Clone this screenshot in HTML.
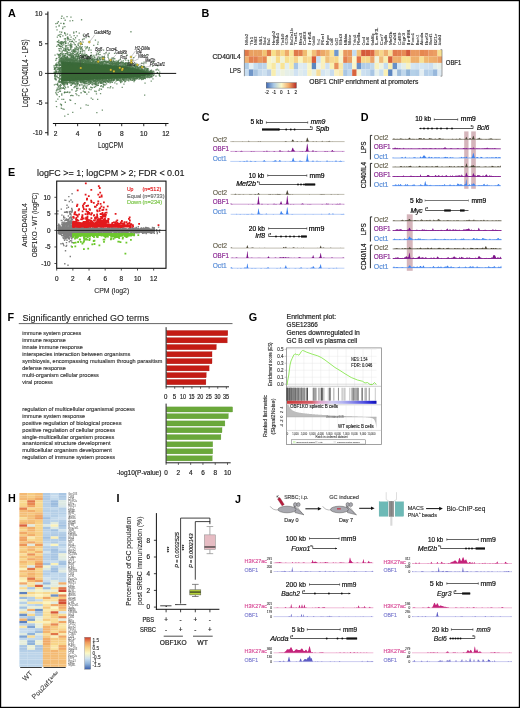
<!DOCTYPE html>
<html><head><meta charset="utf-8"><style>
html,body{margin:0;padding:0;background:#fff;}
body{width:520px;height:708px;overflow:hidden;}
svg{display:block;font-family:"Liberation Sans", sans-serif;will-change:transform;}
</style></head><body>
<svg width="520" height="708" viewBox="0 0 520 708">
<rect x="0" y="0" width="520" height="708" fill="#fff"/>
<text x="7.9" y="17.4" font-size="10.8" font-weight="bold">A</text><text x="201.5" y="17.2" font-size="10.8" font-weight="bold">B</text><text x="201.7" y="121" font-size="10.8" font-weight="bold">C</text><text x="360.8" y="121.1" font-size="10.8" font-weight="bold">D</text><text x="8.1" y="175.8" font-size="10.8" font-weight="bold">E</text><text x="7.5" y="321.3" font-size="10.8" font-weight="bold">F</text><text x="248.8" y="320.8" font-size="10.8" font-weight="bold">G</text><text x="8" y="502.2" font-size="10.8" font-weight="bold">H</text><text x="116.6" y="502.2" font-size="10.8" font-weight="bold">I</text><text x="235" y="502.7" font-size="10.8" font-weight="bold">J</text><path d="M61.1 61.4L62.4 61.5L63.7 61.6L65.0 61.7L66.3 61.8L67.7 61.9L69.0 62.0L70.3 62.1L71.6 62.2L72.9 62.3L74.2 62.4L75.5 62.5L76.8 62.6L78.1 62.7L79.4 62.8L80.8 62.9L82.1 63.0L83.4 63.1L84.7 63.2L86.0 63.3L87.3 63.4L88.6 63.5L89.9 63.6L91.2 63.7L92.5 63.8L93.9 63.9L95.2 64.0L96.5 64.1L97.8 64.2L99.1 64.3L100.4 64.4L101.7 64.5L103.0 64.6L104.3 64.7L105.6 64.8L106.9 64.9L108.3 65.0L109.6 65.1L110.9 65.2L112.2 65.3L113.5 65.4L114.8 65.5L116.1 65.6L117.4 65.7L118.7 65.8L120.0 65.9L121.4 66.0L122.7 66.1L124.0 66.2L125.3 66.3L126.6 66.6L127.9 66.9L129.2 67.2L130.5 67.4L131.8 67.7L133.1 68.0L134.4 68.3L135.8 68.6L137.1 68.9L138.4 69.2L139.7 69.7L141.0 70.1L142.3 70.6L143.6 71.0L144.9 71.4L146.2 71.8L147.5 72.2L148.9 72.5L150.2 72.9L151.5 73.4L151.5 73.4L150.2 74.5L148.9 74.9L147.5 75.3L146.2 75.6L144.9 76.0L143.6 76.2L142.3 76.5L141.0 76.8L139.7 77.1L138.4 77.3L137.1 77.4L135.8 77.5L134.4 77.5L133.1 77.6L131.8 77.7L130.5 77.7L129.2 77.8L127.9 77.9L126.6 77.9L125.3 78.0L124.0 78.0L122.7 78.1L121.4 78.2L120.0 78.2L118.7 78.3L117.4 78.4L116.1 78.4L114.8 78.5L113.5 78.6L112.2 78.7L110.9 78.7L109.6 78.8L108.3 78.9L106.9 78.9L105.6 79.0L104.3 79.1L103.0 79.1L101.7 79.2L100.4 79.3L99.1 79.4L97.8 79.4L96.5 79.5L95.2 79.6L93.9 79.6L92.5 79.7L91.2 79.8L89.9 79.8L88.6 79.9L87.3 80.0L86.0 80.1L84.7 80.1L83.4 80.2L82.1 80.3L80.8 80.3L79.4 80.4L78.1 80.5L76.8 80.5L75.5 80.6L74.2 80.7L72.9 80.7L71.6 80.8L70.3 80.9L69.0 81.0L67.7 81.0L66.3 81.1L65.0 81.2L63.7 81.2L62.4 81.3L61.1 81.4Z" fill="#3a6937"/><path d="M1458 757h13v13h-13zM1177 643h13v13h-13zM1094 822h13v13h-13zM887 838h13v13h-13zM582 538h13v13h-13zM641 550h13v13h-13zM732 591h13v13h-13zM768 632h13v13h-13zM1076 614h13v13h-13zM803 595h13v13h-13zM963 785h13v13h-13zM1329 687h13v13h-13zM1134 651h13v13h-13zM589 600h13v13h-13zM1349 778h13v13h-13zM646 812h13v13h-13zM765 838h13v13h-13zM1077 789h13v13h-13zM1259 622h13v13h-13zM893 586h13v13h-13zM723 591h13v13h-13zM837 821h13v13h-13zM798 549h13v13h-13zM606 412h13v13h-13zM953 610h13v13h-13zM948 802h13v13h-13zM1263 769h13v13h-13zM619 578h13v13h-13zM1079 796h13v13h-13zM659 593h13v13h-13zM978 647h13v13h-13zM1136 657h13v13h-13zM712 588h13v13h-13zM848 595h13v13h-13zM649 634h13v13h-13zM899 824h13v13h-13zM668 593h13v13h-13zM1097 777h13v13h-13zM992 795h13v13h-13zM1157 641h13v13h-13zM646 791h13v13h-13zM924 625h13v13h-13zM1100 860h13v13h-13zM1159 626h13v13h-13zM876 576h13v13h-13zM703 603h13v13h-13zM1048 610h13v13h-13zM797 799h13v13h-13zM618 560h13v13h-13zM608 581h13v13h-13zM599 645h13v13h-13zM1026 608h13v13h-13zM997 634h13v13h-13zM946 799h13v13h-13zM745 496h13v13h-13zM1408 651h13v13h-13zM1351 758h13v13h-13zM1337 796h13v13h-13zM999 929h13v13h-13zM1001 856h13v13h-13zM587 650h13v13h-13zM611 945h13v13h-13zM1232 657h13v13h-13zM1354 734h13v13h-13zM650 621h13v13h-13zM814 591h13v13h-13zM1064 795h13v13h-13zM963 587h13v13h-13zM1196 658h13v13h-13zM1166 631h13v13h-13zM1343 787h13v13h-13zM810 626h13v13h-13zM831 770h13v13h-13zM1332 669h13v13h-13zM626 601h13v13h-13zM691 791h13v13h-13zM1441 698h13v13h-13zM1024 603h13v13h-13zM1285 775h13v13h-13zM1017 628h13v13h-13zM1222 759h13v13h-13zM1203 670h13v13h-13zM1008 851h13v13h-13zM1260 667h13v13h-13zM1091 623h13v13h-13zM1244 642h13v13h-13zM1396 772h13v13h-13zM1147 627h13v13h-13zM584 699h13v13h-13zM585 669h13v13h-13zM1448 780h13v13h-13zM729 491h13v13h-13zM685 543h13v13h-13zM1323 595h13v13h-13zM640 572h13v13h-13zM894 647h13v13h-13zM631 606h13v13h-13zM597 422h13v13h-13zM1137 772h13v13h-13zM1091 617h13v13h-13zM614 821h13v13h-13zM808 576h13v13h-13zM1442 706h13v13h-13zM1277 660h13v13h-13zM1085 629h13v13h-13zM792 595h13v13h-13zM577 687h13v13h-13zM763 587h13v13h-13zM1062 807h13v13h-13zM768 827h13v13h-13zM1417 739h13v13h-13zM1442 714h13v13h-13zM1381 694h13v13h-13zM941 569h13v13h-13zM1006 768h13v13h-13zM991 790h13v13h-13zM795 473h13v13h-13zM1050 797h13v13h-13zM1204 647h13v13h-13zM1296 779h13v13h-13zM1553 755h13v13h-13zM1144 624h13v13h-13zM1130 575h13v13h-13zM1340 683h13v13h-13zM666 608h13v13h-13zM715 495h13v13h-13zM1070 771h13v13h-13zM973 801h13v13h-13zM972 601h13v13h-13zM1484 743h13v13h-13zM913 838h13v13h-13zM821 559h13v13h-13zM905 642h13v13h-13zM944 611h13v13h-13zM801 803h13v13h-13zM641 914h13v13h-13zM693 598h13v13h-13zM1091 800h13v13h-13zM782 950h13v13h-13zM1169 783h13v13h-13zM1115 625h13v13h-13zM678 595h13v13h-13zM775 805h13v13h-13zM607 1076h13v13h-13zM1384 684h13v13h-13zM738 626h13v13h-13zM667 593h13v13h-13zM995 539h13v13h-13zM1435 726h13v13h-13zM649 423h13v13h-13zM1435 706h13v13h-13zM650 379h13v13h-13zM594 722h13v13h-13zM552 921h13v13h-13zM635 499h13v13h-13zM716 832h13v13h-13zM1019 571h13v13h-13zM1470 769h13v13h-13zM566 763h13v13h-13zM822 625h13v13h-13zM962 638h13v13h-13zM1501 701h13v13h-13zM765 565h13v13h-13zM1369 768h13v13h-13zM824 811h13v13h-13zM1515 759h13v13h-13zM796 525h13v13h-13zM665 507h13v13h-13zM1202 640h13v13h-13zM1048 796h13v13h-13zM1382 673h13v13h-13zM739 797h13v13h-13zM1110 790h13v13h-13zM725 822h13v13h-13zM1132 782h13v13h-13zM766 576h13v13h-13zM787 786h13v13h-13zM585 592h13v13h-13zM614 616h13v13h-13zM707 815h13v13h-13zM1435 659h13v13h-13zM624 265h13v13h-13zM598 363h13v13h-13zM1587 748h13v13h-13zM1332 682h13v13h-13zM950 625h13v13h-13zM621 620h13v13h-13zM588 421h13v13h-13zM1357 685h13v13h-13zM1057 771h13v13h-13zM1332 672h13v13h-13zM909 818h13v13h-13zM937 803h13v13h-13zM1455 709h13v13h-13zM689 614h13v13h-13zM560 625h13v13h-13zM1501 715h13v13h-13zM610 590h13v13h-13zM609 792h13v13h-13zM1402 696h13v13h-13zM1260 645h13v13h-13zM1492 718h13v13h-13zM1318 636h13v13h-13zM1012 827h13v13h-13zM853 865h13v13h-13zM594 701h13v13h-13zM813 798h13v13h-13zM721 822h13v13h-13zM1004 769h13v13h-13zM1304 660h13v13h-13zM581 397h13v13h-13zM1282 667h13v13h-13zM1154 780h13v13h-13zM870 557h13v13h-13zM618 613h13v13h-13zM1180 798h13v13h-13zM1338 752h13v13h-13zM647 429h13v13h-13zM869 783h13v13h-13zM981 795h13v13h-13zM645 589h13v13h-13zM958 618h13v13h-13zM933 625h13v13h-13zM660 774h13v13h-13zM710 597h13v13h-13zM1164 635h13v13h-13zM777 539h13v13h-13zM747 439h13v13h-13zM856 619h13v13h-13zM616 538h13v13h-13zM730 507h13v13h-13zM1308 676h13v13h-13zM587 728h13v13h-13zM1103 643h13v13h-13zM1358 772h13v13h-13zM1166 668h13v13h-13zM1204 811h13v13h-13zM715 601h13v13h-13zM1234 771h13v13h-13zM666 918h13v13h-13zM745 599h13v13h-13zM1278 646h13v13h-13zM698 525h13v13h-13zM712 465h13v13h-13zM1094 600h13v13h-13zM1019 584h13v13h-13zM925 808h13v13h-13zM1022 778h13v13h-13zM719 632h13v13h-13zM1416 699h13v13h-13zM726 794h13v13h-13zM1423 759h13v13h-13zM818 486h13v13h-13zM1499 740h13v13h-13zM665 483h13v13h-13zM896 599h13v13h-13zM1305 630h13v13h-13zM631 493h13v13h-13zM1316 684h13v13h-13zM972 583h13v13h-13zM685 586h13v13h-13zM613 988h13v13h-13zM946 611h13v13h-13zM1090 625h13v13h-13zM1107 781h13v13h-13zM1279 604h13v13h-13zM1377 676h13v13h-13zM655 602h13v13h-13zM1369 680h13v13h-13zM1434 614h13v13h-13zM693 802h13v13h-13zM855 619h13v13h-13zM700 778h13v13h-13zM772 829h13v13h-13zM1108 609h13v13h-13zM1313 634h13v13h-13zM1508 765h13v13h-13zM588 590h13v13h-13zM564 691h13v13h-13zM1279 668h13v13h-13zM1193 622h13v13h-13zM1431 633h13v13h-13zM1009 765h13v13h-13zM873 572h13v13h-13zM1177 637h13v13h-13zM1466 755h13v13h-13zM1298 656h13v13h-13zM607 575h13v13h-13zM1327 753h13v13h-13zM1021 646h13v13h-13zM1007 773h13v13h-13zM1072 810h13v13h-13zM1298 773h13v13h-13zM671 490h13v13h-13zM1390 675h13v13h-13zM887 564h13v13h-13zM817 797h13v13h-13zM653 578h13v13h-13zM1103 797h13v13h-13zM709 551h13v13h-13zM1460 701h13v13h-13zM857 811h13v13h-13zM1249 652h13v13h-13zM547 786h13v13h-13zM1317 665h13v13h-13zM913 631h13v13h-13zM824 803h13v13h-13zM727 630h13v13h-13zM1251 664h13v13h-13zM733 602h13v13h-13zM611 793h13v13h-13zM821 551h13v13h-13zM771 579h13v13h-13zM998 783h13v13h-13zM1160 795h13v13h-13zM633 840h13v13h-13zM655 577h13v13h-13zM1165 642h13v13h-13zM1234 761h13v13h-13zM814 844h13v13h-13zM754 597h13v13h-13zM1504 732h13v13h-13zM541 672h13v13h-13zM639 411h13v13h-13zM746 801h13v13h-13zM1035 611h13v13h-13zM1460 543h13v13h-13zM544 724h13v13h-13zM584 803h13v13h-13zM918 596h13v13h-13zM922 791h13v13h-13zM1294 652h13v13h-13zM933 606h13v13h-13zM1028 800h13v13h-13zM693 611h13v13h-13zM669 600h13v13h-13zM1088 598h13v13h-13zM728 604h13v13h-13zM798 600h13v13h-13zM797 592h13v13h-13zM1017 1095h13v13h-13zM1509 755h13v13h-13zM812 601h13v13h-13zM872 768h13v13h-13zM1433 709h13v13h-13zM847 813h13v13h-13zM753 788h13v13h-13zM884 791h13v13h-13zM617 570h13v13h-13zM699 544h13v13h-13zM1328 673h13v13h-13zM715 410h13v13h-13zM1287 678h13v13h-13zM673 608h13v13h-13zM1410 769h13v13h-13zM664 605h13v13h-13zM598 840h13v13h-13zM606 613h13v13h-13zM1199 659h13v13h-13zM647 504h13v13h-13zM767 520h13v13h-13zM952 613h13v13h-13zM702 450h13v13h-13zM1410 685h13v13h-13zM755 620h13v13h-13zM885 802h13v13h-13zM605 621h13v13h-13zM761 821h13v13h-13zM732 825h13v13h-13zM1453 730h13v13h-13zM891 808h13v13h-13zM1063 616h13v13h-13zM1001 823h13v13h-13zM648 611h13v13h-13zM1225 760h13v13h-13zM1177 645h13v13h-13zM1207 659h13v13h-13zM974 635h13v13h-13zM553 783h13v13h-13zM790 602h13v13h-13zM899 555h13v13h-13zM1458 728h13v13h-13zM1510 717h13v13h-13zM630 227h13v13h-13zM561 662h13v13h-13zM1123 663h13v13h-13zM835 598h13v13h-13zM867 580h13v13h-13zM673 863h13v13h-13zM1239 660h13v13h-13zM1490 769h13v13h-13zM772 579h13v13h-13zM1062 604h13v13h-13zM1074 610h13v13h-13zM669 832h13v13h-13zM1125 639h13v13h-13zM1519 723h13v13h-13zM1380 767h13v13h-13zM719 576h13v13h-13zM788 532h13v13h-13zM878 623h13v13h-13zM1019 605h13v13h-13zM1252 669h13v13h-13zM1033 845h13v13h-13zM832 610h13v13h-13zM1136 795h13v13h-13zM1101 656h13v13h-13zM1528 750h13v13h-13zM1303 661h13v13h-13zM797 604h13v13h-13zM590 694h13v13h-13zM915 635h13v13h-13zM658 619h13v13h-13zM1136 644h13v13h-13zM774 777h13v13h-13zM593 613h13v13h-13zM875 627h13v13h-13zM894 827h13v13h-13zM736 831h13v13h-13zM1415 701h13v13h-13zM710 592h13v13h-13zM836 881h13v13h-13zM1087 777h13v13h-13zM1202 671h13v13h-13zM1003 622h13v13h-13zM939 629h13v13h-13zM1190 627h13v13h-13zM591 598h13v13h-13zM1510 741h13v13h-13zM1258 661h13v13h-13zM617 581h13v13h-13zM657 502h13v13h-13zM1138 774h13v13h-13zM1074 802h13v13h-13zM1142 639h13v13h-13zM848 917h13v13h-13zM1000 632h13v13h-13zM1383 696h13v13h-13zM1339 640h13v13h-13zM1223 644h13v13h-13zM1240 762h13v13h-13zM1062 637h13v13h-13zM1282 664h13v13h-13zM1090 810h13v13h-13zM1058 605h13v13h-13zM953 630h13v13h-13zM1057 781h13v13h-13zM1470 683h13v13h-13zM1455 713h13v13h-13zM634 1088h13v13h-13zM614 595h13v13h-13zM630 822h13v13h-13zM825 626h13v13h-13zM723 529h13v13h-13zM1280 678h13v13h-13zM1003 624h13v13h-13zM911 617h13v13h-13zM723 830h13v13h-13zM1014 557h13v13h-13zM1330 689h13v13h-13zM579 420h13v13h-13zM763 879h13v13h-13zM1175 663h13v13h-13zM813 809h13v13h-13zM1126 640h13v13h-13zM783 594h13v13h-13zM1452 745h13v13h-13zM1197 652h13v13h-13zM1226 630h13v13h-13zM623 589h13v13h-13zM733 506h13v13h-13zM691 596h13v13h-13zM1353 754h13v13h-13zM719 585h13v13h-13zM1255 662h13v13h-13zM1110 629h13v13h-13zM1319 761h13v13h-13zM1299 787h13v13h-13zM586 778h13v13h-13zM978 801h13v13h-13zM1074 657h13v13h-13zM1284 663h13v13h-13zM861 632h13v13h-13zM1218 779h13v13h-13zM1336 655h13v13h-13zM1160 781h13v13h-13zM848 787h13v13h-13zM1331 746h13v13h-13zM1041 781h13v13h-13zM608 605h13v13h-13zM594 878h13v13h-13zM805 621h13v13h-13zM672 795h13v13h-13zM1463 738h13v13h-13zM1127 631h13v13h-13zM797 605h13v13h-13zM852 618h13v13h-13zM1002 633h13v13h-13zM1189 666h13v13h-13zM893 818h13v13h-13zM757 311h13v13h-13zM1348 754h13v13h-13zM1315 666h13v13h-13zM864 564h13v13h-13zM1490 770h13v13h-13zM1462 686h13v13h-13zM804 921h13v13h-13zM1109 585h13v13h-13zM1436 766h13v13h-13zM1282 651h13v13h-13zM698 797h13v13h-13zM691 605h13v13h-13zM603 670h13v13h-13zM1405 774h13v13h-13zM828 600h13v13h-13zM1019 645h13v13h-13zM1295 665h13v13h-13zM638 793h13v13h-13zM1128 655h13v13h-13zM1427 657h13v13h-13zM1279 680h13v13h-13zM1037 636h13v13h-13zM700 949h13v13h-13zM790 616h13v13h-13zM738 793h13v13h-13zM854 608h13v13h-13zM616 588h13v13h-13zM1204 620h13v13h-13zM616 607h13v13h-13zM851 824h13v13h-13zM815 545h13v13h-13zM615 614h13v13h-13zM831 783h13v13h-13zM925 781h13v13h-13zM1313 658h13v13h-13zM902 788h13v13h-13zM899 632h13v13h-13zM1469 719h13v13h-13zM1518 739h13v13h-13zM634 821h13v13h-13zM627 562h13v13h-13zM607 433h13v13h-13zM693 517h13v13h-13zM671 537h13v13h-13zM771 616h13v13h-13zM632 415h13v13h-13zM1003 609h13v13h-13zM1028 776h13v13h-13zM565 664h13v13h-13zM824 415h13v13h-13zM1499 726h13v13h-13zM1094 652h13v13h-13zM945 636h13v13h-13zM607 582h13v13h-13zM1384 788h13v13h-13zM808 475h13v13h-13zM1042 637h13v13h-13zM786 607h13v13h-13zM1080 583h13v13h-13zM568 731h13v13h-13zM617 584h13v13h-13zM572 648h13v13h-13zM626 595h13v13h-13zM1092 609h13v13h-13zM642 260h13v13h-13zM1379 683h13v13h-13zM847 633h13v13h-13zM1004 812h13v13h-13zM1230 625h13v13h-13zM634 877h13v13h-13zM639 599h13v13h-13zM1218 533h13v13h-13zM819 532h13v13h-13zM642 562h13v13h-13zM609 593h13v13h-13zM728 573h13v13h-13zM743 615h13v13h-13zM1300 777h13v13h-13zM954 845h13v13h-13zM710 948h13v13h-13zM703 586h13v13h-13zM731 315h13v13h-13zM577 211h13v13h-13zM909 805h13v13h-13zM905 815h13v13h-13zM1155 770h13v13h-13zM906 552h13v13h-13zM1323 683h13v13h-13zM923 818h13v13h-13zM614 600h13v13h-13zM943 606h13v13h-13zM1425 784h13v13h-13zM589 816h13v13h-13zM610 578h13v13h-13zM594 504h13v13h-13zM686 597h13v13h-13zM788 791h13v13h-13zM1263 636h13v13h-13zM1169 636h13v13h-13zM1219 664h13v13h-13zM862 608h13v13h-13zM747 596h13v13h-13zM1471 728h13v13h-13zM611 597h13v13h-13zM1479 768h13v13h-13zM1020 638h13v13h-13zM582 668h13v13h-13zM1372 687h13v13h-13zM1353 682h13v13h-13zM1014 646h13v13h-13zM745 443h13v13h-13zM1031 759h13v13h-13zM622 825h13v13h-13zM942 620h13v13h-13zM915 635h13v13h-13zM1329 685h13v13h-13zM844 631h13v13h-13zM741 543h13v13h-13zM840 502h13v13h-13zM1198 619h13v13h-13zM986 573h13v13h-13zM637 575h13v13h-13zM766 809h13v13h-13zM1208 647h13v13h-13zM584 770h13v13h-13zM585 886h13v13h-13zM1113 796h13v13h-13zM1464 698h13v13h-13zM808 619h13v13h-13zM1001 627h13v13h-13zM587 743h13v13h-13zM1451 720h13v13h-13zM1084 659h13v13h-13zM708 586h13v13h-13zM610 816h13v13h-13zM892 798h13v13h-13zM1294 675h13v13h-13zM700 811h13v13h-13zM1185 595h13v13h-13zM703 583h13v13h-13zM1122 625h13v13h-13zM1264 675h13v13h-13zM1074 566h13v13h-13zM973 848h13v13h-13zM1319 673h13v13h-13zM1426 693h13v13h-13zM1385 771h13v13h-13zM827 794h13v13h-13zM775 783h13v13h-13zM657 596h13v13h-13zM1411 718h13v13h-13zM1100 652h13v13h-13zM1475 710h13v13h-13zM701 818h13v13h-13zM1423 687h13v13h-13zM589 683h13v13h-13zM984 605h13v13h-13zM670 606h13v13h-13zM1431 767h13v13h-13zM1271 772h13v13h-13zM718 570h13v13h-13zM1089 776h13v13h-13zM1359 676h13v13h-13zM543 731h13v13h-13zM1235 764h13v13h-13zM679 586h13v13h-13zM793 618h13v13h-13zM785 596h13v13h-13zM1403 773h13v13h-13zM825 596h13v13h-13zM692 993h13v13h-13zM792 589h13v13h-13zM865 470h13v13h-13zM1027 632h13v13h-13zM879 586h13v13h-13zM788 610h13v13h-13zM1446 763h13v13h-13zM1226 657h13v13h-13zM1078 804h13v13h-13zM1022 862h13v13h-13zM1501 708h13v13h-13zM894 789h13v13h-13zM1003 775h13v13h-13zM1413 690h13v13h-13zM812 616h13v13h-13zM1369 669h13v13h-13zM714 796h13v13h-13zM549 675h13v13h-13zM880 790h13v13h-13zM1220 784h13v13h-13zM969 616h13v13h-13zM934 795h13v13h-13zM1404 769h13v13h-13zM1164 653h13v13h-13zM1194 779h13v13h-13zM680 592h13v13h-13zM832 847h13v13h-13zM1018 773h13v13h-13zM807 630h13v13h-13zM849 808h13v13h-13zM1258 770h13v13h-13zM654 573h13v13h-13zM1443 692h13v13h-13zM770 628h13v13h-13zM1028 632h13v13h-13zM611 932h13v13h-13zM1033 839h13v13h-13zM964 761h13v13h-13zM1502 716h13v13h-13zM941 636h13v13h-13zM603 871h13v13h-13zM697 785h13v13h-13zM847 633h13v13h-13zM1516 714h13v13h-13zM744 583h13v13h-13zM1254 630h13v13h-13zM1362 762h13v13h-13zM691 585h13v13h-13zM1307 635h13v13h-13zM1432 716h13v13h-13zM1197 587h13v13h-13zM821 804h13v13h-13zM712 825h13v13h-13zM616 533h13v13h-13zM1421 767h13v13h-13zM1196 764h13v13h-13zM904 890h13v13h-13zM679 378h13v13h-13zM1411 740h13v13h-13zM955 778h13v13h-13zM1023 781h13v13h-13zM1465 694h13v13h-13zM571 672h13v13h-13zM1295 636h13v13h-13zM995 617h13v13h-13zM907 786h13v13h-13zM858 539h13v13h-13zM729 559h13v13h-13zM605 574h13v13h-13zM1045 641h13v13h-13zM1101 801h13v13h-13zM763 614h13v13h-13zM964 835h13v13h-13zM964 804h13v13h-13zM617 876h13v13h-13zM878 800h13v13h-13zM878 823h13v13h-13zM875 605h13v13h-13zM1167 636h13v13h-13zM926 617h13v13h-13zM970 658h13v13h-13zM818 554h13v13h-13zM569 835h13v13h-13zM945 591h13v13h-13zM907 768h13v13h-13zM649 870h13v13h-13zM715 616h13v13h-13zM559 1059h13v13h-13zM591 780h13v13h-13zM545 743h13v13h-13zM861 628h13v13h-13zM1179 760h13v13h-13zM1460 754h13v13h-13zM611 804h13v13h-13zM608 598h13v13h-13zM1349 672h13v13h-13zM973 634h13v13h-13zM1130 647h13v13h-13zM797 483h13v13h-13zM669 513h13v13h-13zM1177 792h13v13h-13zM825 813h13v13h-13zM1334 759h13v13h-13zM624 603h13v13h-13zM1074 794h13v13h-13zM806 615h13v13h-13zM566 646h13v13h-13zM770 558h13v13h-13zM814 503h13v13h-13zM1053 640h13v13h-13zM698 815h13v13h-13zM1240 783h13v13h-13zM651 487h13v13h-13zM789 462h13v13h-13zM774 519h13v13h-13zM713 891h13v13h-13zM598 750h13v13h-13zM1209 632h13v13h-13zM859 828h13v13h-13zM812 607h13v13h-13zM1477 745h13v13h-13zM1394 763h13v13h-13zM962 1120h13v13h-13zM1293 776h13v13h-13zM600 714h13v13h-13zM651 819h13v13h-13zM938 629h13v13h-13zM647 1016h13v13h-13zM1394 696h13v13h-13zM608 625h13v13h-13zM971 823h13v13h-13zM1018 631h13v13h-13zM702 481h13v13h-13zM624 592h13v13h-13zM1019 665h13v13h-13zM1218 651h13v13h-13zM1214 684h13v13h-13zM1463 715h13v13h-13zM600 716h13v13h-13zM654 918h13v13h-13zM727 551h13v13h-13zM1332 668h13v13h-13zM684 630h13v13h-13zM606 782h13v13h-13zM648 530h13v13h-13zM614 585h13v13h-13zM1131 606h13v13h-13zM711 508h13v13h-13zM1074 550h13v13h-13zM1163 777h13v13h-13zM1228 788h13v13h-13zM665 554h13v13h-13zM841 623h13v13h-13zM686 765h13v13h-13zM989 641h13v13h-13zM802 487h13v13h-13zM1022 644h13v13h-13zM557 639h13v13h-13zM884 635h13v13h-13zM704 788h13v13h-13zM1264 669h13v13h-13zM1191 772h13v13h-13zM1167 655h13v13h-13zM554 706h13v13h-13zM1051 610h13v13h-13zM1185 656h13v13h-13zM619 827h13v13h-13zM1147 766h13v13h-13zM1342 655h13v13h-13zM1447 686h13v13h-13zM795 611h13v13h-13zM1410 703h13v13h-13zM812 543h13v13h-13zM916 871h13v13h-13zM1033 588h13v13h-13zM616 447h13v13h-13zM920 635h13v13h-13zM587 959h13v13h-13zM887 647h13v13h-13zM920 586h13v13h-13zM799 510h13v13h-13zM1451 703h13v13h-13zM881 914h13v13h-13zM1041 812h13v13h-13zM776 547h13v13h-13zM857 872h13v13h-13zM788 609h13v13h-13zM1203 777h13v13h-13zM770 828h13v13h-13zM1373 715h13v13h-13zM1440 747h13v13h-13zM647 491h13v13h-13zM991 803h13v13h-13zM922 607h13v13h-13zM1452 740h13v13h-13zM612 794h13v13h-13zM1032 806h13v13h-13zM555 1007h13v13h-13zM1383 772h13v13h-13zM1436 760h13v13h-13zM1414 695h13v13h-13zM603 616h13v13h-13zM1153 805h13v13h-13zM1501 704h13v13h-13zM909 591h13v13h-13zM1518 742h13v13h-13zM1187 633h13v13h-13zM884 580h13v13h-13zM1011 611h13v13h-13zM887 645h13v13h-13zM707 559h13v13h-13zM1040 787h13v13h-13zM686 621h13v13h-13zM1241 629h13v13h-13zM1369 662h13v13h-13zM879 796h13v13h-13zM1364 781h13v13h-13zM1305 696h13v13h-13zM950 778h13v13h-13zM642 500h13v13h-13zM954 820h13v13h-13zM1274 624h13v13h-13zM567 226h13v13h-13zM1103 640h13v13h-13zM815 609h13v13h-13zM895 619h13v13h-13zM804 795h13v13h-13zM1428 731h13v13h-13zM729 617h13v13h-13zM1515 745h13v13h-13zM866 461h13v13h-13zM599 1035h13v13h-13zM1333 700h13v13h-13zM857 576h13v13h-13zM839 592h13v13h-13zM1521 733h13v13h-13zM747 512h13v13h-13zM660 529h13v13h-13zM1336 683h13v13h-13zM1408 781h13v13h-13zM1005 770h13v13h-13zM654 602h13v13h-13zM625 597h13v13h-13zM1175 785h13v13h-13zM775 787h13v13h-13zM1377 772h13v13h-13zM710 781h13v13h-13zM1335 761h13v13h-13zM1149 663h13v13h-13zM547 702h13v13h-13zM1335 781h13v13h-13zM626 876h13v13h-13zM874 554h13v13h-13zM703 844h13v13h-13zM1303 311h13v13h-13zM933 639h13v13h-13zM658 816h13v13h-13zM605 805h13v13h-13zM1034 665h13v13h-13zM985 635h13v13h-13zM814 565h13v13h-13zM1326 699h13v13h-13zM1063 619h13v13h-13zM641 591h13v13h-13zM1321 797h13v13h-13zM551 720h13v13h-13zM1423 703h13v13h-13zM1401 780h13v13h-13zM787 588h13v13h-13zM1065 812h13v13h-13zM824 818h13v13h-13zM1298 657h13v13h-13zM1338 796h13v13h-13zM1046 649h13v13h-13zM1024 795h13v13h-13zM832 781h13v13h-13zM952 789h13v13h-13zM720 601h13v13h-13zM847 811h13v13h-13zM1395 667h13v13h-13zM1178 677h13v13h-13zM1285 766h13v13h-13zM829 816h13v13h-13zM817 602h13v13h-13zM626 571h13v13h-13zM1289 688h13v13h-13zM610 808h13v13h-13zM567 840h13v13h-13zM1008 612h13v13h-13zM1427 767h13v13h-13zM1168 796h13v13h-13zM744 625h13v13h-13zM764 602h13v13h-13zM1273 655h13v13h-13zM1077 794h13v13h-13zM571 891h13v13h-13zM1030 780h13v13h-13zM903 784h13v13h-13zM1489 724h13v13h-13zM837 590h13v13h-13zM1300 784h13v13h-13zM666 830h13v13h-13zM602 776h13v13h-13zM604 615h13v13h-13zM864 613h13v13h-13zM1285 620h13v13h-13zM881 498h13v13h-13zM853 617h13v13h-13zM567 411h13v13h-13zM988 664h13v13h-13zM659 529h13v13h-13zM699 595h13v13h-13zM1225 773h13v13h-13zM1363 751h13v13h-13zM1498 746h13v13h-13zM670 376h13v13h-13zM822 568h13v13h-13zM1403 740h13v13h-13zM1176 626h13v13h-13zM593 637h13v13h-13zM597 672h13v13h-13zM850 641h13v13h-13zM627 614h13v13h-13zM943 815h13v13h-13zM1139 786h13v13h-13zM685 818h13v13h-13zM1181 619h13v13h-13zM1445 695h13v13h-13zM966 642h13v13h-13zM1523 704h13v13h-13zM1486 751h13v13h-13zM694 827h13v13h-13zM1162 832h13v13h-13zM573 770h13v13h-13zM1031 762h13v13h-13zM720 621h13v13h-13zM1141 630h13v13h-13zM577 617h13v13h-13zM881 594h13v13h-13zM734 573h13v13h-13zM656 824h13v13h-13zM657 502h13v13h-13zM771 825h13v13h-13zM1033 634h13v13h-13zM1313 677h13v13h-13zM1180 633h13v13h-13zM1394 697h13v13h-13zM1353 661h13v13h-13zM657 574h13v13h-13zM814 558h13v13h-13zM1109 629h13v13h-13zM923 591h13v13h-13zM962 850h13v13h-13zM567 535h13v13h-13zM1395 778h13v13h-13zM663 582h13v13h-13zM1076 779h13v13h-13zM602 527h13v13h-13zM1254 655h13v13h-13zM738 610h13v13h-13zM1478 723h13v13h-13zM952 646h13v13h-13zM1338 781h13v13h-13zM1016 797h13v13h-13zM559 934h13v13h-13zM992 565h13v13h-13zM1161 617h13v13h-13zM889 631h13v13h-13zM916 632h13v13h-13zM1331 569h13v13h-13zM829 822h13v13h-13zM681 655h13v13h-13zM576 541h13v13h-13zM1329 773h13v13h-13zM943 603h13v13h-13zM1330 772h13v13h-13zM642 856h13v13h-13zM1468 752h13v13h-13zM997 789h13v13h-13zM1008 886h13v13h-13zM590 453h13v13h-13zM702 587h13v13h-13zM648 395h13v13h-13zM1214 633h13v13h-13zM1420 701h13v13h-13zM625 875h13v13h-13zM1211 623h13v13h-13zM1168 634h13v13h-13zM1320 777h13v13h-13zM1069 812h13v13h-13zM703 600h13v13h-13zM799 633h13v13h-13zM784 618h13v13h-13zM1364 770h13v13h-13zM952 610h13v13h-13zM732 593h13v13h-13zM638 607h13v13h-13zM862 935h13v13h-13zM1337 715h13v13h-13zM1022 561h13v13h-13zM744 603h13v13h-13zM820 609h13v13h-13zM839 599h13v13h-13zM605 597h13v13h-13zM1235 625h13v13h-13zM1030 787h13v13h-13zM652 579h13v13h-13zM948 395h13v13h-13zM833 795h13v13h-13zM1260 762h13v13h-13zM863 618h13v13h-13zM607 618h13v13h-13zM553 668h13v13h-13zM669 567h13v13h-13zM722 804h13v13h-13zM1355 668h13v13h-13zM723 950h13v13h-13zM1112 777h13v13h-13zM641 325h13v13h-13zM1059 799h13v13h-13zM788 790h13v13h-13zM1375 694h13v13h-13zM826 499h13v13h-13zM1038 761h13v13h-13zM837 600h13v13h-13zM844 609h13v13h-13zM1434 749h13v13h-13zM800 803h13v13h-13zM773 798h13v13h-13zM626 605h13v13h-13zM970 791h13v13h-13zM824 603h13v13h-13zM718 554h13v13h-13zM1240 812h13v13h-13zM853 789h13v13h-13zM715 579h13v13h-13zM593 582h13v13h-13zM859 615h13v13h-13zM1059 622h13v13h-13zM978 630h13v13h-13zM793 615h13v13h-13zM765 352h13v13h-13zM549 646h13v13h-13zM1304 673h13v13h-13zM709 537h13v13h-13zM1465 705h13v13h-13zM670 599h13v13h-13zM652 411h13v13h-13zM986 807h13v13h-13zM1460 683h13v13h-13zM576 814h13v13h-13zM1129 788h13v13h-13zM1428 713h13v13h-13zM1500 753h13v13h-13zM675 865h13v13h-13zM859 609h13v13h-13zM708 568h13v13h-13zM1141 782h13v13h-13zM631 417h13v13h-13zM864 852h13v13h-13zM800 820h13v13h-13zM753 906h13v13h-13zM724 589h13v13h-13zM1245 639h13v13h-13zM1229 751h13v13h-13zM641 567h13v13h-13zM673 469h13v13h-13zM852 599h13v13h-13zM1227 789h13v13h-13zM729 805h13v13h-13zM773 520h13v13h-13zM976 609h13v13h-13zM1320 771h13v13h-13zM853 615h13v13h-13zM1399 761h13v13h-13zM851 594h13v13h-13zM614 517h13v13h-13zM974 659h13v13h-13zM1103 775h13v13h-13zM1005 617h13v13h-13zM1490 719h13v13h-13zM760 485h13v13h-13zM643 795h13v13h-13zM1291 774h13v13h-13zM734 512h13v13h-13zM1413 711h13v13h-13zM1453 757h13v13h-13zM587 811h13v13h-13zM817 613h13v13h-13zM1006 660h13v13h-13zM1259 664h13v13h-13zM708 797h13v13h-13zM556 581h13v13h-13zM832 550h13v13h-13zM1020 571h13v13h-13zM676 445h13v13h-13zM1021 614h13v13h-13zM1315 769h13v13h-13zM564 292h13v13h-13zM556 262h13v13h-13zM794 550h13v13h-13zM851 596h13v13h-13zM941 590h13v13h-13zM850 553h13v13h-13zM800 480h13v13h-13zM954 817h13v13h-13zM584 617h13v13h-13zM705 365h13v13h-13zM906 975h13v13h-13zM1087 624h13v13h-13zM1510 764h13v13h-13zM636 577h13v13h-13zM573 724h13v13h-13zM1168 648h13v13h-13zM1129 796h13v13h-13zM1102 639h13v13h-13zM640 320h13v13h-13zM1097 776h13v13h-13zM686 620h13v13h-13zM572 670h13v13h-13zM1151 653h13v13h-13zM696 489h13v13h-13zM1174 663h13v13h-13zM1024 784h13v13h-13zM683 813h13v13h-13zM831 537h13v13h-13zM1320 785h13v13h-13zM1333 791h13v13h-13zM949 859h13v13h-13zM587 792h13v13h-13zM672 473h13v13h-13zM1442 691h13v13h-13zM1020 787h13v13h-13zM1301 667h13v13h-13zM643 503h13v13h-13zM756 848h13v13h-13zM1109 789h13v13h-13zM597 859h13v13h-13zM1434 705h13v13h-13zM598 675h13v13h-13zM821 628h13v13h-13zM979 828h13v13h-13zM1130 639h13v13h-13zM1003 795h13v13h-13zM1336 645h13v13h-13zM1516 735h13v13h-13zM944 804h13v13h-13zM1437 765h13v13h-13zM872 597h13v13h-13zM924 613h13v13h-13zM957 762h13v13h-13zM1580 694h13v13h-13zM650 345h13v13h-13zM1439 690h13v13h-13zM953 782h13v13h-13zM1033 660h13v13h-13zM698 607h13v13h-13zM872 615h13v13h-13zM751 555h13v13h-13zM1332 692h13v13h-13zM905 573h13v13h-13zM638 587h13v13h-13zM1307 632h13v13h-13zM786 325h13v13h-13zM1436 686h13v13h-13zM754 802h13v13h-13zM1075 775h13v13h-13zM1265 648h13v13h-13zM614 598h13v13h-13zM1340 641h13v13h-13zM1422 686h13v13h-13zM1113 611h13v13h-13zM943 830h13v13h-13zM945 839h13v13h-13zM974 628h13v13h-13zM669 517h13v13h-13zM662 514h13v13h-13zM825 794h13v13h-13zM819 387h13v13h-13zM1073 869h13v13h-13zM1426 692h13v13h-13zM1442 776h13v13h-13zM992 640h13v13h-13zM1045 794h13v13h-13zM958 933h13v13h-13zM891 617h13v13h-13zM614 596h13v13h-13zM1133 633h13v13h-13zM1411 707h13v13h-13zM598 906h13v13h-13zM1272 652h13v13h-13zM1062 621h13v13h-13zM697 810h13v13h-13zM819 803h13v13h-13zM944 586h13v13h-13zM796 480h13v13h-13zM1046 807h13v13h-13zM792 841h13v13h-13zM869 617h13v13h-13zM861 589h13v13h-13zM1304 642h13v13h-13zM1147 667h13v13h-13zM1324 666h13v13h-13zM1118 637h13v13h-13zM1113 756h13v13h-13zM690 409h13v13h-13zM783 779h13v13h-13zM972 661h13v13h-13zM1382 700h13v13h-13zM1123 644h13v13h-13zM865 615h13v13h-13zM1341 786h13v13h-13zM922 605h13v13h-13zM808 805h13v13h-13zM1283 642h13v13h-13zM691 799h13v13h-13zM1142 823h13v13h-13zM692 791h13v13h-13zM622 429h13v13h-13zM887 471h13v13h-13zM929 609h13v13h-13zM1566 684h13v13h-13zM1375 750h13v13h-13zM1004 570h13v13h-13zM879 632h13v13h-13zM681 794h13v13h-13zM932 617h13v13h-13zM551 789h13v13h-13zM931 447h13v13h-13zM1428 775h13v13h-13zM599 649h13v13h-13zM1391 662h13v13h-13zM765 800h13v13h-13zM1354 672h13v13h-13zM1213 655h13v13h-13zM1111 774h13v13h-13zM600 463h13v13h-13zM1074 810h13v13h-13zM1203 794h13v13h-13zM707 628h13v13h-13zM1567 721h13v13h-13zM1388 776h13v13h-13zM1439 688h13v13h-13zM1304 643h13v13h-13zM1046 819h13v13h-13zM895 613h13v13h-13zM805 923h13v13h-13zM652 834h13v13h-13zM854 627h13v13h-13zM828 565h13v13h-13zM1141 656h13v13h-13zM1352 628h13v13h-13zM889 622h13v13h-13zM873 607h13v13h-13zM905 620h13v13h-13zM638 836h13v13h-13zM1492 726h13v13h-13zM1148 781h13v13h-13zM1088 794h13v13h-13zM695 442h13v13h-13zM851 814h13v13h-13zM1516 729h13v13h-13zM1163 635h13v13h-13zM611 795h13v13h-13zM638 923h13v13h-13zM1460 753h13v13h-13zM1241 780h13v13h-13zM758 458h13v13h-13zM1305 710h13v13h-13zM843 808h13v13h-13zM600 783h13v13h-13zM810 535h13v13h-13zM1228 797h13v13h-13zM1046 843h13v13h-13zM1365 663h13v13h-13zM986 666h13v13h-13zM670 583h13v13h-13zM971 436h13v13h-13zM1029 808h13v13h-13zM619 826h13v13h-13zM1215 620h13v13h-13zM1094 872h13v13h-13zM1414 664h13v13h-13zM671 815h13v13h-13zM790 638h13v13h-13zM968 574h13v13h-13zM669 537h13v13h-13zM963 801h13v13h-13zM862 544h13v13h-13zM610 811h13v13h-13zM633 831h13v13h-13zM797 630h13v13h-13zM768 487h13v13h-13zM543 753h13v13h-13zM1494 726h13v13h-13zM802 811h13v13h-13zM1140 661h13v13h-13zM1004 622h13v13h-13zM720 199h13v13h-13zM1103 780h13v13h-13zM1035 765h13v13h-13zM1495 722h13v13h-13zM1499 713h13v13h-13zM823 808h13v13h-13zM1115 616h13v13h-13zM782 561h13v13h-13zM1374 744h13v13h-13zM732 824h13v13h-13zM1441 677h13v13h-13zM924 787h13v13h-13zM696 610h13v13h-13zM1063 608h13v13h-13zM553 838h13v13h-13zM977 528h13v13h-13zM698 619h13v13h-13zM1381 705h13v13h-13zM822 622h13v13h-13zM774 808h13v13h-13zM683 624h13v13h-13zM1016 583h13v13h-13zM1083 790h13v13h-13zM658 482h13v13h-13zM906 870h13v13h-13zM1493 708h13v13h-13zM871 801h13v13h-13zM830 799h13v13h-13zM1032 769h13v13h-13zM789 621h13v13h-13zM1067 774h13v13h-13zM752 790h13v13h-13zM991 882h13v13h-13zM619 568h13v13h-13zM1097 624h13v13h-13zM844 545h13v13h-13zM902 809h13v13h-13zM1142 622h13v13h-13zM777 788h13v13h-13zM624 421h13v13h-13zM1094 652h13v13h-13zM651 577h13v13h-13zM659 590h13v13h-13zM1379 688h13v13h-13zM684 495h13v13h-13zM1364 715h13v13h-13zM1334 810h13v13h-13zM795 638h13v13h-13zM1188 777h13v13h-13zM1174 611h13v13h-13zM986 619h13v13h-13zM1381 687h13v13h-13zM1591 715h13v13h-13zM1459 766h13v13h-13zM587 809h13v13h-13zM569 641h13v13h-13zM1258 794h13v13h-13zM598 588h13v13h-13zM579 442h13v13h-13zM1134 664h13v13h-13zM885 838h13v13h-13zM1412 626h13v13h-13zM729 585h13v13h-13zM1361 711h13v13h-13zM561 644h13v13h-13zM835 775h13v13h-13zM743 575h13v13h-13zM1299 772h13v13h-13zM595 696h13v13h-13zM971 654h13v13h-13zM709 557h13v13h-13zM593 602h13v13h-13zM877 605h13v13h-13zM1154 638h13v13h-13zM699 817h13v13h-13zM1215 763h13v13h-13zM1132 782h13v13h-13zM595 455h13v13h-13zM1438 686h13v13h-13zM777 504h13v13h-13zM972 611h13v13h-13zM886 652h13v13h-13zM1422 769h13v13h-13zM693 344h13v13h-13zM596 550h13v13h-13zM810 631h13v13h-13zM1255 783h13v13h-13zM991 640h13v13h-13zM829 590h13v13h-13zM858 792h13v13h-13zM622 822h13v13h-13zM1176 773h13v13h-13zM639 826h13v13h-13zM1247 639h13v13h-13zM741 537h13v13h-13zM1164 658h13v13h-13zM750 830h13v13h-13zM652 503h13v13h-13zM992 587h13v13h-13zM1078 646h13v13h-13zM624 809h13v13h-13zM1230 767h13v13h-13zM1027 790h13v13h-13zM767 535h13v13h-13zM1283 668h13v13h-13zM941 629h13v13h-13zM537 686h13v13h-13zM693 643h13v13h-13zM1209 643h13v13h-13zM728 588h13v13h-13zM704 814h13v13h-13zM595 412h13v13h-13zM1265 546h13v13h-13zM905 804h13v13h-13zM613 575h13v13h-13zM1040 570h13v13h-13zM1354 691h13v13h-13zM839 915h13v13h-13zM1032 577h13v13h-13zM1117 816h13v13h-13zM764 827h13v13h-13zM905 813h13v13h-13zM904 495h13v13h-13zM1508 724h13v13h-13zM592 313h13v13h-13zM1335 665h13v13h-13zM664 593h13v13h-13zM887 822h13v13h-13zM883 614h13v13h-13zM716 508h13v13h-13zM1337 697h13v13h-13zM761 598h13v13h-13zM909 568h13v13h-13zM709 657h13v13h-13zM646 580h13v13h-13zM558 713h13v13h-13zM608 177h13v13h-13z" fill="#3a6a3a" fill-opacity="0.72" transform="scale(0.1)"/><path d="M921 797h13v13h-13zM1088 774h13v13h-13zM587 729h13v13h-13zM757 605h13v13h-13zM1399 657h13v13h-13zM932 547h13v13h-13zM768 618h13v13h-13zM670 375h13v13h-13zM1015 783h13v13h-13zM739 862h13v13h-13zM998 670h13v13h-13zM1227 620h13v13h-13zM1154 754h13v13h-13zM1025 612h13v13h-13zM1352 690h13v13h-13zM1104 665h13v13h-13zM1276 647h13v13h-13zM775 432h13v13h-13zM597 678h13v13h-13zM1469 697h13v13h-13zM674 1137h13v13h-13zM1435 752h13v13h-13zM1480 696h13v13h-13zM883 593h13v13h-13zM842 852h13v13h-13zM853 646h13v13h-13zM603 740h13v13h-13zM609 597h13v13h-13zM1164 793h13v13h-13zM567 875h13v13h-13zM913 636h13v13h-13zM1153 647h13v13h-13zM1503 707h13v13h-13zM1293 782h13v13h-13zM1076 616h13v13h-13zM1041 640h13v13h-13zM651 569h13v13h-13zM1028 821h13v13h-13zM668 829h13v13h-13zM940 905h13v13h-13zM671 362h13v13h-13zM736 803h13v13h-13zM684 391h13v13h-13zM1083 644h13v13h-13zM1135 792h13v13h-13zM913 628h13v13h-13zM1215 809h13v13h-13zM1246 760h13v13h-13zM920 824h13v13h-13zM1184 758h13v13h-13zM1109 813h13v13h-13zM1404 677h13v13h-13zM1143 609h13v13h-13zM956 838h13v13h-13zM1163 778h13v13h-13zM575 918h13v13h-13zM667 839h13v13h-13zM1499 732h13v13h-13zM1158 646h13v13h-13zM1368 677h13v13h-13zM1459 721h13v13h-13zM714 564h13v13h-13zM746 812h13v13h-13zM1369 677h13v13h-13zM872 782h13v13h-13zM558 715h13v13h-13zM982 539h13v13h-13zM1236 799h13v13h-13zM1034 783h13v13h-13zM857 622h13v13h-13zM1190 646h13v13h-13zM1332 764h13v13h-13zM914 636h13v13h-13zM596 677h13v13h-13zM1211 607h13v13h-13zM608 1050h13v13h-13zM1112 617h13v13h-13zM774 835h13v13h-13zM778 617h13v13h-13zM697 790h13v13h-13zM975 631h13v13h-13zM915 622h13v13h-13zM1398 667h13v13h-13zM1045 786h13v13h-13zM894 616h13v13h-13zM657 585h13v13h-13zM916 794h13v13h-13zM1278 744h13v13h-13zM1344 651h13v13h-13zM1013 809h13v13h-13zM642 610h13v13h-13zM991 802h13v13h-13zM643 330h13v13h-13zM1464 692h13v13h-13zM1282 779h13v13h-13zM1189 659h13v13h-13zM846 599h13v13h-13zM1428 754h13v13h-13zM720 782h13v13h-13zM980 781h13v13h-13zM1094 799h13v13h-13zM885 363h13v13h-13zM1402 722h13v13h-13zM615 506h13v13h-13zM763 897h13v13h-13zM1247 770h13v13h-13zM1486 754h13v13h-13zM819 512h13v13h-13zM864 606h13v13h-13zM899 614h13v13h-13zM692 916h13v13h-13zM610 610h13v13h-13zM583 566h13v13h-13zM846 634h13v13h-13zM1172 779h13v13h-13zM1428 782h13v13h-13zM632 598h13v13h-13zM741 475h13v13h-13zM1292 776h13v13h-13zM1041 809h13v13h-13zM878 811h13v13h-13zM816 604h13v13h-13zM1115 661h13v13h-13zM1532 717h13v13h-13zM712 441h13v13h-13zM1173 766h13v13h-13zM812 590h13v13h-13zM760 605h13v13h-13zM984 778h13v13h-13zM1400 680h13v13h-13zM1357 781h13v13h-13zM567 364h13v13h-13zM727 609h13v13h-13zM1097 652h13v13h-13zM1323 670h13v13h-13zM661 619h13v13h-13zM819 781h13v13h-13zM1255 781h13v13h-13zM882 637h13v13h-13zM674 818h13v13h-13zM855 646h13v13h-13zM1269 645h13v13h-13zM944 796h13v13h-13zM926 582h13v13h-13zM723 594h13v13h-13zM622 353h13v13h-13zM626 530h13v13h-13zM691 553h13v13h-13zM970 627h13v13h-13zM1396 657h13v13h-13zM1252 781h13v13h-13zM718 592h13v13h-13zM705 819h13v13h-13zM1311 777h13v13h-13zM625 811h13v13h-13zM845 596h13v13h-13zM1331 688h13v13h-13zM1052 615h13v13h-13zM1170 763h13v13h-13zM1480 696h13v13h-13zM998 620h13v13h-13zM763 879h13v13h-13zM619 834h13v13h-13zM734 870h13v13h-13zM668 335h13v13h-13zM931 808h13v13h-13zM950 765h13v13h-13zM1278 766h13v13h-13zM785 559h13v13h-13zM600 673h13v13h-13zM1196 617h13v13h-13zM876 621h13v13h-13zM1002 593h13v13h-13zM1190 652h13v13h-13zM1266 666h13v13h-13zM1267 659h13v13h-13zM822 589h13v13h-13zM576 347h13v13h-13zM1122 625h13v13h-13zM1140 768h13v13h-13zM744 486h13v13h-13zM657 608h13v13h-13zM984 785h13v13h-13zM627 583h13v13h-13zM1373 692h13v13h-13zM595 536h13v13h-13zM1147 649h13v13h-13zM594 747h13v13h-13zM975 666h13v13h-13zM797 882h13v13h-13zM1086 634h13v13h-13zM1015 790h13v13h-13zM1310 698h13v13h-13zM1502 733h13v13h-13zM1248 675h13v13h-13zM678 575h13v13h-13zM839 548h13v13h-13zM863 624h13v13h-13zM1036 561h13v13h-13zM1265 754h13v13h-13zM696 608h13v13h-13zM1161 618h13v13h-13zM919 843h13v13h-13zM829 814h13v13h-13zM1489 714h13v13h-13zM1243 649h13v13h-13zM559 640h13v13h-13zM701 449h13v13h-13zM1053 788h13v13h-13zM642 617h13v13h-13zM1494 722h13v13h-13zM854 622h13v13h-13zM1235 785h13v13h-13zM910 639h13v13h-13zM1039 593h13v13h-13zM1408 683h13v13h-13zM626 498h13v13h-13zM908 592h13v13h-13zM538 842h13v13h-13zM1296 794h13v13h-13zM1187 627h13v13h-13zM746 1029h13v13h-13zM816 565h13v13h-13zM1189 800h13v13h-13zM1153 633h13v13h-13zM1445 732h13v13h-13zM693 604h13v13h-13zM952 804h13v13h-13zM668 584h13v13h-13zM1156 780h13v13h-13zM975 613h13v13h-13zM1176 599h13v13h-13zM1122 620h13v13h-13zM1273 700h13v13h-13zM587 568h13v13h-13zM703 576h13v13h-13zM737 804h13v13h-13zM752 482h13v13h-13zM587 454h13v13h-13zM1028 843h13v13h-13zM809 191h13v13h-13zM824 625h13v13h-13zM1303 791h13v13h-13zM1437 769h13v13h-13zM1006 649h13v13h-13zM904 628h13v13h-13zM845 600h13v13h-13zM637 565h13v13h-13zM771 611h13v13h-13zM830 797h13v13h-13zM1360 773h13v13h-13zM935 591h13v13h-13zM739 392h13v13h-13zM961 629h13v13h-13zM1061 635h13v13h-13zM666 800h13v13h-13zM821 622h13v13h-13zM738 616h13v13h-13zM631 598h13v13h-13zM1036 779h13v13h-13zM1120 772h13v13h-13zM1192 777h13v13h-13zM876 643h13v13h-13zM1222 656h13v13h-13zM1356 750h13v13h-13zM575 682h13v13h-13zM548 739h13v13h-13zM887 785h13v13h-13zM620 611h13v13h-13zM948 613h13v13h-13zM805 795h13v13h-13zM728 629h13v13h-13zM613 830h13v13h-13zM562 577h13v13h-13zM965 645h13v13h-13zM1281 637h13v13h-13zM1289 785h13v13h-13zM1027 809h13v13h-13zM779 622h13v13h-13zM762 556h13v13h-13zM1128 629h13v13h-13zM599 671h13v13h-13zM581 548h13v13h-13zM629 597h13v13h-13zM1285 656h13v13h-13zM1071 772h13v13h-13zM787 795h13v13h-13zM620 467h13v13h-13zM1068 779h13v13h-13zM557 902h13v13h-13zM873 789h13v13h-13zM721 519h13v13h-13zM1258 757h13v13h-13zM752 609h13v13h-13zM686 629h13v13h-13zM786 621h13v13h-13zM954 640h13v13h-13zM861 589h13v13h-13zM933 584h13v13h-13zM600 648h13v13h-13zM948 626h13v13h-13zM1122 671h13v13h-13zM1029 494h13v13h-13zM1531 708h13v13h-13zM681 523h13v13h-13zM1235 658h13v13h-13zM999 584h13v13h-13zM1428 707h13v13h-13zM953 811h13v13h-13zM682 497h13v13h-13zM697 613h13v13h-13zM1171 770h13v13h-13zM727 628h13v13h-13zM1167 792h13v13h-13zM1302 684h13v13h-13zM651 449h13v13h-13zM912 628h13v13h-13zM908 635h13v13h-13zM1394 725h13v13h-13zM731 418h13v13h-13zM742 512h13v13h-13zM1232 659h13v13h-13zM839 793h13v13h-13zM1040 595h13v13h-13zM1212 665h13v13h-13zM1227 773h13v13h-13zM987 616h13v13h-13zM589 704h13v13h-13zM705 589h13v13h-13zM947 621h13v13h-13zM926 633h13v13h-13zM984 896h13v13h-13zM594 724h13v13h-13zM641 605h13v13h-13zM965 655h13v13h-13zM887 604h13v13h-13zM1006 625h13v13h-13zM1049 631h13v13h-13zM1025 772h13v13h-13zM797 454h13v13h-13zM712 617h13v13h-13zM930 626h13v13h-13zM802 607h13v13h-13zM1204 756h13v13h-13zM776 781h13v13h-13zM1350 639h13v13h-13zM777 493h13v13h-13zM716 603h13v13h-13zM751 804h13v13h-13zM706 846h13v13h-13zM1417 690h13v13h-13zM634 832h13v13h-13zM561 458h13v13h-13zM1395 684h13v13h-13zM901 865h13v13h-13zM1404 690h13v13h-13zM827 344h13v13h-13zM828 822h13v13h-13zM763 601h13v13h-13zM1227 655h13v13h-13zM665 815h13v13h-13zM872 595h13v13h-13zM1038 647h13v13h-13zM1233 835h13v13h-13zM1427 660h13v13h-13zM1273 624h13v13h-13zM963 640h13v13h-13zM1065 614h13v13h-13zM1571 653h13v13h-13zM678 487h13v13h-13zM1121 771h13v13h-13zM1381 768h13v13h-13zM648 477h13v13h-13zM1098 637h13v13h-13zM994 630h13v13h-13zM624 420h13v13h-13zM787 812h13v13h-13zM1229 663h13v13h-13zM1487 709h13v13h-13zM718 618h13v13h-13zM852 808h13v13h-13zM1200 820h13v13h-13zM1331 651h13v13h-13zM1101 660h13v13h-13zM701 795h13v13h-13zM780 544h13v13h-13zM1419 784h13v13h-13zM722 820h13v13h-13zM1087 786h13v13h-13zM1009 638h13v13h-13zM1433 732h13v13h-13zM933 775h13v13h-13zM1442 770h13v13h-13zM845 582h13v13h-13zM959 604h13v13h-13zM813 602h13v13h-13zM837 810h13v13h-13zM1022 804h13v13h-13zM959 809h13v13h-13zM777 561h13v13h-13zM1013 634h13v13h-13zM659 599h13v13h-13zM726 560h13v13h-13zM1226 640h13v13h-13zM622 1083h13v13h-13zM611 788h13v13h-13zM854 833h13v13h-13zM1264 647h13v13h-13zM1473 700h13v13h-13zM819 609h13v13h-13zM880 608h13v13h-13zM694 202h13v13h-13zM1347 728h13v13h-13zM851 482h13v13h-13zM703 604h13v13h-13zM967 789h13v13h-13zM595 358h13v13h-13zM754 410h13v13h-13zM1027 863h13v13h-13zM1123 634h13v13h-13zM1465 705h13v13h-13zM1396 688h13v13h-13zM906 519h13v13h-13zM962 641h13v13h-13zM683 549h13v13h-13zM745 787h13v13h-13zM1088 628h13v13h-13zM1152 649h13v13h-13zM635 559h13v13h-13zM638 621h13v13h-13zM1115 790h13v13h-13zM857 637h13v13h-13zM1159 655h13v13h-13zM707 790h13v13h-13zM1292 768h13v13h-13zM1074 537h13v13h-13zM1039 598h13v13h-13zM566 943h13v13h-13zM665 601h13v13h-13zM741 580h13v13h-13zM884 625h13v13h-13zM889 638h13v13h-13zM741 773h13v13h-13zM716 806h13v13h-13zM1128 603h13v13h-13zM1363 770h13v13h-13zM766 807h13v13h-13zM1150 624h13v13h-13zM1497 760h13v13h-13zM769 853h13v13h-13zM590 758h13v13h-13zM607 483h13v13h-13zM621 805h13v13h-13zM712 630h13v13h-13zM957 788h13v13h-13zM1491 712h13v13h-13zM613 803h13v13h-13zM598 637h13v13h-13zM726 598h13v13h-13zM1049 772h13v13h-13zM1244 770h13v13h-13zM845 793h13v13h-13zM971 789h13v13h-13zM962 536h13v13h-13zM932 766h13v13h-13zM975 602h13v13h-13zM601 690h13v13h-13zM800 1074h13v13h-13zM936 810h13v13h-13zM948 838h13v13h-13zM1211 767h13v13h-13zM1288 691h13v13h-13zM1099 815h13v13h-13zM881 621h13v13h-13zM1243 583h13v13h-13zM591 630h13v13h-13zM1139 527h13v13h-13zM593 758h13v13h-13zM796 505h13v13h-13zM830 559h13v13h-13zM903 827h13v13h-13zM1269 764h13v13h-13zM1444 708h13v13h-13zM1056 636h13v13h-13zM1003 787h13v13h-13zM698 536h13v13h-13zM598 820h13v13h-13zM865 805h13v13h-13zM1381 688h13v13h-13zM1366 661h13v13h-13zM609 574h13v13h-13zM622 607h13v13h-13zM956 828h13v13h-13zM1290 656h13v13h-13zM1003 647h13v13h-13zM757 546h13v13h-13zM1215 770h13v13h-13zM1437 696h13v13h-13zM614 544h13v13h-13zM553 705h13v13h-13zM1091 649h13v13h-13zM1220 664h13v13h-13zM1059 793h13v13h-13zM1512 708h13v13h-13zM706 556h13v13h-13zM1284 641h13v13h-13zM1146 645h13v13h-13zM662 602h13v13h-13zM699 546h13v13h-13zM815 596h13v13h-13zM586 498h13v13h-13zM1293 662h13v13h-13zM877 796h13v13h-13zM1251 595h13v13h-13zM1231 791h13v13h-13zM1020 805h13v13h-13zM935 798h13v13h-13zM762 812h13v13h-13zM842 525h13v13h-13zM996 819h13v13h-13zM1465 700h13v13h-13zM1085 747h13v13h-13zM594 610h13v13h-13zM1101 621h13v13h-13zM635 810h13v13h-13zM975 591h13v13h-13zM735 562h13v13h-13zM638 383h13v13h-13zM720 562h13v13h-13zM812 835h13v13h-13zM1125 585h13v13h-13zM902 611h13v13h-13zM589 905h13v13h-13zM809 602h13v13h-13zM1178 635h13v13h-13zM785 392h13v13h-13zM1025 617h13v13h-13zM692 542h13v13h-13zM1496 765h13v13h-13zM1166 795h13v13h-13zM1446 763h13v13h-13zM1230 770h13v13h-13zM1115 637h13v13h-13zM826 587h13v13h-13zM608 568h13v13h-13zM1117 639h13v13h-13zM1465 759h13v13h-13zM734 612h13v13h-13zM610 316h13v13h-13zM819 604h13v13h-13zM1177 615h13v13h-13zM677 622h13v13h-13zM1047 779h13v13h-13zM922 576h13v13h-13zM739 802h13v13h-13zM815 460h13v13h-13zM729 819h13v13h-13zM1110 598h13v13h-13zM828 905h13v13h-13zM976 794h13v13h-13zM1071 618h13v13h-13zM541 760h13v13h-13zM665 615h13v13h-13zM854 369h13v13h-13zM669 597h13v13h-13zM910 546h13v13h-13zM620 829h13v13h-13zM732 503h13v13h-13zM1034 808h13v13h-13zM1367 776h13v13h-13zM844 855h13v13h-13zM1502 715h13v13h-13zM1244 792h13v13h-13zM785 637h13v13h-13zM609 433h13v13h-13zM759 586h13v13h-13zM859 596h13v13h-13zM1020 587h13v13h-13zM780 477h13v13h-13zM1520 655h13v13h-13zM739 861h13v13h-13zM1011 634h13v13h-13zM630 987h13v13h-13zM1440 945h13v13h-13zM1172 643h13v13h-13zM598 811h13v13h-13zM1439 669h13v13h-13zM880 617h13v13h-13zM592 696h13v13h-13zM774 570h13v13h-13zM806 575h13v13h-13zM735 349h13v13h-13zM712 589h13v13h-13zM705 590h13v13h-13zM931 784h13v13h-13zM1219 781h13v13h-13zM1182 692h13v13h-13zM1467 727h13v13h-13zM1150 651h13v13h-13zM704 409h13v13h-13zM1041 644h13v13h-13zM929 606h13v13h-13zM657 628h13v13h-13zM1409 790h13v13h-13zM603 337h13v13h-13zM1059 833h13v13h-13zM741 816h13v13h-13zM1085 626h13v13h-13zM631 629h13v13h-13zM657 597h13v13h-13zM661 640h13v13h-13zM834 811h13v13h-13zM1084 640h13v13h-13zM1225 789h13v13h-13zM624 613h13v13h-13zM1304 763h13v13h-13zM961 628h13v13h-13zM797 804h13v13h-13zM783 607h13v13h-13zM867 802h13v13h-13zM829 810h13v13h-13zM832 787h13v13h-13zM772 601h13v13h-13zM588 607h13v13h-13zM1009 644h13v13h-13zM1161 621h13v13h-13zM1230 766h13v13h-13zM1167 785h13v13h-13zM736 433h13v13h-13zM1226 657h13v13h-13zM1415 769h13v13h-13zM583 805h13v13h-13zM736 606h13v13h-13zM535 728h13v13h-13zM743 785h13v13h-13zM1441 765h13v13h-13zM1232 686h13v13h-13zM1165 785h13v13h-13zM982 645h13v13h-13zM592 556h13v13h-13zM1442 778h13v13h-13zM554 672h13v13h-13zM725 597h13v13h-13zM1141 581h13v13h-13zM831 604h13v13h-13zM1132 682h13v13h-13zM740 599h13v13h-13zM608 1040h13v13h-13zM860 875h13v13h-13zM753 477h13v13h-13zM1301 784h13v13h-13zM620 280h13v13h-13zM1389 688h13v13h-13zM1194 681h13v13h-13zM1002 591h13v13h-13zM1490 742h13v13h-13zM576 711h13v13h-13zM610 795h13v13h-13zM762 943h13v13h-13zM570 833h13v13h-13zM946 657h13v13h-13zM638 548h13v13h-13zM962 596h13v13h-13zM750 589h13v13h-13zM802 433h13v13h-13zM1496 721h13v13h-13zM594 849h13v13h-13zM884 485h13v13h-13zM1175 606h13v13h-13zM792 599h13v13h-13zM594 553h13v13h-13zM937 864h13v13h-13zM1414 707h13v13h-13zM572 442h13v13h-13zM795 808h13v13h-13zM850 612h13v13h-13zM753 930h13v13h-13zM881 612h13v13h-13zM698 469h13v13h-13zM1060 790h13v13h-13zM1375 653h13v13h-13zM585 248h13v13h-13zM1443 725h13v13h-13zM835 645h13v13h-13zM1569 722h13v13h-13zM1036 610h13v13h-13zM1489 734h13v13h-13zM902 584h13v13h-13zM1102 783h13v13h-13zM1067 617h13v13h-13zM881 566h13v13h-13zM1138 765h13v13h-13zM1230 645h13v13h-13zM1083 602h13v13h-13zM904 624h13v13h-13zM979 820h13v13h-13zM769 589h13v13h-13zM1007 793h13v13h-13zM702 798h13v13h-13zM750 602h13v13h-13zM580 441h13v13h-13zM1159 780h13v13h-13zM691 574h13v13h-13zM606 438h13v13h-13zM748 567h13v13h-13zM916 619h13v13h-13zM593 480h13v13h-13zM1474 680h13v13h-13zM1392 703h13v13h-13zM1277 789h13v13h-13zM697 458h13v13h-13zM1276 598h13v13h-13zM1016 822h13v13h-13zM662 622h13v13h-13zM647 618h13v13h-13zM578 858h13v13h-13zM1014 620h13v13h-13zM653 467h13v13h-13zM584 254h13v13h-13zM1239 660h13v13h-13zM1128 616h13v13h-13zM791 571h13v13h-13zM733 794h13v13h-13zM992 763h13v13h-13zM1236 653h13v13h-13zM810 614h13v13h-13zM884 593h13v13h-13zM725 573h13v13h-13zM626 796h13v13h-13zM1267 768h13v13h-13zM671 912h13v13h-13zM1039 633h13v13h-13zM733 798h13v13h-13zM631 579h13v13h-13zM997 828h13v13h-13zM735 496h13v13h-13zM971 616h13v13h-13zM860 793h13v13h-13zM1146 615h13v13h-13zM1097 774h13v13h-13zM645 584h13v13h-13zM583 607h13v13h-13zM672 597h13v13h-13zM1506 804h13v13h-13zM1249 635h13v13h-13zM984 650h13v13h-13zM1186 670h13v13h-13zM1333 712h13v13h-13zM626 590h13v13h-13zM1354 777h13v13h-13zM1468 707h13v13h-13zM895 795h13v13h-13zM1245 662h13v13h-13zM632 231h13v13h-13zM994 512h13v13h-13zM992 803h13v13h-13zM535 665h13v13h-13zM1407 689h13v13h-13zM1117 793h13v13h-13zM910 626h13v13h-13zM1327 776h13v13h-13zM553 719h13v13h-13zM810 563h13v13h-13zM692 808h13v13h-13zM771 807h13v13h-13zM645 196h13v13h-13zM683 542h13v13h-13zM1212 674h13v13h-13zM1085 774h13v13h-13zM709 592h13v13h-13zM969 608h13v13h-13zM1072 809h13v13h-13zM1469 685h13v13h-13zM998 784h13v13h-13zM1428 699h13v13h-13zM646 592h13v13h-13zM1196 808h13v13h-13zM1131 624h13v13h-13zM855 543h13v13h-13zM843 621h13v13h-13zM1398 701h13v13h-13zM874 1048h13v13h-13zM572 984h13v13h-13zM904 622h13v13h-13zM731 508h13v13h-13zM1072 613h13v13h-13zM731 324h13v13h-13zM745 540h13v13h-13zM706 464h13v13h-13zM664 160h13v13h-13zM817 438h13v13h-13zM535 650h13v13h-13zM914 625h13v13h-13zM803 793h13v13h-13zM853 796h13v13h-13zM727 530h13v13h-13zM676 425h13v13h-13zM670 571h13v13h-13zM1355 645h13v13h-13zM962 645h13v13h-13zM563 752h13v13h-13zM1454 623h13v13h-13zM1221 757h13v13h-13zM1423 702h13v13h-13zM1227 603h13v13h-13zM669 393h13v13h-13zM632 636h13v13h-13zM916 641h13v13h-13zM1122 873h13v13h-13zM808 622h13v13h-13zM586 500h13v13h-13zM658 795h13v13h-13zM1166 641h13v13h-13zM615 820h13v13h-13zM596 428h13v13h-13zM1093 602h13v13h-13zM1255 662h13v13h-13zM747 616h13v13h-13zM627 607h13v13h-13zM915 782h13v13h-13zM1345 764h13v13h-13zM544 544h13v13h-13zM1407 771h13v13h-13zM1434 705h13v13h-13zM1507 757h13v13h-13zM1095 663h13v13h-13zM790 797h13v13h-13zM1528 616h13v13h-13zM962 587h13v13h-13zM586 853h13v13h-13zM1172 783h13v13h-13zM621 823h13v13h-13zM1143 762h13v13h-13zM1004 618h13v13h-13zM923 559h13v13h-13zM800 796h13v13h-13zM799 614h13v13h-13zM850 616h13v13h-13zM1564 647h13v13h-13zM1067 776h13v13h-13zM883 814h13v13h-13zM1274 798h13v13h-13zM899 812h13v13h-13zM758 863h13v13h-13zM761 604h13v13h-13zM1250 627h13v13h-13zM607 580h13v13h-13zM591 646h13v13h-13zM666 557h13v13h-13zM918 622h13v13h-13zM742 631h13v13h-13zM789 849h13v13h-13zM552 597h13v13h-13zM702 587h13v13h-13zM1058 662h13v13h-13zM1279 636h13v13h-13zM1055 774h13v13h-13zM714 596h13v13h-13zM1220 760h13v13h-13zM854 602h13v13h-13zM657 570h13v13h-13zM805 816h13v13h-13zM1036 608h13v13h-13zM1476 712h13v13h-13zM1359 733h13v13h-13zM1516 729h13v13h-13zM1113 624h13v13h-13zM843 596h13v13h-13zM701 389h13v13h-13zM1033 613h13v13h-13zM591 727h13v13h-13zM944 630h13v13h-13zM887 580h13v13h-13zM1414 757h13v13h-13zM1309 766h13v13h-13zM773 875h13v13h-13zM622 608h13v13h-13zM612 577h13v13h-13zM786 602h13v13h-13zM1271 791h13v13h-13zM1196 656h13v13h-13zM965 586h13v13h-13zM639 918h13v13h-13zM931 800h13v13h-13zM840 642h13v13h-13zM661 636h13v13h-13zM1281 802h13v13h-13zM577 624h13v13h-13zM1023 786h13v13h-13zM814 798h13v13h-13zM1212 655h13v13h-13zM1141 780h13v13h-13zM1469 750h13v13h-13zM726 576h13v13h-13zM818 874h13v13h-13zM790 847h13v13h-13zM1379 681h13v13h-13zM812 789h13v13h-13zM947 835h13v13h-13zM1101 788h13v13h-13zM887 601h13v13h-13zM975 415h13v13h-13zM702 606h13v13h-13zM721 1118h13v13h-13zM702 431h13v13h-13zM746 840h13v13h-13zM1020 652h13v13h-13zM808 635h13v13h-13zM773 647h13v13h-13zM1247 636h13v13h-13zM632 851h13v13h-13zM661 451h13v13h-13zM656 617h13v13h-13zM921 988h13v13h-13zM1246 650h13v13h-13zM870 602h13v13h-13zM805 787h13v13h-13zM964 651h13v13h-13zM1337 753h13v13h-13zM917 583h13v13h-13zM696 587h13v13h-13zM1139 627h13v13h-13zM842 822h13v13h-13zM556 759h13v13h-13zM1174 661h13v13h-13zM1203 762h13v13h-13zM1438 701h13v13h-13zM1182 787h13v13h-13zM1354 643h13v13h-13zM607 419h13v13h-13zM904 801h13v13h-13zM856 619h13v13h-13zM881 789h13v13h-13zM652 640h13v13h-13zM1067 636h13v13h-13zM970 987h13v13h-13zM773 612h13v13h-13zM603 227h13v13h-13zM1081 773h13v13h-13zM878 802h13v13h-13zM1122 663h13v13h-13zM1295 674h13v13h-13zM713 621h13v13h-13zM1341 659h13v13h-13zM727 579h13v13h-13zM1155 602h13v13h-13zM645 792h13v13h-13zM722 546h13v13h-13zM552 230h13v13h-13zM886 885h13v13h-13zM1219 766h13v13h-13zM717 596h13v13h-13zM801 603h13v13h-13zM1431 722h13v13h-13zM936 811h13v13h-13zM784 422h13v13h-13zM987 514h13v13h-13zM1051 789h13v13h-13zM641 1155h13v13h-13zM845 462h13v13h-13zM710 457h13v13h-13zM828 802h13v13h-13zM641 817h13v13h-13zM1260 773h13v13h-13zM1152 630h13v13h-13zM828 870h13v13h-13zM1053 645h13v13h-13zM1277 786h13v13h-13zM1480 748h13v13h-13zM774 822h13v13h-13zM1377 749h13v13h-13zM604 571h13v13h-13zM958 674h13v13h-13zM1276 672h13v13h-13zM763 783h13v13h-13zM855 776h13v13h-13zM1129 772h13v13h-13zM787 608h13v13h-13zM1462 726h13v13h-13zM777 483h13v13h-13zM1301 741h13v13h-13zM860 588h13v13h-13zM1055 637h13v13h-13zM680 602h13v13h-13zM576 716h13v13h-13zM732 632h13v13h-13zM1179 784h13v13h-13zM913 669h13v13h-13zM550 757h13v13h-13zM865 779h13v13h-13zM720 542h13v13h-13zM1342 796h13v13h-13zM650 775h13v13h-13zM1123 655h13v13h-13zM669 615h13v13h-13zM921 617h13v13h-13zM588 556h13v13h-13zM1197 659h13v13h-13zM1264 655h13v13h-13zM1144 625h13v13h-13zM1270 775h13v13h-13zM1512 721h13v13h-13zM940 562h13v13h-13zM1144 651h13v13h-13zM690 603h13v13h-13zM1299 646h13v13h-13zM736 824h13v13h-13zM693 444h13v13h-13zM900 547h13v13h-13zM1533 741h13v13h-13zM774 442h13v13h-13zM712 619h13v13h-13zM996 620h13v13h-13zM977 846h13v13h-13zM1294 756h13v13h-13zM1251 619h13v13h-13zM887 587h13v13h-13zM697 602h13v13h-13zM610 817h13v13h-13zM607 812h13v13h-13zM1422 743h13v13h-13zM980 771h13v13h-13zM1321 689h13v13h-13zM542 780h13v13h-13zM1334 787h13v13h-13zM818 800h13v13h-13zM1026 621h13v13h-13zM918 591h13v13h-13zM806 595h13v13h-13zM973 805h13v13h-13zM1561 692h13v13h-13zM1064 801h13v13h-13zM949 824h13v13h-13zM1041 800h13v13h-13zM1128 788h13v13h-13zM652 803h13v13h-13zM955 909h13v13h-13zM1053 787h13v13h-13zM1523 783h13v13h-13zM1120 777h13v13h-13zM1045 606h13v13h-13zM1484 742h13v13h-13zM818 811h13v13h-13zM836 383h13v13h-13zM880 611h13v13h-13zM1338 679h13v13h-13zM646 548h13v13h-13zM551 634h13v13h-13zM832 783h13v13h-13zM1110 781h13v13h-13zM683 585h13v13h-13zM647 564h13v13h-13zM1277 754h13v13h-13zM1219 770h13v13h-13zM846 641h13v13h-13zM1153 754h13v13h-13zM1348 780h13v13h-13zM1008 647h13v13h-13zM760 535h13v13h-13zM1015 798h13v13h-13zM621 605h13v13h-13zM942 637h13v13h-13zM645 533h13v13h-13zM657 809h13v13h-13zM856 626h13v13h-13zM662 628h13v13h-13zM627 615h13v13h-13zM756 527h13v13h-13zM1067 671h13v13h-13zM622 837h13v13h-13zM1223 668h13v13h-13zM1141 643h13v13h-13zM583 480h13v13h-13zM591 688h13v13h-13zM801 796h13v13h-13zM616 809h13v13h-13zM831 589h13v13h-13zM1032 757h13v13h-13zM661 593h13v13h-13zM1249 770h13v13h-13zM910 622h13v13h-13zM1080 793h13v13h-13zM960 808h13v13h-13zM649 491h13v13h-13zM919 788h13v13h-13zM614 592h13v13h-13zM1295 660h13v13h-13zM545 773h13v13h-13zM653 634h13v13h-13zM1376 689h13v13h-13zM600 531h13v13h-13zM1443 718h13v13h-13zM751 610h13v13h-13zM666 529h13v13h-13zM1364 732h13v13h-13zM560 893h13v13h-13zM607 578h13v13h-13zM597 708h13v13h-13zM737 515h13v13h-13zM1276 787h13v13h-13zM1275 623h13v13h-13zM641 565h13v13h-13zM949 792h13v13h-13zM804 599h13v13h-13zM835 792h13v13h-13zM1085 526h13v13h-13zM613 156h13v13h-13zM996 631h13v13h-13zM800 622h13v13h-13zM1471 722h13v13h-13zM870 824h13v13h-13zM590 647h13v13h-13zM690 594h13v13h-13zM992 649h13v13h-13zM733 812h13v13h-13zM887 791h13v13h-13zM664 818h13v13h-13zM1425 713h13v13h-13zM985 639h13v13h-13zM1040 652h13v13h-13zM954 545h13v13h-13zM1099 604h13v13h-13zM886 615h13v13h-13zM1175 633h13v13h-13zM1194 792h13v13h-13zM1017 632h13v13h-13zM1282 649h13v13h-13zM675 595h13v13h-13zM1490 742h13v13h-13zM1005 612h13v13h-13zM1362 751h13v13h-13zM976 606h13v13h-13zM1323 699h13v13h-13zM1452 676h13v13h-13zM649 615h13v13h-13zM580 681h13v13h-13zM653 427h13v13h-13zM802 593h13v13h-13zM1128 801h13v13h-13zM749 598h13v13h-13zM1424 773h13v13h-13zM1394 776h13v13h-13zM729 616h13v13h-13zM1217 622h13v13h-13zM584 539h13v13h-13zM1508 696h13v13h-13zM944 628h13v13h-13zM1000 783h13v13h-13zM1222 685h13v13h-13zM1133 609h13v13h-13zM885 589h13v13h-13zM1373 682h13v13h-13zM718 832h13v13h-13zM1226 793h13v13h-13zM1377 671h13v13h-13zM1553 692h13v13h-13zM991 788h13v13h-13zM1398 749h13v13h-13zM1241 771h13v13h-13zM910 620h13v13h-13zM709 803h13v13h-13zM1313 798h13v13h-13zM597 602h13v13h-13zM629 813h13v13h-13zM627 827h13v13h-13zM934 829h13v13h-13zM1457 712h13v13h-13zM703 587h13v13h-13zM842 913h13v13h-13zM640 629h13v13h-13zM1283 666h13v13h-13zM870 635h13v13h-13zM628 871h13v13h-13zM1593 756h13v13h-13zM1114 638h13v13h-13zM659 567h13v13h-13zM1342 753h13v13h-13zM758 465h13v13h-13zM835 787h13v13h-13zM1048 620h13v13h-13zM866 581h13v13h-13zM1412 685h13v13h-13zM766 617h13v13h-13zM861 473h13v13h-13zM1346 670h13v13h-13zM1325 630h13v13h-13zM992 594h13v13h-13zM678 586h13v13h-13zM536 716h13v13h-13zM631 555h13v13h-13zM1195 621h13v13h-13zM1102 607h13v13h-13zM1516 727h13v13h-13zM768 577h13v13h-13zM1175 628h13v13h-13zM665 562h13v13h-13zM1350 674h13v13h-13zM735 808h13v13h-13zM1413 720h13v13h-13zM637 597h13v13h-13zM571 846h13v13h-13zM1480 727h13v13h-13zM1283 629h13v13h-13zM546 687h13v13h-13zM1078 816h13v13h-13zM1008 811h13v13h-13zM626 423h13v13h-13zM626 584h13v13h-13zM977 562h13v13h-13zM772 555h13v13h-13zM702 792h13v13h-13zM1484 743h13v13h-13zM920 842h13v13h-13zM991 629h13v13h-13zM998 655h13v13h-13zM691 812h13v13h-13zM1099 627h13v13h-13zM667 600h13v13h-13zM1121 659h13v13h-13zM1214 619h13v13h-13zM1027 805h13v13h-13zM1328 653h13v13h-13zM1179 654h13v13h-13zM622 803h13v13h-13zM761 505h13v13h-13zM1381 672h13v13h-13zM626 838h13v13h-13zM752 631h13v13h-13zM714 771h13v13h-13zM1108 650h13v13h-13zM1324 670h13v13h-13zM943 622h13v13h-13zM875 839h13v13h-13zM1007 825h13v13h-13zM700 997h13v13h-13zM1461 722h13v13h-13zM964 632h13v13h-13zM1086 628h13v13h-13zM921 611h13v13h-13zM670 823h13v13h-13zM673 586h13v13h-13zM689 576h13v13h-13zM647 801h13v13h-13zM611 460h13v13h-13zM711 528h13v13h-13zM1368 645h13v13h-13zM581 570h13v13h-13zM746 577h13v13h-13zM764 579h13v13h-13zM933 629h13v13h-13zM735 811h13v13h-13zM874 639h13v13h-13zM1003 622h13v13h-13zM703 566h13v13h-13zM1000 818h13v13h-13zM1123 790h13v13h-13zM1415 693h13v13h-13zM758 634h13v13h-13zM703 164h13v13h-13zM1296 645h13v13h-13zM1158 641h13v13h-13zM910 633h13v13h-13zM870 647h13v13h-13zM1433 750h13v13h-13zM1511 731h13v13h-13zM602 457h13v13h-13zM756 614h13v13h-13zM604 747h13v13h-13zM757 802h13v13h-13zM1109 631h13v13h-13zM1501 724h13v13h-13zM1256 647h13v13h-13zM925 606h13v13h-13zM1131 655h13v13h-13zM632 174h13v13h-13zM669 800h13v13h-13zM971 804h13v13h-13zM754 504h13v13h-13zM763 631h13v13h-13zM1054 521h13v13h-13zM1348 662h13v13h-13zM900 787h13v13h-13zM968 510h13v13h-13zM630 582h13v13h-13zM767 834h13v13h-13zM771 622h13v13h-13zM582 871h13v13h-13zM1115 573h13v13h-13zM955 588h13v13h-13zM625 607h13v13h-13zM1051 816h13v13h-13zM1142 616h13v13h-13zM1290 770h13v13h-13zM898 632h13v13h-13zM601 883h13v13h-13zM711 615h13v13h-13zM1269 629h13v13h-13zM705 582h13v13h-13zM1192 684h13v13h-13zM542 718h13v13h-13zM798 524h13v13h-13zM1069 658h13v13h-13zM682 606h13v13h-13zM1485 718h13v13h-13zM1267 665h13v13h-13zM1434 658h13v13h-13zM838 804h13v13h-13zM815 794h13v13h-13zM575 409h13v13h-13zM745 861h13v13h-13zM841 792h13v13h-13zM1051 793h13v13h-13zM1264 670h13v13h-13zM725 794h13v13h-13zM1345 679h13v13h-13zM1587 738h13v13h-13zM1315 666h13v13h-13zM1108 630h13v13h-13zM1178 639h13v13h-13zM753 604h13v13h-13zM1111 797h13v13h-13zM840 617h13v13h-13zM855 1042h13v13h-13zM1341 688h13v13h-13zM1127 655h13v13h-13zM992 668h13v13h-13zM1431 667h13v13h-13zM556 793h13v13h-13zM1501 732h13v13h-13zM915 626h13v13h-13zM877 610h13v13h-13zM1228 669h13v13h-13zM956 604h13v13h-13zM1225 641h13v13h-13zM904 604h13v13h-13zM596 581h13v13h-13zM596 785h13v13h-13zM1214 654h13v13h-13zM585 652h13v13h-13zM733 596h13v13h-13zM640 885h13v13h-13zM652 572h13v13h-13zM824 609h13v13h-13zM1505 699h13v13h-13zM981 631h13v13h-13zM827 859h13v13h-13zM918 631h13v13h-13zM628 544h13v13h-13zM857 619h13v13h-13zM1035 530h13v13h-13zM717 406h13v13h-13zM991 818h13v13h-13zM1193 627h13v13h-13zM1444 825h13v13h-13zM798 410h13v13h-13zM1202 800h13v13h-13zM605 812h13v13h-13zM966 776h13v13h-13zM1249 806h13v13h-13zM1349 706h13v13h-13zM987 641h13v13h-13zM1460 694h13v13h-13zM772 470h13v13h-13zM1155 675h13v13h-13zM867 554h13v13h-13zM1069 636h13v13h-13zM540 679h13v13h-13zM1166 614h13v13h-13zM615 621h13v13h-13zM1254 766h13v13h-13zM667 367h13v13h-13zM1238 630h13v13h-13zM921 634h13v13h-13zM869 612h13v13h-13zM1309 651h13v13h-13zM860 799h13v13h-13zM612 409h13v13h-13zM775 576h13v13h-13zM1295 652h13v13h-13zM1126 605h13v13h-13zM1331 745h13v13h-13zM1477 760h13v13h-13zM1195 680h13v13h-13zM748 618h13v13h-13zM601 785h13v13h-13zM982 635h13v13h-13zM854 620h13v13h-13zM954 907h13v13h-13zM609 604h13v13h-13zM1027 624h13v13h-13zM695 614h13v13h-13zM951 827h13v13h-13zM791 615h13v13h-13zM821 622h13v13h-13zM1062 773h13v13h-13zM761 880h13v13h-13zM1246 653h13v13h-13zM661 608h13v13h-13zM1027 837h13v13h-13zM1468 679h13v13h-13zM1249 622h13v13h-13zM754 619h13v13h-13zM1252 760h13v13h-13zM1392 687h13v13h-13zM789 603h13v13h-13zM588 343h13v13h-13zM535 722h13v13h-13zM984 639h13v13h-13zM649 821h13v13h-13zM749 371h13v13h-13zM600 748h13v13h-13zM1056 632h13v13h-13zM654 569h13v13h-13zM840 784h13v13h-13zM786 612h13v13h-13zM1082 780h13v13h-13zM624 551h13v13h-13zM778 620h13v13h-13zM590 678h13v13h-13zM633 478h13v13h-13zM957 653h13v13h-13zM835 632h13v13h-13zM1394 768h13v13h-13zM736 594h13v13h-13zM588 636h13v13h-13zM1214 618h13v13h-13zM733 806h13v13h-13zM892 803h13v13h-13zM771 528h13v13h-13zM1200 784h13v13h-13zM1000 772h13v13h-13zM1190 646h13v13h-13zM546 779h13v13h-13zM763 590h13v13h-13zM688 592h13v13h-13zM727 383h13v13h-13zM1288 644h13v13h-13zM853 802h13v13h-13zM540 747h13v13h-13zM1507 714h13v13h-13zM631 442h13v13h-13zM1001 808h13v13h-13zM1440 727h13v13h-13zM649 458h13v13h-13zM743 568h13v13h-13zM1355 654h13v13h-13zM675 523h13v13h-13zM1482 742h13v13h-13zM579 634h13v13h-13zM610 786h13v13h-13zM808 469h13v13h-13zM912 803h13v13h-13zM1211 794h13v13h-13zM1339 779h13v13h-13zM962 610h13v13h-13zM652 493h13v13h-13zM790 582h13v13h-13zM1021 644h13v13h-13zM605 848h13v13h-13zM952 796h13v13h-13zM1453 704h13v13h-13zM832 571h13v13h-13zM597 728h13v13h-13zM660 583h13v13h-13zM925 833h13v13h-13zM1216 868h13v13h-13zM585 712h13v13h-13zM625 615h13v13h-13zM1349 646h13v13h-13zM990 577h13v13h-13zM698 466h13v13h-13zM624 833h13v13h-13zM631 847h13v13h-13zM892 569h13v13h-13zM679 585h13v13h-13zM557 653h13v13h-13zM1346 768h13v13h-13zM583 562h13v13h-13zM618 412h13v13h-13zM687 920h13v13h-13zM930 600h13v13h-13zM629 816h13v13h-13zM946 767h13v13h-13zM1079 783h13v13h-13zM1191 628h13v13h-13zM777 449h13v13h-13zM836 786h13v13h-13zM729 611h13v13h-13zM1125 793h13v13h-13zM1061 640h13v13h-13zM646 602h13v13h-13zM1099 628h13v13h-13zM1271 792h13v13h-13zM1160 627h13v13h-13zM824 797h13v13h-13zM901 635h13v13h-13zM1217 788h13v13h-13zM1222 781h13v13h-13zM751 560h13v13h-13zM560 711h13v13h-13zM840 833h13v13h-13zM1426 705h13v13h-13zM1109 604h13v13h-13zM1236 642h13v13h-13zM936 868h13v13h-13z" fill="#3a6a3a" fill-opacity="0.72" transform="scale(0.1)"/><line x1="47.9" y1="73.4" x2="176.2" y2="73.4" stroke="#111" stroke-width="1"/><line x1="47.9" y1="11.6" x2="47.9" y2="135.6" stroke="#111" stroke-width="1.1"/><line x1="45" y1="14.1" x2="47.9" y2="14.1" stroke="#111" stroke-width="0.9"/><text x="42.4" y="16.45" font-size="6.6" text-anchor="end" fill="#222" stroke="#222" stroke-width="0.18">10</text><line x1="45" y1="43.75" x2="47.9" y2="43.75" stroke="#111" stroke-width="0.9"/><text x="42.4" y="46.1" font-size="6.6" text-anchor="end" fill="#222" stroke="#222" stroke-width="0.18">5</text><line x1="45" y1="73.4" x2="47.9" y2="73.4" stroke="#111" stroke-width="0.9"/><text x="42.4" y="75.75" font-size="6.6" text-anchor="end" fill="#222" stroke="#222" stroke-width="0.18">0</text><line x1="45" y1="103.05" x2="47.9" y2="103.05" stroke="#111" stroke-width="0.9"/><text x="42.4" y="105.4" font-size="6.6" text-anchor="end" fill="#222" stroke="#222" stroke-width="0.18">-5</text><line x1="45" y1="132.7" x2="47.9" y2="132.7" stroke="#111" stroke-width="0.9"/><text x="42.4" y="135.05" font-size="6.6" text-anchor="end" fill="#222" stroke="#222" stroke-width="0.18">-10</text><line x1="52.9" y1="123.5" x2="168.5" y2="123.5" stroke="#111" stroke-width="1.1"/><line x1="55.6" y1="123.5" x2="55.6" y2="126.2" stroke="#111" stroke-width="0.9"/><text x="55.6" y="136" font-size="6.6" text-anchor="middle" fill="#222" stroke="#222" stroke-width="0.18">2</text><line x1="77.64" y1="123.5" x2="77.64" y2="126.2" stroke="#111" stroke-width="0.9"/><text x="77.64" y="136" font-size="6.6" text-anchor="middle" fill="#222" stroke="#222" stroke-width="0.18">4</text><line x1="99.68" y1="123.5" x2="99.68" y2="126.2" stroke="#111" stroke-width="0.9"/><text x="99.68" y="136" font-size="6.6" text-anchor="middle" fill="#222" stroke="#222" stroke-width="0.18">6</text><line x1="121.72" y1="123.5" x2="121.72" y2="126.2" stroke="#111" stroke-width="0.9"/><text x="121.72" y="136" font-size="6.6" text-anchor="middle" fill="#222" stroke="#222" stroke-width="0.18">8</text><line x1="143.76" y1="123.5" x2="143.76" y2="126.2" stroke="#111" stroke-width="0.9"/><text x="143.76" y="136" font-size="6.6" text-anchor="middle" fill="#222" stroke="#222" stroke-width="0.18">10</text><line x1="165.8" y1="123.5" x2="165.8" y2="126.2" stroke="#111" stroke-width="0.9"/><text x="165.8" y="136" font-size="6.6" text-anchor="middle" fill="#222" stroke="#222" stroke-width="0.18">12</text><text x="97.9" y="147.9" font-size="8.5" fill="#222" stroke="#222" stroke-width="0.1" textLength="25.3" lengthAdjust="spacingAndGlyphs">LogCPM</text><text x="28.3" y="107.3" font-size="8.8" fill="#222" stroke="#222" stroke-width="0.11" textLength="68" lengthAdjust="spacingAndGlyphs" transform="rotate(-90 28.3 107.3)">LogFC (CD40IL4 - LPS)</text><line x1="80.8" y1="43.7" x2="84.3" y2="37.4" stroke="#444" stroke-width="0.3"/><line x1="89.3" y1="42.1" x2="94.8" y2="34.8" stroke="#444" stroke-width="0.3"/><line x1="98.2" y1="61.7" x2="96.1" y2="51.9" stroke="#444" stroke-width="0.3"/><line x1="103.2" y1="58.5" x2="106.8" y2="51.1" stroke="#444" stroke-width="0.3"/><line x1="110.6" y1="60.1" x2="116.3" y2="54.7" stroke="#444" stroke-width="0.3"/><line x1="80.8" y1="68" x2="80.2" y2="59.8" stroke="#444" stroke-width="0.3"/><line x1="131" y1="57" x2="135.6" y2="50.8" stroke="#444" stroke-width="0.3"/><line x1="131.3" y1="60.3" x2="136.9" y2="54.6" stroke="#444" stroke-width="0.3"/><line x1="131.3" y1="62.5" x2="138.9" y2="58.6" stroke="#444" stroke-width="0.3"/><line x1="137.4" y1="64.8" x2="146.1" y2="62.6" stroke="#444" stroke-width="0.3"/><line x1="142.2" y1="67.2" x2="150.6" y2="66.5" stroke="#444" stroke-width="0.3"/><line x1="119.8" y1="67.8" x2="121.1" y2="59.9" stroke="#444" stroke-width="0.3"/><line x1="122.1" y1="69.9" x2="128.4" y2="66.5" stroke="#444" stroke-width="0.3"/><circle cx="80.8" cy="43.7" r="1.1" fill="#e6cf35" stroke="#5e5418" stroke-width="0.3"/><text x="83.5" y="36.8" font-size="4.7" fill="#222" stroke="#222" stroke-width="0.13" textLength="5.8" lengthAdjust="spacingAndGlyphs" font-style="italic">Lef1</text><circle cx="89.3" cy="42.1" r="1.1" fill="#e6cf35" stroke="#5e5418" stroke-width="0.3"/><text x="94" y="34.2" font-size="4.7" fill="#222" stroke="#222" stroke-width="0.13" textLength="16.8" lengthAdjust="spacingAndGlyphs" font-style="italic">Gadd45g</text><circle cx="98.2" cy="61.7" r="1.1" fill="#e6cf35" stroke="#5e5418" stroke-width="0.3"/><text x="95.3" y="51.3" font-size="4.7" fill="#222" stroke="#222" stroke-width="0.13" textLength="7.1" lengthAdjust="spacingAndGlyphs" font-style="italic">Bcl6</text><circle cx="103.2" cy="58.5" r="1.1" fill="#e6cf35" stroke="#5e5418" stroke-width="0.3"/><text x="106" y="50.5" font-size="4.7" fill="#222" stroke="#222" stroke-width="0.13" textLength="10.6" lengthAdjust="spacingAndGlyphs" font-style="italic">Cxcr4</text><circle cx="110.6" cy="60.1" r="1.1" fill="#e6cf35" stroke="#5e5418" stroke-width="0.3"/><text x="115.5" y="54.1" font-size="4.7" fill="#222" stroke="#222" stroke-width="0.13" textLength="11.6" lengthAdjust="spacingAndGlyphs" font-style="italic">Gadd45b</text><circle cx="80.8" cy="68" r="1.1" fill="#e6cf35" stroke="#5e5418" stroke-width="0.3"/><text x="79.4" y="59.2" font-size="4.7" fill="#222" stroke="#222" stroke-width="0.13" textLength="12.2" lengthAdjust="spacingAndGlyphs" font-style="italic">Pik3ap1</text><circle cx="131" cy="57" r="1.1" fill="#e6cf35" stroke="#5e5418" stroke-width="0.3"/><text x="134.8" y="50.2" font-size="4.7" fill="#222" stroke="#222" stroke-width="0.13" textLength="15" lengthAdjust="spacingAndGlyphs" font-style="italic">H2-DMa</text><circle cx="131.3" cy="60.3" r="1.1" fill="#e6cf35" stroke="#5e5418" stroke-width="0.3"/><text x="136.1" y="54" font-size="4.7" fill="#222" stroke="#222" stroke-width="0.13" textLength="5.6" lengthAdjust="spacingAndGlyphs" font-style="italic">Irf4</text><circle cx="131.3" cy="62.5" r="1.1" fill="#e6cf35" stroke="#5e5418" stroke-width="0.3"/><text x="138.1" y="58" font-size="4.7" fill="#222" stroke="#222" stroke-width="0.13" textLength="10.4" lengthAdjust="spacingAndGlyphs" font-style="italic">Nfkb2</text><circle cx="137.4" cy="64.8" r="1.1" fill="#e6cf35" stroke="#5e5418" stroke-width="0.3"/><text x="145.3" y="62" font-size="4.7" fill="#222" stroke="#222" stroke-width="0.13" textLength="9.8" lengthAdjust="spacingAndGlyphs" font-style="italic">Mef2b</text><circle cx="142.2" cy="67.2" r="1.1" fill="#e6cf35" stroke="#5e5418" stroke-width="0.3"/><text x="149.8" y="65.9" font-size="4.7" fill="#222" stroke="#222" stroke-width="0.13" textLength="15.1" lengthAdjust="spacingAndGlyphs" font-style="italic">Pou2af1</text><circle cx="119.8" cy="67.8" r="1.1" fill="#e6cf35" stroke="#5e5418" stroke-width="0.3"/><text x="120.3" y="59.3" font-size="4.7" fill="#222" stroke="#222" stroke-width="0.13" textLength="6.8" lengthAdjust="spacingAndGlyphs" font-style="italic">Pim1</text><circle cx="122.1" cy="69.9" r="1.1" fill="#e6cf35" stroke="#5e5418" stroke-width="0.3"/><text x="127.6" y="65.9" font-size="4.7" fill="#222" stroke="#222" stroke-width="0.13" textLength="7.5" lengthAdjust="spacingAndGlyphs" font-style="italic">Nfkb1</text><circle cx="110.8" cy="69.9" r="1.1" fill="#e6cf35" stroke="#5e5418" stroke-width="0.3"/><circle cx="113.9" cy="71.3" r="1.1" fill="#e6cf35" stroke="#5e5418" stroke-width="0.3"/><circle cx="122.6" cy="68.8" r="1.1" fill="#e6cf35" stroke="#5e5418" stroke-width="0.3"/><circle cx="131.3" cy="62.5" r="1.1" fill="#e6cf35" stroke="#5e5418" stroke-width="0.3"/><rect x="244.4" y="49.9" width="4.54" height="6.45" fill="#e07a4a"/><rect x="248.89" y="49.9" width="4.54" height="6.45" fill="#e9a060"/><rect x="253.38" y="49.9" width="4.54" height="6.45" fill="#e9a060"/><rect x="257.87" y="49.9" width="4.54" height="6.45" fill="#e9a060"/><rect x="262.36" y="49.9" width="4.54" height="6.45" fill="#f2c472"/><rect x="266.85" y="49.9" width="4.54" height="6.45" fill="#e07a4a"/><rect x="271.35" y="49.9" width="4.54" height="6.45" fill="#f8e08a"/><rect x="275.84" y="49.9" width="4.54" height="6.45" fill="#efbe78"/><rect x="280.33" y="49.9" width="4.54" height="6.45" fill="#f6d888"/><rect x="284.82" y="49.9" width="4.54" height="6.45" fill="#eeaa6a"/><rect x="289.31" y="49.9" width="4.54" height="6.45" fill="#f8e89a"/><rect x="293.8" y="49.9" width="4.54" height="6.45" fill="#e07a4a"/><rect x="298.29" y="49.9" width="4.54" height="6.45" fill="#e2804e"/><rect x="302.78" y="49.9" width="4.54" height="6.45" fill="#f0bc70"/><rect x="307.27" y="49.9" width="4.54" height="6.45" fill="#faf2b8"/><rect x="311.76" y="49.9" width="4.54" height="6.45" fill="#f2c078"/><rect x="316.25" y="49.9" width="4.54" height="6.45" fill="#e8905a"/><rect x="320.75" y="49.9" width="4.54" height="6.45" fill="#eca868"/><rect x="325.24" y="49.9" width="4.54" height="6.45" fill="#f0b870"/><rect x="329.73" y="49.9" width="4.54" height="6.45" fill="#f8e494"/><rect x="334.22" y="49.9" width="4.54" height="6.45" fill="#6f98cc"/><rect x="338.71" y="49.9" width="4.54" height="6.45" fill="#f8f4c8"/><rect x="343.2" y="49.9" width="4.54" height="6.45" fill="#e9985e"/><rect x="347.69" y="49.9" width="4.54" height="6.45" fill="#e9985e"/><rect x="352.18" y="49.9" width="4.54" height="6.45" fill="#c4dcf0"/><rect x="356.67" y="49.9" width="4.54" height="6.45" fill="#f2c278"/><rect x="361.16" y="49.9" width="4.54" height="6.45" fill="#d45a3a"/><rect x="365.65" y="49.9" width="4.54" height="6.45" fill="#d65c3c"/><rect x="370.15" y="49.9" width="4.54" height="6.45" fill="#dc6a44"/><rect x="374.64" y="49.9" width="4.54" height="6.45" fill="#f0be78"/><rect x="379.13" y="49.9" width="4.54" height="6.45" fill="#f6d68a"/><rect x="383.62" y="49.9" width="4.54" height="6.45" fill="#eeb070"/><rect x="388.11" y="49.9" width="4.54" height="6.45" fill="#f8e09a"/><rect x="392.6" y="49.9" width="4.54" height="6.45" fill="#e27a4c"/><rect x="397.09" y="49.9" width="4.54" height="6.45" fill="#e4804f"/><rect x="401.58" y="49.9" width="4.54" height="6.45" fill="#e78a55"/><rect x="406.07" y="49.9" width="4.54" height="6.45" fill="#d45a3a"/><rect x="410.56" y="49.9" width="4.54" height="6.45" fill="#ea9a60"/><rect x="415.05" y="49.9" width="4.54" height="6.45" fill="#ea9a60"/><rect x="419.55" y="49.9" width="4.54" height="6.45" fill="#e6884f"/><rect x="424.04" y="49.9" width="4.54" height="6.45" fill="#e78a55"/><rect x="428.53" y="49.9" width="4.54" height="6.45" fill="#ea9860"/><rect x="433.02" y="49.9" width="4.54" height="6.45" fill="#ec9e62"/><rect x="437.51" y="49.9" width="4.54" height="6.45" fill="#f8e090"/><rect x="244.4" y="56.3" width="4.54" height="6.65" fill="#f0b070"/><rect x="248.89" y="56.3" width="4.54" height="6.65" fill="#e38050"/><rect x="253.38" y="56.3" width="4.54" height="6.65" fill="#e38050"/><rect x="257.87" y="56.3" width="4.54" height="6.65" fill="#e89a5e"/><rect x="262.36" y="56.3" width="4.54" height="6.65" fill="#e58550"/><rect x="266.85" y="56.3" width="4.54" height="6.65" fill="#fbf5c0"/><rect x="271.35" y="56.3" width="4.54" height="6.65" fill="#f3f3d5"/><rect x="275.84" y="56.3" width="4.54" height="6.65" fill="#f8dc88"/><rect x="280.33" y="56.3" width="4.54" height="6.65" fill="#f0f3d8"/><rect x="284.82" y="56.3" width="4.54" height="6.65" fill="#f8e090"/><rect x="289.31" y="56.3" width="4.54" height="6.65" fill="#f7eaa5"/><rect x="293.8" y="56.3" width="4.54" height="6.65" fill="#f6d48a"/><rect x="298.29" y="56.3" width="4.54" height="6.65" fill="#fbf5bc"/><rect x="302.78" y="56.3" width="4.54" height="6.65" fill="#f6d48a"/><rect x="307.27" y="56.3" width="4.54" height="6.65" fill="#f8dc92"/><rect x="311.76" y="56.3" width="4.54" height="6.65" fill="#d85a38"/><rect x="316.25" y="56.3" width="4.54" height="6.65" fill="#c8e0f2"/><rect x="320.75" y="56.3" width="4.54" height="6.65" fill="#faf2b8"/><rect x="325.24" y="56.3" width="4.54" height="6.65" fill="#f0c07a"/><rect x="329.73" y="56.3" width="4.54" height="6.65" fill="#f6d890"/><rect x="334.22" y="56.3" width="4.54" height="6.65" fill="#f6d888"/><rect x="338.71" y="56.3" width="4.54" height="6.65" fill="#f4f4d0"/><rect x="343.2" y="56.3" width="4.54" height="6.65" fill="#e5804f"/><rect x="347.69" y="56.3" width="4.54" height="6.65" fill="#eaa064"/><rect x="352.18" y="56.3" width="4.54" height="6.65" fill="#fbf8cc"/><rect x="356.67" y="56.3" width="4.54" height="6.65" fill="#e07048"/><rect x="361.16" y="56.3" width="4.54" height="6.65" fill="#f8d88a"/><rect x="365.65" y="56.3" width="4.54" height="6.65" fill="#f6d88a"/><rect x="370.15" y="56.3" width="4.54" height="6.65" fill="#eca468"/><rect x="374.64" y="56.3" width="4.54" height="6.65" fill="#f0f4dc"/><rect x="379.13" y="56.3" width="4.54" height="6.65" fill="#f0bc78"/><rect x="383.62" y="56.3" width="4.54" height="6.65" fill="#f8eeb0"/><rect x="388.11" y="56.3" width="4.54" height="6.65" fill="#d8603c"/><rect x="392.6" y="56.3" width="4.54" height="6.65" fill="#efb06c"/><rect x="397.09" y="56.3" width="4.54" height="6.65" fill="#eeac6a"/><rect x="401.58" y="56.3" width="4.54" height="6.65" fill="#f8e090"/><rect x="406.07" y="56.3" width="4.54" height="6.65" fill="#f8e090"/><rect x="410.56" y="56.3" width="4.54" height="6.65" fill="#efb06c"/><rect x="415.05" y="56.3" width="4.54" height="6.65" fill="#efb06c"/><rect x="419.55" y="56.3" width="4.54" height="6.65" fill="#f8e094"/><rect x="424.04" y="56.3" width="4.54" height="6.65" fill="#f0b870"/><rect x="428.53" y="56.3" width="4.54" height="6.65" fill="#efb06c"/><rect x="433.02" y="56.3" width="4.54" height="6.65" fill="#eeac6a"/><rect x="437.51" y="56.3" width="4.54" height="6.65" fill="#ea9c62"/><rect x="244.4" y="62.9" width="4.54" height="6.55" fill="#b0cce6"/><rect x="248.89" y="62.9" width="4.54" height="6.55" fill="#e4f0f4"/><rect x="253.38" y="62.9" width="4.54" height="6.55" fill="#c4dcef"/><rect x="257.87" y="62.9" width="4.54" height="6.55" fill="#b8d0e8"/><rect x="262.36" y="62.9" width="4.54" height="6.55" fill="#bcd4ea"/><rect x="266.85" y="62.9" width="4.54" height="6.55" fill="#f8f5c0"/><rect x="271.35" y="62.9" width="4.54" height="6.55" fill="#f8e8a0"/><rect x="275.84" y="62.9" width="4.54" height="6.55" fill="#e5eff0"/><rect x="280.33" y="62.9" width="4.54" height="6.55" fill="#f8e494"/><rect x="284.82" y="62.9" width="4.54" height="6.55" fill="#e3eef0"/><rect x="289.31" y="62.9" width="4.54" height="6.55" fill="#faeea8"/><rect x="293.8" y="62.9" width="4.54" height="6.55" fill="#a6c4e4"/><rect x="298.29" y="62.9" width="4.54" height="6.55" fill="#e0ecf0"/><rect x="302.78" y="62.9" width="4.54" height="6.55" fill="#dbe9f2"/><rect x="307.27" y="62.9" width="4.54" height="6.55" fill="#f8f5c8"/><rect x="311.76" y="62.9" width="4.54" height="6.55" fill="#5a86c0"/><rect x="316.25" y="62.9" width="4.54" height="6.55" fill="#e8f2f0"/><rect x="320.75" y="62.9" width="4.54" height="6.55" fill="#f8f0c0"/><rect x="325.24" y="62.9" width="4.54" height="6.55" fill="#d0e2f2"/><rect x="329.73" y="62.9" width="4.54" height="6.55" fill="#faf0b0"/><rect x="334.22" y="62.9" width="4.54" height="6.55" fill="#e8905a"/><rect x="338.71" y="62.9" width="4.54" height="6.55" fill="#faeaaa"/><rect x="343.2" y="62.9" width="4.54" height="6.55" fill="#b8d2ea"/><rect x="347.69" y="62.9" width="4.54" height="6.55" fill="#b4cee8"/><rect x="352.18" y="62.9" width="4.54" height="6.55" fill="#fbf6c8"/><rect x="356.67" y="62.9" width="4.54" height="6.55" fill="#6890c8"/><rect x="361.16" y="62.9" width="4.54" height="6.55" fill="#b0cce6"/><rect x="365.65" y="62.9" width="4.54" height="6.55" fill="#b4cee8"/><rect x="370.15" y="62.9" width="4.54" height="6.55" fill="#c0d8ec"/><rect x="374.64" y="62.9" width="4.54" height="6.55" fill="#f8f2c0"/><rect x="379.13" y="62.9" width="4.54" height="6.55" fill="#eef4e0"/><rect x="383.62" y="62.9" width="4.54" height="6.55" fill="#c4dcf0"/><rect x="388.11" y="62.9" width="4.54" height="6.55" fill="#faf0b4"/><rect x="392.6" y="62.9" width="4.54" height="6.55" fill="#6890c8"/><rect x="397.09" y="62.9" width="4.54" height="6.55" fill="#d4e6f2"/><rect x="401.58" y="62.9" width="4.54" height="6.55" fill="#e4eee8"/><rect x="406.07" y="62.9" width="4.54" height="6.55" fill="#f6f2c4"/><rect x="410.56" y="62.9" width="4.54" height="6.55" fill="#d4e6f2"/><rect x="415.05" y="62.9" width="4.54" height="6.55" fill="#d0e2f0"/><rect x="419.55" y="62.9" width="4.54" height="6.55" fill="#d4e6f2"/><rect x="424.04" y="62.9" width="4.54" height="6.55" fill="#d0e2f0"/><rect x="428.53" y="62.9" width="4.54" height="6.55" fill="#ccdff0"/><rect x="433.02" y="62.9" width="4.54" height="6.55" fill="#e2eeec"/><rect x="437.51" y="62.9" width="4.54" height="6.55" fill="#e8f0e6"/><rect x="244.4" y="69.4" width="4.54" height="6.55" fill="#c8ddf0"/><rect x="248.89" y="69.4" width="4.54" height="6.55" fill="#7096c8"/><rect x="253.38" y="69.4" width="4.54" height="6.55" fill="#a8c4e0"/><rect x="257.87" y="69.4" width="4.54" height="6.55" fill="#c4d9ec"/><rect x="262.36" y="69.4" width="4.54" height="6.55" fill="#cde0ef"/><rect x="266.85" y="69.4" width="4.54" height="6.55" fill="#b8cde6"/><rect x="271.35" y="69.4" width="4.54" height="6.55" fill="#f8eeb0"/><rect x="275.84" y="69.4" width="4.54" height="6.55" fill="#e4eff0"/><rect x="280.33" y="69.4" width="4.54" height="6.55" fill="#eef2dd"/><rect x="284.82" y="69.4" width="4.54" height="6.55" fill="#e6efe8"/><rect x="289.31" y="69.4" width="4.54" height="6.55" fill="#e4eee8"/><rect x="293.8" y="69.4" width="4.54" height="6.55" fill="#d0e2f2"/><rect x="298.29" y="69.4" width="4.54" height="6.55" fill="#e0eced"/><rect x="302.78" y="69.4" width="4.54" height="6.55" fill="#d8e8f2"/><rect x="307.27" y="69.4" width="4.54" height="6.55" fill="#faf2c0"/><rect x="311.76" y="69.4" width="4.54" height="6.55" fill="#e8f0e4"/><rect x="316.25" y="69.4" width="4.54" height="6.55" fill="#f6dc98"/><rect x="320.75" y="69.4" width="4.54" height="6.55" fill="#d4e5f2"/><rect x="325.24" y="69.4" width="4.54" height="6.55" fill="#e0ecf0"/><rect x="329.73" y="69.4" width="4.54" height="6.55" fill="#c8dcef"/><rect x="334.22" y="69.4" width="4.54" height="6.55" fill="#faf0c0"/><rect x="338.71" y="69.4" width="4.54" height="6.55" fill="#f8e8b0"/><rect x="343.2" y="69.4" width="4.54" height="6.55" fill="#a8c6e4"/><rect x="347.69" y="69.4" width="4.54" height="6.55" fill="#c0d8ee"/><rect x="352.18" y="69.4" width="4.54" height="6.55" fill="#d8643e"/><rect x="356.67" y="69.4" width="4.54" height="6.55" fill="#f4f6d8"/><rect x="361.16" y="69.4" width="4.54" height="6.55" fill="#cce0f0"/><rect x="365.65" y="69.4" width="4.54" height="6.55" fill="#c6dcee"/><rect x="370.15" y="69.4" width="4.54" height="6.55" fill="#a8c6e4"/><rect x="374.64" y="69.4" width="4.54" height="6.55" fill="#e6f0ec"/><rect x="379.13" y="69.4" width="4.54" height="6.55" fill="#c8dff0"/><rect x="383.62" y="69.4" width="4.54" height="6.55" fill="#faf0b4"/><rect x="388.11" y="69.4" width="4.54" height="6.55" fill="#5c86c0"/><rect x="392.6" y="69.4" width="4.54" height="6.55" fill="#e4eef0"/><rect x="397.09" y="69.4" width="4.54" height="6.55" fill="#9cbcdc"/><rect x="401.58" y="69.4" width="4.54" height="6.55" fill="#c0d8ec"/><rect x="406.07" y="69.4" width="4.54" height="6.55" fill="#90b4d8"/><rect x="410.56" y="69.4" width="4.54" height="6.55" fill="#b4d0e8"/><rect x="415.05" y="69.4" width="4.54" height="6.55" fill="#b0cce6"/><rect x="419.55" y="69.4" width="4.54" height="6.55" fill="#e4eef2"/><rect x="424.04" y="69.4" width="4.54" height="6.55" fill="#b4cee8"/><rect x="428.53" y="69.4" width="4.54" height="6.55" fill="#b8d2ea"/><rect x="433.02" y="69.4" width="4.54" height="6.55" fill="#98b8dc"/><rect x="437.51" y="69.4" width="4.54" height="6.55" fill="#dfeaf2"/><line x1="244.4" y1="49.6" x2="244.4" y2="76.2" stroke="#555" stroke-width="0.6"/><path d="M440.5 49.6H442V76.2H440.5" fill="none" stroke="#666" stroke-width="0.6"/><text x="212.5" y="58.6" font-size="6.7" fill="#222" stroke="#222" stroke-width="0.19" textLength="28.3" lengthAdjust="spacingAndGlyphs">CD40/IL4</text><text x="229.8" y="72.9" font-size="6.7" fill="#222" stroke="#222" stroke-width="0.19" textLength="11" lengthAdjust="spacingAndGlyphs">LPS</text><text x="445.8" y="64.6" font-size="6.7" fill="#222" stroke="#222" stroke-width="0.19" textLength="15.5" lengthAdjust="spacingAndGlyphs">OBF1</text><text x="248.05" y="45.2" font-size="4" fill="#3a3a3a" stroke="#3a3a3a" stroke-width="0.11" textLength="11.5" lengthAdjust="spacingAndGlyphs" transform="rotate(-90 248.05 45.2)">Nfkb2</text><text x="252.54" y="45.2" font-size="4" fill="#3a3a3a" stroke="#3a3a3a" stroke-width="0.11" textLength="8.3" lengthAdjust="spacingAndGlyphs" transform="rotate(-90 252.54 45.2)">Tlr1</text><text x="257.03" y="45.2" font-size="4" fill="#3a3a3a" stroke="#3a3a3a" stroke-width="0.11" textLength="8.7" lengthAdjust="spacingAndGlyphs" transform="rotate(-90 257.03 45.2)">Nfil3</text><text x="261.52" y="45.2" font-size="4" fill="#3a3a3a" stroke="#3a3a3a" stroke-width="0.11" textLength="9.3" lengthAdjust="spacingAndGlyphs" transform="rotate(-90 261.52 45.2)">Il4i1</text><text x="266.01" y="45.2" font-size="4" fill="#3a3a3a" stroke="#3a3a3a" stroke-width="0.11" textLength="8.3" lengthAdjust="spacingAndGlyphs" transform="rotate(-90 266.01 45.2)">Sdc4</text><text x="270.5" y="45.2" font-size="4" fill="#3a3a3a" stroke="#3a3a3a" stroke-width="0.11" textLength="7.2" lengthAdjust="spacingAndGlyphs" transform="rotate(-90 270.5 45.2)">Ets1</text><text x="274.99" y="45.2" font-size="4" fill="#3a3a3a" stroke="#3a3a3a" stroke-width="0.11" textLength="14.6" lengthAdjust="spacingAndGlyphs" transform="rotate(-90 274.99 45.2)">Hmgb2</text><text x="279.48" y="45.2" font-size="4" fill="#3a3a3a" stroke="#3a3a3a" stroke-width="0.11" textLength="12.5" lengthAdjust="spacingAndGlyphs" transform="rotate(-90 279.48 45.2)">Nfkb1</text><text x="283.97" y="45.2" font-size="4" fill="#3a3a3a" stroke="#3a3a3a" stroke-width="0.11" textLength="11.5" lengthAdjust="spacingAndGlyphs" transform="rotate(-90 283.97 45.2)">Tbc1d9</text><text x="288.46" y="45.2" font-size="4" fill="#3a3a3a" stroke="#3a3a3a" stroke-width="0.11" textLength="10.4" lengthAdjust="spacingAndGlyphs" transform="rotate(-90 288.46 45.2)">H2-DMa</text><text x="292.95" y="45.2" font-size="4" fill="#3a3a3a" stroke="#3a3a3a" stroke-width="0.11" textLength="16.7" lengthAdjust="spacingAndGlyphs" transform="rotate(-90 292.95 45.2)">Bcl2a1b</text><text x="297.45" y="45.2" font-size="4" fill="#3a3a3a" stroke="#3a3a3a" stroke-width="0.11" textLength="13.6" lengthAdjust="spacingAndGlyphs" transform="rotate(-90 297.45 45.2)">Traf1</text><text x="301.94" y="45.2" font-size="4" fill="#3a3a3a" stroke="#3a3a3a" stroke-width="0.11" textLength="12.5" lengthAdjust="spacingAndGlyphs" transform="rotate(-90 301.94 45.2)">Birc3</text><text x="306.43" y="45.2" font-size="4" fill="#3a3a3a" stroke="#3a3a3a" stroke-width="0.11" textLength="13.6" lengthAdjust="spacingAndGlyphs" transform="rotate(-90 306.43 45.2)">Cd83</text><text x="310.92" y="45.2" font-size="4" fill="#3a3a3a" stroke="#3a3a3a" stroke-width="0.11" textLength="13.6" lengthAdjust="spacingAndGlyphs" transform="rotate(-90 310.92 45.2)">Irf4</text><text x="315.41" y="45.2" font-size="4" fill="#3a3a3a" stroke="#3a3a3a" stroke-width="0.11" textLength="9.3" lengthAdjust="spacingAndGlyphs" transform="rotate(-90 315.41 45.2)">Gadd45b</text><text x="319.9" y="45.2" font-size="4" fill="#3a3a3a" stroke="#3a3a3a" stroke-width="0.11" textLength="6.2" lengthAdjust="spacingAndGlyphs" transform="rotate(-90 319.9 45.2)">Pim1</text><text x="324.39" y="45.2" font-size="4" fill="#3a3a3a" stroke="#3a3a3a" stroke-width="0.11" textLength="11.5" lengthAdjust="spacingAndGlyphs" transform="rotate(-90 324.39 45.2)">Rel</text><text x="328.88" y="45.2" font-size="4" fill="#3a3a3a" stroke="#3a3a3a" stroke-width="0.11" textLength="10.4" lengthAdjust="spacingAndGlyphs" transform="rotate(-90 328.88 45.2)">Myc</text><text x="333.37" y="45.2" font-size="4" fill="#3a3a3a" stroke="#3a3a3a" stroke-width="0.11" textLength="7.2" lengthAdjust="spacingAndGlyphs" transform="rotate(-90 333.37 45.2)">Cd40</text><text x="337.86" y="45.2" font-size="4" fill="#3a3a3a" stroke="#3a3a3a" stroke-width="0.11" textLength="7.2" lengthAdjust="spacingAndGlyphs" transform="rotate(-90 337.86 45.2)">Ccl22</text><text x="342.35" y="45.2" font-size="4" fill="#3a3a3a" stroke="#3a3a3a" stroke-width="0.11" textLength="11.5" lengthAdjust="spacingAndGlyphs" transform="rotate(-90 342.35 45.2)">Ebi3</text><text x="346.85" y="45.2" font-size="4" fill="#3a3a3a" stroke="#3a3a3a" stroke-width="0.11" textLength="11.5" lengthAdjust="spacingAndGlyphs" transform="rotate(-90 346.85 45.2)">Nfkbia</text><text x="351.34" y="45.2" font-size="4" fill="#3a3a3a" stroke="#3a3a3a" stroke-width="0.11" textLength="10.4" lengthAdjust="spacingAndGlyphs" transform="rotate(-90 351.34 45.2)">Nfkbie</text><text x="355.83" y="45.2" font-size="4" fill="#3a3a3a" stroke="#3a3a3a" stroke-width="0.11" textLength="10.4" lengthAdjust="spacingAndGlyphs" transform="rotate(-90 355.83 45.2)">Tnfaip3</text><text x="360.32" y="45.2" font-size="4" fill="#3a3a3a" stroke="#3a3a3a" stroke-width="0.11" textLength="12.5" lengthAdjust="spacingAndGlyphs" transform="rotate(-90 360.32 45.2)">Relb</text><text x="364.81" y="45.2" font-size="4" fill="#3a3a3a" stroke="#3a3a3a" stroke-width="0.11" textLength="8.3" lengthAdjust="spacingAndGlyphs" transform="rotate(-90 364.81 45.2)">Cxcr4</text><text x="369.3" y="45.2" font-size="4" fill="#3a3a3a" stroke="#3a3a3a" stroke-width="0.11" textLength="8.3" lengthAdjust="spacingAndGlyphs" transform="rotate(-90 369.3 45.2)">Bcl6</text><text x="373.79" y="45.2" font-size="4" fill="#3a3a3a" stroke="#3a3a3a" stroke-width="0.11" textLength="11.5" lengthAdjust="spacingAndGlyphs" transform="rotate(-90 373.79 45.2)">Gadd45g</text><text x="378.28" y="45.2" font-size="4" fill="#3a3a3a" stroke="#3a3a3a" stroke-width="0.11" textLength="17.8" lengthAdjust="spacingAndGlyphs" transform="rotate(-90 378.28 45.2)">Lef1</text><text x="382.77" y="45.2" font-size="4" fill="#3a3a3a" stroke="#3a3a3a" stroke-width="0.11" textLength="11.5" lengthAdjust="spacingAndGlyphs" transform="rotate(-90 382.77 45.2)">Ccr7</text><text x="387.26" y="45.2" font-size="4" fill="#3a3a3a" stroke="#3a3a3a" stroke-width="0.11" textLength="10.4" lengthAdjust="spacingAndGlyphs" transform="rotate(-90 387.26 45.2)">Spib</text><text x="391.75" y="45.2" font-size="4" fill="#3a3a3a" stroke="#3a3a3a" stroke-width="0.11" textLength="13.6" lengthAdjust="spacingAndGlyphs" transform="rotate(-90 391.75 45.2)">Mef2b</text><text x="396.25" y="45.2" font-size="4" fill="#3a3a3a" stroke="#3a3a3a" stroke-width="0.11" textLength="12.5" lengthAdjust="spacingAndGlyphs" transform="rotate(-90 396.25 45.2)">Pou2af1</text><text x="400.74" y="45.2" font-size="4" fill="#3a3a3a" stroke="#3a3a3a" stroke-width="0.11" textLength="12.5" lengthAdjust="spacingAndGlyphs" transform="rotate(-90 400.74 45.2)">Cd69</text><text x="405.23" y="45.2" font-size="4" fill="#3a3a3a" stroke="#3a3a3a" stroke-width="0.11" textLength="12.5" lengthAdjust="spacingAndGlyphs" transform="rotate(-90 405.23 45.2)">Egr3</text><text x="409.72" y="45.2" font-size="4" fill="#3a3a3a" stroke="#3a3a3a" stroke-width="0.11" textLength="15.7" lengthAdjust="spacingAndGlyphs" transform="rotate(-90 409.72 45.2)">Irf8</text><text x="414.21" y="45.2" font-size="4" fill="#3a3a3a" stroke="#3a3a3a" stroke-width="0.11" textLength="12.5" lengthAdjust="spacingAndGlyphs" transform="rotate(-90 414.21 45.2)">Foxo1</text><text x="418.7" y="45.2" font-size="4" fill="#3a3a3a" stroke="#3a3a3a" stroke-width="0.11" textLength="10.4" lengthAdjust="spacingAndGlyphs" transform="rotate(-90 418.7 45.2)">Bach2</text><text x="423.19" y="45.2" font-size="4" fill="#3a3a3a" stroke="#3a3a3a" stroke-width="0.11" textLength="12.5" lengthAdjust="spacingAndGlyphs" transform="rotate(-90 423.19 45.2)">Aicda</text><text x="427.68" y="45.2" font-size="4" fill="#3a3a3a" stroke="#3a3a3a" stroke-width="0.11" textLength="12.5" lengthAdjust="spacingAndGlyphs" transform="rotate(-90 427.68 45.2)">Ikzf3</text><text x="432.17" y="45.2" font-size="4" fill="#3a3a3a" stroke="#3a3a3a" stroke-width="0.11" textLength="11.5" lengthAdjust="spacingAndGlyphs" transform="rotate(-90 432.17 45.2)">Slamf1</text><text x="436.66" y="45.2" font-size="4" fill="#3a3a3a" stroke="#3a3a3a" stroke-width="0.11" textLength="11.5" lengthAdjust="spacingAndGlyphs" transform="rotate(-90 436.66 45.2)">Il21r</text><text x="441.15" y="45.2" font-size="4" fill="#3a3a3a" stroke="#3a3a3a" stroke-width="0.11" textLength="10.4" lengthAdjust="spacingAndGlyphs" transform="rotate(-90 441.15 45.2)">Aicda1</text><defs><linearGradient id="gB" x1="0" x2="1" y1="0" y2="0"><stop offset="0" stop-color="#3d68b4"/><stop offset="0.25" stop-color="#a9c8e4"/><stop offset="0.5" stop-color="#fbf9c8"/><stop offset="0.75" stop-color="#f2a866"/><stop offset="1" stop-color="#b82a26"/></linearGradient></defs><rect x="266.2" y="82.7" width="30.2" height="5.4" fill="url(#gB)" stroke="#555" stroke-width="0.4"/><text x="266.8" y="93.6" font-size="4.6" text-anchor="middle" fill="#222" stroke="#222" stroke-width="0.13">-2</text><text x="274.05" y="93.6" font-size="4.6" text-anchor="middle" fill="#222" stroke="#222" stroke-width="0.13">-1</text><text x="281.3" y="93.6" font-size="4.6" text-anchor="middle" fill="#222" stroke="#222" stroke-width="0.13">0</text><text x="288.55" y="93.6" font-size="4.6" text-anchor="middle" fill="#222" stroke="#222" stroke-width="0.13">1</text><text x="295.8" y="93.6" font-size="4.6" text-anchor="middle" fill="#222" stroke="#222" stroke-width="0.13">2</text><text x="309.2" y="84.3" font-size="6.6" fill="#222" stroke="#222" stroke-width="0.18" textLength="109.3" lengthAdjust="spacingAndGlyphs">OBF1 ChIP enrichment at promoters</text><text x="250.5" y="124" font-size="6.4" stroke="#000" stroke-width="0.18" textLength="12.7" lengthAdjust="spacingAndGlyphs">5 kb</text><line x1="266.4" y1="122.5" x2="307.7" y2="122.5" stroke="#222" stroke-width="0.7"/><line x1="266.4" y1="121.4" x2="266.4" y2="123.6" stroke="#222" stroke-width="0.6"/><line x1="307.7" y1="121.4" x2="307.7" y2="123.6" stroke="#222" stroke-width="0.6"/><text x="310.8" y="124" font-size="6.4" stroke="#000" stroke-width="0.18" textLength="14.6" lengthAdjust="spacingAndGlyphs" font-style="italic">mm9</text><line x1="262" y1="129.5" x2="312.3" y2="129.5" stroke="#111" stroke-width="0.7"/><rect x="262" y="128.4" width="17" height="2.2" fill="#111"/><circle cx="279.2" cy="129.5" r="0.95" fill="#111"/><circle cx="286.2" cy="129.5" r="0.95" fill="#111"/><circle cx="290.8" cy="129.5" r="0.95" fill="#111"/><circle cx="294.6" cy="129.5" r="0.95" fill="#111"/><path d="M312.3 129.5V126.9h-2.2" fill="none" stroke="#111" stroke-width="0.6"/><path d="M309.7 126.9l1.2 -0.9v1.8z" fill="#111"/><text x="315.8" y="131.3" font-size="6.4" stroke="#000" stroke-width="0.18" textLength="13.4" lengthAdjust="spacingAndGlyphs" font-style="italic">Spib</text><text x="212.7" y="141.5" font-size="6.7" fill="#6f6a58" stroke="#6f6a58" stroke-width="0.19" textLength="14.4" lengthAdjust="spacingAndGlyphs">Oct2</text><text x="212.7" y="151.1" font-size="6.7" fill="#8c2b95" stroke="#8c2b95" stroke-width="0.19" textLength="16.2" lengthAdjust="spacingAndGlyphs">OBF1</text><text x="212.7" y="161.1" font-size="6.7" fill="#5c8fd8" stroke="#5c8fd8" stroke-width="0.19" textLength="14" lengthAdjust="spacingAndGlyphs">Oct1</text><line x1="230.3" y1="141.6" x2="344.6" y2="141.6" stroke="#a6a290" stroke-width="0.7"/><path d="M230.3 141.6L230.3 141.6L230.7 141.6L231.0 141.5L231.3 141.6L231.7 141.6L232.0 141.5L232.4 141.4L232.7 141.3L233.1 141.3L233.4 141.3L233.8 141.4L234.1 141.5L234.5 141.6L237.6 141.6L238.0 141.5L238.3 141.4L238.7 141.4L239.0 141.4L239.4 141.5L239.7 141.6L241.5 141.6L241.8 141.4L242.2 141.2L242.5 141.2L242.9 141.4L243.2 141.6L245.0 141.6L245.3 141.4L245.7 141.4L246.0 141.5L246.4 141.6L247.8 141.6L248.1 141.4L248.5 140.8L248.8 140.7L249.2 141.1L249.5 141.4L249.9 141.6L257.6 141.6L257.9 141.3L258.3 141.0L258.6 141.2L259.0 141.5L259.3 141.6L259.7 141.4L260.0 141.1L260.4 141.0L260.7 141.3L261.1 141.5L261.4 141.6L261.8 141.5L262.1 141.4L262.5 141.4L262.8 141.4L263.2 141.5L263.5 141.6L268.8 141.6L269.1 141.4L269.5 141.4L269.8 141.5L270.2 141.6L276.5 141.6L276.8 141.5L277.2 141.5L277.5 141.6L283.8 141.6L284.2 141.5L284.5 141.4L284.9 141.3L285.2 141.1L285.6 140.9L285.9 140.9L286.3 141.1L286.6 141.3L287.0 141.5L287.3 141.6L288.0 141.6L288.4 141.5L288.7 141.5L289.1 141.5L289.4 141.6L290.8 141.6L291.2 141.4L291.5 141.2L291.9 140.6L292.2 140.0L292.6 139.5L292.9 139.4L293.3 139.9L293.6 140.5L294.0 141.1L294.3 141.4L294.7 141.6L295.7 141.6L296.1 141.5L296.4 141.4L296.8 141.1L297.1 140.9L297.5 140.9L297.8 141.1L298.2 141.4L298.5 141.5L298.9 141.6L300.3 141.6L300.6 141.5L301.0 141.3L301.3 141.2L301.7 141.1L302.0 141.3L302.4 141.5L302.7 141.6L303.1 141.6L303.4 141.5L303.8 141.5L304.1 141.5L304.5 141.5L304.8 141.5L305.2 141.6L305.5 141.5L305.9 141.3L306.2 140.7L306.6 139.5L306.9 138.1L307.3 137.4L307.6 138.0L308.0 139.2L308.3 140.1L308.7 140.9L309.0 141.3L309.4 141.4L309.7 141.4L310.1 141.5L310.4 141.5L310.8 141.6L312.2 141.6L312.5 141.4L312.9 141.1L313.2 141.0L313.6 141.2L313.9 141.5L314.3 141.6L315.0 141.6L315.3 141.5L315.7 141.4L316.0 141.2L316.4 141.1L316.7 141.2L317.1 141.4L317.4 141.5L317.8 141.6L320.9 141.6L321.3 141.5L321.6 141.3L322.0 140.9L322.3 140.8L322.7 141.0L323.0 141.4L323.4 141.5L323.7 141.6L324.1 141.5L324.4 141.5L324.8 141.4L325.1 141.4L325.5 141.4L325.8 141.4L326.2 141.3L326.5 141.3L326.9 141.4L327.2 141.4L327.6 141.2L327.9 141.2L328.3 141.2L328.6 141.1L329.0 140.9L329.3 140.8L329.7 140.9L330.0 141.1L330.4 141.4L330.7 141.5L331.1 141.6L331.4 141.6L331.8 141.5L332.1 141.4L332.5 141.3L332.8 141.4L333.2 141.5L333.5 141.6L343.7 141.6L344.0 141.5L344.4 141.6L344.6 141.6Z" fill="#4d4838"/><line x1="230.3" y1="151.4" x2="344.6" y2="151.4" stroke="#bd7cc4" stroke-width="0.7"/><path d="M230.3 151.4L230.3 151.4L231.3 151.4L231.7 151.3L232.0 151.4L234.8 151.4L235.2 151.3L235.5 151.1L235.9 151.0L236.2 151.0L236.6 151.1L236.9 151.3L237.3 151.4L239.7 151.4L240.1 151.3L240.4 151.2L240.8 151.0L241.1 150.9L241.5 150.7L241.8 150.8L242.2 151.1L242.5 151.3L242.9 151.4L250.2 151.4L250.6 151.3L250.9 151.2L251.3 151.1L251.6 151.1L252.0 151.2L252.3 151.3L252.7 151.4L253.0 151.3L253.4 151.3L253.7 151.3L254.1 151.2L254.4 151.2L254.8 151.3L255.1 151.4L262.8 151.4L263.2 151.3L263.5 151.2L263.9 151.1L264.2 151.1L264.6 151.2L264.9 151.3L265.3 151.4L265.6 151.4L266.0 151.3L266.3 151.1L266.7 150.7L267.0 150.6L267.4 151.0L267.7 151.3L268.1 151.4L268.4 151.4L268.8 151.2L269.1 151.2L269.5 151.3L269.8 151.4L273.0 151.4L273.3 151.3L273.7 151.2L274.0 151.1L274.4 151.0L274.7 151.1L275.1 151.3L275.4 151.4L278.6 151.4L278.9 151.2L279.3 150.9L279.6 150.3L280.0 150.1L280.3 150.3L280.7 150.8L281.0 151.2L281.4 151.3L281.7 151.3L282.1 151.2L282.4 151.2L282.8 151.2L283.1 151.3L283.5 151.4L287.3 151.4L287.7 151.1L288.0 150.7L288.4 150.6L288.7 150.8L289.1 150.9L289.4 151.0L289.8 151.2L290.1 151.3L290.5 151.3L290.8 151.3L291.2 151.0L291.5 150.5L291.9 149.6L292.2 148.5L292.6 147.7L292.9 147.7L293.3 148.4L293.6 149.4L294.0 150.3L294.3 150.6L294.7 150.6L295.0 151.1L295.4 151.4L299.2 151.4L299.6 151.3L299.9 151.3L300.3 151.2L300.6 151.2L301.0 151.2L301.3 151.2L301.7 151.2L302.0 151.2L302.4 151.1L302.7 151.1L303.1 151.2L303.4 151.3L303.8 151.4L304.5 151.4L304.8 151.3L305.2 151.1L305.5 150.9L305.9 150.8L306.2 149.7L306.6 147.5L306.9 144.8L307.3 143.6L307.6 144.8L308.0 147.5L308.3 149.7L308.7 150.9L309.0 151.3L309.4 151.3L309.7 151.3L310.1 151.4L311.5 151.4L311.8 151.3L312.2 151.1L312.5 150.6L312.9 150.2L313.2 150.3L313.6 150.8L313.9 151.2L314.3 151.4L314.6 151.4L315.0 151.3L315.3 151.2L315.7 151.0L316.0 150.9L316.4 151.0L316.7 151.2L317.1 151.3L317.4 151.4L323.7 151.4L324.1 151.3L324.4 151.2L324.8 151.0L325.1 151.0L325.5 151.1L325.8 151.2L326.2 151.3L326.5 151.3L326.9 151.2L327.2 151.0L327.6 151.1L327.9 151.2L328.3 151.4L330.7 151.4L331.1 151.3L331.4 151.0L331.8 150.5L332.1 149.9L332.5 150.0L332.8 150.4L333.2 150.9L333.5 151.1L333.9 151.2L334.2 151.3L334.6 151.3L334.9 151.4L341.9 151.4L342.3 151.3L342.6 151.3L343.0 151.3L343.3 151.4L344.4 151.4L344.6 151.4Z" fill="#7d1489"/><line x1="230.3" y1="161.4" x2="344.6" y2="161.4" stroke="#9cbcf4" stroke-width="0.7"/><path d="M230.3 161.4L230.3 161.4L239.0 161.4L239.4 161.3L239.7 161.3L240.1 161.3L240.4 161.3L240.8 161.3L241.1 161.4L242.5 161.4L242.9 161.3L243.2 161.2L243.6 161.2L243.9 161.1L244.3 161.0L244.6 160.9L245.0 161.0L245.3 161.2L245.7 161.4L246.0 161.4L246.4 161.1L246.7 160.6L247.1 160.3L247.4 160.8L247.8 161.3L248.1 161.4L249.5 161.4L249.9 161.3L250.2 161.1L250.6 160.8L250.9 160.8L251.3 160.9L251.6 161.1L252.0 161.3L252.3 161.4L254.1 161.4L254.4 161.2L254.8 161.0L255.1 160.9L255.5 161.0L255.8 161.1L256.2 161.3L256.5 161.4L262.5 161.4L262.8 161.3L263.2 161.1L263.5 160.8L263.9 160.3L264.2 160.1L264.6 160.3L264.9 160.7L265.3 161.1L265.6 161.3L266.0 161.4L272.3 161.4L272.6 161.3L273.0 161.3L273.3 161.3L273.7 161.1L274.0 160.9L274.4 160.6L274.7 160.5L275.1 160.5L275.4 160.5L275.8 160.1L276.1 160.3L276.5 161.0L276.8 161.4L278.2 161.4L278.6 161.2L278.9 161.0L279.3 160.5L279.6 160.0L280.0 159.9L280.3 160.3L280.7 160.9L281.0 161.3L281.4 161.4L284.5 161.4L284.9 161.3L285.2 161.3L285.6 161.3L285.9 161.4L289.4 161.4L289.8 161.3L290.1 161.2L290.5 161.2L290.8 161.2L291.2 161.3L291.5 161.3L291.9 161.0L292.2 160.2L292.6 158.9L292.9 157.9L293.3 157.8L293.6 158.6L294.0 159.9L294.3 160.8L294.7 161.0L295.0 161.0L295.4 161.1L295.7 161.3L296.1 161.4L296.4 161.3L296.8 161.3L297.1 161.3L297.5 161.4L298.5 161.4L298.9 161.3L299.2 161.0L299.6 160.8L299.9 160.6L300.3 160.6L300.6 160.8L301.0 160.9L301.3 160.9L301.7 160.9L302.0 161.0L302.4 161.2L302.7 161.3L303.1 161.4L305.5 161.4L305.9 161.2L306.2 160.5L306.6 158.4L306.9 155.3L307.3 153.6L307.6 155.2L308.0 158.0L308.3 159.9L308.7 160.8L309.0 161.2L309.4 161.4L311.5 161.4L311.8 161.3L312.2 161.1L312.5 160.7L312.9 160.4L313.2 160.5L313.6 160.9L313.9 161.2L314.3 161.4L316.0 161.4L316.4 161.3L316.7 160.7L317.1 160.3L317.4 161.0L317.8 161.4L318.1 161.4L318.5 161.2L318.8 161.0L319.2 161.3L319.5 161.4L319.9 161.3L320.2 161.1L320.6 161.3L320.9 161.4L325.8 161.4L326.2 161.2L326.5 160.8L326.9 160.5L327.2 160.4L327.6 160.7L327.9 161.1L328.3 161.3L328.6 161.4L329.0 161.4L329.3 161.3L329.7 161.2L330.0 161.2L330.4 161.3L330.7 161.4L331.4 161.4L331.8 161.3L332.1 161.2L332.5 161.2L332.8 161.3L333.2 161.4L334.6 161.4L334.9 161.3L335.3 161.0L335.6 160.6L336.0 160.4L336.3 160.6L336.7 161.0L337.0 161.2L337.4 161.4L338.4 161.4L338.8 161.3L339.1 161.2L339.5 161.1L339.8 161.1L340.2 160.9L340.5 160.6L340.9 160.8L341.2 161.0L341.6 161.1L341.9 161.2L342.3 161.4L344.4 161.4L344.6 161.4Z" fill="#3f82ee"/><text x="248.8" y="177.9" font-size="6.4" stroke="#000" stroke-width="0.18" textLength="15.6" lengthAdjust="spacingAndGlyphs">10 kb</text><line x1="267.7" y1="175.5" x2="306.8" y2="175.5" stroke="#222" stroke-width="0.7"/><line x1="267.7" y1="174.4" x2="267.7" y2="176.6" stroke="#222" stroke-width="0.6"/><line x1="306.8" y1="174.4" x2="306.8" y2="176.6" stroke="#222" stroke-width="0.6"/><text x="309.6" y="177.9" font-size="6.4" stroke="#000" stroke-width="0.18" textLength="15" lengthAdjust="spacingAndGlyphs">mm9</text><line x1="259.4" y1="184.5" x2="315.2" y2="184.5" stroke="#111" stroke-width="0.7"/><rect x="305" y="183.4" width="10.2" height="2.2" fill="#111"/><circle cx="298" cy="184.5" r="0.95" fill="#111"/><circle cx="301" cy="184.5" r="0.95" fill="#111"/><circle cx="304" cy="184.5" r="0.95" fill="#111"/><path d="M259.4 184.5V181.9h-2.2" fill="none" stroke="#111" stroke-width="0.6"/><path d="M256.8 181.9l1.2 -0.9v1.8z" fill="#111"/><text x="236.2" y="186.3" font-size="6.4" stroke="#000" stroke-width="0.18" textLength="19.8" lengthAdjust="spacingAndGlyphs" font-style="italic">Mef2b</text><text x="212.7" y="195.2" font-size="6.7" fill="#6f6a58" stroke="#6f6a58" stroke-width="0.19" textLength="14.4" lengthAdjust="spacingAndGlyphs">Oct2</text><text x="212.7" y="204.3" font-size="6.7" fill="#8c2b95" stroke="#8c2b95" stroke-width="0.19" textLength="16.2" lengthAdjust="spacingAndGlyphs">OBF1</text><text x="212.7" y="214.2" font-size="6.7" fill="#5c8fd8" stroke="#5c8fd8" stroke-width="0.19" textLength="14" lengthAdjust="spacingAndGlyphs">Oct1</text><line x1="230.7" y1="194.4" x2="344.4" y2="194.4" stroke="#a6a290" stroke-width="0.7"/><path d="M230.7 194.4L230.7 194.4L234.2 194.4L234.5 194.3L234.9 194.1L235.2 193.8L235.6 193.8L235.9 194.0L236.3 194.2L236.6 194.4L238.0 194.4L238.4 194.3L238.7 194.2L239.1 194.2L239.4 194.2L239.8 194.2L240.1 194.2L240.5 194.3L240.8 194.4L242.6 194.4L242.9 194.3L243.3 194.3L243.6 194.3L244.0 194.3L244.3 194.4L248.9 194.4L249.2 194.3L249.6 194.3L249.9 194.2L250.3 194.2L250.6 194.2L251.0 194.2L251.3 194.2L251.7 194.3L252.0 194.4L254.1 194.4L254.5 194.2L254.8 194.1L255.2 194.0L255.5 194.0L255.9 194.1L256.2 194.3L256.6 194.4L256.9 194.4L257.3 194.3L257.6 194.0L258.0 193.4L258.3 192.9L258.7 192.9L259.0 193.5L259.4 194.1L259.7 194.3L260.1 194.4L267.8 194.4L268.1 194.3L268.5 194.3L268.8 194.2L269.2 194.2L269.5 194.2L269.9 194.1L270.2 193.9L270.6 194.0L270.9 194.2L271.3 194.4L271.6 194.4L272.0 194.3L272.3 194.2L272.7 194.2L273.0 194.2L273.4 194.3L273.7 194.4L274.4 194.4L274.8 194.3L275.1 194.3L275.5 194.2L275.8 194.2L276.2 194.3L276.5 194.3L276.9 194.2L277.2 194.1L277.6 193.9L277.9 193.8L278.3 193.9L278.6 194.0L279.0 194.1L279.3 194.1L279.7 194.1L280.0 194.1L280.4 194.2L280.7 194.3L281.1 194.4L285.3 194.4L285.6 194.3L286.0 194.0L286.3 193.1L286.7 191.8L287.0 190.5L287.4 190.2L287.7 191.1L288.1 192.4L288.4 193.4L288.8 193.9L289.1 194.1L289.5 194.3L289.8 194.3L290.2 194.3L290.5 194.2L290.9 194.3L291.2 194.4L291.6 194.4L291.9 194.3L292.3 194.2L292.6 194.2L293.0 194.3L293.3 194.4L309.1 194.4L309.4 194.3L309.8 194.3L310.1 194.4L319.6 194.4L319.9 194.3L320.3 194.2L320.6 194.3L321.0 194.3L321.3 194.2L321.7 194.1L322.0 194.1L322.4 194.2L322.7 194.3L323.1 194.3L323.4 194.3L323.8 194.2L324.1 194.1L324.5 194.3L324.8 194.4L330.4 194.4L330.8 194.3L331.1 194.3L331.5 194.3L331.8 194.3L332.2 194.4L334.6 194.4L335.0 194.3L335.3 194.4L337.1 194.4L337.4 194.3L337.8 194.2L338.1 194.2L338.5 194.3L338.8 194.4L344.1 194.4L344.4 194.4Z" fill="#4d4838"/><line x1="230.7" y1="204.2" x2="344.4" y2="204.2" stroke="#bd7cc4" stroke-width="0.7"/><path d="M230.7 204.2L230.7 203.2L231.0 203.3L231.4 203.8L231.7 204.1L232.1 204.1L232.4 204.1L232.8 204.2L248.2 204.2L248.5 204.1L248.9 204.1L249.2 204.2L251.7 204.2L252.0 204.1L252.4 204.1L252.7 204.0L253.1 204.0L253.4 204.1L253.8 204.2L256.6 204.2L256.9 204.1L257.3 203.7L257.6 202.4L258.0 199.3L258.3 196.2L258.7 196.7L259.0 200.3L259.4 203.1L259.7 204.0L260.1 204.2L260.8 204.2L261.1 204.1L261.5 203.8L261.8 203.9L262.2 203.8L262.5 203.9L262.9 204.1L263.2 204.2L266.7 204.2L267.1 204.1L267.4 204.1L267.8 204.0L268.1 204.0L268.5 204.1L268.8 204.2L272.7 204.2L273.0 204.1L273.4 203.9L273.7 203.7L274.1 203.6L274.4 203.8L274.8 204.0L275.1 204.1L275.5 204.1L275.8 204.0L276.2 203.9L276.5 204.0L276.9 204.1L277.2 204.2L279.0 204.2L279.3 204.1L279.7 203.9L280.0 203.6L280.4 202.8L280.7 201.7L281.1 201.1L281.4 201.8L281.8 203.1L282.1 203.9L282.5 204.2L284.2 204.2L284.6 204.1L284.9 203.9L285.3 203.9L285.6 204.0L286.0 203.8L286.3 202.7L286.7 199.8L287.0 196.3L287.4 195.4L287.7 198.1L288.1 201.5L288.4 203.3L288.8 204.0L289.1 204.2L289.8 204.2L290.2 204.1L290.5 204.0L290.9 204.1L291.2 204.1L291.6 204.2L292.6 204.2L293.0 204.1L293.3 204.1L293.7 204.1L294.0 204.1L294.4 204.2L300.7 204.2L301.0 204.1L301.4 204.0L301.7 203.8L302.1 203.6L302.4 203.4L302.8 203.4L303.1 203.6L303.5 203.9L303.8 204.0L304.2 204.2L307.0 204.2L307.3 204.1L307.7 204.0L308.0 204.0L308.4 204.1L308.7 204.2L309.1 204.1L309.4 204.0L309.8 203.9L310.1 203.9L310.5 204.0L310.8 204.1L311.2 204.1L311.5 204.2L321.3 204.2L321.7 204.1L322.0 204.0L322.4 203.9L322.7 204.0L323.1 204.2L325.5 204.2L325.9 204.0L326.2 203.8L326.6 203.6L326.9 203.6L327.3 203.8L327.6 203.9L328.0 203.7L328.3 203.6L328.7 204.0L329.0 204.2L331.8 204.2L332.2 204.1L332.5 204.0L332.9 204.1L333.2 204.2L335.3 204.2L335.7 204.0L336.0 203.9L336.4 203.9L336.7 203.9L337.1 203.9L337.4 203.8L337.8 203.8L338.1 203.9L338.5 204.0L338.8 204.1L339.2 204.1L339.5 203.8L339.9 203.4L340.2 203.5L340.6 203.9L340.9 204.2L343.4 204.2L343.7 204.1L344.1 203.9L344.4 204.2Z" fill="#7d1489"/><line x1="230.7" y1="214.3" x2="344.4" y2="214.3" stroke="#9cbcf4" stroke-width="0.7"/><path d="M230.7 214.3L230.7 214.3L235.9 214.3L236.3 214.0L236.6 213.8L237.0 214.1L237.3 214.2L237.7 214.2L238.0 214.2L238.4 214.3L239.1 214.3L239.4 214.2L239.8 214.1L240.1 214.1L240.5 214.1L240.8 214.1L241.2 214.2L241.5 214.3L243.3 214.3L243.6 214.2L244.0 214.1L244.3 214.1L244.7 214.3L245.7 214.3L246.1 214.2L246.4 214.1L246.8 214.1L247.1 214.1L247.5 214.1L247.8 214.0L248.2 214.0L248.5 214.0L248.9 214.1L249.2 214.2L249.6 214.3L250.3 214.3L250.6 214.2L251.0 214.1L251.3 213.9L251.7 213.6L252.0 213.6L252.4 213.9L252.7 214.0L253.1 213.9L253.4 213.9L253.8 214.0L254.1 214.2L254.5 214.3L256.9 214.3L257.3 214.1L257.6 213.3L258.0 211.1L258.3 208.6L258.7 208.8L259.0 210.9L259.4 212.5L259.7 213.8L260.1 214.1L260.4 213.8L260.8 213.9L261.1 214.1L261.5 214.0L261.8 213.9L262.2 213.9L262.5 214.1L262.9 214.3L265.0 214.3L265.3 214.2L265.7 213.9L266.0 213.4L266.4 213.4L266.7 213.8L267.1 214.0L267.4 214.2L267.8 214.2L268.1 214.2L268.5 214.3L272.3 214.3L272.7 214.2L273.0 214.1L273.4 214.1L273.7 214.1L274.1 214.2L274.4 214.3L279.3 214.3L279.7 214.1L280.0 213.8L280.4 213.1L280.7 211.8L281.1 210.9L281.4 211.2L281.8 212.0L282.1 212.8L282.5 213.3L282.8 213.5L283.2 213.8L283.5 214.0L283.9 214.2L284.2 214.3L285.3 214.3L285.6 214.2L286.0 213.8L286.3 212.6L286.7 210.3L287.0 207.7L287.4 207.3L287.7 209.6L288.1 212.3L288.4 213.8L288.8 214.2L289.1 214.3L290.9 214.3L291.2 214.2L291.6 214.1L291.9 214.0L292.3 213.9L292.6 214.0L293.0 214.1L293.3 214.2L293.7 214.3L304.2 214.3L304.5 214.2L304.9 214.0L305.2 214.0L305.6 214.2L305.9 214.3L311.9 214.3L312.2 214.2L312.6 214.2L312.9 214.1L313.3 214.1L313.6 214.2L314.0 214.2L314.3 214.3L317.5 214.3L317.8 214.2L318.2 214.2L318.5 214.2L318.9 214.2L319.2 214.3L320.6 214.3L321.0 214.2L321.3 213.9L321.7 213.8L322.0 214.1L322.4 214.3L327.6 214.3L328.0 214.2L328.3 214.1L328.7 213.8L329.0 213.5L329.4 213.4L329.7 213.6L330.1 213.9L330.4 214.2L330.8 214.3L331.8 214.3L332.2 214.2L332.5 213.8L332.9 213.3L333.2 213.5L333.6 214.0L333.9 214.3L339.5 214.3L339.9 214.2L340.2 214.2L340.6 214.2L340.9 214.1L341.3 214.0L341.6 213.9L342.0 213.9L342.3 214.0L342.7 214.1L343.0 214.1L343.4 213.9L343.7 213.7L344.1 214.0L344.4 214.3Z" fill="#3f82ee"/><text x="248.8" y="230.9" font-size="6.4" stroke="#000" stroke-width="0.18" textLength="16.2" lengthAdjust="spacingAndGlyphs">20 kb</text><line x1="268.6" y1="228.5" x2="306.8" y2="228.5" stroke="#222" stroke-width="0.7"/><line x1="268.6" y1="227.4" x2="268.6" y2="229.6" stroke="#222" stroke-width="0.6"/><line x1="306.8" y1="227.4" x2="306.8" y2="229.6" stroke="#222" stroke-width="0.6"/><text x="308.7" y="230.9" font-size="6.4" stroke="#000" stroke-width="0.18" textLength="15.7" lengthAdjust="spacingAndGlyphs">mm9</text><line x1="268.6" y1="236.5" x2="306.8" y2="236.5" stroke="#111" stroke-width="0.7"/><rect x="301" y="235.4" width="5.8" height="2.2" fill="#111"/><circle cx="276" cy="236.5" r="0.95" fill="#111"/><circle cx="281" cy="236.5" r="0.95" fill="#111"/><circle cx="286" cy="236.5" r="0.95" fill="#111"/><circle cx="290" cy="236.5" r="0.95" fill="#111"/><circle cx="294" cy="236.5" r="0.95" fill="#111"/><circle cx="299" cy="236.5" r="0.95" fill="#111"/><path d="M268.6 236.5V233.9h2.2" fill="none" stroke="#111" stroke-width="0.6"/><path d="M271.2 233.9l-1.2 -0.9v1.8z" fill="#111"/><text x="255.2" y="238.4" font-size="6.4" stroke="#000" stroke-width="0.18" textLength="9.8" lengthAdjust="spacingAndGlyphs" font-style="italic">Irf8</text><text x="212.7" y="248.3" font-size="6.7" fill="#6f6a58" stroke="#6f6a58" stroke-width="0.19" textLength="14.4" lengthAdjust="spacingAndGlyphs">Oct2</text><text x="212.7" y="257.6" font-size="6.7" fill="#8c2b95" stroke="#8c2b95" stroke-width="0.19" textLength="16.2" lengthAdjust="spacingAndGlyphs">OBF1</text><text x="212.7" y="268.3" font-size="6.7" fill="#5c8fd8" stroke="#5c8fd8" stroke-width="0.19" textLength="14" lengthAdjust="spacingAndGlyphs">Oct1</text><line x1="230.7" y1="248.1" x2="344.4" y2="248.1" stroke="#a6a290" stroke-width="0.7"/><path d="M230.7 248.1L230.7 247.7L231.0 247.4L231.4 247.4L231.7 247.5L232.1 247.7L232.4 247.9L232.8 248.0L233.1 248.1L245.0 248.1L245.4 248.0L245.7 248.0L246.1 248.0L246.4 247.7L246.8 246.8L247.1 245.5L247.5 245.2L247.8 246.3L248.2 247.5L248.5 248.0L248.9 248.1L249.9 248.1L250.3 248.0L250.6 247.9L251.0 247.8L251.3 247.8L251.7 247.8L252.0 247.7L252.4 247.6L252.7 247.6L253.1 247.7L253.4 247.6L253.8 247.9L254.1 248.1L254.5 248.1L254.8 248.0L255.2 248.0L255.5 248.0L255.9 248.0L256.2 248.0L256.6 248.1L257.3 248.1L257.6 248.0L258.0 247.9L258.3 248.0L258.7 248.1L259.0 248.0L259.4 247.9L259.7 247.8L260.1 247.9L260.4 248.0L260.8 248.1L263.6 248.1L263.9 248.0L264.3 247.9L264.6 247.8L265.0 247.8L265.3 247.9L265.7 248.0L266.0 248.1L282.5 248.1L282.8 247.9L283.2 247.6L283.5 247.1L283.9 246.9L284.2 247.3L284.6 247.8L284.9 248.0L285.3 247.6L285.6 246.9L286.0 246.6L286.3 247.3L286.7 247.9L287.0 248.1L288.4 248.1L288.8 247.9L289.1 247.8L289.5 247.9L289.8 248.1L291.6 248.1L291.9 248.0L292.3 247.9L292.6 247.8L293.0 247.6L293.3 247.4L293.7 247.3L294.0 247.4L294.4 247.7L294.7 247.8L295.1 247.9L295.4 247.9L295.8 247.9L296.1 248.0L296.5 248.1L296.8 248.0L297.2 247.9L297.5 247.8L297.9 247.8L298.2 247.9L298.6 248.0L298.9 248.1L300.7 248.1L301.0 248.0L301.4 247.9L301.7 247.8L302.1 247.9L302.4 248.0L302.8 248.0L303.1 247.7L303.5 247.5L303.8 247.9L304.2 248.1L304.5 248.1L304.9 248.0L305.2 247.9L305.6 247.9L305.9 248.0L306.3 248.1L307.3 248.1L307.7 248.0L308.0 248.0L308.4 248.0L308.7 248.0L309.1 248.1L316.8 248.1L317.1 248.0L317.5 247.9L317.8 247.8L318.2 248.0L318.5 248.1L319.2 248.1L319.6 248.0L319.9 247.5L320.3 246.4L320.6 245.6L321.0 246.1L321.3 247.2L321.7 247.9L322.0 248.0L322.4 247.9L322.7 247.8L323.1 247.6L323.4 247.6L323.8 247.7L324.1 247.8L324.5 247.9L324.8 248.0L325.2 248.0L325.5 248.1L329.0 248.1L329.4 248.0L329.7 247.9L330.1 247.8L330.4 247.7L330.8 247.7L331.1 247.8L331.5 247.9L331.8 248.0L332.2 248.1L332.9 248.1L333.2 248.0L333.6 247.9L333.9 248.0L334.3 248.1L339.5 248.1L339.9 248.0L340.2 247.9L340.6 247.8L340.9 247.9L341.3 247.9L341.6 248.0L342.0 248.1L344.1 248.1L344.4 248.1Z" fill="#4d4838"/><line x1="230.7" y1="257.9" x2="344.4" y2="257.9" stroke="#bd7cc4" stroke-width="0.7"/><path d="M230.7 257.9L230.7 257.9L231.4 257.9L231.7 257.8L232.1 257.7L232.4 257.7L232.8 257.7L233.1 257.8L233.5 257.9L235.2 257.9L235.6 257.8L235.9 257.7L236.3 257.6L236.6 257.5L237.0 257.6L237.3 257.7L237.7 257.9L246.1 257.9L246.4 257.5L246.8 255.6L247.1 252.1L247.5 251.0L247.8 254.1L248.2 256.9L248.5 257.8L248.9 257.9L250.6 257.9L251.0 257.8L251.3 257.7L251.7 257.7L252.0 257.7L252.4 257.8L252.7 257.9L257.6 257.9L258.0 257.8L258.3 257.8L258.7 257.9L259.4 257.9L259.7 257.8L260.1 257.8L260.4 257.9L267.1 257.9L267.4 257.7L267.8 257.4L268.1 256.8L268.5 256.3L268.8 256.6L269.2 257.4L269.5 257.8L269.9 257.9L274.4 257.9L274.8 257.8L275.1 257.6L275.5 257.6L275.8 257.7L276.2 257.8L276.5 257.9L279.0 257.9L279.3 257.8L279.7 257.4L280.0 257.1L280.4 257.2L280.7 257.4L281.1 257.4L281.4 257.5L281.8 257.6L282.1 257.6L282.5 257.4L282.8 257.3L283.2 257.2L283.5 257.0L283.9 257.1L284.2 257.6L284.6 257.8L284.9 257.8L285.3 257.5L285.6 257.1L286.0 256.9L286.3 257.4L286.7 257.8L287.0 257.9L287.4 257.7L287.7 257.6L288.1 257.5L288.4 257.6L288.8 257.6L289.1 257.7L289.5 257.8L289.8 257.9L290.5 257.9L290.9 257.8L291.2 257.8L291.6 257.9L293.7 257.9L294.0 257.8L294.4 257.8L294.7 257.9L297.9 257.9L298.2 257.8L298.6 257.6L298.9 257.4L299.3 257.3L299.6 257.2L300.0 257.3L300.3 257.5L300.7 257.7L301.0 257.9L311.2 257.9L311.5 257.8L311.9 257.7L312.2 257.5L312.6 256.8L312.9 255.4L313.3 255.0L313.6 256.3L314.0 257.5L314.3 257.9L318.5 257.9L318.9 257.7L319.2 257.6L319.6 257.2L319.9 256.2L320.3 254.2L320.6 252.7L321.0 253.8L321.3 256.1L321.7 257.5L322.0 257.9L322.7 257.9L323.1 257.8L323.4 257.8L323.8 257.8L324.1 257.8L324.5 257.8L324.8 257.9L330.8 257.9L331.1 257.8L331.5 257.7L331.8 257.5L332.2 257.5L332.5 257.7L332.9 257.8L333.2 257.9L342.3 257.9L342.7 257.8L343.0 257.5L343.4 257.5L343.7 257.8L344.1 257.9L344.4 257.9Z" fill="#7d1489"/><line x1="230.7" y1="268.2" x2="344.4" y2="268.2" stroke="#9cbcf4" stroke-width="0.7"/><path d="M230.7 268.2L230.7 267.6L231.0 267.3L231.4 267.2L231.7 267.4L232.1 267.7L232.4 267.9L232.8 268.1L233.1 268.2L237.0 268.2L237.3 268.1L237.7 268.1L238.0 268.1L238.4 268.2L239.8 268.2L240.1 268.1L240.5 268.0L240.8 267.9L241.2 267.9L241.5 268.1L241.9 268.2L243.6 268.2L244.0 268.1L244.3 267.8L244.7 267.4L245.0 267.2L245.4 267.4L245.7 267.7L246.1 267.9L246.4 267.8L246.8 266.6L247.1 264.1L247.5 263.4L247.8 265.5L248.2 267.5L248.5 268.1L248.9 268.2L250.6 268.2L251.0 268.1L251.3 268.1L251.7 268.0L252.0 267.9L252.4 267.9L252.7 268.0L253.1 268.1L253.4 268.2L254.1 268.2L254.5 268.1L254.8 268.0L255.2 267.9L255.5 267.9L255.9 268.0L256.2 268.1L256.6 268.2L260.1 268.2L260.4 268.1L260.8 268.1L261.1 268.0L261.5 268.1L261.8 268.1L262.2 268.2L264.3 268.2L264.6 268.1L265.0 268.1L265.3 268.2L265.7 268.1L266.0 268.1L266.4 268.1L266.7 268.1L267.1 267.8L267.4 267.3L267.8 267.8L268.1 267.7L268.5 267.2L268.8 267.4L269.2 267.9L269.5 268.2L276.2 268.2L276.5 268.1L276.9 268.0L277.2 268.1L277.6 268.1L277.9 268.2L279.7 268.2L280.0 267.8L280.4 267.3L280.7 267.8L281.1 268.2L284.2 268.2L284.6 267.9L284.9 267.3L285.3 266.6L285.6 265.5L286.0 265.3L286.3 266.4L286.7 267.5L287.0 268.0L287.4 268.0L287.7 268.0L288.1 268.1L288.4 268.2L288.8 268.2L289.1 268.1L289.5 268.1L289.8 268.2L294.4 268.2L294.7 268.1L295.1 268.0L295.4 268.0L295.8 268.0L296.1 268.1L296.5 268.2L298.6 268.2L298.9 268.1L299.3 268.0L299.6 268.0L300.0 267.9L300.3 267.7L300.7 267.5L301.0 267.4L301.4 267.4L301.7 267.6L302.1 268.0L302.4 268.2L306.3 268.2L306.6 268.1L307.0 267.9L307.3 267.9L307.7 268.1L308.0 268.2L309.8 268.2L310.1 268.1L310.5 267.9L310.8 267.8L311.2 267.6L311.5 267.6L311.9 267.7L312.2 267.7L312.6 267.3L312.9 266.3L313.3 266.0L313.6 266.6L314.0 267.2L314.3 267.6L314.7 267.9L315.0 268.1L315.4 268.2L315.7 268.1L316.1 268.1L316.4 268.2L317.8 268.2L318.2 268.1L318.5 268.0L318.9 267.7L319.2 267.4L319.6 267.0L319.9 266.4L320.3 265.1L320.6 264.1L321.0 265.0L321.3 266.8L321.7 267.9L322.0 268.2L328.0 268.2L328.3 268.0L328.7 268.0L329.0 268.1L329.4 268.1L329.7 268.1L330.1 268.1L330.4 268.2L332.5 268.2L332.9 268.1L333.2 268.1L333.6 268.0L333.9 268.1L334.3 268.1L334.6 268.2L335.7 268.2L336.0 268.0L336.4 267.7L336.7 267.7L337.1 268.0L337.4 268.2L344.1 268.2L344.4 268.2Z" fill="#3f82ee"/><rect x="464.2" y="131.4" width="4.3" height="57.4" fill="#b9848d" fill-opacity="0.6"/><rect x="471.2" y="131.4" width="4.6" height="57.4" fill="#b9848d" fill-opacity="0.6"/><text x="415.2" y="121.2" font-size="6.4" stroke="#000" stroke-width="0.18" textLength="16" lengthAdjust="spacingAndGlyphs">10 kb</text><line x1="434.3" y1="119.5" x2="457.7" y2="119.5" stroke="#222" stroke-width="0.7"/><line x1="434.3" y1="118.4" x2="434.3" y2="120.6" stroke="#222" stroke-width="0.6"/><line x1="457.7" y1="118.4" x2="457.7" y2="120.6" stroke="#222" stroke-width="0.6"/><text x="460.8" y="121.2" font-size="6.4" stroke="#000" stroke-width="0.18" textLength="15" lengthAdjust="spacingAndGlyphs">mm9</text><line x1="419.3" y1="128.5" x2="473.1" y2="128.5" stroke="#111" stroke-width="0.7"/><circle cx="424" cy="128.5" r="0.95" fill="#111"/><circle cx="428" cy="128.5" r="0.95" fill="#111"/><circle cx="432" cy="128.5" r="0.95" fill="#111"/><circle cx="437" cy="128.5" r="0.95" fill="#111"/><circle cx="441" cy="128.5" r="0.95" fill="#111"/><circle cx="447" cy="128.5" r="0.95" fill="#111"/><circle cx="452" cy="128.5" r="0.95" fill="#111"/><path d="M473.1 128.5V125.9h-2.2" fill="none" stroke="#111" stroke-width="0.6"/><path d="M470.5 125.9l1.2 -0.9v1.8z" fill="#111"/><path d="M419.3 128.5l1.8 -1.1v2.2z" fill="#111"/><text x="476.9" y="130.4" font-size="6.4" stroke="#000" stroke-width="0.18" textLength="12.3" lengthAdjust="spacingAndGlyphs" font-style="italic">Bcl6</text><path d="M372.2 135.4H370.4V159.5" fill="none" stroke="#111" stroke-width="0.9"/><text x="365.9" y="153.45" font-size="6.7" fill="#111" stroke="#111" stroke-width="0.19" textLength="12" lengthAdjust="spacingAndGlyphs" transform="rotate(-90 365.9 153.45)">LPS</text><path d="M372.2 163.4H370.4V186.8" fill="none" stroke="#111" stroke-width="0.9"/><text x="365.9" y="188.2" font-size="6.7" fill="#111" stroke="#111" stroke-width="0.19" textLength="26.2" lengthAdjust="spacingAndGlyphs" transform="rotate(-90 365.9 188.2)">CD40/IL4</text><text x="373.8" y="139.5" font-size="6.7" fill="#6f6a58" stroke="#6f6a58" stroke-width="0.19" textLength="14.7" lengthAdjust="spacingAndGlyphs">Oct2</text><text x="373.8" y="149.2" font-size="6.7" fill="#8c2b95" stroke="#8c2b95" stroke-width="0.19" textLength="16.9" lengthAdjust="spacingAndGlyphs">OBF1</text><text x="373.8" y="158.8" font-size="6.7" fill="#5c8fd8" stroke="#5c8fd8" stroke-width="0.19" textLength="14.7" lengthAdjust="spacingAndGlyphs">Oct1</text><text x="373.8" y="168" font-size="6.7" fill="#6f6a58" stroke="#6f6a58" stroke-width="0.19" textLength="14.7" lengthAdjust="spacingAndGlyphs">Oct2</text><text x="373.8" y="177.2" font-size="6.7" fill="#8c2b95" stroke="#8c2b95" stroke-width="0.19" textLength="16.9" lengthAdjust="spacingAndGlyphs">OBF1</text><text x="373.8" y="186.5" font-size="6.7" fill="#5c8fd8" stroke="#5c8fd8" stroke-width="0.19" textLength="14.7" lengthAdjust="spacingAndGlyphs">Oct1</text><line x1="392.4" y1="139.3" x2="500.8" y2="139.3" stroke="#858172" stroke-width="0.9"/><path d="M392.4 139.3L392.4 139.3L392.8 139.1L393.1 138.9L393.5 138.5L393.8 138.5L394.2 138.7L394.5 138.7L394.9 138.7L395.2 138.9L395.6 139.0L395.9 139.0L396.3 139.0L396.6 138.9L397.0 138.8L397.3 138.8L397.7 138.9L398.0 139.0L398.4 139.1L398.7 139.1L399.1 139.1L399.4 138.9L399.8 138.7L400.1 138.5L400.5 138.6L400.8 138.5L401.2 138.5L401.5 138.8L401.9 138.8L402.2 138.8L402.6 138.9L402.9 139.0L403.3 139.1L403.6 139.0L404.0 139.0L404.3 139.2L404.7 139.2L405.0 139.1L405.4 138.8L405.7 138.9L406.1 139.1L406.4 139.1L406.8 139.0L407.1 138.9L407.5 138.9L407.8 139.0L408.2 138.9L408.5 138.5L408.9 138.2L409.2 137.9L409.6 137.7L409.9 137.6L410.3 138.2L410.6 138.9L411.0 139.2L411.3 139.1L411.7 138.9L412.0 138.7L412.4 138.7L412.7 138.9L413.1 138.9L413.4 138.9L413.8 138.8L414.1 138.8L414.5 138.9L414.8 139.0L415.2 139.2L415.5 139.3L415.9 139.2L416.2 139.1L416.6 138.8L416.9 138.9L417.3 139.1L417.6 139.2L418.0 139.0L418.3 138.7L418.7 138.5L419.0 138.4L419.4 138.1L419.7 138.0L420.1 138.1L420.4 138.3L420.8 138.5L421.1 138.3L421.5 138.2L421.8 138.7L422.2 139.1L422.5 139.1L422.9 138.9L423.2 138.6L423.6 138.3L423.9 138.2L424.3 138.3L424.6 138.5L425.0 138.9L425.3 139.1L425.7 139.0L426.0 139.0L426.4 139.1L426.7 138.9L427.1 138.9L427.4 138.9L427.8 138.9L428.1 139.0L428.5 138.9L428.8 138.5L429.2 137.9L429.5 138.0L429.9 138.4L430.2 138.6L430.6 138.3L430.9 138.5L431.3 138.8L431.6 138.5L432.0 138.5L432.3 138.9L432.7 139.1L433.0 139.1L433.4 139.1L433.7 139.2L434.1 139.1L434.4 138.9L434.8 138.7L435.1 138.5L435.5 138.6L435.8 138.9L436.2 138.9L436.5 138.9L436.9 138.9L437.2 138.9L437.6 139.0L437.9 139.1L438.3 139.0L438.6 138.4L439.0 138.0L439.3 138.2L439.7 138.2L440.0 138.2L440.4 138.4L440.7 138.5L441.1 138.6L441.4 139.0L441.8 139.2L442.1 139.1L442.5 138.9L442.8 138.5L443.2 138.5L443.5 138.9L443.9 139.2L444.2 139.3L446.0 139.3L446.3 139.2L446.7 139.2L447.0 139.3L447.4 139.3L447.7 139.2L448.1 139.2L448.4 139.1L448.8 139.1L449.1 139.2L449.5 139.2L449.8 139.3L451.2 139.3L451.6 139.2L451.9 139.0L452.3 138.8L452.6 138.8L453.0 138.9L453.3 139.1L453.7 139.2L454.0 139.3L455.1 139.3L455.4 139.1L455.8 139.0L456.1 138.9L456.5 138.8L456.8 138.7L457.2 138.9L457.5 139.2L457.9 139.3L458.2 139.3L458.6 139.2L458.9 139.0L459.3 138.7L459.6 138.3L460.0 138.2L460.3 138.5L460.7 138.9L461.0 139.1L461.4 139.1L461.7 139.2L462.1 139.2L462.4 139.3L463.5 139.3L463.8 139.2L464.2 139.0L464.5 139.0L464.9 139.2L465.2 139.0L465.6 138.4L465.9 137.4L466.3 136.8L466.6 137.2L467.0 138.1L467.3 138.9L467.7 139.1L468.0 139.1L468.4 139.2L468.7 139.3L469.1 139.1L469.4 138.6L469.8 138.0L470.1 137.9L470.5 138.2L470.8 138.6L471.2 138.9L471.5 139.1L471.9 139.0L472.2 138.5L472.6 137.6L472.9 136.4L473.3 135.7L473.6 136.1L474.0 137.4L474.3 138.4L474.7 139.0L475.0 139.2L475.4 139.3L476.1 139.3L476.4 139.2L476.8 139.1L477.1 138.9L477.5 138.7L477.8 138.5L478.2 138.4L478.5 138.5L478.9 138.3L479.2 137.7L479.6 137.8L479.9 138.4L480.3 138.7L480.6 138.8L481.0 138.8L481.3 138.8L481.7 139.0L482.0 139.1L482.4 139.2L482.7 139.3L484.5 139.3L484.8 139.2L485.2 139.2L485.5 139.1L485.9 138.9L486.2 139.0L486.6 139.1L486.9 139.2L487.3 139.2L487.6 139.3L488.0 139.2L488.3 139.0L488.7 138.8L489.0 138.9L489.4 138.8L489.7 138.7L490.1 138.6L490.4 138.5L490.8 138.4L491.1 138.5L491.5 138.5L491.8 138.5L492.2 138.8L492.5 139.1L492.9 139.1L493.2 139.2L493.6 139.2L493.9 139.3L495.0 139.3L495.3 139.2L495.7 139.1L496.0 139.0L496.4 139.0L496.7 139.1L497.1 139.2L497.4 139.2L497.8 139.1L498.1 139.1L498.5 139.2L498.8 139.3L500.6 139.3L500.8 139.3Z" fill="#4d4838"/><line x1="392.4" y1="148.8" x2="500.8" y2="148.8" stroke="#8a2595" stroke-width="0.9"/><path d="M392.4 148.8L392.4 148.4L392.8 148.2L393.1 148.2L393.5 148.4L393.8 148.5L394.2 148.3L394.5 147.8L394.9 147.7L395.2 147.7L395.6 147.7L395.9 147.8L396.3 148.1L396.6 148.3L397.0 148.3L397.3 147.8L397.7 148.0L398.0 148.5L398.4 148.5L398.7 148.4L399.1 148.2L399.4 148.1L399.8 148.2L400.1 148.3L400.5 148.4L400.8 148.6L401.2 148.8L402.6 148.8L402.9 148.6L403.3 148.2L403.6 147.8L404.0 148.0L404.3 148.5L404.7 148.7L405.0 148.8L405.7 148.8L406.1 148.7L406.4 148.7L406.8 148.8L407.8 148.8L408.2 148.7L408.5 148.6L408.9 148.6L409.2 148.7L409.6 148.8L409.9 148.7L410.3 148.7L410.6 148.6L411.0 148.6L411.3 148.6L411.7 148.6L412.0 148.6L412.4 148.7L412.7 148.8L417.3 148.8L417.6 148.7L418.0 148.5L418.3 148.5L418.7 148.6L419.0 148.5L419.4 148.2L419.7 148.2L420.1 148.5L420.4 148.7L420.8 148.7L421.1 148.8L421.5 148.8L421.8 148.7L422.2 148.5L422.5 148.3L422.9 148.2L423.2 148.2L423.6 148.2L423.9 148.2L424.3 148.3L424.6 148.5L425.0 148.5L425.3 148.5L425.7 148.4L426.0 148.1L426.4 148.3L426.7 148.6L427.1 148.7L427.4 148.7L427.8 148.6L428.1 148.5L428.5 148.6L428.8 148.7L429.2 148.6L429.5 148.3L429.9 148.1L430.2 148.1L430.6 148.2L430.9 148.2L431.3 148.2L431.6 148.2L432.0 148.4L432.3 148.6L432.7 148.8L433.7 148.8L434.1 148.7L434.4 148.4L434.8 148.2L435.1 148.3L435.5 148.2L435.8 148.0L436.2 148.3L436.5 148.7L436.9 148.7L437.2 148.7L437.6 148.8L437.9 148.7L438.3 148.5L438.6 148.4L439.0 148.4L439.3 148.4L439.7 148.5L440.0 148.6L440.4 148.7L440.7 148.7L441.1 148.6L441.4 148.5L441.8 148.5L442.1 148.6L442.5 148.7L442.8 148.6L443.2 148.3L443.5 148.1L443.9 148.2L444.2 148.1L444.6 147.6L444.9 147.0L445.3 147.2L445.6 147.7L446.0 147.9L446.3 148.2L446.7 148.6L447.0 148.7L447.4 148.8L449.1 148.8L449.5 148.7L449.8 148.6L450.2 148.4L450.5 148.2L450.9 148.1L451.2 148.1L451.6 148.2L451.9 148.4L452.3 148.6L452.6 148.7L453.0 148.7L453.3 148.8L454.4 148.8L454.7 148.7L455.1 148.7L455.4 148.8L456.1 148.8L456.5 148.7L456.8 148.6L457.2 148.5L457.5 148.3L457.9 148.1L458.2 148.1L458.6 148.4L458.9 148.7L459.3 148.7L459.6 148.7L460.0 148.8L461.0 148.8L461.4 148.7L461.7 148.7L462.1 148.7L462.4 148.7L462.8 148.5L463.1 148.2L463.5 148.0L463.8 147.9L464.2 148.0L464.5 148.2L464.9 148.4L465.2 148.5L465.6 148.4L465.9 148.2L466.3 147.9L466.6 148.0L467.0 148.4L467.3 148.6L467.7 148.7L468.0 148.8L469.1 148.8L469.4 148.7L469.8 148.6L470.1 148.3L470.5 148.1L470.8 148.0L471.2 148.1L471.5 148.3L471.9 148.6L472.2 148.6L472.6 148.4L472.9 147.8L473.3 147.6L473.6 147.6L474.0 147.8L474.3 148.4L474.7 148.7L475.0 148.8L475.7 148.8L476.1 148.6L476.4 148.4L476.8 148.3L477.1 148.3L477.5 148.4L477.8 148.4L478.2 148.5L478.5 148.5L478.9 148.6L479.2 148.6L479.6 148.6L479.9 148.6L480.3 148.7L480.6 148.7L481.0 148.8L481.3 148.7L481.7 148.4L482.0 148.4L482.4 148.4L482.7 148.4L483.1 148.4L483.4 148.5L483.8 148.5L484.1 148.4L484.5 148.2L484.8 147.9L485.2 148.0L485.5 148.3L485.9 148.4L486.2 148.1L486.6 147.9L486.9 147.7L487.3 147.7L487.6 147.8L488.0 147.9L488.3 148.1L488.7 148.4L489.0 148.5L489.4 148.4L489.7 148.3L490.1 148.3L490.4 148.5L490.8 148.5L491.1 148.5L491.5 148.6L491.8 148.5L492.2 148.3L492.5 148.3L492.9 148.5L493.2 148.5L493.6 148.5L493.9 148.4L494.3 148.2L494.6 148.1L495.0 148.1L495.3 148.2L495.7 148.4L496.0 148.6L496.4 148.7L496.7 148.8L500.6 148.8L500.8 148.8Z" fill="#7d1489"/><line x1="392.4" y1="158" x2="500.8" y2="158" stroke="#80aaf0" stroke-width="0.9"/><path d="M392.4 158.0L392.4 157.8L392.8 157.7L393.1 157.7L393.5 157.8L393.8 157.9L394.2 157.9L394.5 158.0L400.1 158.0L400.5 157.9L400.8 157.8L401.2 157.7L401.5 157.4L401.9 157.1L402.2 156.9L402.6 157.3L402.9 157.8L403.3 158.0L403.6 158.0L404.0 157.9L404.3 157.9L404.7 157.7L405.0 157.1L405.4 156.6L405.7 157.3L406.1 157.8L406.4 158.0L408.9 158.0L409.2 157.8L409.6 157.7L409.9 157.9L410.3 158.0L411.3 158.0L411.7 157.9L412.0 157.9L412.4 157.9L412.7 157.9L413.1 157.7L413.4 157.5L413.8 157.4L414.1 157.2L414.5 157.2L414.8 157.4L415.2 157.6L415.5 157.6L415.9 157.7L416.2 157.9L416.6 158.0L417.3 158.0L417.6 157.8L418.0 157.8L418.3 158.0L419.0 158.0L419.4 157.9L419.7 157.7L420.1 156.9L420.4 156.2L420.8 156.7L421.1 157.3L421.5 157.7L421.8 157.8L422.2 157.5L422.5 156.9L422.9 156.5L423.2 156.1L423.6 155.4L423.9 155.3L424.3 155.6L424.6 155.7L425.0 155.8L425.3 156.4L425.7 157.0L426.0 157.4L426.4 157.7L426.7 157.9L427.1 157.9L427.4 157.9L427.8 157.9L428.1 157.7L428.5 157.3L428.8 156.8L429.2 156.6L429.5 157.1L429.9 157.6L430.2 157.8L430.6 157.7L430.9 157.4L431.3 157.1L431.6 157.0L432.0 157.2L432.3 157.5L432.7 157.7L433.0 157.9L433.4 157.9L433.7 157.9L434.1 157.7L434.4 157.4L434.8 157.3L435.1 157.3L435.5 157.4L435.8 157.5L436.2 157.6L436.5 157.4L436.9 157.5L437.2 157.8L437.6 157.8L437.9 157.3L438.3 157.4L438.6 157.4L439.0 157.2L439.3 157.3L439.7 157.6L440.0 157.9L440.4 158.0L440.7 158.0L441.1 157.9L441.4 157.8L441.8 157.8L442.1 157.8L442.5 157.8L442.8 157.9L443.2 157.8L443.5 157.7L443.9 157.5L444.2 157.4L444.6 157.2L444.9 156.9L445.3 156.8L445.6 156.9L446.0 157.1L446.3 157.3L446.7 157.4L447.0 157.2L447.4 156.9L447.7 157.2L448.1 157.7L448.4 157.9L448.8 158.0L449.1 158.0L449.5 157.8L449.8 157.4L450.2 157.1L450.5 157.2L450.9 157.6L451.2 157.8L451.6 157.8L451.9 157.5L452.3 157.4L452.6 157.5L453.0 157.6L453.3 157.6L453.7 157.9L454.0 158.0L454.7 158.0L455.1 157.9L455.4 157.9L455.8 157.9L456.1 157.9L456.5 158.0L458.2 158.0L458.6 157.9L458.9 157.8L459.3 157.8L459.6 157.7L460.0 157.8L460.3 157.8L460.7 157.7L461.0 157.5L461.4 157.1L461.7 156.8L462.1 157.2L462.4 157.8L462.8 157.8L463.1 157.7L463.5 157.4L463.8 157.2L464.2 157.2L464.5 157.3L464.9 157.5L465.2 157.7L465.6 157.5L465.9 156.9L466.3 156.5L466.6 156.7L467.0 157.3L467.3 157.8L467.7 157.9L468.0 158.0L468.4 158.0L468.7 157.9L469.1 157.8L469.4 157.8L469.8 157.9L470.1 158.0L470.8 158.0L471.2 157.9L471.5 157.6L471.9 157.2L472.2 156.6L472.6 155.6L472.9 154.1L473.3 153.0L473.6 153.3L474.0 154.7L474.3 156.3L474.7 157.3L475.0 157.8L475.4 158.0L475.7 157.9L476.1 157.8L476.4 157.5L476.8 157.1L477.1 156.9L477.5 156.9L477.8 157.2L478.2 157.5L478.5 157.8L478.9 157.9L479.2 158.0L479.6 158.0L479.9 157.9L480.3 157.7L480.6 157.1L481.0 156.8L481.3 157.0L481.7 157.0L482.0 156.9L482.4 157.5L482.7 158.0L484.8 158.0L485.2 157.9L485.5 157.7L485.9 157.6L486.2 157.5L486.6 157.6L486.9 157.7L487.3 157.5L487.6 157.2L488.0 157.4L488.3 157.8L488.7 157.9L489.0 157.6L489.4 157.4L489.7 157.7L490.1 157.7L490.4 157.7L490.8 157.7L491.1 157.8L491.5 157.6L491.8 157.1L492.2 157.5L492.5 157.6L492.9 157.5L493.2 157.4L493.6 157.5L493.9 157.7L494.3 157.8L494.6 157.8L495.0 157.7L495.3 157.3L495.7 156.9L496.0 156.9L496.4 157.1L496.7 157.3L497.1 157.6L497.4 157.8L497.8 157.9L498.1 157.7L498.5 157.2L498.8 156.9L499.2 156.9L499.5 157.3L499.9 157.5L500.2 157.5L500.6 157.3L500.8 158.0Z" fill="#3f82ee"/><line x1="392.4" y1="167" x2="500.8" y2="167" stroke="#858172" stroke-width="0.9"/><path d="M392.4 167.0L392.4 167.0L394.2 167.0L394.5 166.9L394.9 166.8L395.2 166.8L395.6 166.8L395.9 166.9L396.3 167.0L397.0 167.0L397.3 166.9L397.7 166.9L398.0 167.0L399.1 167.0L399.4 166.9L399.8 166.8L400.1 166.6L400.5 166.3L400.8 166.1L401.2 166.1L401.5 166.3L401.9 166.5L402.2 166.8L402.6 166.9L402.9 167.0L403.3 166.9L403.6 166.8L404.0 166.6L404.3 166.6L404.7 166.6L405.0 166.8L405.4 166.9L405.7 166.9L406.1 166.8L406.4 166.6L406.8 166.6L407.1 166.7L407.5 166.8L407.8 166.9L408.2 166.8L408.5 166.6L408.9 166.2L409.2 166.1L409.6 166.2L409.9 166.1L410.3 165.8L410.6 165.8L411.0 166.1L411.3 166.5L411.7 166.8L412.0 166.9L412.4 167.0L412.7 167.0L413.1 166.9L413.4 166.8L413.8 166.9L414.1 167.0L415.5 167.0L415.9 166.9L416.2 166.8L416.6 166.8L416.9 166.9L417.3 166.9L417.6 167.0L418.0 166.9L418.3 166.9L418.7 166.5L419.0 165.9L419.4 165.8L419.7 166.1L420.1 166.2L420.4 166.3L420.8 166.6L421.1 166.8L421.5 166.9L421.8 166.9L422.2 166.8L422.5 166.7L422.9 166.6L423.2 166.7L423.6 166.8L423.9 166.9L424.3 166.9L424.6 166.8L425.0 166.7L425.3 166.7L425.7 166.8L426.0 166.6L426.4 166.3L426.7 166.3L427.1 166.4L427.4 166.5L427.8 166.7L428.1 166.7L428.5 166.8L428.8 166.8L429.2 166.8L429.5 166.8L429.9 166.8L430.2 166.8L430.6 166.9L430.9 166.8L431.3 166.7L431.6 166.5L432.0 166.3L432.3 166.3L432.7 166.5L433.0 166.7L433.4 166.8L433.7 166.9L434.1 167.0L434.4 166.9L434.8 166.7L435.1 166.5L435.5 166.3L435.8 166.3L436.2 166.4L436.5 166.2L436.9 165.9L437.2 165.7L437.6 166.0L437.9 166.5L438.3 166.8L438.6 167.0L440.7 167.0L441.1 166.9L441.4 166.7L441.8 166.5L442.1 166.4L442.5 166.6L442.8 166.9L443.2 167.0L444.9 167.0L445.3 166.9L445.6 166.8L446.0 166.7L446.3 166.7L446.7 166.7L447.0 166.8L447.4 166.8L447.7 166.8L448.1 166.8L448.4 166.9L448.8 166.7L449.1 166.3L449.5 166.0L449.8 166.1L450.2 166.4L450.5 166.6L450.9 166.7L451.2 166.6L451.6 166.5L451.9 166.6L452.3 166.8L452.6 166.9L453.0 167.0L453.3 166.9L453.7 166.6L454.0 166.2L454.4 165.9L454.7 166.4L455.1 166.9L455.4 167.0L456.1 167.0L456.5 166.9L456.8 166.8L457.2 166.7L457.5 166.5L457.9 166.4L458.2 166.4L458.6 166.3L458.9 166.4L459.3 166.6L459.6 166.8L460.0 166.8L460.3 166.7L460.7 166.7L461.0 166.6L461.4 166.4L461.7 166.1L462.1 166.1L462.4 166.2L462.8 166.3L463.1 166.4L463.5 166.5L463.8 166.7L464.2 166.9L464.5 166.9L464.9 166.9L465.2 166.7L465.6 166.1L465.9 164.9L466.3 163.8L466.6 163.3L467.0 164.5L467.3 166.0L467.7 166.8L468.0 166.9L468.4 166.9L468.7 167.0L469.1 167.0L469.4 166.9L469.8 166.8L470.1 166.7L470.5 166.8L470.8 166.4L471.2 165.9L471.5 165.6L471.9 165.5L472.2 165.6L472.6 165.7L472.9 165.4L473.3 165.0L473.6 165.2L474.0 165.8L474.3 166.2L474.7 166.2L475.0 166.2L475.4 166.6L475.7 166.8L476.1 166.7L476.4 166.8L476.8 166.8L477.1 166.7L477.5 166.5L477.8 166.5L478.2 166.6L478.5 166.7L478.9 166.6L479.2 166.4L479.6 166.4L479.9 166.6L480.3 166.9L480.6 167.0L482.0 167.0L482.4 166.9L482.7 166.9L483.1 166.9L483.4 166.9L483.8 166.8L484.1 166.7L484.5 166.7L484.8 166.7L485.2 166.6L485.5 166.5L485.9 166.5L486.2 166.7L486.6 166.8L486.9 166.8L487.3 167.0L488.0 167.0L488.3 166.9L488.7 166.8L489.0 166.8L489.4 166.7L489.7 166.8L490.1 166.8L490.4 166.8L490.8 166.9L491.1 166.8L491.5 166.5L491.8 165.8L492.2 165.8L492.5 166.1L492.9 166.1L493.2 166.3L493.6 166.5L493.9 166.7L494.3 166.8L494.6 166.7L495.0 166.7L495.3 166.8L495.7 166.8L496.0 166.8L496.4 167.0L496.7 167.0L497.1 166.8L497.4 166.5L497.8 166.2L498.1 166.1L498.5 166.3L498.8 166.8L499.2 166.9L499.5 166.8L499.9 166.6L500.2 165.7L500.6 165.5L500.8 167.0Z" fill="#4d4838"/><line x1="392.4" y1="176.5" x2="500.8" y2="176.5" stroke="#8a2595" stroke-width="0.9"/><path d="M392.4 176.5L392.4 176.5L392.8 176.5L393.1 176.4L393.5 176.3L393.8 176.1L394.2 176.0L394.5 176.1L394.9 176.2L395.2 176.3L395.6 176.4L395.9 176.5L396.3 176.5L396.6 176.4L397.0 176.1L397.3 175.9L397.7 176.1L398.0 176.3L398.4 176.2L398.7 176.2L399.1 176.3L399.4 176.4L399.8 176.4L400.1 176.5L401.2 176.5L401.5 176.4L401.9 176.3L402.2 176.2L402.6 176.1L402.9 175.9L403.3 175.3L403.6 175.4L404.0 176.2L404.3 176.5L409.2 176.5L409.6 176.3L409.9 176.1L410.3 175.8L410.6 175.7L411.0 175.7L411.3 175.7L411.7 175.8L412.0 176.0L412.4 176.2L412.7 176.2L413.1 176.0L413.4 175.9L413.8 175.9L414.1 176.1L414.5 176.3L414.8 176.4L415.2 176.5L415.9 176.5L416.2 176.4L416.6 176.2L416.9 176.0L417.3 176.0L417.6 176.1L418.0 176.2L418.3 176.3L418.7 176.3L419.0 176.3L419.4 176.4L419.7 176.3L420.1 175.5L420.4 174.2L420.8 174.8L421.1 176.0L421.5 176.4L421.8 176.5L422.2 176.5L422.5 176.4L422.9 176.4L423.2 176.4L423.6 176.3L423.9 176.3L424.3 176.2L424.6 176.2L425.0 176.3L425.3 176.3L425.7 176.3L426.0 176.3L426.4 176.2L426.7 175.9L427.1 175.4L427.4 175.0L427.8 175.0L428.1 175.1L428.5 174.9L428.8 175.2L429.2 175.6L429.5 175.7L429.9 176.0L430.2 176.3L430.6 176.5L430.9 176.5L431.3 176.4L431.6 176.3L432.0 176.1L432.3 175.9L432.7 175.9L433.0 176.1L433.4 176.4L433.7 176.5L434.1 176.5L434.4 176.4L434.8 176.0L435.1 175.3L435.5 175.0L435.8 175.2L436.2 175.6L436.5 176.0L436.9 176.1L437.2 175.7L437.6 175.9L437.9 175.9L438.3 175.5L438.6 175.1L439.0 175.2L439.3 175.5L439.7 176.0L440.0 176.3L440.4 176.5L440.7 176.4L441.1 176.1L441.4 175.9L441.8 175.8L442.1 175.4L442.5 175.4L442.8 175.7L443.2 176.0L443.5 176.2L443.9 176.2L444.2 176.2L444.6 176.2L444.9 176.2L445.3 176.1L445.6 175.8L446.0 175.1L446.3 175.1L446.7 175.4L447.0 175.7L447.4 176.1L447.7 176.3L448.1 176.4L448.4 176.5L449.1 176.5L449.5 176.4L449.8 176.2L450.2 175.7L450.5 175.5L450.9 175.8L451.2 176.0L451.6 176.0L451.9 176.0L452.3 175.7L452.6 175.1L453.0 175.9L453.3 176.3L453.7 176.3L454.0 176.4L454.4 176.3L454.7 176.2L455.1 176.0L455.4 175.8L455.8 175.4L456.1 175.4L456.5 175.7L456.8 175.8L457.2 175.8L457.5 175.7L457.9 175.5L458.2 175.5L458.6 175.6L458.9 175.5L459.3 175.5L459.6 175.3L460.0 175.3L460.3 175.6L460.7 176.1L461.0 176.1L461.4 175.2L461.7 174.3L462.1 174.9L462.4 175.6L462.8 176.1L463.1 176.4L463.5 176.5L463.8 176.4L464.2 176.4L464.5 176.4L464.9 176.4L465.2 176.0L465.6 175.1L465.9 173.5L466.3 172.4L466.6 172.9L467.0 174.3L467.3 175.2L467.7 175.6L468.0 176.0L468.4 176.1L468.7 176.0L469.1 176.1L469.4 176.1L469.8 176.1L470.1 176.0L470.5 176.0L470.8 176.2L471.2 176.3L471.5 176.3L471.9 176.3L472.2 176.0L472.6 175.2L472.9 173.9L473.3 173.1L473.6 173.4L474.0 174.5L474.3 175.4L474.7 175.6L475.0 175.2L475.4 175.3L475.7 175.9L476.1 176.3L476.4 176.2L476.8 175.9L477.1 175.5L477.5 175.2L477.8 175.1L478.2 175.2L478.5 175.2L478.9 175.2L479.2 175.5L479.6 175.2L479.9 175.2L480.3 175.7L480.6 176.1L481.0 176.3L481.3 176.4L481.7 176.4L482.0 176.2L482.4 176.0L482.7 175.6L483.1 175.2L483.4 175.6L483.8 176.2L484.1 176.2L484.5 176.1L484.8 175.9L485.2 175.7L485.5 175.2L485.9 174.8L486.2 174.5L486.6 174.4L486.9 174.8L487.3 175.4L487.6 176.0L488.0 176.3L488.3 176.4L488.7 176.3L489.0 176.1L489.4 175.6L489.7 175.2L490.1 175.4L490.4 175.8L490.8 175.9L491.1 175.8L491.5 175.7L491.8 175.8L492.2 175.9L492.5 176.1L492.9 176.1L493.2 176.1L493.6 176.1L493.9 176.2L494.3 176.3L494.6 176.4L495.0 176.4L495.3 176.3L495.7 176.1L496.0 176.1L496.4 176.3L496.7 176.4L497.1 176.4L497.4 176.3L497.8 176.2L498.1 176.1L498.5 176.1L498.8 176.2L499.2 176.3L499.5 176.3L499.9 176.2L500.2 176.1L500.6 176.1L500.8 176.5Z" fill="#7d1489"/><line x1="392.4" y1="185.7" x2="500.8" y2="185.7" stroke="#80aaf0" stroke-width="0.9"/><path d="M392.4 185.7L392.4 185.5L392.8 185.2L393.1 185.0L393.5 185.2L393.8 185.5L394.2 185.6L394.5 185.2L394.9 184.7L395.2 184.6L395.6 184.6L395.9 184.4L396.3 184.6L396.6 185.1L397.0 185.5L397.3 185.4L397.7 185.0L398.0 184.8L398.4 184.3L398.7 184.3L399.1 184.7L399.4 185.0L399.8 184.9L400.1 184.4L400.5 184.0L400.8 184.1L401.2 184.7L401.5 185.2L401.9 185.5L402.2 185.6L402.6 185.7L403.6 185.7L404.0 185.6L404.3 185.4L404.7 185.2L405.0 184.9L405.4 184.5L405.7 183.7L406.1 184.3L406.4 185.2L406.8 185.2L407.1 184.5L407.5 183.9L407.8 184.3L408.2 185.0L408.5 185.4L408.9 185.5L409.2 185.4L409.6 185.4L409.9 185.4L410.3 185.4L410.6 185.4L411.0 185.4L411.3 185.4L411.7 185.5L412.0 185.3L412.4 185.0L412.7 184.8L413.1 184.8L413.4 184.8L413.8 184.5L414.1 184.3L414.5 184.5L414.8 185.0L415.2 185.4L415.5 185.6L415.9 185.7L417.6 185.7L418.0 185.5L418.3 185.4L418.7 185.5L419.0 185.5L419.4 185.5L419.7 185.3L420.1 185.0L420.4 184.4L420.8 184.1L421.1 184.4L421.5 184.9L421.8 185.1L422.2 185.1L422.5 185.2L422.9 185.4L423.2 185.6L423.6 185.6L423.9 185.5L424.3 184.9L424.6 183.4L425.0 181.4L425.3 181.1L425.7 182.4L426.0 183.9L426.4 184.7L426.7 184.7L427.1 184.6L427.4 184.8L427.8 185.2L428.1 185.4L428.5 185.4L428.8 185.3L429.2 185.2L429.5 185.1L429.9 184.9L430.2 184.8L430.6 185.0L430.9 185.2L431.3 185.3L431.6 185.3L432.0 185.4L432.3 185.5L432.7 185.6L433.0 185.6L433.4 185.6L433.7 185.6L434.1 185.5L434.4 185.4L434.8 185.4L435.1 185.3L435.5 185.3L435.8 185.3L436.2 185.3L436.5 185.3L436.9 185.2L437.2 185.1L437.6 185.2L437.9 185.4L438.3 185.4L438.6 185.2L439.0 185.1L439.3 185.1L439.7 185.2L440.0 185.3L440.4 185.2L440.7 185.2L441.1 185.2L441.4 185.2L441.8 185.2L442.1 185.1L442.5 184.9L442.8 184.9L443.2 185.2L443.5 185.3L443.9 185.0L444.2 184.4L444.6 184.1L444.9 184.4L445.3 185.1L445.6 185.5L446.0 185.5L446.3 185.4L446.7 185.3L447.0 185.2L447.4 185.3L447.7 185.4L448.1 185.5L448.4 185.4L448.8 185.3L449.1 184.9L449.5 184.5L449.8 184.8L450.2 184.9L450.5 184.5L450.9 184.6L451.2 185.1L451.6 185.4L451.9 185.3L452.3 185.2L452.6 185.3L453.0 185.4L453.3 185.3L453.7 184.8L454.0 184.7L454.4 185.0L454.7 185.3L455.1 185.5L455.4 185.6L455.8 185.6L456.1 185.5L456.5 185.2L456.8 184.9L457.2 184.3L457.5 183.6L457.9 183.5L458.2 183.8L458.6 184.1L458.9 184.3L459.3 184.5L459.6 184.7L460.0 184.6L460.3 184.2L460.7 184.2L461.0 184.5L461.4 184.4L461.7 184.2L462.1 184.5L462.4 184.9L462.8 185.3L463.1 185.5L463.5 185.5L463.8 185.3L464.2 185.0L464.5 184.4L464.9 184.1L465.2 184.2L465.6 184.0L465.9 181.6L466.3 178.8L466.6 180.9L467.0 184.4L467.3 185.4L467.7 185.3L468.0 185.2L468.4 185.1L468.7 185.1L469.1 185.0L469.4 184.2L469.8 184.1L470.1 184.9L470.5 185.2L470.8 185.4L471.2 185.4L471.5 184.4L471.9 183.3L472.2 184.0L472.6 184.7L472.9 184.3L473.3 183.6L473.6 183.3L474.0 183.5L474.3 183.9L474.7 184.2L475.0 184.7L475.4 185.2L475.7 185.5L476.1 185.7L477.5 185.7L477.8 185.6L478.2 185.4L478.5 185.2L478.9 185.0L479.2 185.1L479.6 185.2L479.9 185.4L480.3 185.5L480.6 185.3L481.0 185.1L481.3 185.0L481.7 185.3L482.0 185.5L482.4 185.5L482.7 185.1L483.1 184.8L483.4 184.6L483.8 184.1L484.1 183.8L484.5 184.1L484.8 184.8L485.2 185.2L485.5 185.3L485.9 185.3L486.2 185.2L486.6 185.1L486.9 184.6L487.3 184.1L487.6 185.0L488.0 185.4L488.3 185.4L488.7 185.3L489.0 185.2L489.4 185.3L489.7 185.5L490.1 185.6L490.4 185.7L491.1 185.7L491.5 185.6L491.8 185.6L492.2 185.7L494.3 185.7L494.6 185.6L495.0 185.6L495.3 185.5L495.7 185.3L496.0 185.4L496.4 185.6L496.7 185.6L497.1 185.3L497.4 185.0L497.8 184.5L498.1 184.0L498.5 183.9L498.8 184.2L499.2 184.5L499.5 185.0L499.9 185.4L500.2 185.5L500.6 185.5L500.8 185.7Z" fill="#3f82ee"/><rect x="406.8" y="214.3" width="5.9" height="56.5" fill="#b9848d" fill-opacity="0.6"/><text x="410.1" y="202.8" font-size="6.4" stroke="#000" stroke-width="0.18" textLength="12.6" lengthAdjust="spacingAndGlyphs">5 kb</text><line x1="425" y1="200.5" x2="468.5" y2="200.5" stroke="#777" stroke-width="1"/><line x1="425" y1="199.4" x2="425" y2="201.6" stroke="#777" stroke-width="0.6"/><line x1="468.5" y1="199.4" x2="468.5" y2="201.6" stroke="#777" stroke-width="0.6"/><text x="471.5" y="202.8" font-size="6.4" stroke="#000" stroke-width="0.18" textLength="14.7" lengthAdjust="spacingAndGlyphs">mm9</text><line x1="425.5" y1="210.5" x2="468.5" y2="210.5" stroke="#111" stroke-width="0.7"/><rect x="444.2" y="209.4" width="6.6" height="2.2" fill="#111"/><rect x="460" y="209.4" width="4.6" height="2.2" fill="#111"/><path d="M425.5 210.5V207.9h2.2" fill="none" stroke="#111" stroke-width="0.6"/><path d="M428.1 207.9l-1.2 -0.9v1.8z" fill="#111"/><text x="410.4" y="212.5" font-size="6.4" stroke="#000" stroke-width="0.18" textLength="12.3" lengthAdjust="spacingAndGlyphs" font-style="italic">Myc</text><path d="M372.2 216.9H370.4V241.5" fill="none" stroke="#111" stroke-width="0.9"/><text x="365.9" y="235.2" font-size="6.7" fill="#111" stroke="#111" stroke-width="0.19" textLength="12" lengthAdjust="spacingAndGlyphs" transform="rotate(-90 365.9 235.2)">LPS</text><path d="M372.2 245.1H370.4V268.2" fill="none" stroke="#111" stroke-width="0.9"/><text x="365.9" y="269.75" font-size="6.7" fill="#111" stroke="#111" stroke-width="0.19" textLength="26.2" lengthAdjust="spacingAndGlyphs" transform="rotate(-90 365.9 269.75)">CD40/IL4</text><text x="373.8" y="222" font-size="6.7" fill="#6f6a58" stroke="#6f6a58" stroke-width="0.19" textLength="14.7" lengthAdjust="spacingAndGlyphs">Oct2</text><text x="373.8" y="231.2" font-size="6.7" fill="#8c2b95" stroke="#8c2b95" stroke-width="0.19" textLength="16.9" lengthAdjust="spacingAndGlyphs">OBF1</text><text x="373.8" y="240.5" font-size="6.7" fill="#5c8fd8" stroke="#5c8fd8" stroke-width="0.19" textLength="14.7" lengthAdjust="spacingAndGlyphs">Oct1</text><text x="373.8" y="250" font-size="6.7" fill="#6f6a58" stroke="#6f6a58" stroke-width="0.19" textLength="14.7" lengthAdjust="spacingAndGlyphs">Oct2</text><text x="373.8" y="258.9" font-size="6.7" fill="#8c2b95" stroke="#8c2b95" stroke-width="0.19" textLength="16.9" lengthAdjust="spacingAndGlyphs">OBF1</text><text x="373.8" y="268.9" font-size="6.7" fill="#5c8fd8" stroke="#5c8fd8" stroke-width="0.19" textLength="14.7" lengthAdjust="spacingAndGlyphs">Oct1</text><line x1="392.7" y1="220.8" x2="501.5" y2="220.8" stroke="#858172" stroke-width="0.9"/><path d="M392.7 220.8L392.7 220.8L393.1 220.8L393.4 220.5L393.8 220.1L394.1 220.0L394.5 220.4L394.8 220.7L395.2 220.8L400.1 220.8L400.4 220.7L400.8 220.6L401.1 220.4L401.5 220.2L401.8 220.0L402.2 219.8L402.5 219.8L402.9 219.9L403.2 220.2L403.6 220.5L403.9 220.6L404.3 220.8L404.6 220.8L405.0 220.7L405.3 220.4L405.7 219.9L406.0 219.9L406.4 220.2L406.7 220.2L407.1 220.2L407.4 220.0L407.8 219.9L408.1 219.8L408.5 219.7L408.8 219.5L409.2 219.1L409.5 219.0L409.9 219.1L410.2 219.5L410.6 220.3L410.9 220.6L411.3 220.6L411.6 220.5L412.0 220.5L412.3 220.6L412.7 220.7L413.0 220.8L413.4 220.8L413.7 220.6L414.1 220.2L414.4 220.0L414.8 220.0L415.1 219.9L415.5 219.9L415.8 220.0L416.2 220.2L416.5 220.4L416.9 220.5L417.2 220.4L417.6 220.3L417.9 220.4L418.3 220.3L418.6 220.4L419.0 220.7L419.3 220.8L419.7 220.7L420.0 220.6L420.4 220.3L420.7 219.9L421.1 219.5L421.4 219.4L421.8 219.5L422.1 219.8L422.5 220.0L422.8 220.1L423.2 220.4L423.5 220.6L423.9 220.7L424.2 220.5L424.6 220.3L424.9 220.5L425.3 220.6L425.6 220.5L426.0 220.3L426.3 220.1L426.7 220.1L427.0 220.2L427.4 220.3L427.7 220.3L428.1 220.3L428.4 220.3L428.8 220.4L429.1 220.4L429.5 220.1L429.8 219.7L430.2 219.7L430.5 220.1L430.9 220.6L431.2 220.7L431.6 220.8L431.9 220.7L432.3 220.7L432.6 220.7L433.0 220.7L433.3 220.0L433.7 219.5L434.0 220.0L434.4 220.2L434.7 220.3L435.1 220.5L435.4 220.6L435.8 220.6L436.1 220.4L436.5 220.3L436.8 220.4L437.2 220.4L437.5 219.9L437.9 219.3L438.2 219.1L438.6 219.3L438.9 219.5L439.3 219.6L439.6 219.7L440.0 219.9L440.3 220.2L440.7 220.5L441.0 220.7L441.4 220.8L442.4 220.8L442.8 220.7L443.1 220.6L443.5 220.4L443.8 220.5L444.2 220.5L444.5 220.6L444.9 220.8L445.2 220.8L445.6 220.7L445.9 220.6L446.3 220.6L446.6 220.5L447.0 220.4L447.3 220.2L447.7 220.1L448.0 220.1L448.4 220.3L448.7 220.4L449.1 220.5L449.4 220.6L449.8 220.7L450.1 220.6L450.5 220.5L450.8 220.5L451.2 220.6L451.5 220.7L451.9 220.7L452.2 220.7L452.6 220.7L452.9 220.7L453.3 220.5L453.6 220.4L454.0 220.3L454.3 220.5L454.7 220.6L455.0 220.7L455.4 220.7L455.7 220.7L456.1 220.7L456.4 220.4L456.8 219.9L457.1 220.2L457.5 220.4L457.8 220.3L458.2 220.3L458.5 220.2L458.9 220.4L459.2 220.7L459.6 220.8L461.7 220.8L462.0 220.7L462.4 220.7L462.7 220.7L463.1 220.8L463.4 220.8L463.8 220.6L464.1 220.2L464.5 220.6L464.8 220.8L465.2 220.8L465.5 220.7L465.9 220.6L466.2 220.2L466.6 220.1L466.9 220.4L467.3 220.3L467.6 220.2L468.0 220.3L468.3 220.2L468.7 219.9L469.0 219.6L469.4 219.7L469.7 220.0L470.1 220.3L470.4 220.4L470.8 220.4L471.1 220.4L471.5 220.5L471.8 220.4L472.2 220.2L472.5 220.6L472.9 220.6L473.2 220.2L473.6 219.8L473.9 219.4L474.3 219.7L474.6 220.4L475.0 220.5L475.3 220.4L475.7 220.3L476.0 220.4L476.4 220.4L476.7 220.5L477.1 220.5L477.4 220.4L477.8 220.4L478.1 220.4L478.5 220.6L478.8 220.7L479.2 220.7L479.5 220.7L479.9 220.6L480.2 220.5L480.6 220.3L480.9 220.0L481.3 220.1L481.6 220.4L482.0 220.6L482.3 220.7L482.7 220.7L483.0 220.5L483.4 220.1L483.7 219.7L484.1 219.7L484.4 220.2L484.8 220.5L485.1 220.7L485.5 220.8L485.8 220.8L486.2 220.7L486.5 220.6L486.9 220.4L487.2 220.2L487.6 220.3L487.9 220.5L488.3 220.6L488.6 220.8L489.7 220.8L490.0 220.7L490.4 220.8L491.4 220.8L491.8 220.6L492.1 220.3L492.5 220.5L492.8 220.6L493.2 220.6L493.5 220.7L493.9 220.8L494.6 220.8L494.9 220.7L495.3 220.6L495.6 220.4L496.0 220.3L496.3 220.3L496.7 220.4L497.0 220.6L497.4 220.7L497.7 220.8L498.1 220.6L498.4 220.3L498.8 220.3L499.1 220.5L499.5 220.4L499.8 220.3L500.2 220.4L500.5 220.5L500.9 220.5L501.2 220.5L501.5 220.8Z" fill="#4d4838"/><line x1="392.7" y1="230.5" x2="501.5" y2="230.5" stroke="#8a2595" stroke-width="0.9"/><path d="M392.7 230.5L392.7 230.1L393.1 230.0L393.4 230.1L393.8 230.3L394.1 230.4L394.5 230.4L394.8 230.4L395.2 230.2L395.5 229.9L395.9 229.4L396.2 229.2L396.6 229.5L396.9 229.6L397.3 229.3L397.6 229.3L398.0 229.5L398.3 229.7L398.7 229.7L399.0 229.4L399.4 229.5L399.7 229.5L400.1 229.3L400.4 229.3L400.8 229.3L401.1 229.2L401.5 229.5L401.8 229.8L402.2 230.0L402.5 230.1L402.9 230.1L403.2 230.3L403.6 230.5L403.9 230.5L404.3 230.3L404.6 230.1L405.0 230.1L405.3 230.4L405.7 230.5L406.0 230.5L406.4 230.3L406.7 230.0L407.1 229.7L407.4 229.6L407.8 229.7L408.1 229.7L408.5 229.4L408.8 228.6L409.2 228.0L409.5 227.8L409.9 228.0L410.2 228.8L410.6 229.5L410.9 229.9L411.3 230.1L411.6 230.3L412.0 230.3L412.3 230.3L412.7 230.3L413.0 230.3L413.4 230.3L413.7 230.3L414.1 230.3L414.4 230.3L414.8 230.3L415.1 230.3L415.5 230.2L415.8 230.1L416.2 229.9L416.5 229.7L416.9 229.6L417.2 229.8L417.6 230.1L417.9 230.3L418.3 230.4L418.6 230.3L419.0 230.1L419.3 230.0L419.7 230.1L420.0 230.3L420.4 230.4L420.7 230.5L421.1 230.5L421.4 230.3L421.8 229.8L422.1 229.2L422.5 229.2L422.8 229.8L423.2 230.0L423.5 229.7L423.9 229.4L424.2 229.4L424.6 229.6L424.9 229.9L425.3 229.9L425.6 229.9L426.0 229.8L426.3 229.8L426.7 230.0L427.0 230.1L427.4 230.3L427.7 230.3L428.1 230.2L428.4 230.1L428.8 230.2L429.1 230.3L429.5 230.3L429.8 230.2L430.2 230.1L430.5 230.0L430.9 230.0L431.2 230.0L431.6 230.1L431.9 230.0L432.3 229.4L432.6 228.4L433.0 228.2L433.3 229.1L433.7 229.9L434.0 230.3L434.4 230.3L434.7 230.2L435.1 230.0L435.4 229.9L435.8 230.0L436.1 230.2L436.5 230.3L436.8 230.3L437.2 230.3L437.5 230.1L437.9 229.9L438.2 229.9L438.6 230.1L438.9 230.3L439.3 230.4L439.6 230.3L440.0 230.3L440.3 230.2L440.7 230.0L441.0 229.8L441.4 229.8L441.7 229.9L442.1 230.1L442.4 230.3L442.8 230.4L443.1 230.5L443.5 230.5L443.8 230.4L444.2 230.2L444.5 229.9L444.9 229.9L445.2 230.2L445.6 230.3L445.9 230.2L446.3 229.8L446.6 229.3L447.0 228.8L447.3 228.5L447.7 228.7L448.0 229.4L448.4 230.0L448.7 230.3L449.1 230.0L449.4 229.6L449.8 229.5L450.1 229.2L450.5 229.4L450.8 230.1L451.2 230.4L451.5 230.4L451.9 230.3L452.2 230.3L452.6 229.8L452.9 229.1L453.3 229.0L453.6 229.5L454.0 230.2L454.3 230.3L454.7 229.7L455.0 229.5L455.4 229.5L455.7 229.5L456.1 229.7L456.4 230.0L456.8 229.8L457.1 229.7L457.5 230.0L457.8 230.2L458.2 230.3L458.5 230.3L458.9 229.8L459.2 229.5L459.6 229.8L459.9 230.2L460.3 230.5L461.0 230.5L461.3 230.4L461.7 230.4L462.0 230.4L462.4 230.4L462.7 230.2L463.1 229.9L463.4 229.5L463.8 229.3L464.1 229.3L464.5 229.6L464.8 229.8L465.2 229.8L465.5 229.4L465.9 229.3L466.2 229.3L466.6 229.3L466.9 229.3L467.3 229.3L467.6 229.1L468.0 228.9L468.3 228.6L468.7 228.5L469.0 228.4L469.4 228.9L469.7 229.6L470.1 229.8L470.4 230.0L470.8 230.0L471.1 229.7L471.5 229.3L471.8 229.8L472.2 230.2L472.5 230.3L472.9 230.3L473.2 230.0L473.6 229.9L473.9 229.9L474.3 229.7L474.6 230.0L475.0 230.2L475.3 230.3L475.7 230.4L476.0 230.4L476.4 230.3L476.7 230.2L477.1 230.1L477.4 230.2L477.8 230.1L478.1 229.4L478.5 228.0L478.8 227.8L479.2 228.6L479.5 229.2L479.9 230.1L480.2 230.5L480.6 230.4L480.9 230.1L481.3 230.3L481.6 230.5L482.3 230.5L482.7 230.4L483.0 230.2L483.4 230.1L483.7 230.0L484.1 229.9L484.4 229.8L484.8 229.9L485.1 229.8L485.5 229.7L485.8 229.9L486.2 230.1L486.5 230.3L486.9 230.3L487.2 230.4L487.6 230.4L487.9 230.5L489.0 230.5L489.3 230.4L489.7 230.2L490.0 230.1L490.4 230.2L490.7 230.4L491.1 230.4L491.4 230.3L491.8 230.0L492.1 229.7L492.5 229.6L492.8 229.6L493.2 229.7L493.5 229.7L493.9 229.7L494.2 230.0L494.6 230.2L494.9 230.0L495.3 229.7L495.6 229.6L496.0 229.7L496.3 229.9L496.7 230.0L497.0 230.0L497.4 230.0L497.7 230.0L498.1 230.1L498.4 230.3L498.8 230.4L499.1 230.3L499.5 230.2L499.8 230.2L500.2 230.1L500.5 230.0L500.9 230.0L501.2 230.2L501.5 230.5Z" fill="#7d1489"/><line x1="392.7" y1="239.7" x2="501.5" y2="239.7" stroke="#80aaf0" stroke-width="0.9"/><path d="M392.7 239.7L392.7 239.7L393.1 239.6L393.4 239.5L393.8 239.2L394.1 238.8L394.5 238.6L394.8 238.7L395.2 239.0L395.5 239.3L395.9 239.5L396.2 239.4L396.6 239.3L396.9 239.2L397.3 239.2L397.6 239.4L398.0 239.5L398.3 239.5L398.7 239.4L399.0 239.2L399.4 239.1L399.7 239.1L400.1 239.1L400.4 239.2L400.8 239.3L401.1 239.5L401.5 239.6L401.8 239.7L402.5 239.7L402.9 239.6L403.2 239.4L403.6 239.2L403.9 239.0L404.3 238.6L404.6 238.4L405.0 238.6L405.3 238.9L405.7 239.2L406.0 239.3L406.4 238.9L406.7 238.9L407.1 239.0L407.4 239.0L407.8 238.9L408.1 238.6L408.5 238.0L408.8 237.4L409.2 236.8L409.5 236.6L409.9 236.7L410.2 237.2L410.6 237.9L410.9 238.3L411.3 238.2L411.6 238.2L412.0 238.4L412.3 238.7L412.7 239.2L413.0 239.5L413.4 239.6L413.7 239.7L414.1 239.6L414.4 239.6L414.8 239.4L415.1 238.9L415.5 238.7L415.8 238.9L416.2 239.2L416.5 239.2L416.9 239.3L417.2 239.3L417.6 239.0L417.9 238.6L418.3 238.2L418.6 238.5L419.0 239.0L419.3 238.9L419.7 238.6L420.0 238.2L420.4 238.4L420.7 239.0L421.1 239.3L421.4 239.5L421.8 239.5L422.1 239.3L422.5 239.2L422.8 239.2L423.2 239.2L423.5 239.2L423.9 239.2L424.2 239.2L424.6 239.3L424.9 239.4L425.3 239.5L425.6 239.5L426.0 239.5L426.3 239.5L426.7 239.4L427.0 239.5L427.4 239.7L429.8 239.7L430.2 239.6L430.5 239.6L430.9 239.6L431.2 239.6L431.6 239.6L431.9 239.6L432.3 239.5L432.6 239.2L433.0 239.3L433.3 239.3L433.7 239.2L434.0 239.1L434.4 238.9L434.7 238.7L435.1 238.7L435.4 238.8L435.8 238.9L436.1 239.0L436.5 239.3L436.8 239.5L437.2 239.4L437.5 239.2L437.9 239.2L438.2 239.3L438.6 239.4L438.9 239.6L439.3 239.6L439.6 239.7L440.0 239.6L440.3 239.4L440.7 239.3L441.0 239.4L441.4 239.4L441.7 239.3L442.1 239.6L442.4 239.7L442.8 239.6L443.1 239.5L443.5 239.2L443.8 238.9L444.2 238.7L444.5 238.7L444.9 238.9L445.2 238.9L445.6 238.9L445.9 239.3L446.3 239.6L446.6 239.6L447.0 239.6L447.3 239.4L447.7 239.2L448.0 239.1L448.4 239.2L448.7 239.4L449.1 239.6L449.4 239.7L449.8 239.7L450.1 239.6L450.5 239.5L450.8 239.2L451.2 238.9L451.5 239.0L451.9 239.2L452.2 239.5L452.6 239.5L452.9 239.5L453.3 239.3L453.6 239.2L454.0 239.2L454.3 239.3L454.7 239.2L455.0 239.0L455.4 238.6L455.7 238.7L456.1 239.1L456.4 239.5L456.8 239.7L457.5 239.7L457.8 239.6L458.2 239.6L458.5 239.7L459.2 239.7L459.6 239.6L459.9 239.6L460.3 239.4L460.6 239.1L461.0 238.9L461.3 238.8L461.7 238.7L462.0 238.8L462.4 238.9L462.7 238.9L463.1 238.6L463.4 238.4L463.8 238.5L464.1 238.8L464.5 239.1L464.8 239.4L465.2 239.5L465.5 239.5L465.9 239.5L466.2 239.5L466.6 239.4L466.9 239.4L467.3 239.5L467.6 239.6L468.0 239.6L468.3 239.4L468.7 239.2L469.0 239.3L469.4 239.6L469.7 239.7L471.5 239.7L471.8 239.5L472.2 239.4L472.5 239.1L472.9 238.7L473.2 238.2L473.6 237.9L473.9 237.9L474.3 238.2L474.6 238.6L475.0 239.0L475.3 239.2L475.7 239.1L476.0 238.9L476.4 238.6L476.7 238.4L477.1 238.5L477.4 238.7L477.8 238.9L478.1 239.0L478.5 239.0L478.8 238.9L479.2 238.9L479.5 239.1L479.9 239.3L480.2 239.5L480.6 239.6L480.9 239.6L481.3 239.5L481.6 239.3L482.0 238.8L482.3 238.3L482.7 238.0L483.0 238.1L483.4 238.3L483.7 238.6L484.1 238.8L484.4 238.7L484.8 238.7L485.1 238.8L485.5 239.1L485.8 239.1L486.2 239.1L486.5 239.3L486.9 239.6L487.2 239.7L488.6 239.7L489.0 239.5L489.3 239.2L489.7 238.8L490.0 238.7L490.4 239.0L490.7 239.4L491.1 239.6L491.4 239.7L492.1 239.7L492.5 239.5L492.8 239.2L493.2 239.3L493.5 239.5L493.9 239.4L494.2 239.2L494.6 239.2L494.9 239.4L495.3 239.6L495.6 239.6L496.0 239.1L496.3 238.9L496.7 239.2L497.0 239.0L497.4 238.5L497.7 238.2L498.1 238.0L498.4 238.1L498.8 238.4L499.1 238.7L499.5 238.9L499.8 239.2L500.2 239.3L500.5 239.1L500.9 238.8L501.2 238.9L501.5 239.7Z" fill="#3f82ee"/><line x1="392.7" y1="248.9" x2="501.5" y2="248.9" stroke="#858172" stroke-width="0.9"/><path d="M392.7 248.9L392.7 248.9L393.8 248.9L394.1 248.8L394.5 248.8L394.8 248.8L395.2 248.7L395.5 248.5L395.9 248.5L396.2 248.3L396.6 248.2L396.9 248.2L397.3 248.3L397.6 248.5L398.0 248.7L398.3 248.8L398.7 248.8L399.0 248.7L399.4 248.7L399.7 248.8L400.1 248.9L401.1 248.9L401.5 248.8L401.8 248.6L402.2 248.3L402.5 248.3L402.9 248.6L403.2 248.8L403.6 248.9L403.9 248.8L404.3 248.5L404.6 248.2L405.0 248.0L405.3 248.1L405.7 248.5L406.0 248.7L406.4 248.7L406.7 248.6L407.1 248.5L407.4 248.5L407.8 248.4L408.1 248.5L408.5 248.5L408.8 248.2L409.2 247.7L409.5 247.3L409.9 247.1L410.2 247.4L410.6 248.0L410.9 248.3L411.3 248.5L411.6 248.8L412.0 248.8L412.3 248.8L412.7 248.8L413.0 248.7L413.4 248.7L413.7 248.7L414.1 248.8L414.4 248.8L414.8 248.7L415.1 248.6L415.5 248.7L415.8 248.7L416.2 248.8L416.5 248.7L416.9 248.3L417.2 248.0L417.6 248.3L417.9 248.7L418.3 248.7L418.6 248.5L419.0 248.5L419.3 248.5L419.7 248.3L420.0 248.0L420.4 247.7L420.7 247.4L421.1 247.9L421.4 248.4L421.8 248.6L422.1 248.7L422.5 248.7L422.8 248.5L423.2 248.5L423.5 248.5L423.9 248.5L424.2 248.5L424.6 248.5L424.9 248.5L425.3 248.4L425.6 248.3L426.0 248.2L426.3 248.5L426.7 248.6L427.0 248.4L427.4 248.0L427.7 247.6L428.1 247.7L428.4 248.1L428.8 248.3L429.1 248.6L429.5 248.8L429.8 248.8L430.2 248.6L430.5 248.2L430.9 247.9L431.2 247.6L431.6 247.7L431.9 248.1L432.3 248.4L432.6 248.7L433.0 248.8L433.3 248.7L433.7 248.6L434.0 248.6L434.4 248.5L434.7 248.6L435.1 248.7L435.4 248.7L435.8 248.5L436.1 248.6L436.5 248.8L436.8 248.8L437.2 248.7L437.5 248.5L437.9 248.0L438.2 247.8L438.6 247.9L438.9 248.0L439.3 247.9L439.6 247.8L440.0 247.8L440.3 248.1L440.7 248.4L441.0 248.5L441.4 248.6L441.7 248.7L442.1 248.7L442.4 248.7L442.8 248.6L443.1 248.2L443.5 247.9L443.8 248.0L444.2 248.5L444.5 248.8L444.9 248.9L445.6 248.9L445.9 248.7L446.3 248.4L446.6 248.1L447.0 248.1L447.3 248.2L447.7 248.0L448.0 247.8L448.4 247.7L448.7 248.3L449.1 248.5L449.4 248.5L449.8 248.5L450.1 248.6L450.5 248.7L450.8 248.8L451.2 248.7L451.5 248.7L451.9 248.6L452.2 248.7L452.6 248.7L452.9 248.8L453.3 248.9L453.6 248.8L454.0 248.6L454.3 248.3L454.7 248.1L455.0 248.2L455.4 248.3L455.7 248.4L456.1 248.5L456.4 248.6L456.8 248.7L457.1 248.4L457.5 248.2L457.8 248.3L458.2 248.5L458.5 248.6L458.9 248.6L459.2 248.6L459.6 248.6L459.9 248.6L460.3 248.7L460.6 248.7L461.0 248.8L461.3 248.8L461.7 248.9L462.0 248.8L462.4 248.7L462.7 248.4L463.1 248.3L463.4 247.9L463.8 247.6L464.1 248.0L464.5 248.5L464.8 248.7L465.2 248.7L465.5 248.8L465.9 248.9L466.6 248.9L466.9 248.8L467.3 248.5L467.6 248.2L468.0 248.4L468.3 248.8L468.7 248.9L469.4 248.9L469.7 248.8L470.1 248.5L470.4 248.0L470.8 247.7L471.1 247.8L471.5 248.0L471.8 248.1L472.2 248.1L472.5 248.1L472.9 248.1L473.2 248.3L473.6 248.6L473.9 248.8L474.3 248.8L474.6 248.8L475.0 248.7L475.3 248.5L475.7 248.3L476.0 248.2L476.4 248.3L476.7 248.2L477.1 248.1L477.4 248.0L477.8 248.1L478.1 248.4L478.5 248.6L478.8 248.7L479.2 248.8L479.5 248.6L479.9 248.2L480.2 248.2L480.6 248.6L480.9 248.8L481.3 248.6L481.6 248.2L482.0 248.0L482.3 248.0L482.7 247.6L483.0 247.5L483.4 248.1L483.7 248.7L484.1 248.8L484.4 248.6L484.8 248.0L485.1 247.2L485.5 246.4L485.8 246.1L486.2 246.4L486.5 247.2L486.9 248.0L487.2 248.5L487.6 248.7L487.9 248.8L488.3 248.8L488.6 248.8L489.0 248.8L489.3 248.8L489.7 248.9L490.0 248.9L490.4 248.8L490.7 248.6L491.1 248.1L491.4 247.9L491.8 248.1L492.1 248.4L492.5 248.5L492.8 248.5L493.2 248.1L493.5 247.9L493.9 248.2L494.2 248.6L494.6 248.8L494.9 248.5L495.3 248.0L495.6 248.1L496.0 248.4L496.3 248.4L496.7 248.5L497.0 248.6L497.4 248.8L497.7 248.9L498.4 248.9L498.8 248.8L499.1 248.7L499.5 248.6L499.8 248.6L500.2 248.7L500.5 248.7L500.9 248.7L501.2 248.7L501.5 248.9Z" fill="#4d4838"/><line x1="392.7" y1="258.5" x2="501.5" y2="258.5" stroke="#8a2595" stroke-width="0.9"/><path d="M392.7 258.5L392.7 258.4L393.1 258.2L393.4 257.9L393.8 258.0L394.1 258.3L394.5 258.3L394.8 258.1L395.2 257.8L395.5 257.6L395.9 257.7L396.2 257.8L396.6 257.7L396.9 257.6L397.3 257.5L397.6 257.4L398.0 257.1L398.3 257.2L398.7 257.9L399.0 258.3L399.4 258.3L399.7 258.2L400.1 258.1L400.4 258.1L400.8 258.1L401.1 258.2L401.5 258.1L401.8 257.9L402.2 257.8L402.5 258.0L402.9 258.2L403.2 258.4L403.6 258.4L403.9 258.1L404.3 257.6L404.6 257.3L405.0 257.4L405.3 257.3L405.7 256.9L406.0 256.1L406.4 255.9L406.7 256.7L407.1 257.2L407.4 257.2L407.8 257.2L408.1 257.3L408.5 256.8L408.8 255.4L409.2 253.3L409.5 252.4L409.9 254.2L410.2 256.8L410.6 258.1L410.9 258.5L411.6 258.5L412.0 258.3L412.3 258.1L412.7 257.9L413.0 257.6L413.4 257.6L413.7 257.8L414.1 258.1L414.4 258.3L414.8 258.3L415.1 258.1L415.5 257.9L415.8 257.9L416.2 258.0L416.5 258.0L416.9 257.8L417.2 257.6L417.6 257.7L417.9 257.5L418.3 256.8L418.6 256.8L419.0 256.4L419.3 255.9L419.7 256.6L420.0 257.3L420.4 257.8L420.7 257.9L421.1 257.4L421.4 257.4L421.8 257.8L422.1 257.7L422.5 257.2L422.8 257.1L423.2 257.4L423.5 257.7L423.9 257.8L424.2 257.9L424.6 257.9L424.9 257.8L425.3 257.6L425.6 257.3L426.0 257.3L426.3 257.6L426.7 258.0L427.0 258.3L427.4 258.4L427.7 258.5L428.1 258.5L428.4 258.4L428.8 258.3L429.1 258.2L429.5 258.3L429.8 258.3L430.2 258.2L430.5 257.9L430.9 257.5L431.2 257.3L431.6 257.9L431.9 258.4L432.3 258.5L432.6 258.3L433.0 257.8L433.3 257.6L433.7 257.8L434.0 257.8L434.4 257.5L434.7 257.9L435.1 258.2L435.4 258.4L435.8 258.4L436.1 258.4L436.5 258.1L436.8 257.6L437.2 257.0L437.5 256.5L437.9 256.4L438.2 256.9L438.6 257.6L438.9 258.1L439.3 258.4L439.6 258.5L440.7 258.5L441.0 258.2L441.4 257.8L441.7 258.0L442.1 258.4L442.4 258.5L445.6 258.5L445.9 258.4L446.3 258.2L446.6 257.9L447.0 257.8L447.3 257.8L447.7 257.6L448.0 256.9L448.4 257.0L448.7 257.8L449.1 258.0L449.4 258.0L449.8 258.1L450.1 258.2L450.5 258.3L450.8 258.2L451.2 257.9L451.5 257.8L451.9 257.7L452.2 257.8L452.6 257.7L452.9 257.5L453.3 257.2L453.6 256.8L454.0 256.6L454.3 256.5L454.7 256.6L455.0 257.6L455.4 257.8L455.7 257.2L456.1 257.1L456.4 258.0L456.8 258.4L457.1 258.5L458.5 258.5L458.9 258.3L459.2 257.8L459.6 256.8L459.9 257.3L460.3 258.0L460.6 257.9L461.0 257.5L461.3 257.0L461.7 256.8L462.0 257.1L462.4 257.4L462.7 257.5L463.1 257.5L463.4 257.6L463.8 258.1L464.1 258.3L464.5 258.4L464.8 258.3L465.2 258.1L465.5 258.1L465.9 258.1L466.2 257.9L466.6 257.6L466.9 257.3L467.3 257.3L467.6 257.7L468.0 258.2L468.3 258.3L468.7 257.8L469.0 257.2L469.4 257.6L469.7 257.6L470.1 257.7L470.4 258.1L470.8 258.2L471.1 258.1L471.5 258.0L471.8 258.0L472.2 258.0L472.5 258.0L472.9 258.1L473.2 258.2L473.6 258.3L473.9 258.3L474.3 258.3L474.6 258.3L475.0 258.2L475.3 257.7L475.7 257.5L476.0 257.7L476.4 258.0L476.7 258.2L477.1 258.2L477.4 258.0L477.8 257.7L478.1 257.3L478.5 256.6L478.8 256.1L479.2 256.3L479.5 256.5L479.9 256.5L480.2 257.0L480.6 257.6L480.9 258.0L481.3 258.0L481.6 257.7L482.0 257.7L482.3 258.2L482.7 258.4L483.0 258.4L483.4 258.4L483.7 258.4L484.1 258.3L484.4 258.1L484.8 258.0L485.1 258.0L485.5 258.0L485.8 258.0L486.2 257.8L486.5 258.0L486.9 258.3L487.2 258.4L487.6 258.3L487.9 258.2L488.3 258.1L488.6 258.0L489.0 257.9L489.3 257.9L489.7 258.0L490.0 258.1L490.4 258.1L490.7 258.0L491.1 257.8L491.4 257.6L491.8 257.6L492.1 257.7L492.5 257.6L492.8 256.8L493.2 255.8L493.5 255.1L493.9 255.1L494.2 255.1L494.6 255.2L494.9 255.5L495.3 255.7L495.6 256.7L496.0 257.6L496.3 258.0L496.7 258.1L497.0 257.9L497.4 257.6L497.7 257.3L498.1 257.3L498.4 257.4L498.8 257.7L499.1 258.0L499.5 258.1L499.8 257.4L500.2 256.6L500.5 257.0L500.9 257.5L501.2 257.8L501.5 258.5Z" fill="#7d1489"/><line x1="392.7" y1="267.7" x2="501.5" y2="267.7" stroke="#80aaf0" stroke-width="0.9"/><path d="M392.7 267.7L392.7 267.7L393.1 267.6L393.4 267.2L393.8 266.6L394.1 266.4L394.5 266.9L394.8 267.4L395.2 267.5L395.5 267.4L395.9 267.2L396.2 267.1L396.6 267.1L396.9 267.0L397.3 267.0L397.6 267.1L398.0 267.3L398.3 267.5L398.7 267.6L399.0 267.5L399.4 267.5L399.7 267.5L400.1 267.6L400.4 267.6L400.8 267.5L401.1 267.4L401.5 267.3L401.8 267.2L402.2 266.9L402.5 267.0L402.9 267.4L403.2 267.5L403.6 267.5L403.9 267.6L404.3 267.6L404.6 267.7L405.3 267.7L405.7 267.6L406.0 267.5L406.4 267.6L406.7 267.7L407.1 267.7L407.4 267.6L407.8 267.5L408.1 267.2L408.5 266.7L408.8 266.1L409.2 265.7L409.5 265.4L409.9 265.3L410.2 265.6L410.6 266.3L410.9 267.0L411.3 267.2L411.6 267.0L412.0 266.8L412.3 266.9L412.7 267.2L413.0 267.1L413.4 266.7L413.7 266.5L414.1 266.5L414.4 266.7L414.8 267.0L415.1 267.0L415.5 267.1L415.8 267.2L416.2 267.0L416.5 266.7L416.9 266.7L417.2 266.6L417.6 266.6L417.9 266.8L418.3 267.1L418.6 267.3L419.0 267.3L419.3 267.0L419.7 266.5L420.0 266.0L420.4 265.9L420.7 265.9L421.1 266.2L421.4 266.7L421.8 267.1L422.1 267.2L422.5 266.9L422.8 266.2L423.2 265.7L423.5 265.5L423.9 266.0L424.2 266.8L424.6 267.4L424.9 267.6L425.3 267.6L425.6 267.5L426.0 267.5L426.3 267.6L426.7 267.6L427.0 267.6L427.4 267.6L427.7 267.6L428.1 267.6L428.4 267.6L428.8 267.6L429.1 267.6L429.5 267.5L429.8 267.3L430.2 267.1L430.5 267.2L430.9 267.5L431.2 267.6L431.6 267.7L431.9 267.6L432.3 267.4L432.6 266.9L433.0 266.4L433.3 266.0L433.7 266.1L434.0 266.7L434.4 267.1L434.7 267.2L435.1 267.3L435.4 267.4L435.8 267.5L436.1 267.6L436.5 267.4L436.8 267.1L437.2 267.0L437.5 266.9L437.9 266.7L438.2 266.6L438.6 266.6L438.9 266.8L439.3 267.0L439.6 267.1L440.0 267.2L440.3 267.0L440.7 266.6L441.0 266.4L441.4 266.7L441.7 267.1L442.1 267.4L442.4 267.5L442.8 267.6L443.1 267.6L443.5 267.5L443.8 267.2L444.2 266.7L444.5 266.7L444.9 266.9L445.2 266.8L445.6 266.6L445.9 266.5L446.3 266.5L446.6 266.7L447.0 266.3L447.3 265.7L447.7 265.5L448.0 265.9L448.4 266.6L448.7 267.1L449.1 267.3L449.4 267.3L449.8 267.2L450.1 267.0L450.5 266.8L450.8 266.6L451.2 266.3L451.5 266.6L451.9 267.2L452.2 267.3L452.6 267.3L452.9 267.2L453.3 267.1L453.6 267.1L454.0 267.2L454.3 267.4L454.7 267.6L455.0 267.7L457.1 267.7L457.5 267.5L457.8 267.3L458.2 267.0L458.5 266.9L458.9 266.9L459.2 266.8L459.6 266.6L459.9 266.8L460.3 267.4L460.6 267.7L461.0 267.7L461.3 267.6L461.7 267.4L462.0 267.4L462.4 267.5L462.7 267.4L463.1 267.3L463.4 267.4L463.8 267.5L464.1 267.6L464.5 267.4L464.8 267.1L465.2 266.8L465.5 266.6L465.9 266.8L466.2 267.0L466.6 267.3L466.9 267.6L467.3 267.7L467.6 267.6L468.0 267.5L468.3 267.4L468.7 267.3L469.0 267.2L469.4 267.0L469.7 266.6L470.1 266.3L470.4 266.3L470.8 266.6L471.1 266.8L471.5 266.9L471.8 266.8L472.2 266.7L472.5 266.5L472.9 266.2L473.2 266.2L473.6 266.7L473.9 267.3L474.3 267.6L474.6 267.6L475.0 267.6L475.3 267.5L475.7 267.5L476.0 267.5L476.4 267.2L476.7 266.6L477.1 266.4L477.4 266.5L477.8 266.7L478.1 267.0L478.5 267.3L478.8 267.4L479.2 267.4L479.5 267.2L479.9 267.1L480.2 267.4L480.6 267.6L480.9 267.5L481.3 267.5L481.6 267.5L482.0 267.5L482.3 267.5L482.7 267.5L483.0 267.6L483.4 267.7L484.1 267.7L484.4 267.6L484.8 267.5L485.1 267.4L485.5 267.2L485.8 267.1L486.2 267.2L486.5 267.4L486.9 267.6L487.2 267.6L487.6 267.4L487.9 267.0L488.3 266.5L488.6 266.3L489.0 266.5L489.3 266.8L489.7 267.0L490.0 267.1L490.4 267.1L490.7 267.3L491.1 267.4L491.4 267.3L491.8 267.2L492.1 267.1L492.5 267.1L492.8 267.0L493.2 266.9L493.5 266.7L493.9 266.4L494.2 266.3L494.6 266.3L494.9 266.4L495.3 266.9L495.6 267.4L496.0 267.6L496.3 267.7L496.7 267.6L497.0 267.6L497.4 267.5L497.7 267.4L498.1 267.2L498.4 266.8L498.8 266.6L499.1 266.7L499.5 267.1L499.8 267.3L500.2 267.3L500.5 266.8L500.9 265.9L501.2 265.7L501.5 267.7Z" fill="#3f82ee"/><path d="M58.3 226.4L60.2 226.5L62.1 226.7L64.1 226.8L66.0 226.9L67.9 227.0L69.8 227.1L71.7 227.2L73.6 227.3L75.5 227.4L77.4 227.5L79.4 227.5L81.3 227.6L83.2 227.7L85.1 227.8L87.0 227.8L88.9 227.9L90.8 228.0L92.7 228.0L94.7 228.1L96.6 228.1L98.5 228.2L100.4 228.3L102.3 228.3L104.2 228.4L106.1 228.4L108.0 228.4L110.0 228.5L111.9 228.5L113.8 228.6L115.7 228.6L117.6 228.6L119.5 228.7L121.4 228.7L123.4 228.8L125.3 228.8L127.2 228.8L129.1 228.8L131.0 228.9L132.9 228.9L134.8 228.9L136.7 228.9L138.7 229.0L140.6 229.0L142.5 229.1L144.4 229.2L146.3 229.4L148.2 229.5L150.1 229.7L152.0 229.9L152.0 230.9L150.1 231.1L148.2 231.3L146.3 231.5L144.4 231.6L142.5 231.8L140.6 231.9L138.7 231.9L136.7 231.9L134.8 232.0L132.9 232.0L131.0 232.0L129.1 232.0L127.2 232.1L125.3 232.1L123.4 232.1L121.4 232.2L119.5 232.2L117.6 232.2L115.7 232.3L113.8 232.3L111.9 232.4L110.0 232.4L108.0 232.5L106.1 232.5L104.2 232.5L102.3 232.6L100.4 232.7L98.5 232.7L96.6 232.8L94.7 232.8L92.7 232.9L90.8 233.0L88.9 233.0L87.0 233.1L85.1 233.2L83.2 233.2L81.3 233.3L79.4 233.4L77.4 233.5L75.5 233.6L73.6 233.7L71.7 233.8L69.8 233.9L67.9 234.0L66.0 234.1L64.1 234.2L62.1 234.3L60.2 234.4L58.3 234.6Z" fill="#7f7f7f"/><path d="M698 2324h14v14h-14zM624 2371h14v14h-14zM606 2198h14v14h-14zM613 2320h14v14h-14zM719 2268h14v14h-14zM670 2339h14v14h-14zM670 2190h14v14h-14zM652 2345h14v14h-14zM707 2266h14v14h-14zM668 2371h14v14h-14zM684 2296h14v14h-14zM680 2234h14v14h-14zM612 2312h14v14h-14zM620 2427h14v14h-14zM621 2254h14v14h-14zM659 2342h14v14h-14zM580 2310h14v14h-14zM643 2305h14v14h-14zM655 2340h14v14h-14zM639 2226h14v14h-14zM681 2335h14v14h-14zM708 2310h14v14h-14zM669 2298h14v14h-14zM721 2291h14v14h-14zM712 2268h14v14h-14zM664 2111h14v14h-14zM714 2355h14v14h-14zM619 2249h14v14h-14zM672 2357h14v14h-14zM691 2119h14v14h-14zM689 2277h14v14h-14zM666 2315h14v14h-14zM645 2300h14v14h-14zM656 2304h14v14h-14zM688 2327h14v14h-14zM711 2330h14v14h-14zM696 2253h14v14h-14zM678 2327h14v14h-14zM706 2169h14v14h-14zM709 2317h14v14h-14zM658 2257h14v14h-14zM700 2247h14v14h-14zM667 2366h14v14h-14zM655 2299h14v14h-14zM703 2363h14v14h-14zM633 2232h14v14h-14zM715 2320h14v14h-14zM717 2270h14v14h-14zM709 2301h14v14h-14zM704 2229h14v14h-14zM635 2351h14v14h-14zM630 2236h14v14h-14zM643 2221h14v14h-14zM646 2380h14v14h-14zM610 2318h14v14h-14zM674 2266h14v14h-14zM710 2258h14v14h-14zM714 1931h14v14h-14zM654 2284h14v14h-14zM675 2313h14v14h-14zM717 2331h14v14h-14zM677 2320h14v14h-14zM680 2307h14v14h-14zM679 2280h14v14h-14zM661 2282h14v14h-14zM718 2287h14v14h-14zM720 2331h14v14h-14zM720 2271h14v14h-14zM692 2300h14v14h-14zM689 2297h14v14h-14zM655 2306h14v14h-14zM680 2320h14v14h-14zM716 2327h14v14h-14zM713 2347h14v14h-14zM709 2317h14v14h-14zM687 2110h14v14h-14zM630 2165h14v14h-14zM704 2258h14v14h-14zM696 2301h14v14h-14zM709 2312h14v14h-14zM667 2309h14v14h-14zM639 2396h14v14h-14zM662 2314h14v14h-14zM677 2066h14v14h-14zM714 2331h14v14h-14zM674 2283h14v14h-14zM654 2271h14v14h-14zM689 2377h14v14h-14zM704 2144h14v14h-14zM613 2305h14v14h-14zM660 2253h14v14h-14zM699 2353h14v14h-14zM667 2119h14v14h-14zM664 2284h14v14h-14zM700 2314h14v14h-14zM630 2378h14v14h-14zM715 2226h14v14h-14zM704 2360h14v14h-14zM657 2190h14v14h-14zM599 2337h14v14h-14zM697 2317h14v14h-14zM713 2106h14v14h-14zM630 2154h14v14h-14zM652 2318h14v14h-14zM632 2358h14v14h-14zM705 2290h14v14h-14zM669 2304h14v14h-14zM610 2281h14v14h-14zM696 2304h14v14h-14zM670 2297h14v14h-14zM664 2302h14v14h-14zM721 2290h14v14h-14zM709 2254h14v14h-14zM720 2325h14v14h-14zM639 2115h14v14h-14zM663 2281h14v14h-14zM655 2274h14v14h-14zM717 2419h14v14h-14zM717 2269h14v14h-14zM669 2327h14v14h-14zM665 2255h14v14h-14zM697 2227h14v14h-14zM635 2292h14v14h-14zM676 2337h14v14h-14zM677 2223h14v14h-14zM641 2278h14v14h-14zM593 2290h14v14h-14zM624 2307h14v14h-14zM676 2235h14v14h-14zM644 2360h14v14h-14zM658 2353h14v14h-14zM717 2305h14v14h-14zM639 2304h14v14h-14zM693 2128h14v14h-14zM590 2247h14v14h-14zM659 2448h14v14h-14zM635 2287h14v14h-14zM687 2314h14v14h-14zM701 2307h14v14h-14zM676 2290h14v14h-14zM690 2274h14v14h-14zM684 2213h14v14h-14zM708 2302h14v14h-14zM677 2211h14v14h-14zM681 2196h14v14h-14zM629 2335h14v14h-14zM656 2243h14v14h-14zM686 2301h14v14h-14zM687 2208h14v14h-14zM708 2261h14v14h-14zM696 2558h14v14h-14zM710 2380h14v14h-14zM651 2345h14v14h-14zM684 2258h14v14h-14zM624 2268h14v14h-14zM642 2370h14v14h-14zM683 2250h14v14h-14zM666 2335h14v14h-14zM688 2243h14v14h-14zM666 2323h14v14h-14zM715 2363h14v14h-14zM676 2354h14v14h-14zM667 2242h14v14h-14zM687 2313h14v14h-14zM676 2287h14v14h-14zM696 2319h14v14h-14zM698 2107h14v14h-14zM717 2189h14v14h-14zM717 2365h14v14h-14zM685 2369h14v14h-14zM694 2276h14v14h-14zM692 2244h14v14h-14zM694 2136h14v14h-14zM650 2263h14v14h-14zM704 2298h14v14h-14zM626 2226h14v14h-14zM690 2265h14v14h-14zM709 2338h14v14h-14zM720 2300h14v14h-14zM684 2336h14v14h-14zM669 2362h14v14h-14zM714 2293h14v14h-14zM714 2285h14v14h-14zM658 2335h14v14h-14zM655 2337h14v14h-14zM705 2331h14v14h-14zM652 2362h14v14h-14zM650 2273h14v14h-14zM695 2326h14v14h-14zM621 2349h14v14h-14zM672 2368h14v14h-14zM612 2222h14v14h-14zM714 2304h14v14h-14zM705 2255h14v14h-14zM681 2208h14v14h-14zM699 2344h14v14h-14zM680 2364h14v14h-14zM695 2241h14v14h-14zM686 2334h14v14h-14zM577 2278h14v14h-14zM676 2345h14v14h-14zM677 2229h14v14h-14zM660 2074h14v14h-14zM653 2378h14v14h-14zM654 2310h14v14h-14zM710 2327h14v14h-14zM716 2347h14v14h-14zM629 2184h14v14h-14zM589 2260h14v14h-14zM716 2336h14v14h-14zM713 2419h14v14h-14zM683 2296h14v14h-14zM720 2305h14v14h-14zM684 2348h14v14h-14zM664 2230h14v14h-14zM701 2270h14v14h-14zM649 2233h14v14h-14zM685 2292h14v14h-14zM721 2326h14v14h-14zM685 2343h14v14h-14zM703 2160h14v14h-14zM720 2285h14v14h-14zM623 2216h14v14h-14zM712 2359h14v14h-14zM692 2326h14v14h-14zM609 2345h14v14h-14zM679 2280h14v14h-14zM694 2222h14v14h-14zM682 2306h14v14h-14zM631 2249h14v14h-14zM612 2144h14v14h-14zM702 2288h14v14h-14zM686 2384h14v14h-14zM593 2259h14v14h-14zM700 2350h14v14h-14zM663 2343h14v14h-14zM694 2285h14v14h-14zM633 2262h14v14h-14zM708 2279h14v14h-14zM695 2291h14v14h-14zM706 2454h14v14h-14zM690 2254h14v14h-14zM672 2317h14v14h-14zM709 2295h14v14h-14zM704 2327h14v14h-14zM678 2320h14v14h-14zM668 2343h14v14h-14zM701 2274h14v14h-14zM713 2331h14v14h-14zM700 2283h14v14h-14zM657 2277h14v14h-14zM656 2269h14v14h-14zM650 2316h14v14h-14zM666 2288h14v14h-14zM705 2337h14v14h-14zM714 2313h14v14h-14zM661 2304h14v14h-14zM659 2294h14v14h-14zM693 2284h14v14h-14zM706 2220h14v14h-14zM642 2257h14v14h-14zM632 2263h14v14h-14zM657 2265h14v14h-14zM708 2295h14v14h-14zM669 2369h14v14h-14zM667 2271h14v14h-14zM693 2316h14v14h-14zM698 2309h14v14h-14zM682 2211h14v14h-14zM703 2259h14v14h-14zM658 2419h14v14h-14zM672 2221h14v14h-14zM701 2292h14v14h-14zM714 2317h14v14h-14zM720 2251h14v14h-14zM700 2131h14v14h-14zM657 2242h14v14h-14zM683 2183h14v14h-14zM586 2277h14v14h-14zM718 2369h14v14h-14zM652 2356h14v14h-14zM589 2245h14v14h-14zM681 2282h14v14h-14zM664 2326h14v14h-14zM712 2316h14v14h-14zM599 2289h14v14h-14zM646 2269h14v14h-14zM629 2300h14v14h-14zM633 2339h14v14h-14zM684 2281h14v14h-14zM676 2355h14v14h-14zM720 2302h14v14h-14zM720 2307h14v14h-14zM683 2352h14v14h-14zM689 2272h14v14h-14zM712 2301h14v14h-14zM636 2261h14v14h-14zM675 2350h14v14h-14zM704 2299h14v14h-14zM713 2242h14v14h-14zM715 2274h14v14h-14zM717 2274h14v14h-14zM679 2288h14v14h-14zM691 2310h14v14h-14zM719 2344h14v14h-14zM656 2355h14v14h-14zM705 2265h14v14h-14zM693 2321h14v14h-14zM666 2349h14v14h-14zM649 2193h14v14h-14zM705 2183h14v14h-14zM614 2240h14v14h-14zM660 2221h14v14h-14zM647 2290h14v14h-14zM653 2281h14v14h-14zM695 2308h14v14h-14zM653 2116h14v14h-14zM682 2377h14v14h-14zM697 2294h14v14h-14zM686 2326h14v14h-14zM656 2272h14v14h-14zM668 2319h14v14h-14zM665 2199h14v14h-14zM709 2308h14v14h-14zM616 2351h14v14h-14zM655 2370h14v14h-14zM701 2226h14v14h-14zM654 2457h14v14h-14zM677 2302h14v14h-14zM679 2379h14v14h-14zM716 2320h14v14h-14zM676 2301h14v14h-14zM672 2270h14v14h-14zM702 2310h14v14h-14zM685 2257h14v14h-14zM699 2211h14v14h-14zM701 2315h14v14h-14zM700 2333h14v14h-14zM692 2333h14v14h-14zM714 2315h14v14h-14zM629 2223h14v14h-14zM571 2132h14v14h-14zM698 2258h14v14h-14zM653 2275h14v14h-14zM700 2308h14v14h-14zM668 2246h14v14h-14zM695 2297h14v14h-14zM696 2305h14v14h-14zM663 2395h14v14h-14zM682 2362h14v14h-14zM670 2310h14v14h-14zM624 2238h14v14h-14zM604 2291h14v14h-14zM657 2312h14v14h-14zM575 2272h14v14h-14zM689 2314h14v14h-14zM704 2223h14v14h-14zM710 2275h14v14h-14zM693 2281h14v14h-14zM655 2293h14v14h-14zM701 2288h14v14h-14zM611 2199h14v14h-14zM639 2235h14v14h-14zM699 2280h14v14h-14zM691 2324h14v14h-14zM659 2327h14v14h-14zM716 2100h14v14h-14zM701 2303h14v14h-14zM706 2348h14v14h-14zM651 2321h14v14h-14zM693 2278h14v14h-14zM608 2276h14v14h-14zM674 2350h14v14h-14zM681 1959h14v14h-14zM702 2335h14v14h-14zM673 2332h14v14h-14zM638 2250h14v14h-14zM672 2206h14v14h-14zM696 2252h14v14h-14zM703 2197h14v14h-14zM666 2336h14v14h-14zM703 2333h14v14h-14zM683 2239h14v14h-14zM688 2219h14v14h-14zM708 2339h14v14h-14zM629 2301h14v14h-14zM712 2338h14v14h-14zM671 2191h14v14h-14zM703 1993h14v14h-14zM649 2333h14v14h-14zM720 2303h14v14h-14zM699 2304h14v14h-14zM593 2252h14v14h-14zM645 2225h14v14h-14zM696 2324h14v14h-14zM626 2267h14v14h-14zM686 2411h14v14h-14zM720 2250h14v14h-14zM680 2222h14v14h-14zM702 2334h14v14h-14zM701 2295h14v14h-14zM612 2267h14v14h-14zM635 2356h14v14h-14zM659 2264h14v14h-14zM686 2274h14v14h-14zM658 2240h14v14h-14zM715 2241h14v14h-14zM668 2342h14v14h-14zM597 2311h14v14h-14zM611 2315h14v14h-14zM606 2084h14v14h-14zM653 2280h14v14h-14zM661 2195h14v14h-14zM660 2109h14v14h-14zM651 1997h14v14h-14zM575 2250h14v14h-14zM705 2322h14v14h-14zM700 2272h14v14h-14zM713 2310h14v14h-14zM690 2234h14v14h-14zM587 2302h14v14h-14zM706 2302h14v14h-14zM641 2172h14v14h-14zM659 2183h14v14h-14zM603 2324h14v14h-14zM612 2238h14v14h-14zM683 2209h14v14h-14zM691 2332h14v14h-14zM716 2306h14v14h-14zM711 2264h14v14h-14zM648 2195h14v14h-14zM677 2153h14v14h-14zM642 2369h14v14h-14zM702 2265h14v14h-14zM580 2235h14v14h-14zM697 2325h14v14h-14zM663 2367h14v14h-14zM644 2299h14v14h-14zM648 2501h14v14h-14zM689 2277h14v14h-14zM657 2112h14v14h-14zM663 2045h14v14h-14zM688 2206h14v14h-14zM704 2348h14v14h-14zM644 2317h14v14h-14zM696 2342h14v14h-14zM631 2448h14v14h-14zM674 2211h14v14h-14zM707 2313h14v14h-14zM686 2246h14v14h-14zM721 2259h14v14h-14zM710 2303h14v14h-14zM667 2289h14v14h-14zM699 2286h14v14h-14zM717 2304h14v14h-14zM697 2401h14v14h-14zM669 2340h14v14h-14zM658 2269h14v14h-14zM690 2275h14v14h-14zM684 2285h14v14h-14zM686 2008h14v14h-14zM603 2431h14v14h-14zM645 2315h14v14h-14zM715 2350h14v14h-14zM615 2324h14v14h-14zM614 2310h14v14h-14zM631 2239h14v14h-14zM711 2115h14v14h-14zM702 2293h14v14h-14zM713 2290h14v14h-14zM711 2342h14v14h-14zM687 2238h14v14h-14zM657 2227h14v14h-14zM711 2205h14v14h-14zM638 2341h14v14h-14zM710 2078h14v14h-14zM682 2258h14v14h-14zM715 2340h14v14h-14zM654 2313h14v14h-14zM709 2403h14v14h-14zM711 2328h14v14h-14zM690 2280h14v14h-14zM667 2309h14v14h-14zM626 2433h14v14h-14zM714 2087h14v14h-14zM699 2309h14v14h-14zM654 2284h14v14h-14zM600 2295h14v14h-14zM712 2180h14v14h-14zM691 2171h14v14h-14zM717 2366h14v14h-14zM668 2303h14v14h-14zM683 2284h14v14h-14zM641 2309h14v14h-14zM717 2013h14v14h-14zM692 2120h14v14h-14zM709 2178h14v14h-14zM620 2252h14v14h-14zM641 1994h14v14h-14zM718 2364h14v14h-14zM652 2348h14v14h-14zM642 2303h14v14h-14zM702 2200h14v14h-14zM703 2216h14v14h-14zM703 2352h14v14h-14zM650 2244h14v14h-14zM715 2297h14v14h-14zM686 2351h14v14h-14zM615 2314h14v14h-14zM572 2103h14v14h-14zM683 2325h14v14h-14zM686 2314h14v14h-14zM640 2202h14v14h-14zM1127 2297h14v14h-14zM1258 2316h14v14h-14zM932 2317h14v14h-14zM1207 2329h14v14h-14zM896 2271h14v14h-14zM1484 2278h14v14h-14zM1312 2296h14v14h-14zM708 2268h14v14h-14zM1287 2296h14v14h-14zM1046 2311h14v14h-14zM756 2301h14v14h-14zM861 2322h14v14h-14zM731 2297h14v14h-14zM1336 2291h14v14h-14zM1163 2293h14v14h-14zM1025 2313h14v14h-14zM986 2295h14v14h-14zM681 2323h14v14h-14zM966 2311h14v14h-14zM1494 2319h14v14h-14zM1452 2292h14v14h-14zM623 2296h14v14h-14zM628 2287h14v14h-14zM682 2265h14v14h-14zM1000 2273h14v14h-14zM1304 2301h14v14h-14zM659 2270h14v14h-14zM1294 2300h14v14h-14zM1232 2302h14v14h-14zM718 2292h14v14h-14zM1372 2296h14v14h-14zM1345 2296h14v14h-14zM1305 2300h14v14h-14zM999 2290h14v14h-14zM1217 2320h14v14h-14zM730 2277h14v14h-14zM1328 2304h14v14h-14zM1494 2302h14v14h-14zM635 2310h14v14h-14zM902 2315h14v14h-14zM1039 2285h14v14h-14zM1462 2304h14v14h-14zM649 2306h14v14h-14zM984 2287h14v14h-14zM1313 2285h14v14h-14zM1137 2300h14v14h-14zM636 2297h14v14h-14zM1253 2292h14v14h-14zM661 2293h14v14h-14zM660 2287h14v14h-14zM1408 2305h14v14h-14zM972 2297h14v14h-14zM864 2310h14v14h-14zM1156 2283h14v14h-14zM903 2287h14v14h-14zM1351 2291h14v14h-14zM1167 2294h14v14h-14zM1058 2304h14v14h-14zM1163 2314h14v14h-14zM718 2312h14v14h-14zM1438 2291h14v14h-14zM1393 2307h14v14h-14zM610 2264h14v14h-14zM632 2291h14v14h-14zM1125 2306h14v14h-14zM1373 2293h14v14h-14zM1011 2268h14v14h-14zM978 2293h14v14h-14zM691 2264h14v14h-14zM1408 2298h14v14h-14zM1096 2306h14v14h-14zM1500 2292h14v14h-14zM1509 2310h14v14h-14zM1066 2317h14v14h-14zM736 2330h14v14h-14zM817 2274h14v14h-14zM700 2300h14v14h-14zM1379 2321h14v14h-14zM1055 2284h14v14h-14zM1138 2315h14v14h-14zM818 2310h14v14h-14zM944 2278h14v14h-14zM1052 2309h14v14h-14zM1122 2283h14v14h-14zM1428 2304h14v14h-14zM752 2293h14v14h-14zM1033 2283h14v14h-14zM1277 2295h14v14h-14zM699 2295h14v14h-14zM1366 2293h14v14h-14zM1224 2313h14v14h-14zM948 2294h14v14h-14zM774 2295h14v14h-14zM890 2272h14v14h-14zM697 2302h14v14h-14zM1294 2286h14v14h-14zM768 2290h14v14h-14zM740 2326h14v14h-14zM869 2306h14v14h-14zM907 2296h14v14h-14zM828 2289h14v14h-14zM733 2308h14v14h-14zM1015 2303h14v14h-14zM1433 2290h14v14h-14zM1505 2290h14v14h-14zM1331 2302h14v14h-14zM594 2305h14v14h-14zM1030 2288h14v14h-14zM732 2311h14v14h-14zM945 2291h14v14h-14zM1384 2291h14v14h-14zM1497 2318h14v14h-14zM1342 2279h14v14h-14zM918 2276h14v14h-14zM933 2286h14v14h-14zM1011 2282h14v14h-14zM867 2296h14v14h-14zM1198 2285h14v14h-14zM1014 2307h14v14h-14zM1192 2314h14v14h-14zM1029 2296h14v14h-14zM689 2291h14v14h-14zM1404 2298h14v14h-14zM1173 2303h14v14h-14zM1103 2305h14v14h-14zM836 2307h14v14h-14zM850 2298h14v14h-14zM809 2325h14v14h-14zM1527 2297h14v14h-14zM773 2303h14v14h-14zM1056 2287h14v14h-14zM1029 2312h14v14h-14zM895 2297h14v14h-14zM741 2302h14v14h-14zM742 2304h14v14h-14zM1012 2292h14v14h-14zM1201 2292h14v14h-14zM690 2277h14v14h-14zM710 2265h14v14h-14zM634 2268h14v14h-14zM632 2318h14v14h-14zM1456 2328h14v14h-14zM1210 2302h14v14h-14zM1090 2298h14v14h-14zM1467 2288h14v14h-14zM996 2289h14v14h-14zM983 2288h14v14h-14zM1187 2305h14v14h-14zM865 2314h14v14h-14zM1096 2295h14v14h-14zM1429 2272h14v14h-14zM1524 2301h14v14h-14zM746 2322h14v14h-14zM1308 2290h14v14h-14zM698 2298h14v14h-14zM1497 2297h14v14h-14zM1506 2287h14v14h-14zM1407 2299h14v14h-14zM1353 2322h14v14h-14zM903 2310h14v14h-14zM1422 2299h14v14h-14zM798 2281h14v14h-14zM603 2310h14v14h-14zM1032 2290h14v14h-14zM593 2269h14v14h-14zM1254 2279h14v14h-14zM754 2310h14v14h-14zM851 2296h14v14h-14zM1458 2295h14v14h-14zM1215 2300h14v14h-14zM836 2271h14v14h-14zM1524 2301h14v14h-14zM593 2270h14v14h-14zM1090 2304h14v14h-14zM1498 2288h14v14h-14zM1070 2278h14v14h-14zM1009 2277h14v14h-14zM807 2302h14v14h-14zM1385 2300h14v14h-14zM814 2288h14v14h-14zM1506 2284h14v14h-14zM1191 2299h14v14h-14zM868 2282h14v14h-14zM1100 2316h14v14h-14zM1093 2292h14v14h-14zM803 2286h14v14h-14zM1280 2310h14v14h-14zM790 2298h14v14h-14zM1102 2284h14v14h-14zM1038 2317h14v14h-14zM660 2308h14v14h-14zM1405 2315h14v14h-14zM966 2268h14v14h-14zM718 2328h14v14h-14zM1352 2317h14v14h-14zM1032 2288h14v14h-14zM1483 2290h14v14h-14zM577 2325h14v14h-14zM1352 2288h14v14h-14zM1282 2283h14v14h-14zM1185 2305h14v14h-14zM935 2285h14v14h-14zM1448 2273h14v14h-14zM969 2300h14v14h-14zM699 2330h14v14h-14zM1256 2302h14v14h-14zM1084 2265h14v14h-14zM859 2330h14v14h-14zM1148 2293h14v14h-14zM1238 2305h14v14h-14zM676 2275h14v14h-14zM1329 2299h14v14h-14zM1061 2295h14v14h-14zM755 2309h14v14h-14zM1195 2303h14v14h-14zM1397 2285h14v14h-14zM1017 2274h14v14h-14zM1224 2282h14v14h-14zM829 2309h14v14h-14zM1033 2306h14v14h-14zM778 2299h14v14h-14zM1201 2295h14v14h-14zM1414 2311h14v14h-14zM722 2311h14v14h-14zM1314 2305h14v14h-14zM810 2309h14v14h-14zM650 2318h14v14h-14zM1053 2292h14v14h-14zM605 2329h14v14h-14zM1354 2312h14v14h-14zM1026 2284h14v14h-14zM1492 2303h14v14h-14zM1353 2307h14v14h-14zM589 2309h14v14h-14zM1090 2294h14v14h-14zM1457 2291h14v14h-14zM1067 2276h14v14h-14zM1275 2294h14v14h-14zM760 2330h14v14h-14zM814 2301h14v14h-14zM794 2325h14v14h-14zM795 2298h14v14h-14zM1027 2299h14v14h-14zM1042 2316h14v14h-14zM766 2273h14v14h-14zM1439 2291h14v14h-14zM898 2277h14v14h-14zM598 2329h14v14h-14zM1178 2284h14v14h-14zM613 2289h14v14h-14zM1235 2285h14v14h-14zM1506 2289h14v14h-14zM1090 2301h14v14h-14zM1467 2308h14v14h-14zM1125 2292h14v14h-14zM1069 2293h14v14h-14zM1488 2312h14v14h-14zM644 2330h14v14h-14zM1076 2264h14v14h-14zM1384 2302h14v14h-14zM1410 2314h14v14h-14zM766 2321h14v14h-14zM882 2312h14v14h-14zM1168 2295h14v14h-14zM1384 2310h14v14h-14zM715 2289h14v14h-14zM1120 2306h14v14h-14zM1466 2317h14v14h-14zM1038 2281h14v14h-14zM1096 2287h14v14h-14zM765 2293h14v14h-14zM1166 2283h14v14h-14zM1024 2302h14v14h-14zM1225 2293h14v14h-14zM1092 2318h14v14h-14zM1188 2318h14v14h-14zM1029 2286h14v14h-14zM600 2320h14v14h-14zM673 2290h14v14h-14zM1393 2285h14v14h-14zM748 2306h14v14h-14zM1040 2312h14v14h-14zM692 2303h14v14h-14zM1052 2291h14v14h-14zM929 2279h14v14h-14zM1219 2288h14v14h-14zM651 2324h14v14h-14zM1056 2281h14v14h-14zM1436 2313h14v14h-14zM1074 2302h14v14h-14zM633 2311h14v14h-14zM918 2312h14v14h-14zM945 2330h14v14h-14zM1106 2322h14v14h-14zM761 2300h14v14h-14zM1440 2305h14v14h-14zM946 2281h14v14h-14zM1297 2301h14v14h-14zM926 2308h14v14h-14zM670 2294h14v14h-14zM1152 2316h14v14h-14zM935 2282h14v14h-14zM1054 2296h14v14h-14zM1146 2275h14v14h-14zM1479 2312h14v14h-14zM846 2327h14v14h-14zM1474 2318h14v14h-14zM795 2288h14v14h-14zM960 2303h14v14h-14zM698 2284h14v14h-14zM1176 2311h14v14h-14zM1407 2314h14v14h-14zM1104 2308h14v14h-14zM580 2308h14v14h-14zM1220 2293h14v14h-14zM781 2264h14v14h-14zM1249 2287h14v14h-14zM1091 2281h14v14h-14zM1273 2304h14v14h-14zM1003 2311h14v14h-14zM1523 2312h14v14h-14zM797 2306h14v14h-14zM601 2326h14v14h-14zM650 2268h14v14h-14zM1448 2293h14v14h-14zM893 2324h14v14h-14zM1509 2306h14v14h-14zM665 2264h14v14h-14zM1350 2296h14v14h-14zM651 2280h14v14h-14zM735 2293h14v14h-14zM877 2302h14v14h-14zM975 2330h14v14h-14zM1280 2301h14v14h-14zM740 2330h14v14h-14zM1500 2290h14v14h-14zM1395 2296h14v14h-14zM675 2296h14v14h-14zM1424 2281h14v14h-14zM1123 2291h14v14h-14zM1171 2310h14v14h-14zM760 2285h14v14h-14zM1367 2302h14v14h-14zM820 2264h14v14h-14zM1343 2307h14v14h-14zM1252 2295h14v14h-14zM1225 2304h14v14h-14zM959 2299h14v14h-14zM1025 2293h14v14h-14zM964 2289h14v14h-14zM909 2318h14v14h-14zM1146 2306h14v14h-14zM1368 2290h14v14h-14zM626 2295h14v14h-14zM1170 2298h14v14h-14zM1404 2313h14v14h-14zM1220 2287h14v14h-14zM1207 2317h14v14h-14zM1529 2283h14v14h-14zM789 2328h14v14h-14zM842 2271h14v14h-14zM1358 2302h14v14h-14zM731 2313h14v14h-14zM1310 2285h14v14h-14zM1134 2307h14v14h-14zM898 2291h14v14h-14zM761 2293h14v14h-14zM783 2303h14v14h-14zM585 2317h14v14h-14zM1068 2299h14v14h-14zM1284 2312h14v14h-14zM848 2298h14v14h-14zM664 2279h14v14h-14zM1102 2308h14v14h-14zM994 2295h14v14h-14zM1510 2298h14v14h-14zM1438 2311h14v14h-14zM1255 2295h14v14h-14zM958 2264h14v14h-14zM1022 2311h14v14h-14zM1023 2310h14v14h-14zM1313 2277h14v14h-14zM1181 2274h14v14h-14zM831 2281h14v14h-14zM873 2296h14v14h-14zM682 2298h14v14h-14zM609 2299h14v14h-14zM717 2287h14v14h-14zM866 2312h14v14h-14zM604 2305h14v14h-14zM1348 2317h14v14h-14zM727 2294h14v14h-14zM949 2329h14v14h-14zM805 2289h14v14h-14zM928 2311h14v14h-14zM1229 2302h14v14h-14zM694 2264h14v14h-14zM1504 2308h14v14h-14zM658 2318h14v14h-14zM747 2289h14v14h-14zM1378 2297h14v14h-14zM910 2283h14v14h-14zM842 2289h14v14h-14zM1502 2291h14v14h-14zM1000 2277h14v14h-14zM1237 2304h14v14h-14zM1512 2300h14v14h-14zM944 2287h14v14h-14zM1398 2295h14v14h-14zM982 2310h14v14h-14zM665 2330h14v14h-14zM983 2290h14v14h-14zM586 2297h14v14h-14zM626 2320h14v14h-14zM1462 2295h14v14h-14zM1482 2283h14v14h-14zM1115 2309h14v14h-14zM1423 2292h14v14h-14zM990 2305h14v14h-14zM1159 2301h14v14h-14zM1426 2307h14v14h-14zM674 2307h14v14h-14zM1134 2293h14v14h-14zM1517 2296h14v14h-14zM1031 2291h14v14h-14zM1457 2294h14v14h-14zM1470 2287h14v14h-14zM1405 2282h14v14h-14zM1152 2294h14v14h-14zM834 2286h14v14h-14zM1453 2289h14v14h-14zM1302 2290h14v14h-14zM934 2299h14v14h-14zM761 2300h14v14h-14zM905 2302h14v14h-14zM827 2278h14v14h-14zM1056 2292h14v14h-14zM1436 2293h14v14h-14zM1414 2305h14v14h-14zM1457 2293h14v14h-14zM1413 2286h14v14h-14zM660 2328h14v14h-14zM1044 2294h14v14h-14zM929 2273h14v14h-14zM841 2316h14v14h-14zM1174 2303h14v14h-14zM976 2284h14v14h-14zM1356 2271h14v14h-14zM1487 2300h14v14h-14zM1171 2286h14v14h-14zM1495 2317h14v14h-14zM1030 2317h14v14h-14zM812 2300h14v14h-14zM1126 2293h14v14h-14zM1409 2306h14v14h-14zM1431 2282h14v14h-14zM965 2297h14v14h-14zM1457 2322h14v14h-14zM799 2288h14v14h-14zM594 2286h14v14h-14zM939 2290h14v14h-14zM1227 2319h14v14h-14zM1323 2311h14v14h-14zM1223 2295h14v14h-14zM1121 2306h14v14h-14zM1198 2276h14v14h-14zM1333 2311h14v14h-14zM1205 2313h14v14h-14zM1134 2281h14v14h-14zM807 2264h14v14h-14zM1091 2272h14v14h-14zM1340 2312h14v14h-14zM1158 2289h14v14h-14zM1313 2319h14v14h-14zM1047 2276h14v14h-14zM1126 2310h14v14h-14zM833 2300h14v14h-14zM1354 2312h14v14h-14zM1361 2277h14v14h-14zM1087 2322h14v14h-14zM635 2288h14v14h-14zM1097 2292h14v14h-14zM1247 2291h14v14h-14zM1078 2307h14v14h-14zM1115 2309h14v14h-14zM1490 2299h14v14h-14zM1370 2298h14v14h-14zM646 2294h14v14h-14zM832 2300h14v14h-14zM1257 2305h14v14h-14zM946 2310h14v14h-14zM1374 2297h14v14h-14zM1414 2290h14v14h-14zM1510 2311h14v14h-14zM787 2301h14v14h-14zM1251 2287h14v14h-14zM791 2306h14v14h-14zM596 2294h14v14h-14zM1308 2303h14v14h-14zM648 2306h14v14h-14zM1181 2298h14v14h-14zM1155 2315h14v14h-14zM1358 2306h14v14h-14zM1138 2319h14v14h-14zM797 2308h14v14h-14zM682 2277h14v14h-14zM1319 2299h14v14h-14zM1354 2277h14v14h-14zM1434 2292h14v14h-14zM1054 2317h14v14h-14zM639 2281h14v14h-14zM1269 2296h14v14h-14zM979 2290h14v14h-14zM1048 2291h14v14h-14zM1331 2304h14v14h-14zM799 2310h14v14h-14zM1324 2302h14v14h-14zM1495 2302h14v14h-14zM740 2276h14v14h-14zM899 2291h14v14h-14zM1216 2297h14v14h-14zM1090 2310h14v14h-14zM1439 2280h14v14h-14zM659 2279h14v14h-14zM1297 2278h14v14h-14zM678 2306h14v14h-14zM1518 2267h14v14h-14zM658 2280h14v14h-14zM893 2283h14v14h-14zM593 2273h14v14h-14zM1445 2294h14v14h-14zM1474 2314h14v14h-14zM1306 2315h14v14h-14zM1323 2281h14v14h-14zM1004 2280h14v14h-14zM1059 2308h14v14h-14zM1318 2303h14v14h-14zM1034 2279h14v14h-14zM1500 2297h14v14h-14zM744 2306h14v14h-14zM1238 2309h14v14h-14zM1431 2323h14v14h-14zM1215 2303h14v14h-14zM1327 2298h14v14h-14zM1404 2300h14v14h-14zM1434 2291h14v14h-14zM1351 2314h14v14h-14zM995 2276h14v14h-14zM1005 2280h14v14h-14zM919 2318h14v14h-14zM1080 2326h14v14h-14zM1363 2304h14v14h-14zM1513 2303h14v14h-14zM1399 2280h14v14h-14zM1412 2304h14v14h-14zM925 2301h14v14h-14zM1406 2316h14v14h-14zM1023 2314h14v14h-14zM1361 2287h14v14h-14zM955 2330h14v14h-14zM975 2306h14v14h-14zM1175 2307h14v14h-14zM1245 2280h14v14h-14zM1086 2264h14v14h-14zM662 2281h14v14h-14zM1220 2325h14v14h-14zM1066 2293h14v14h-14zM682 2270h14v14h-14zM1061 2308h14v14h-14zM954 2282h14v14h-14zM1233 2290h14v14h-14zM1040 2300h14v14h-14zM803 2330h14v14h-14zM976 2315h14v14h-14zM683 2268h14v14h-14zM1153 2279h14v14h-14zM836 2314h14v14h-14zM888 2287h14v14h-14zM1274 2319h14v14h-14zM741 2305h14v14h-14zM1396 2279h14v14h-14zM1101 2287h14v14h-14zM1524 2299h14v14h-14zM1337 2299h14v14h-14zM1316 2266h14v14h-14zM1435 2294h14v14h-14zM1026 2295h14v14h-14zM1037 2297h14v14h-14zM1182 2288h14v14h-14zM955 2295h14v14h-14zM1451 2296h14v14h-14zM1507 2289h14v14h-14zM1389 2300h14v14h-14zM1328 2296h14v14h-14zM1109 2285h14v14h-14zM1297 2292h14v14h-14zM1029 2313h14v14h-14zM1346 2293h14v14h-14zM1294 2310h14v14h-14zM1170 2302h14v14h-14zM1488 2314h14v14h-14zM1093 2303h14v14h-14zM577 2276h14v14h-14zM1498 2294h14v14h-14zM1180 2303h14v14h-14zM1223 2287h14v14h-14zM868 2280h14v14h-14zM977 2306h14v14h-14zM1003 2328h14v14h-14zM602 2319h14v14h-14zM816 2301h14v14h-14zM1478 2301h14v14h-14zM1084 2306h14v14h-14zM723 2279h14v14h-14zM1057 2298h14v14h-14zM759 2273h14v14h-14zM1324 2280h14v14h-14zM816 2304h14v14h-14zM906 2288h14v14h-14zM1098 2284h14v14h-14zM1240 2289h14v14h-14zM1264 2295h14v14h-14zM888 2293h14v14h-14zM1474 2299h14v14h-14zM1118 2268h14v14h-14zM795 2285h14v14h-14zM1523 2277h14v14h-14zM1138 2291h14v14h-14zM1412 2300h14v14h-14zM1044 2305h14v14h-14zM1313 2295h14v14h-14zM699 2330h14v14h-14zM854 2303h14v14h-14zM730 2302h14v14h-14zM977 2314h14v14h-14zM822 2278h14v14h-14zM847 2320h14v14h-14zM873 2288h14v14h-14zM637 2306h14v14h-14zM1505 2295h14v14h-14zM1250 2294h14v14h-14zM908 2300h14v14h-14zM986 2319h14v14h-14zM1010 2295h14v14h-14zM1097 2316h14v14h-14zM1224 2292h14v14h-14zM1001 2294h14v14h-14zM913 2320h14v14h-14zM1227 2303h14v14h-14zM927 2304h14v14h-14zM1068 2284h14v14h-14zM1047 2320h14v14h-14zM1445 2301h14v14h-14zM877 2298h14v14h-14zM876 2272h14v14h-14zM1251 2281h14v14h-14zM1514 2286h14v14h-14zM984 2310h14v14h-14zM1402 2291h14v14h-14zM813 2293h14v14h-14zM1259 2293h14v14h-14zM1397 2296h14v14h-14zM774 2291h14v14h-14zM876 2298h14v14h-14zM1415 2292h14v14h-14zM752 2264h14v14h-14zM1223 2292h14v14h-14zM1192 2282h14v14h-14zM912 2284h14v14h-14zM1226 2307h14v14h-14zM1014 2289h14v14h-14zM655 2289h14v14h-14zM1488 2293h14v14h-14zM1309 2315h14v14h-14zM1471 2304h14v14h-14zM1370 2300h14v14h-14zM1086 2309h14v14h-14zM1039 2314h14v14h-14zM1358 2292h14v14h-14zM652 2313h14v14h-14zM1191 2313h14v14h-14zM805 2304h14v14h-14zM1483 2295h14v14h-14zM602 2319h14v14h-14zM1525 2305h14v14h-14zM1378 2311h14v14h-14zM667 2300h14v14h-14zM1486 2291h14v14h-14zM1117 2278h14v14h-14zM1226 2293h14v14h-14zM1014 2313h14v14h-14zM1225 2301h14v14h-14zM690 2302h14v14h-14zM771 2264h14v14h-14zM636 2264h14v14h-14zM1506 2303h14v14h-14zM902 2304h14v14h-14zM1233 2328h14v14h-14zM809 2304h14v14h-14zM1221 2282h14v14h-14zM1266 2307h14v14h-14zM643 2291h14v14h-14zM1528 2299h14v14h-14zM732 2264h14v14h-14zM636 2264h14v14h-14zM737 2281h14v14h-14zM1200 2305h14v14h-14zM843 2314h14v14h-14zM1420 2304h14v14h-14zM1068 2264h14v14h-14zM679 2290h14v14h-14zM945 2284h14v14h-14zM786 2330h14v14h-14zM1416 2303h14v14h-14zM1280 2289h14v14h-14zM1151 2286h14v14h-14zM1245 2279h14v14h-14zM1316 2287h14v14h-14zM957 2264h14v14h-14zM602 2268h14v14h-14zM1465 2272h14v14h-14zM612 2306h14v14h-14zM924 2285h14v14h-14zM1148 2302h14v14h-14zM861 2282h14v14h-14zM661 2330h14v14h-14zM1443 2310h14v14h-14zM592 2299h14v14h-14zM777 2301h14v14h-14zM793 2288h14v14h-14zM581 2306h14v14h-14zM1221 2301h14v14h-14zM592 2309h14v14h-14zM605 2264h14v14h-14zM999 2315h14v14h-14zM1262 2294h14v14h-14zM1233 2283h14v14h-14zM603 2317h14v14h-14zM899 2315h14v14h-14zM1173 2279h14v14h-14zM1397 2295h14v14h-14zM1314 2311h14v14h-14zM956 2267h14v14h-14zM1462 2300h14v14h-14zM1384 2295h14v14h-14zM842 2271h14v14h-14zM990 2314h14v14h-14zM781 2299h14v14h-14zM644 2305h14v14h-14zM775 2276h14v14h-14zM1130 2314h14v14h-14zM812 2284h14v14h-14zM1527 2291h14v14h-14zM1137 2289h14v14h-14zM1239 2312h14v14h-14zM700 2330h14v14h-14zM1086 2290h14v14h-14zM1345 2279h14v14h-14zM1025 2279h14v14h-14zM817 2293h14v14h-14zM1205 2283h14v14h-14zM744 2264h14v14h-14zM982 2294h14v14h-14zM1522 2288h14v14h-14zM706 2314h14v14h-14zM1232 2264h14v14h-14zM808 2311h14v14h-14zM1071 2287h14v14h-14zM844 2298h14v14h-14zM749 2270h14v14h-14zM635 2321h14v14h-14zM1092 2322h14v14h-14zM699 2280h14v14h-14zM1199 2313h14v14h-14zM706 2275h14v14h-14zM1398 2294h14v14h-14zM1280 2292h14v14h-14zM891 2315h14v14h-14zM1479 2294h14v14h-14zM873 2297h14v14h-14zM1509 2286h14v14h-14zM1212 2295h14v14h-14zM1397 2294h14v14h-14zM828 2280h14v14h-14zM632 2264h14v14h-14zM873 2318h14v14h-14zM1094 2301h14v14h-14zM1513 2289h14v14h-14zM1094 2301h14v14h-14zM1243 2310h14v14h-14zM897 2309h14v14h-14zM1193 2298h14v14h-14zM593 2297h14v14h-14zM779 2303h14v14h-14zM1498 2285h14v14h-14zM663 2274h14v14h-14zM864 2289h14v14h-14zM904 2314h14v14h-14zM746 2283h14v14h-14zM1210 2312h14v14h-14zM636 2264h14v14h-14zM1334 2307h14v14h-14zM911 2312h14v14h-14zM655 2301h14v14h-14zM648 2306h14v14h-14zM629 2330h14v14h-14zM1237 2300h14v14h-14zM973 2283h14v14h-14zM1268 2311h14v14h-14zM1452 2298h14v14h-14zM582 2319h14v14h-14zM754 2278h14v14h-14zM1034 2299h14v14h-14zM618 2322h14v14h-14zM645 2326h14v14h-14zM914 2296h14v14h-14zM577 2298h14v14h-14zM1009 2272h14v14h-14zM1256 2306h14v14h-14zM1197 2290h14v14h-14zM861 2304h14v14h-14zM723 2322h14v14h-14zM1178 2304h14v14h-14zM893 2282h14v14h-14zM1212 2307h14v14h-14zM1439 2291h14v14h-14zM778 2278h14v14h-14zM1190 2291h14v14h-14zM887 2293h14v14h-14zM870 2275h14v14h-14zM1234 2279h14v14h-14zM897 2322h14v14h-14zM815 2297h14v14h-14zM780 2309h14v14h-14zM1049 2304h14v14h-14zM1324 2310h14v14h-14zM742 2307h14v14h-14zM1409 2272h14v14h-14zM1372 2308h14v14h-14zM833 2282h14v14h-14zM609 2281h14v14h-14zM657 2330h14v14h-14zM908 2284h14v14h-14zM998 2280h14v14h-14zM610 2264h14v14h-14zM1152 2290h14v14h-14zM787 2266h14v14h-14zM608 2290h14v14h-14zM1481 2283h14v14h-14zM1362 2309h14v14h-14zM1457 2306h14v14h-14zM940 2286h14v14h-14zM814 2325h14v14h-14zM914 2321h14v14h-14zM1323 2287h14v14h-14zM812 2298h14v14h-14zM1342 2309h14v14h-14zM977 2303h14v14h-14zM1496 2306h14v14h-14zM726 2312h14v14h-14zM661 2312h14v14h-14zM1031 2305h14v14h-14zM1190 2319h14v14h-14zM1303 2315h14v14h-14zM829 2293h14v14h-14zM1043 2298h14v14h-14zM1327 2311h14v14h-14zM1307 2298h14v14h-14zM816 2289h14v14h-14zM1068 2292h14v14h-14zM1311 2304h14v14h-14zM1368 2295h14v14h-14zM1168 2287h14v14h-14zM911 2291h14v14h-14zM1447 2297h14v14h-14zM1020 2307h14v14h-14zM1202 2295h14v14h-14zM1236 2299h14v14h-14zM1085 2284h14v14h-14zM1256 2300h14v14h-14zM622 2296h14v14h-14zM828 2312h14v14h-14zM1120 2290h14v14h-14zM1274 2291h14v14h-14zM1348 2303h14v14h-14zM1195 2292h14v14h-14zM1162 2297h14v14h-14zM1469 2306h14v14h-14zM1224 2313h14v14h-14zM593 2294h14v14h-14zM1423 2308h14v14h-14zM1358 2275h14v14h-14zM1471 2285h14v14h-14zM946 2295h14v14h-14zM1316 2290h14v14h-14zM1320 2286h14v14h-14zM1214 2329h14v14h-14zM1160 2302h14v14h-14zM1258 2310h14v14h-14zM777 2301h14v14h-14zM1364 2320h14v14h-14zM788 2286h14v14h-14zM791 2324h14v14h-14zM1077 2292h14v14h-14zM801 2287h14v14h-14zM584 2324h14v14h-14zM608 2307h14v14h-14zM679 2312h14v14h-14zM1157 2302h14v14h-14zM1448 2300h14v14h-14zM1427 2308h14v14h-14zM1464 2313h14v14h-14zM1227 2315h14v14h-14zM843 2300h14v14h-14zM968 2286h14v14h-14zM1005 2276h14v14h-14zM1423 2295h14v14h-14zM1421 2297h14v14h-14zM862 2290h14v14h-14zM636 2323h14v14h-14zM1445 2285h14v14h-14zM714 2270h14v14h-14zM1322 2304h14v14h-14zM1502 2289h14v14h-14zM692 2294h14v14h-14zM1272 2305h14v14h-14zM651 2275h14v14h-14zM996 2302h14v14h-14zM882 2286h14v14h-14zM1466 2296h14v14h-14zM1254 2307h14v14h-14zM600 2290h14v14h-14zM1241 2321h14v14h-14zM606 2280h14v14h-14zM850 2289h14v14h-14zM686 2280h14v14h-14zM824 2303h14v14h-14zM1369 2297h14v14h-14zM1297 2293h14v14h-14zM1324 2286h14v14h-14zM974 2277h14v14h-14zM1420 2294h14v14h-14zM949 2276h14v14h-14zM1210 2303h14v14h-14zM1176 2315h14v14h-14zM778 2301h14v14h-14zM756 2317h14v14h-14zM1069 2300h14v14h-14zM903 2302h14v14h-14zM1187 2300h14v14h-14zM1370 2301h14v14h-14zM1086 2315h14v14h-14zM1399 2300h14v14h-14zM646 2298h14v14h-14zM1251 2288h14v14h-14zM788 2270h14v14h-14zM698 2309h14v14h-14zM924 2326h14v14h-14zM876 2318h14v14h-14zM1017 2297h14v14h-14zM835 2306h14v14h-14zM1161 2280h14v14h-14zM1368 2293h14v14h-14zM838 2314h14v14h-14zM795 2311h14v14h-14zM1504 2309h14v14h-14zM645 2264h14v14h-14zM654 2319h14v14h-14zM1399 2306h14v14h-14zM1269 2309h14v14h-14zM1225 2305h14v14h-14zM1158 2309h14v14h-14zM746 2296h14v14h-14zM577 2313h14v14h-14zM1456 2305h14v14h-14zM1220 2291h14v14h-14zM836 2276h14v14h-14zM1451 2289h14v14h-14zM1448 2293h14v14h-14zM1338 2299h14v14h-14zM1381 2302h14v14h-14zM951 2298h14v14h-14zM1315 2289h14v14h-14zM777 2308h14v14h-14zM652 2294h14v14h-14zM1026 2295h14v14h-14zM955 2303h14v14h-14zM1078 2322h14v14h-14zM1080 2329h14v14h-14zM1480 2297h14v14h-14zM1487 2287h14v14h-14zM1054 2310h14v14h-14zM1364 2309h14v14h-14zM666 2277h14v14h-14zM1356 2292h14v14h-14zM638 2300h14v14h-14zM1243 2307h14v14h-14zM1437 2283h14v14h-14zM1148 2299h14v14h-14zM1458 2277h14v14h-14zM780 2292h14v14h-14zM1025 2286h14v14h-14zM1325 2297h14v14h-14zM744 2310h14v14h-14zM896 2330h14v14h-14zM1156 2319h14v14h-14zM819 2272h14v14h-14zM868 2313h14v14h-14zM839 2265h14v14h-14zM1318 2288h14v14h-14zM1132 2273h14v14h-14zM1341 2305h14v14h-14zM1114 2292h14v14h-14zM1239 2289h14v14h-14zM864 2300h14v14h-14zM1433 2317h14v14h-14zM1525 2297h14v14h-14zM1334 2277h14v14h-14zM1296 2313h14v14h-14zM701 2302h14v14h-14zM1004 2264h14v14h-14zM1461 2299h14v14h-14zM1188 2289h14v14h-14zM711 2289h14v14h-14zM596 2281h14v14h-14zM842 2303h14v14h-14zM1355 2322h14v14h-14zM1032 2294h14v14h-14zM712 2264h14v14h-14zM1011 2279h14v14h-14zM1118 2307h14v14h-14zM978 2283h14v14h-14zM1231 2302h14v14h-14zM1373 2298h14v14h-14zM1445 2320h14v14h-14zM820 2316h14v14h-14zM604 2292h14v14h-14zM1251 2311h14v14h-14zM1417 2295h14v14h-14zM1162 2306h14v14h-14zM1313 2296h14v14h-14zM1343 2285h14v14h-14zM635 2298h14v14h-14zM1482 2316h14v14h-14zM1412 2304h14v14h-14zM724 2330h14v14h-14zM948 2319h14v14h-14zM1163 2292h14v14h-14zM1082 2289h14v14h-14zM1283 2290h14v14h-14zM777 2289h14v14h-14zM1073 2286h14v14h-14zM1289 2279h14v14h-14zM860 2264h14v14h-14zM890 2302h14v14h-14zM928 2305h14v14h-14zM1055 2296h14v14h-14zM1413 2284h14v14h-14zM1229 2288h14v14h-14zM889 2299h14v14h-14zM956 2302h14v14h-14zM1213 2294h14v14h-14zM930 2307h14v14h-14zM1356 2267h14v14h-14zM735 2293h14v14h-14zM862 2321h14v14h-14zM1190 2296h14v14h-14zM741 2321h14v14h-14zM893 2301h14v14h-14zM729 2310h14v14h-14zM683 2324h14v14h-14zM1118 2299h14v14h-14zM1504 2296h14v14h-14zM1063 2301h14v14h-14zM781 2294h14v14h-14zM1153 2324h14v14h-14zM722 2264h14v14h-14zM1428 2283h14v14h-14zM897 2304h14v14h-14zM1229 2309h14v14h-14zM964 2286h14v14h-14zM1446 2306h14v14h-14zM705 2304h14v14h-14zM1393 2304h14v14h-14zM1424 2288h14v14h-14zM1509 2302h14v14h-14zM1452 2305h14v14h-14zM936 2272h14v14h-14zM1189 2314h14v14h-14zM1505 2297h14v14h-14zM1506 2291h14v14h-14zM1501 2295h14v14h-14zM926 2283h14v14h-14zM1423 2289h14v14h-14zM953 2325h14v14h-14zM924 2304h14v14h-14zM1072 2291h14v14h-14zM1256 2311h14v14h-14zM1278 2292h14v14h-14zM1108 2295h14v14h-14zM725 2324h14v14h-14zM1125 2278h14v14h-14zM765 2314h14v14h-14zM802 2299h14v14h-14zM1260 2302h14v14h-14zM1467 2298h14v14h-14zM1219 2271h14v14h-14zM1036 2291h14v14h-14zM745 2269h14v14h-14zM595 2303h14v14h-14zM1291 2303h14v14h-14zM1130 2297h14v14h-14zM1339 2290h14v14h-14zM995 2303h14v14h-14zM701 2265h14v14h-14zM1318 2284h14v14h-14zM1070 2285h14v14h-14zM1503 2284h14v14h-14zM1300 2312h14v14h-14zM1220 2306h14v14h-14zM1397 2314h14v14h-14zM729 2290h14v14h-14zM878 2268h14v14h-14zM945 2281h14v14h-14zM881 2310h14v14h-14zM1179 2302h14v14h-14zM1108 2270h14v14h-14zM759 2307h14v14h-14zM1381 2314h14v14h-14zM1452 2313h14v14h-14zM1010 2294h14v14h-14zM579 2312h14v14h-14zM1088 2302h14v14h-14zM821 2293h14v14h-14zM662 2311h14v14h-14zM840 2294h14v14h-14zM712 2297h14v14h-14zM1137 2297h14v14h-14zM728 2265h14v14h-14zM901 2330h14v14h-14zM690 2292h14v14h-14zM1209 2287h14v14h-14zM689 2282h14v14h-14zM1410 2293h14v14h-14zM1464 2289h14v14h-14zM590 2330h14v14h-14zM785 2297h14v14h-14zM810 2265h14v14h-14zM903 2289h14v14h-14zM1174 2287h14v14h-14zM661 2264h14v14h-14zM987 2274h14v14h-14zM1452 2293h14v14h-14zM1399 2301h14v14h-14zM1081 2279h14v14h-14zM1244 2290h14v14h-14zM979 2285h14v14h-14zM930 2289h14v14h-14zM1514 2301h14v14h-14zM1376 2306h14v14h-14zM1199 2286h14v14h-14zM763 2318h14v14h-14zM1274 2292h14v14h-14zM664 2281h14v14h-14zM942 2287h14v14h-14zM1460 2294h14v14h-14zM645 2293h14v14h-14zM901 2289h14v14h-14zM1150 2276h14v14h-14zM1501 2311h14v14h-14zM1438 2301h14v14h-14zM975 2314h14v14h-14zM1472 2299h14v14h-14zM1151 2305h14v14h-14zM1308 2303h14v14h-14zM649 2313h14v14h-14zM1302 2300h14v14h-14zM847 2291h14v14h-14zM841 2292h14v14h-14zM1140 2275h14v14h-14zM1246 2304h14v14h-14zM660 2269h14v14h-14zM1280 2291h14v14h-14zM1285 2300h14v14h-14zM1374 2301h14v14h-14zM1076 2311h14v14h-14zM1058 2294h14v14h-14zM1041 2295h14v14h-14zM1298 2297h14v14h-14zM658 2275h14v14h-14zM1432 2313h14v14h-14zM1485 2314h14v14h-14zM1193 2300h14v14h-14zM1051 2285h14v14h-14zM1467 2303h14v14h-14zM1275 2282h14v14h-14zM584 2294h14v14h-14zM847 2282h14v14h-14zM1035 2299h14v14h-14zM1420 2314h14v14h-14zM1440 2296h14v14h-14zM1497 2310h14v14h-14zM1476 2301h14v14h-14zM1078 2293h14v14h-14zM1345 2303h14v14h-14zM1233 2308h14v14h-14zM717 2273h14v14h-14zM1318 2279h14v14h-14zM1204 2283h14v14h-14zM1427 2313h14v14h-14zM602 2283h14v14h-14zM633 2312h14v14h-14zM1153 2313h14v14h-14zM807 2330h14v14h-14zM933 2316h14v14h-14zM1065 2289h14v14h-14zM1390 2301h14v14h-14zM605 2303h14v14h-14zM1406 2276h14v14h-14zM1290 2309h14v14h-14zM882 2329h14v14h-14zM822 2317h14v14h-14zM686 2330h14v14h-14zM1096 2304h14v14h-14zM1504 2301h14v14h-14zM1400 2281h14v14h-14zM979 2308h14v14h-14zM1331 2320h14v14h-14zM1377 2303h14v14h-14zM1099 2301h14v14h-14zM824 2274h14v14h-14zM592 2316h14v14h-14zM627 2312h14v14h-14zM1169 2295h14v14h-14zM991 2330h14v14h-14zM1345 2292h14v14h-14zM1315 2287h14v14h-14zM1335 2288h14v14h-14zM1448 2308h14v14h-14zM870 2264h14v14h-14zM593 2288h14v14h-14zM1165 2264h14v14h-14zM1302 2290h14v14h-14zM1307 2296h14v14h-14zM845 2281h14v14h-14zM1244 2316h14v14h-14zM963 2291h14v14h-14zM1270 2322h14v14h-14zM741 2326h14v14h-14zM993 2283h14v14h-14zM758 2310h14v14h-14zM839 2300h14v14h-14zM713 2289h14v14h-14zM1082 2305h14v14h-14zM1219 2295h14v14h-14zM814 2288h14v14h-14zM1161 2298h14v14h-14zM1313 2287h14v14h-14zM1221 2272h14v14h-14zM1239 2308h14v14h-14zM1165 2312h14v14h-14zM1093 2315h14v14h-14zM1351 2296h14v14h-14zM1047 2274h14v14h-14zM1091 2314h14v14h-14zM999 2315h14v14h-14zM1019 2308h14v14h-14zM1190 2292h14v14h-14zM1475 2310h14v14h-14zM607 2324h14v14h-14zM1489 2308h14v14h-14zM1019 2310h14v14h-14zM822 2299h14v14h-14zM870 2292h14v14h-14zM1094 2315h14v14h-14zM1082 2309h14v14h-14zM1283 2301h14v14h-14zM744 2290h14v14h-14zM606 2265h14v14h-14zM965 2294h14v14h-14zM1370 2290h14v14h-14zM1386 2318h14v14h-14zM600 2294h14v14h-14zM1429 2300h14v14h-14zM628 2314h14v14h-14zM709 2291h14v14h-14zM1526 2318h14v14h-14zM1033 2301h14v14h-14zM1084 2324h14v14h-14zM1455 2300h14v14h-14zM900 2297h14v14h-14zM1130 2283h14v14h-14zM1439 2297h14v14h-14zM1125 2310h14v14h-14zM954 2309h14v14h-14zM921 2269h14v14h-14zM582 2282h14v14h-14zM1233 2296h14v14h-14zM1000 2299h14v14h-14zM1326 2287h14v14h-14zM1207 2322h14v14h-14zM792 2299h14v14h-14zM981 2301h14v14h-14zM618 2269h14v14h-14zM915 2314h14v14h-14zM602 2314h14v14h-14zM962 2272h14v14h-14zM759 2271h14v14h-14zM895 2329h14v14h-14zM751 2313h14v14h-14zM1352 2290h14v14h-14zM1135 2289h14v14h-14zM1054 2312h14v14h-14zM1236 2312h14v14h-14zM1351 2277h14v14h-14zM1327 2291h14v14h-14zM1147 2288h14v14h-14zM1341 2304h14v14h-14zM1309 2305h14v14h-14zM1216 2304h14v14h-14zM728 2282h14v14h-14zM1441 2295h14v14h-14zM1362 2284h14v14h-14zM909 2298h14v14h-14zM1414 2317h14v14h-14zM1019 2293h14v14h-14zM1280 2304h14v14h-14zM1126 2287h14v14h-14zM955 2292h14v14h-14zM1074 2305h14v14h-14zM582 2266h14v14h-14zM954 2292h14v14h-14zM829 2286h14v14h-14zM1268 2297h14v14h-14zM1092 2292h14v14h-14zM1513 2293h14v14h-14zM1467 2299h14v14h-14zM841 2300h14v14h-14zM1464 2294h14v14h-14zM850 2277h14v14h-14zM1213 2294h14v14h-14zM1419 2325h14v14h-14zM1345 2311h14v14h-14zM1372 2319h14v14h-14zM1498 2313h14v14h-14zM1038 2300h14v14h-14zM1229 2307h14v14h-14zM1013 2295h14v14h-14zM1456 2317h14v14h-14zM889 2308h14v14h-14zM770 2326h14v14h-14zM1215 2303h14v14h-14zM1280 2291h14v14h-14zM777 2328h14v14h-14zM1249 2300h14v14h-14zM835 2283h14v14h-14zM1375 2292h14v14h-14zM1179 2307h14v14h-14zM932 2301h14v14h-14zM1143 2307h14v14h-14zM1229 2281h14v14h-14zM1057 2294h14v14h-14zM1283 2281h14v14h-14zM1009 2315h14v14h-14zM651 2264h14v14h-14zM1115 2308h14v14h-14zM707 2297h14v14h-14zM922 2280h14v14h-14zM1155 2302h14v14h-14zM1053 2293h14v14h-14zM835 2309h14v14h-14zM1439 2289h14v14h-14zM1516 2299h14v14h-14zM801 2275h14v14h-14zM641 2296h14v14h-14zM1505 2295h14v14h-14zM1374 2309h14v14h-14zM1309 2309h14v14h-14zM1005 2307h14v14h-14zM1312 2292h14v14h-14zM757 2277h14v14h-14zM1451 2268h14v14h-14zM1344 2296h14v14h-14zM681 2308h14v14h-14zM935 2306h14v14h-14zM1451 2288h14v14h-14zM776 2292h14v14h-14zM1410 2293h14v14h-14zM672 2264h14v14h-14zM611 2299h14v14h-14zM666 2314h14v14h-14zM819 2298h14v14h-14zM1272 2309h14v14h-14zM1042 2280h14v14h-14zM768 2297h14v14h-14zM800 2300h14v14h-14zM1110 2285h14v14h-14zM1032 2296h14v14h-14zM1415 2304h14v14h-14zM742 2314h14v14h-14zM1587 2302h14v14h-14zM1586 2305h14v14h-14zM1426 2283h14v14h-14zM1406 2283h14v14h-14zM1490 2300h14v14h-14zM1477 2273h14v14h-14zM1376 2259h14v14h-14zM1498 2285h14v14h-14zM1538 2308h14v14h-14zM1584 2304h14v14h-14zM1528 2273h14v14h-14zM1484 2287h14v14h-14zM1488 2308h14v14h-14zM1428 2295h14v14h-14zM1345 2286h14v14h-14zM1456 2280h14v14h-14zM1559 2290h14v14h-14zM1527 2303h14v14h-14zM1367 2286h14v14h-14zM1511 2324h14v14h-14zM1537 2284h14v14h-14zM1494 2320h14v14h-14zM1360 2311h14v14h-14zM1447 2317h14v14h-14zM1369 2297h14v14h-14zM1566 2329h14v14h-14zM1336 2327h14v14h-14zM1376 2278h14v14h-14zM1561 2301h14v14h-14zM1462 2270h14v14h-14zM1589 2317h14v14h-14zM1536 2325h14v14h-14zM1379 2322h14v14h-14zM1496 2288h14v14h-14zM1402 2278h14v14h-14zM1530 2298h14v14h-14zM1387 2292h14v14h-14zM1342 2275h14v14h-14zM1579 2264h14v14h-14zM1397 2307h14v14h-14zM1415 2316h14v14h-14zM1535 2271h14v14h-14zM1336 2286h14v14h-14zM1377 2293h14v14h-14zM1538 2298h14v14h-14zM1496 2305h14v14h-14zM1505 2327h14v14h-14zM1418 2312h14v14h-14zM1521 2291h14v14h-14zM1452 2293h14v14h-14zM1562 2306h14v14h-14zM1566 2320h14v14h-14zM1415 2293h14v14h-14zM1499 2305h14v14h-14zM1352 2300h14v14h-14zM1366 2291h14v14h-14zM1591 2292h14v14h-14zM1389 2285h14v14h-14zM1444 2308h14v14h-14zM1375 2293h14v14h-14zM641 2631h14v14h-14zM673 2645h14v14h-14z" fill="#7f7f7f" transform="scale(0.1)"/><path d="M72.1 221.8L74.1 221.9L76.1 222.0L78.1 222.1L80.1 222.2L82.1 222.3L84.1 222.4L86.1 222.5L88.1 222.6L90.1 222.7L92.1 222.8L94.1 222.9L96.1 223.0L98.1 223.1L100.1 223.2L102.1 223.3L104.1 223.4L106.2 223.5L108.2 223.6L110.2 223.7L112.2 223.8L114.2 223.9L116.2 224.0L118.2 224.1L120.2 224.2L122.2 224.3L124.2 224.4L126.2 224.5L128.2 224.6L130.2 224.7L130.2 227.6L128.2 227.6L126.2 227.6L124.2 227.6L122.2 227.6L120.2 227.6L118.2 227.6L116.2 227.6L114.2 227.6L112.2 227.6L110.2 227.6L108.2 227.6L106.2 227.6L104.1 227.6L102.1 227.6L100.1 227.6L98.1 227.6L96.1 227.6L94.1 227.6L92.1 227.6L90.1 227.6L88.1 227.6L86.1 227.6L84.1 227.6L82.1 227.6L80.1 227.6L78.1 227.6L76.1 227.6L74.1 227.6L72.1 227.6Z" fill="#e3191c"/><path d="M962 2094h18v18h-18zM1016 2155h18v18h-18zM904 1889h18v18h-18zM996 2131h18v18h-18zM1068 2250h18v18h-18zM1029 2152h18v18h-18zM796 2240h18v18h-18zM839 2019h18v18h-18zM723 2208h18v18h-18zM998 2159h18v18h-18zM1028 2141h18v18h-18zM729 2211h18v18h-18zM950 2166h18v18h-18zM862 1978h18v18h-18zM751 2246h18v18h-18zM791 2245h18v18h-18zM879 1953h18v18h-18zM988 1962h18v18h-18zM751 2221h18v18h-18zM887 2129h18v18h-18zM856 2051h18v18h-18zM915 2208h18v18h-18zM985 2218h18v18h-18zM783 2231h18v18h-18zM930 2148h18v18h-18zM1028 2185h18v18h-18zM1050 2139h18v18h-18zM1037 2197h18v18h-18zM871 2202h18v18h-18zM993 1917h18v18h-18zM775 2197h18v18h-18zM1080 2252h18v18h-18zM848 2231h18v18h-18zM979 2183h18v18h-18zM782 2239h18v18h-18zM727 2261h18v18h-18zM858 2197h18v18h-18zM726 2260h18v18h-18zM869 2119h18v18h-18zM779 2222h18v18h-18zM720 2235h18v18h-18zM889 2193h18v18h-18zM957 2212h18v18h-18zM1077 2182h18v18h-18zM1030 2015h18v18h-18zM995 2195h18v18h-18zM1028 2238h18v18h-18zM825 2249h18v18h-18zM750 2206h18v18h-18zM974 1938h18v18h-18zM777 2095h18v18h-18zM1020 2211h18v18h-18zM761 2221h18v18h-18zM1008 1958h18v18h-18zM723 2161h18v18h-18zM729 2261h18v18h-18zM788 2225h18v18h-18zM906 2011h18v18h-18zM1072 2196h18v18h-18zM921 2220h18v18h-18zM948 2260h18v18h-18zM1028 2066h18v18h-18zM756 2140h18v18h-18zM820 2047h18v18h-18zM847 1938h18v18h-18zM963 2201h18v18h-18zM827 2238h18v18h-18zM867 2130h18v18h-18zM817 2177h18v18h-18zM922 2252h18v18h-18zM867 2135h18v18h-18zM747 2207h18v18h-18zM729 2166h18v18h-18zM1019 2150h18v18h-18zM885 2121h18v18h-18zM828 2229h18v18h-18zM1043 2149h18v18h-18zM941 2059h18v18h-18zM1025 2225h18v18h-18zM812 2236h18v18h-18zM922 2226h18v18h-18zM970 2211h18v18h-18zM1013 2244h18v18h-18zM1003 2214h18v18h-18zM940 2192h18v18h-18zM1024 2089h18v18h-18zM886 2082h18v18h-18zM789 2219h18v18h-18zM1011 2132h18v18h-18zM852 2085h18v18h-18zM810 2164h18v18h-18zM851 2179h18v18h-18zM960 2043h18v18h-18zM755 2216h18v18h-18zM786 2247h18v18h-18zM993 2072h18v18h-18zM761 2233h18v18h-18zM1007 1944h18v18h-18zM1029 2194h18v18h-18zM905 2173h18v18h-18zM1005 2054h18v18h-18zM1027 2256h18v18h-18zM1035 2133h18v18h-18zM759 2238h18v18h-18zM865 2222h18v18h-18zM1040 2224h18v18h-18zM764 2258h18v18h-18zM966 2105h18v18h-18zM948 2259h18v18h-18zM969 2252h18v18h-18zM1007 2225h18v18h-18zM729 2233h18v18h-18zM903 2211h18v18h-18zM728 2242h18v18h-18zM849 2213h18v18h-18zM889 2228h18v18h-18zM829 2228h18v18h-18zM852 2168h18v18h-18zM949 2175h18v18h-18zM872 2109h18v18h-18zM856 2261h18v18h-18zM1033 2211h18v18h-18zM943 2216h18v18h-18zM798 2246h18v18h-18zM851 2242h18v18h-18zM836 2221h18v18h-18zM1020 2204h18v18h-18zM977 2203h18v18h-18zM976 2200h18v18h-18zM831 2234h18v18h-18zM818 2250h18v18h-18zM830 2082h18v18h-18zM880 2197h18v18h-18zM974 2005h18v18h-18zM968 2212h18v18h-18zM917 2218h18v18h-18zM939 2260h18v18h-18zM737 2122h18v18h-18zM747 2135h18v18h-18zM964 2152h18v18h-18zM837 2262h18v18h-18zM988 2236h18v18h-18zM956 2162h18v18h-18zM910 2123h18v18h-18zM764 2191h18v18h-18zM819 2236h18v18h-18zM765 2038h18v18h-18zM739 2211h18v18h-18zM781 2260h18v18h-18zM768 2152h18v18h-18zM900 2254h18v18h-18zM727 2251h18v18h-18zM1045 2160h18v18h-18zM1055 2088h18v18h-18zM817 2105h18v18h-18zM996 2181h18v18h-18zM872 2047h18v18h-18zM1042 2196h18v18h-18zM1014 2093h18v18h-18zM753 2224h18v18h-18zM1035 2247h18v18h-18zM792 2255h18v18h-18zM891 2089h18v18h-18zM870 2189h18v18h-18zM989 2204h18v18h-18zM810 2184h18v18h-18zM853 2229h18v18h-18zM903 1997h18v18h-18zM872 2116h18v18h-18zM729 2243h18v18h-18zM1041 2241h18v18h-18zM948 2060h18v18h-18zM729 2170h18v18h-18zM904 2198h18v18h-18zM873 2218h18v18h-18zM941 2171h18v18h-18zM819 2240h18v18h-18zM727 2222h18v18h-18zM864 2210h18v18h-18zM789 2258h18v18h-18zM886 2253h18v18h-18zM966 2200h18v18h-18zM802 2184h18v18h-18zM997 2029h18v18h-18zM997 2245h18v18h-18zM1007 2219h18v18h-18zM894 2211h18v18h-18zM868 2247h18v18h-18zM1051 2197h18v18h-18zM1027 2259h18v18h-18zM1057 2118h18v18h-18zM768 1895h18v18h-18zM1050 2221h18v18h-18zM960 2244h18v18h-18zM815 2143h18v18h-18zM743 2112h18v18h-18zM730 2219h18v18h-18zM1068 2055h18v18h-18zM893 2239h18v18h-18zM816 2146h18v18h-18zM1035 2150h18v18h-18zM1074 2181h18v18h-18zM1021 2250h18v18h-18zM988 1871h18v18h-18zM760 2052h18v18h-18zM823 2218h18v18h-18zM782 2082h18v18h-18zM856 2105h18v18h-18zM829 2033h18v18h-18zM877 2220h18v18h-18zM1143 2217h18v18h-18zM1290 2196h18v18h-18zM904 2137h18v18h-18zM1041 2181h18v18h-18zM1129 2214h18v18h-18zM765 2144h18v18h-18zM1236 2213h18v18h-18zM768 2156h18v18h-18zM866 2196h18v18h-18zM1161 2251h18v18h-18zM846 2211h18v18h-18zM987 2099h18v18h-18zM1147 2129h18v18h-18zM1271 2247h18v18h-18zM806 2232h18v18h-18zM1188 2230h18v18h-18zM793 2259h18v18h-18zM1288 2164h18v18h-18zM1215 2224h18v18h-18zM737 2248h18v18h-18zM979 1852h18v18h-18zM931 2194h18v18h-18zM818 2246h18v18h-18zM1149 2258h18v18h-18zM1203 2261h18v18h-18zM1265 2253h18v18h-18zM866 2158h18v18h-18zM1173 2259h18v18h-18zM940 2057h18v18h-18zM1025 2194h18v18h-18zM933 2143h18v18h-18zM972 2028h18v18h-18zM1236 2231h18v18h-18zM1225 2231h18v18h-18zM1130 2255h18v18h-18zM1178 2229h18v18h-18zM1056 2214h18v18h-18zM1063 2199h18v18h-18zM755 2170h18v18h-18zM929 2019h18v18h-18zM751 2182h18v18h-18zM1110 2235h18v18h-18zM1016 2120h18v18h-18zM1320 2243h18v18h-18zM1075 2216h18v18h-18zM828 2176h18v18h-18zM1269 2230h18v18h-18zM1025 2158h18v18h-18zM962 2136h18v18h-18zM824 2065h18v18h-18zM1280 2180h18v18h-18zM1322 2258h18v18h-18zM1235 2222h18v18h-18zM1155 2205h18v18h-18zM1187 2259h18v18h-18zM995 2239h18v18h-18zM965 2189h18v18h-18zM1284 2223h18v18h-18zM1004 2233h18v18h-18zM1036 2231h18v18h-18zM1019 2237h18v18h-18zM1103 2249h18v18h-18zM1285 2253h18v18h-18zM1166 2219h18v18h-18zM1300 2250h18v18h-18zM965 2190h18v18h-18zM1161 2225h18v18h-18zM1146 2257h18v18h-18zM986 2080h18v18h-18zM1094 2258h18v18h-18zM1031 2208h18v18h-18zM1012 2172h18v18h-18zM757 2199h18v18h-18zM1257 2212h18v18h-18zM1194 2249h18v18h-18zM857 2210h18v18h-18zM1290 2259h18v18h-18zM898 2251h18v18h-18zM729 2245h18v18h-18zM1198 2215h18v18h-18zM1265 2231h18v18h-18zM1298 2261h18v18h-18zM1001 2209h18v18h-18zM838 2213h18v18h-18zM865 2173h18v18h-18zM1008 2194h18v18h-18zM846 2132h18v18h-18zM967 2170h18v18h-18zM1094 2244h18v18h-18zM1210 2201h18v18h-18zM814 2161h18v18h-18zM1293 2233h18v18h-18zM1131 2214h18v18h-18zM1223 2238h18v18h-18zM1157 2224h18v18h-18zM1009 2167h18v18h-18zM1143 2215h18v18h-18zM1304 2232h18v18h-18zM1164 2195h18v18h-18zM860 1986h18v18h-18zM1142 2235h18v18h-18zM828 2210h18v18h-18zM862 2250h18v18h-18zM1051 2203h18v18h-18zM782 2134h18v18h-18zM1117 2248h18v18h-18zM1173 2255h18v18h-18zM735 2134h18v18h-18zM1297 2246h18v18h-18zM1073 2193h18v18h-18zM872 2257h18v18h-18zM1115 2220h18v18h-18zM1045 2120h18v18h-18zM849 1825h18v18h-18zM1576 2242h18v18h-18zM1382 2229h18v18h-18zM1285 2219h18v18h-18zM1205 2222h18v18h-18z" fill="#e3191c" transform="scale(0.1)"/><path d="M72.1 233.0L74.1 233.0L76.2 233.0L78.3 233.0L80.4 233.0L82.5 233.0L84.6 233.0L86.7 233.0L88.8 233.0L90.9 233.0L92.9 233.0L95.0 233.0L97.1 233.0L99.2 233.0L101.3 233.0L103.4 233.0L105.5 233.0L107.6 233.0L109.7 233.0L111.8 233.0L113.8 233.0L115.9 233.0L118.0 233.0L120.1 233.0L122.2 233.0L124.3 233.0L126.4 233.0L128.5 233.0L130.6 233.0L132.7 233.0L132.7 235.2L130.6 235.3L128.5 235.3L126.4 235.4L124.3 235.4L122.2 235.5L120.1 235.5L118.0 235.6L115.9 235.6L113.8 235.7L111.8 235.7L109.7 235.8L107.6 235.8L105.5 235.9L103.4 235.9L101.3 236.0L99.2 236.0L97.1 236.1L95.0 236.1L92.9 236.2L90.9 236.2L88.8 236.3L86.7 236.3L84.6 236.4L82.5 236.4L80.4 236.5L78.3 236.5L76.2 236.6L74.1 236.6L72.1 236.7Z" fill="#6cc72c"/><path d="M1104 2355h18v18h-18zM1078 2334h18v18h-18zM1001 2330h18v18h-18zM1221 2365h18v18h-18zM1304 2334h18v18h-18zM1268 2334h18v18h-18zM1290 2334h18v18h-18zM928 2401h18v18h-18zM885 2391h18v18h-18zM1314 2329h18v18h-18zM761 2369h18v18h-18zM772 2411h18v18h-18zM1010 2336h18v18h-18zM835 2357h18v18h-18zM1238 2336h18v18h-18zM1311 2335h18v18h-18zM1296 2339h18v18h-18zM1013 2345h18v18h-18zM1085 2337h18v18h-18zM844 2353h18v18h-18zM796 2352h18v18h-18zM1284 2339h18v18h-18zM783 2346h18v18h-18zM792 2339h18v18h-18zM799 2409h18v18h-18zM1249 2354h18v18h-18zM834 2386h18v18h-18zM1070 2338h18v18h-18zM958 2358h18v18h-18zM1083 2329h18v18h-18zM1262 2334h18v18h-18zM1293 2336h18v18h-18zM1230 2335h18v18h-18zM1067 2329h18v18h-18zM1257 2363h18v18h-18zM1124 2329h18v18h-18zM1227 2328h18v18h-18zM1075 2336h18v18h-18zM792 2387h18v18h-18zM1255 2417h18v18h-18zM755 2362h18v18h-18zM1254 2329h18v18h-18zM1098 2342h18v18h-18zM1064 2333h18v18h-18zM888 2355h18v18h-18zM833 2346h18v18h-18zM1241 2348h18v18h-18zM840 2348h18v18h-18zM973 2345h18v18h-18zM1211 2340h18v18h-18zM1052 2354h18v18h-18zM1132 2330h18v18h-18zM791 2329h18v18h-18zM864 2387h18v18h-18zM992 2341h18v18h-18zM829 2349h18v18h-18zM1315 2338h18v18h-18zM1089 2335h18v18h-18zM891 2357h18v18h-18zM833 2374h18v18h-18zM1148 2347h18v18h-18zM1063 2337h18v18h-18zM1109 2353h18v18h-18zM1279 2341h18v18h-18zM825 2414h18v18h-18zM964 2344h18v18h-18zM1100 2385h18v18h-18zM1119 2344h18v18h-18zM741 2377h18v18h-18zM770 2359h18v18h-18zM766 2342h18v18h-18zM1174 2347h18v18h-18zM1126 2380h18v18h-18zM835 2329h18v18h-18zM1313 2337h18v18h-18zM1122 2357h18v18h-18zM866 2341h18v18h-18zM1130 2346h18v18h-18zM1247 2338h18v18h-18zM920 2351h18v18h-18zM826 2336h18v18h-18zM722 2360h18v18h-18zM1121 2336h18v18h-18zM1084 2332h18v18h-18zM936 2431h18v18h-18zM1243 2329h18v18h-18zM911 2329h18v18h-18zM869 2361h18v18h-18zM788 2386h18v18h-18zM1147 2362h18v18h-18zM1140 2366h18v18h-18zM1332 2345h18v18h-18zM1107 2349h18v18h-18zM999 2330h18v18h-18zM995 2334h18v18h-18zM1044 2357h18v18h-18zM1215 2341h18v18h-18zM960 2335h18v18h-18zM1027 2388h18v18h-18zM1333 2336h18v18h-18zM961 2340h18v18h-18zM912 2337h18v18h-18zM1178 2408h18v18h-18zM1114 2331h18v18h-18zM1242 2352h18v18h-18zM775 2331h18v18h-18zM1300 2390h18v18h-18zM743 2367h18v18h-18zM964 2333h18v18h-18zM939 2338h18v18h-18zM1161 2361h18v18h-18zM782 2340h18v18h-18zM1196 2335h18v18h-18zM1070 2358h18v18h-18zM1188 2351h18v18h-18zM772 2358h18v18h-18zM763 2355h18v18h-18zM1303 2347h18v18h-18zM1099 2329h18v18h-18zM966 2360h18v18h-18zM864 2334h18v18h-18zM1282 2329h18v18h-18zM833 2335h18v18h-18zM1208 2333h18v18h-18zM1218 2376h18v18h-18zM817 2339h18v18h-18zM1207 2333h18v18h-18zM1179 2362h18v18h-18zM795 2332h18v18h-18zM1196 2413h18v18h-18zM1206 2348h18v18h-18zM830 2369h18v18h-18zM1035 2388h18v18h-18zM985 2444h18v18h-18zM888 2381h18v18h-18zM1031 2349h18v18h-18zM1012 2343h18v18h-18zM857 2337h18v18h-18zM1212 2329h18v18h-18zM784 2335h18v18h-18zM853 2374h18v18h-18zM1174 2407h18v18h-18zM723 2352h18v18h-18zM1012 2341h18v18h-18zM1200 2344h18v18h-18zM1255 2334h18v18h-18zM786 2334h18v18h-18zM1223 2333h18v18h-18zM831 2404h18v18h-18zM1082 2337h18v18h-18zM729 2419h18v18h-18zM813 2343h18v18h-18zM1268 2332h18v18h-18zM830 2483h18v18h-18zM931 2361h18v18h-18zM1031 2409h18v18h-18zM1264 2336h18v18h-18zM1062 2349h18v18h-18zM1153 2346h18v18h-18zM1033 2337h18v18h-18zM852 2388h18v18h-18zM1046 2364h18v18h-18zM839 2348h18v18h-18zM958 2332h18v18h-18zM1273 2343h18v18h-18zM722 2360h18v18h-18zM712 2459h18v18h-18zM1316 2331h18v18h-18zM1211 2340h18v18h-18zM893 2337h18v18h-18zM968 2361h18v18h-18zM1094 2342h18v18h-18zM1170 2339h18v18h-18zM1323 2342h18v18h-18zM1006 2348h18v18h-18zM1103 2376h18v18h-18zM811 2330h18v18h-18zM936 2397h18v18h-18zM1105 2329h18v18h-18zM1237 2340h18v18h-18zM1102 2355h18v18h-18zM1039 2353h18v18h-18zM1236 2328h18v18h-18zM929 2332h18v18h-18zM856 2351h18v18h-18zM747 2417h18v18h-18zM745 2358h18v18h-18zM1056 2335h18v18h-18zM962 2341h18v18h-18zM1285 2346h18v18h-18zM854 2336h18v18h-18zM837 2331h18v18h-18zM1304 2329h18v18h-18zM1203 2349h18v18h-18zM1307 2330h18v18h-18zM1328 2343h18v18h-18zM1224 2331h18v18h-18zM815 2427h18v18h-18zM1183 2373h18v18h-18zM1267 2355h18v18h-18zM1245 2527h18v18h-18zM1374 2342h18v18h-18zM744 2454h18v18h-18zM873 2477h18v18h-18zM914 2434h18v18h-18z" fill="#6cc72c" transform="scale(0.1)"/><line x1="56.7" y1="230.4" x2="166" y2="230.4" stroke="#111" stroke-width="0.9"/><rect x="56.7" y="181.1" width="109.3" height="87.2" fill="none" stroke="#111" stroke-width="1.1"/><line x1="54.4" y1="197.3" x2="56.7" y2="197.3" stroke="#222" stroke-width="0.8"/><text x="50.6" y="199.55" font-size="6.4" text-anchor="end" fill="#222" stroke="#222" stroke-width="0.18">10</text><line x1="54.4" y1="213.85" x2="56.7" y2="213.85" stroke="#222" stroke-width="0.8"/><text x="50.6" y="216.1" font-size="6.4" text-anchor="end" fill="#222" stroke="#222" stroke-width="0.18">5</text><line x1="54.4" y1="230.4" x2="56.7" y2="230.4" stroke="#222" stroke-width="0.8"/><text x="50.6" y="232.65" font-size="6.4" text-anchor="end" fill="#222" stroke="#222" stroke-width="0.18">0</text><line x1="54.4" y1="246.95" x2="56.7" y2="246.95" stroke="#222" stroke-width="0.8"/><text x="50.6" y="249.2" font-size="6.4" text-anchor="end" fill="#222" stroke="#222" stroke-width="0.18">-5</text><line x1="54.4" y1="263.5" x2="56.7" y2="263.5" stroke="#222" stroke-width="0.8"/><text x="50.6" y="265.75" font-size="6.4" text-anchor="end" fill="#222" stroke="#222" stroke-width="0.18">-10</text><line x1="56.7" y1="268.3" x2="56.7" y2="270.6" stroke="#222" stroke-width="0.8"/><text x="56.7" y="280.8" font-size="6.4" text-anchor="middle" fill="#222" stroke="#222" stroke-width="0.18">0</text><line x1="72.86" y1="268.3" x2="72.86" y2="270.6" stroke="#222" stroke-width="0.8"/><text x="72.86" y="280.8" font-size="6.4" text-anchor="middle" fill="#222" stroke="#222" stroke-width="0.18">2</text><line x1="89.02" y1="268.3" x2="89.02" y2="270.6" stroke="#222" stroke-width="0.8"/><text x="89.02" y="280.8" font-size="6.4" text-anchor="middle" fill="#222" stroke="#222" stroke-width="0.18">4</text><line x1="105.18" y1="268.3" x2="105.18" y2="270.6" stroke="#222" stroke-width="0.8"/><text x="105.18" y="280.8" font-size="6.4" text-anchor="middle" fill="#222" stroke="#222" stroke-width="0.18">6</text><line x1="121.34" y1="268.3" x2="121.34" y2="270.6" stroke="#222" stroke-width="0.8"/><text x="121.34" y="280.8" font-size="6.4" text-anchor="middle" fill="#222" stroke="#222" stroke-width="0.18">8</text><line x1="137.5" y1="268.3" x2="137.5" y2="270.6" stroke="#222" stroke-width="0.8"/><text x="137.5" y="280.8" font-size="6.4" text-anchor="middle" fill="#222" stroke="#222" stroke-width="0.18">10</text><line x1="153.66" y1="268.3" x2="153.66" y2="270.6" stroke="#222" stroke-width="0.8"/><text x="153.66" y="280.8" font-size="6.4" text-anchor="middle" fill="#222" stroke="#222" stroke-width="0.18">12</text><text x="94.2" y="292.6" font-size="7.8" fill="#222" stroke="#222" stroke-width="0.09" textLength="35.1" lengthAdjust="spacingAndGlyphs">CPM (log2)</text><text x="27.2" y="246.9" font-size="7.6" fill="#222" stroke="#222" stroke-width="0.09" textLength="43.8" lengthAdjust="spacingAndGlyphs" transform="rotate(-90 27.2 246.9)">Anti-CD40/IL4</text><text x="37" y="257.3" font-size="7.6" fill="#222" stroke="#222" stroke-width="0.09" textLength="64.6" lengthAdjust="spacingAndGlyphs" transform="rotate(-90 37 257.3)">OBF1KO - WT (logFC)</text><text x="36.9" y="175.8" font-size="8.9" fill="#111" stroke="#111" stroke-width="0.11" textLength="147.7" lengthAdjust="spacingAndGlyphs">logFC &gt;= 1; logCPM &gt; 2; FDR &lt; 0.01</text><text x="126.9" y="190.8" font-size="5.6" fill="#e3191c" stroke="#e3191c" stroke-width="0.16" textLength="6.6" lengthAdjust="spacingAndGlyphs">Up</text><text x="142.4" y="190.8" font-size="5.6" fill="#e3191c" stroke="#e3191c" stroke-width="0.16" textLength="18.8" lengthAdjust="spacingAndGlyphs">(n=512)</text><text x="126.9" y="197.8" font-size="5.6" fill="#6f6f6f" stroke="#6f6f6f" stroke-width="0.16" textLength="14.4" lengthAdjust="spacingAndGlyphs">Equal</text><text x="142.4" y="197.8" font-size="5.6" fill="#6f6f6f" stroke="#6f6f6f" stroke-width="0.16" textLength="22.1" lengthAdjust="spacingAndGlyphs">(n=9733)</text><text x="126.9" y="204.1" font-size="5.6" fill="#7dc64a" stroke="#7dc64a" stroke-width="0.16" textLength="14.4" lengthAdjust="spacingAndGlyphs">Down</text><text x="142.4" y="204.1" font-size="5.6" fill="#7dc64a" stroke="#7dc64a" stroke-width="0.16" textLength="19.8" lengthAdjust="spacingAndGlyphs">(n=234)</text><text x="22.4" y="321.3" font-size="9.3" fill="#222" stroke="#222" stroke-width="0.11" textLength="126.6" lengthAdjust="spacingAndGlyphs">Significantly enriched GO terms</text><line x1="18.8" y1="323.6" x2="232.5" y2="323.6" stroke="#555" stroke-width="0.9"/><text x="22.3" y="334.5" font-size="5.4" fill="#383838" stroke="#383838" stroke-width="0.15" textLength="58.9" lengthAdjust="spacingAndGlyphs">immune system process</text><text x="22.3" y="341.5" font-size="5.4" fill="#383838" stroke="#383838" stroke-width="0.15" textLength="43.5" lengthAdjust="spacingAndGlyphs">immune response</text><text x="22.3" y="348.5" font-size="5.4" fill="#383838" stroke="#383838" stroke-width="0.15" textLength="60.5" lengthAdjust="spacingAndGlyphs">innate immune response</text><text x="22.3" y="355.5" font-size="5.4" fill="#383838" stroke="#383838" stroke-width="0.15" textLength="107.9" lengthAdjust="spacingAndGlyphs">interspecies interaction between organisms</text><text x="22.3" y="362.5" font-size="5.4" fill="#383838" stroke="#383838" stroke-width="0.15" textLength="140.2" lengthAdjust="spacingAndGlyphs">symbioysis, encompassing mutualism through parasitism</text><text x="22.3" y="369.5" font-size="5.4" fill="#383838" stroke="#383838" stroke-width="0.15" textLength="43.5" lengthAdjust="spacingAndGlyphs">defense response</text><text x="22.3" y="376.5" font-size="5.4" fill="#383838" stroke="#383838" stroke-width="0.15" textLength="76.5" lengthAdjust="spacingAndGlyphs">multi-organism cellular process</text><text x="22.3" y="383.5" font-size="5.4" fill="#383838" stroke="#383838" stroke-width="0.15" textLength="30.5" lengthAdjust="spacingAndGlyphs">viral process</text><text x="22.3" y="410.9" font-size="5.4" fill="#383838" stroke="#383838" stroke-width="0.15" textLength="112.6" lengthAdjust="spacingAndGlyphs">regulation of multicellular organismal process</text><text x="22.3" y="417.81" font-size="5.4" fill="#383838" stroke="#383838" stroke-width="0.15" textLength="62.8" lengthAdjust="spacingAndGlyphs">immune system response</text><text x="22.3" y="424.72" font-size="5.4" fill="#383838" stroke="#383838" stroke-width="0.15" textLength="99.2" lengthAdjust="spacingAndGlyphs">positive regulation of biological process</text><text x="22.3" y="431.63" font-size="5.4" fill="#383838" stroke="#383838" stroke-width="0.15" textLength="92.8" lengthAdjust="spacingAndGlyphs">positive regulation of cellular process</text><text x="22.3" y="438.54" font-size="5.4" fill="#383838" stroke="#383838" stroke-width="0.15" textLength="91.9" lengthAdjust="spacingAndGlyphs">single-multicellular organism process</text><text x="22.3" y="445.45" font-size="5.4" fill="#383838" stroke="#383838" stroke-width="0.15" textLength="88.2" lengthAdjust="spacingAndGlyphs">anantomical structure development</text><text x="22.3" y="452.36" font-size="5.4" fill="#383838" stroke="#383838" stroke-width="0.15" textLength="89.6" lengthAdjust="spacingAndGlyphs">multicellular organism develpoment</text><text x="22.3" y="459.27" font-size="5.4" fill="#383838" stroke="#383838" stroke-width="0.15" textLength="92.8" lengthAdjust="spacingAndGlyphs">regulation of immune system process</text><rect x="166.6" y="330.5" width="61.2" height="5.2" fill="#c41b14" stroke="#a31510" stroke-width="0.3"/><rect x="166.6" y="337.7" width="60.6" height="5.2" fill="#c41b14" stroke="#a31510" stroke-width="0.3"/><rect x="166.6" y="344.5" width="49.7" height="5.2" fill="#c41b14" stroke="#a31510" stroke-width="0.3"/><rect x="166.6" y="351.7" width="45.4" height="5.2" fill="#c41b14" stroke="#a31510" stroke-width="0.3"/><rect x="166.6" y="358.6" width="45.4" height="5.2" fill="#c41b14" stroke="#a31510" stroke-width="0.3"/><rect x="166.6" y="365.7" width="42.5" height="5.2" fill="#c41b14" stroke="#a31510" stroke-width="0.3"/><rect x="166.6" y="372.6" width="39.6" height="5.2" fill="#c41b14" stroke="#a31510" stroke-width="0.3"/><rect x="166.6" y="379.5" width="39.3" height="5.2" fill="#c41b14" stroke="#a31510" stroke-width="0.3"/><line x1="166.1" y1="327.2" x2="166.1" y2="387.2" stroke="#222" stroke-width="1"/><line x1="166.1" y1="386.8" x2="229" y2="386.8" stroke="#222" stroke-width="1"/><line x1="166.1" y1="386.8" x2="166.1" y2="388.8" stroke="#222" stroke-width="0.7"/><text x="165.8" y="398.7" font-size="6.5" text-anchor="middle" fill="#222" stroke="#222" stroke-width="0.18" textLength="3.4" lengthAdjust="spacingAndGlyphs">0</text><line x1="174.71" y1="386.8" x2="174.71" y2="388.8" stroke="#222" stroke-width="0.7"/><text x="174.41" y="398.7" font-size="6.5" text-anchor="middle" fill="#222" stroke="#222" stroke-width="0.18" textLength="3.4" lengthAdjust="spacingAndGlyphs">5</text><line x1="183.32" y1="386.8" x2="183.32" y2="388.8" stroke="#222" stroke-width="0.7"/><text x="183.02" y="398.7" font-size="6.5" text-anchor="middle" fill="#222" stroke="#222" stroke-width="0.18" textLength="6" lengthAdjust="spacingAndGlyphs">10</text><line x1="191.93" y1="386.8" x2="191.93" y2="388.8" stroke="#222" stroke-width="0.7"/><text x="191.63" y="398.7" font-size="6.5" text-anchor="middle" fill="#222" stroke="#222" stroke-width="0.18" textLength="6" lengthAdjust="spacingAndGlyphs">15</text><line x1="200.54" y1="386.8" x2="200.54" y2="388.8" stroke="#222" stroke-width="0.7"/><text x="200.24" y="398.7" font-size="6.5" text-anchor="middle" fill="#222" stroke="#222" stroke-width="0.18" textLength="6" lengthAdjust="spacingAndGlyphs">20</text><line x1="209.15" y1="386.8" x2="209.15" y2="388.8" stroke="#222" stroke-width="0.7"/><text x="208.85" y="398.7" font-size="6.5" text-anchor="middle" fill="#222" stroke="#222" stroke-width="0.18" textLength="6" lengthAdjust="spacingAndGlyphs">25</text><line x1="217.76" y1="386.8" x2="217.76" y2="388.8" stroke="#222" stroke-width="0.7"/><text x="217.46" y="398.7" font-size="6.5" text-anchor="middle" fill="#222" stroke="#222" stroke-width="0.18" textLength="6" lengthAdjust="spacingAndGlyphs">30</text><line x1="226.37" y1="386.8" x2="226.37" y2="388.8" stroke="#222" stroke-width="0.7"/><text x="226.07" y="398.7" font-size="6.5" text-anchor="middle" fill="#222" stroke="#222" stroke-width="0.18" textLength="6" lengthAdjust="spacingAndGlyphs">35</text><rect x="166.6" y="406.9" width="66" height="5.1" fill="#6aa83a" stroke="#5a9530" stroke-width="0.3"/><rect x="166.6" y="413.7" width="61.7" height="5.1" fill="#6aa83a" stroke="#5a9530" stroke-width="0.3"/><rect x="166.6" y="420.9" width="58.3" height="5.1" fill="#6aa83a" stroke="#5a9530" stroke-width="0.3"/><rect x="166.6" y="427.7" width="55.4" height="5.1" fill="#6aa83a" stroke="#5a9530" stroke-width="0.3"/><rect x="166.6" y="434.6" width="54.3" height="5.1" fill="#6aa83a" stroke="#5a9530" stroke-width="0.3"/><rect x="166.6" y="441.8" width="46.1" height="5.1" fill="#6aa83a" stroke="#5a9530" stroke-width="0.3"/><rect x="166.6" y="448.8" width="46.1" height="5.1" fill="#6aa83a" stroke="#5a9530" stroke-width="0.3"/><rect x="166.6" y="455.8" width="45.6" height="5.1" fill="#6aa83a" stroke="#5a9530" stroke-width="0.3"/><line x1="166.1" y1="403.6" x2="166.1" y2="463.2" stroke="#222" stroke-width="1"/><line x1="166.1" y1="462.8" x2="230.7" y2="462.8" stroke="#222" stroke-width="1"/><line x1="166.1" y1="462.8" x2="166.1" y2="464.9" stroke="#222" stroke-width="0.7"/><text x="166.1" y="475.2" font-size="6.4" text-anchor="middle" fill="#222" stroke="#222" stroke-width="0.18">0</text><line x1="178.38" y1="462.8" x2="178.38" y2="464.9" stroke="#222" stroke-width="0.7"/><text x="178.38" y="475.2" font-size="6.4" text-anchor="middle" fill="#222" stroke="#222" stroke-width="0.18">2</text><line x1="190.66" y1="462.8" x2="190.66" y2="464.9" stroke="#222" stroke-width="0.7"/><text x="190.66" y="475.2" font-size="6.4" text-anchor="middle" fill="#222" stroke="#222" stroke-width="0.18">4</text><line x1="202.94" y1="462.8" x2="202.94" y2="464.9" stroke="#222" stroke-width="0.7"/><text x="202.94" y="475.2" font-size="6.4" text-anchor="middle" fill="#222" stroke="#222" stroke-width="0.18">6</text><line x1="215.22" y1="462.8" x2="215.22" y2="464.9" stroke="#222" stroke-width="0.7"/><text x="215.22" y="475.2" font-size="6.4" text-anchor="middle" fill="#222" stroke="#222" stroke-width="0.18">8</text><line x1="227.5" y1="462.8" x2="227.5" y2="464.9" stroke="#222" stroke-width="0.7"/><text x="227.5" y="475.2" font-size="6.4" text-anchor="middle" fill="#222" stroke="#222" stroke-width="0.18">10</text><text x="116.7" y="475" font-size="6.6" fill="#222" stroke="#222" stroke-width="0.18" textLength="44.7" lengthAdjust="spacingAndGlyphs">-log10(P-value)</text><text x="286.6" y="319.3" font-size="6.9" fill="#222" stroke="#222" stroke-width="0.19" textLength="49.5" lengthAdjust="spacingAndGlyphs">Enrichment plot:</text><text x="286.6" y="326.9" font-size="6.9" fill="#222" stroke="#222" stroke-width="0.19" textLength="31.2" lengthAdjust="spacingAndGlyphs">GSE12366</text><text x="286.6" y="334.8" font-size="6.9" fill="#222" stroke="#222" stroke-width="0.19" textLength="73.2" lengthAdjust="spacingAndGlyphs">Genes downregulated in</text><text x="286.6" y="342.7" font-size="6.9" fill="#222" stroke="#222" stroke-width="0.19" textLength="70.7" lengthAdjust="spacingAndGlyphs">GC B cell vs plasma cell</text><rect x="286.4" y="347.9" width="95" height="96.5" fill="none" stroke="#8a8a8a" stroke-width="0.8"/><line x1="295.44" y1="348.3" x2="295.44" y2="386" stroke="#e4e4e4" stroke-width="0.4"/><line x1="303.89" y1="348.3" x2="303.89" y2="386" stroke="#e4e4e4" stroke-width="0.4"/><line x1="312.33" y1="348.3" x2="312.33" y2="386" stroke="#e4e4e4" stroke-width="0.4"/><line x1="320.77" y1="348.3" x2="320.77" y2="386" stroke="#e4e4e4" stroke-width="0.4"/><line x1="329.22" y1="348.3" x2="329.22" y2="386" stroke="#e4e4e4" stroke-width="0.4"/><line x1="337.66" y1="348.3" x2="337.66" y2="386" stroke="#e4e4e4" stroke-width="0.4"/><line x1="346.1" y1="348.3" x2="346.1" y2="386" stroke="#e4e4e4" stroke-width="0.4"/><line x1="354.55" y1="348.3" x2="354.55" y2="386" stroke="#e4e4e4" stroke-width="0.4"/><line x1="362.99" y1="348.3" x2="362.99" y2="386" stroke="#e4e4e4" stroke-width="0.4"/><line x1="371.43" y1="348.3" x2="371.43" y2="386" stroke="#e4e4e4" stroke-width="0.4"/><line x1="287" y1="377.22" x2="376.5" y2="377.22" stroke="#e4e4e4" stroke-width="0.4"/><line x1="287" y1="370.24" x2="376.5" y2="370.24" stroke="#e4e4e4" stroke-width="0.4"/><line x1="287" y1="363.26" x2="376.5" y2="363.26" stroke="#e4e4e4" stroke-width="0.4"/><line x1="287" y1="356.28" x2="376.5" y2="356.28" stroke="#e4e4e4" stroke-width="0.4"/><line x1="287" y1="349.3" x2="376.5" y2="349.3" stroke="#e4e4e4" stroke-width="0.4"/><line x1="287" y1="384.2" x2="376.5" y2="384.2" stroke="#bdbdbd" stroke-width="0.5"/><line x1="286.4" y1="386.3" x2="381.4" y2="386.3" stroke="#9a9a9a" stroke-width="0.5"/><text x="283.4" y="350.9" font-size="4.5" text-anchor="end" fill="#333" stroke="#333" stroke-width="0.13">0.5</text><line x1="284.6" y1="349.3" x2="286.4" y2="349.3" stroke="#777" stroke-width="0.4"/><text x="283.4" y="357.88" font-size="4.5" text-anchor="end" fill="#333" stroke="#333" stroke-width="0.13">0.4</text><line x1="284.6" y1="356.28" x2="286.4" y2="356.28" stroke="#777" stroke-width="0.4"/><text x="283.4" y="364.86" font-size="4.5" text-anchor="end" fill="#333" stroke="#333" stroke-width="0.13">0.3</text><line x1="284.6" y1="363.26" x2="286.4" y2="363.26" stroke="#777" stroke-width="0.4"/><text x="283.4" y="371.84" font-size="4.5" text-anchor="end" fill="#333" stroke="#333" stroke-width="0.13">0.2</text><line x1="284.6" y1="370.24" x2="286.4" y2="370.24" stroke="#777" stroke-width="0.4"/><text x="283.4" y="378.82" font-size="4.5" text-anchor="end" fill="#333" stroke="#333" stroke-width="0.13">0.1</text><line x1="284.6" y1="377.22" x2="286.4" y2="377.22" stroke="#777" stroke-width="0.4"/><text x="283.4" y="385.8" font-size="4.5" text-anchor="end" fill="#333" stroke="#333" stroke-width="0.13">0.0</text><line x1="284.6" y1="384.2" x2="286.4" y2="384.2" stroke="#777" stroke-width="0.4"/><text x="272" y="386" font-size="5.6" fill="#333" stroke="#333" stroke-width="0.16" textLength="43.5" lengthAdjust="spacingAndGlyphs" transform="rotate(-90 272 386)">Enrichment score (ES)</text><path d="M287.00 385.00L287.80 380.00L288.75 375.00L290.00 365.00L291.00 361.00L292.00 358.75L293.75 355.00L295.00 353.75L296.30 354.60L297.50 354.50L298.80 355.20L300.00 353.75L301.30 351.50L302.50 350.50L303.75 350.75L306.25 352.00L309.00 353.00L312.50 354.25L317.50 355.75L321.25 357.50L325.00 360.00L330.00 363.75L335.00 367.50L340.00 370.50L345.00 373.75L351.25 377.50L357.50 380.00L362.50 381.25L365.00 383.00L367.50 382.50L370.00 384.50L372.50 384.50L374.50 382.50L376.25 384.50" fill="none" stroke="#7be43c" stroke-width="0.8" stroke-linejoin="round"/><text x="351.3" y="360.5" font-size="5" fill="#222" stroke="#222" stroke-width="0.14" textLength="16.2" lengthAdjust="spacingAndGlyphs">NES: 1.54</text><text x="351.3" y="366.7" font-size="5" fill="#222" stroke="#222" stroke-width="0.14" textLength="21" lengthAdjust="spacingAndGlyphs">FDR: 0.046</text><line x1="287.05" y1="387.8" x2="287.05" y2="400.7" stroke="#323232" stroke-width="0.73"/><line x1="287.24" y1="387.8" x2="287.24" y2="400.7" stroke="#3b3b3b" stroke-width="0.72"/><line x1="287.32" y1="387.8" x2="287.32" y2="400.7" stroke="#181818" stroke-width="0.38"/><line x1="287.63" y1="387.8" x2="287.63" y2="400.7" stroke="#202020" stroke-width="0.77"/><line x1="287.73" y1="387.8" x2="287.73" y2="400.7" stroke="#8d8d8d" stroke-width="0.36"/><line x1="288.26" y1="387.8" x2="288.26" y2="400.7" stroke="#9e9e9e" stroke-width="0.45"/><line x1="288.74" y1="387.8" x2="288.74" y2="400.7" stroke="#3e3e3e" stroke-width="0.61"/><line x1="289.35" y1="387.8" x2="289.35" y2="400.7" stroke="#353535" stroke-width="0.79"/><line x1="289.84" y1="387.8" x2="289.84" y2="400.7" stroke="#4c4c4c" stroke-width="0.61"/><line x1="290.22" y1="387.8" x2="290.22" y2="400.7" stroke="#6a6a6a" stroke-width="0.48"/><line x1="290.42" y1="387.8" x2="290.42" y2="400.7" stroke="#818181" stroke-width="0.8"/><line x1="290.54" y1="387.8" x2="290.54" y2="400.7" stroke="#6d6d6d" stroke-width="0.39"/><line x1="290.73" y1="387.8" x2="290.73" y2="400.7" stroke="#8c8c8c" stroke-width="0.65"/><line x1="291.2" y1="387.8" x2="291.2" y2="400.7" stroke="#5e5e5e" stroke-width="0.64"/><line x1="291.49" y1="387.8" x2="291.49" y2="400.7" stroke="#3d3d3d" stroke-width="0.49"/><line x1="291.6" y1="387.8" x2="291.6" y2="400.7" stroke="#626262" stroke-width="0.38"/><line x1="291.63" y1="387.8" x2="291.63" y2="400.7" stroke="#6c6c6c" stroke-width="0.43"/><line x1="292.81" y1="387.8" x2="292.81" y2="400.7" stroke="#3c3c3c" stroke-width="0.75"/><line x1="293.17" y1="387.8" x2="293.17" y2="400.7" stroke="#6c6c6c" stroke-width="0.46"/><line x1="293.18" y1="387.8" x2="293.18" y2="400.7" stroke="#7c7c7c" stroke-width="0.8"/><line x1="293.72" y1="387.8" x2="293.72" y2="400.7" stroke="#999999" stroke-width="0.71"/><line x1="294.17" y1="387.8" x2="294.17" y2="400.7" stroke="#474747" stroke-width="0.61"/><line x1="294.18" y1="387.8" x2="294.18" y2="400.7" stroke="#6c6c6c" stroke-width="0.39"/><line x1="294.56" y1="387.8" x2="294.56" y2="400.7" stroke="#7b7b7b" stroke-width="0.58"/><line x1="295.32" y1="387.8" x2="295.32" y2="400.7" stroke="#636363" stroke-width="0.68"/><line x1="295.53" y1="387.8" x2="295.53" y2="400.7" stroke="#232323" stroke-width="0.45"/><line x1="295.59" y1="387.8" x2="295.59" y2="400.7" stroke="#a6a6a6" stroke-width="0.48"/><line x1="295.97" y1="387.8" x2="295.97" y2="400.7" stroke="#3c3c3c" stroke-width="0.38"/><line x1="296.26" y1="387.8" x2="296.26" y2="400.7" stroke="#444444" stroke-width="0.6"/><line x1="297.53" y1="387.8" x2="297.53" y2="400.7" stroke="#1d1d1d" stroke-width="0.48"/><line x1="297.95" y1="387.8" x2="297.95" y2="400.7" stroke="#3c3c3c" stroke-width="0.42"/><line x1="298.02" y1="387.8" x2="298.02" y2="400.7" stroke="#8a8a8a" stroke-width="0.78"/><line x1="298.12" y1="387.8" x2="298.12" y2="400.7" stroke="#9b9b9b" stroke-width="0.55"/><line x1="298.82" y1="387.8" x2="298.82" y2="400.7" stroke="#212121" stroke-width="0.51"/><line x1="299.21" y1="387.8" x2="299.21" y2="400.7" stroke="#636363" stroke-width="0.52"/><line x1="300.02" y1="387.8" x2="300.02" y2="400.7" stroke="#818181" stroke-width="0.68"/><line x1="300.06" y1="387.8" x2="300.06" y2="400.7" stroke="#999999" stroke-width="0.56"/><line x1="301.12" y1="387.8" x2="301.12" y2="400.7" stroke="#3a3a3a" stroke-width="0.76"/><line x1="301.51" y1="387.8" x2="301.51" y2="400.7" stroke="#979797" stroke-width="0.41"/><line x1="301.71" y1="387.8" x2="301.71" y2="400.7" stroke="#363636" stroke-width="0.65"/><line x1="301.85" y1="387.8" x2="301.85" y2="400.7" stroke="#8e8e8e" stroke-width="0.78"/><line x1="302.86" y1="387.8" x2="302.86" y2="400.7" stroke="#1b1b1b" stroke-width="0.44"/><line x1="303.71" y1="387.8" x2="303.71" y2="400.7" stroke="#545454" stroke-width="0.6"/><line x1="304.19" y1="387.8" x2="304.19" y2="400.7" stroke="#888888" stroke-width="0.6"/><line x1="304.58" y1="387.8" x2="304.58" y2="400.7" stroke="#626262" stroke-width="0.46"/><line x1="304.99" y1="387.8" x2="304.99" y2="400.7" stroke="#757575" stroke-width="0.61"/><line x1="306.3" y1="387.8" x2="306.3" y2="400.7" stroke="#a0a0a0" stroke-width="0.44"/><line x1="306.78" y1="387.8" x2="306.78" y2="400.7" stroke="#292929" stroke-width="0.51"/><line x1="307.42" y1="387.8" x2="307.42" y2="400.7" stroke="#464646" stroke-width="0.55"/><line x1="307.46" y1="387.8" x2="307.46" y2="400.7" stroke="#303030" stroke-width="0.67"/><line x1="312.58" y1="387.8" x2="312.58" y2="400.7" stroke="#8e8e8e" stroke-width="0.35"/><line x1="313.43" y1="387.8" x2="313.43" y2="400.7" stroke="#9b9b9b" stroke-width="0.39"/><line x1="313.78" y1="387.8" x2="313.78" y2="400.7" stroke="#444444" stroke-width="0.57"/><line x1="314.05" y1="387.8" x2="314.05" y2="400.7" stroke="#555555" stroke-width="0.45"/><line x1="314.83" y1="387.8" x2="314.83" y2="400.7" stroke="#818181" stroke-width="0.73"/><line x1="315.89" y1="387.8" x2="315.89" y2="400.7" stroke="#383838" stroke-width="0.42"/><line x1="315.98" y1="387.8" x2="315.98" y2="400.7" stroke="#626262" stroke-width="0.42"/><line x1="318.47" y1="387.8" x2="318.47" y2="400.7" stroke="#9f9f9f" stroke-width="0.73"/><line x1="319.75" y1="387.8" x2="319.75" y2="400.7" stroke="#909090" stroke-width="0.54"/><line x1="320.18" y1="387.8" x2="320.18" y2="400.7" stroke="#898989" stroke-width="0.53"/><line x1="321.41" y1="387.8" x2="321.41" y2="400.7" stroke="#595959" stroke-width="0.4"/><line x1="321.62" y1="387.8" x2="321.62" y2="400.7" stroke="#1d1d1d" stroke-width="0.65"/><line x1="322.35" y1="387.8" x2="322.35" y2="400.7" stroke="#333333" stroke-width="0.78"/><line x1="323.88" y1="387.8" x2="323.88" y2="400.7" stroke="#696969" stroke-width="0.61"/><line x1="328.23" y1="387.8" x2="328.23" y2="400.7" stroke="#989898" stroke-width="0.48"/><line x1="329.38" y1="387.8" x2="329.38" y2="400.7" stroke="#191919" stroke-width="0.45"/><line x1="329.74" y1="387.8" x2="329.74" y2="400.7" stroke="#595959" stroke-width="0.42"/><line x1="330.28" y1="387.8" x2="330.28" y2="400.7" stroke="#404040" stroke-width="0.68"/><line x1="333.85" y1="387.8" x2="333.85" y2="400.7" stroke="#4e4e4e" stroke-width="0.5"/><line x1="338.45" y1="387.8" x2="338.45" y2="400.7" stroke="#393939" stroke-width="0.59"/><line x1="341.69" y1="387.8" x2="341.69" y2="400.7" stroke="#a7a7a7" stroke-width="0.43"/><line x1="342.94" y1="387.8" x2="342.94" y2="400.7" stroke="#919191" stroke-width="0.7"/><line x1="344.89" y1="387.8" x2="344.89" y2="400.7" stroke="#6e6e6e" stroke-width="0.59"/><line x1="349.8" y1="387.8" x2="349.8" y2="400.7" stroke="#626262" stroke-width="0.4"/><line x1="351.99" y1="387.8" x2="351.99" y2="400.7" stroke="#696969" stroke-width="0.8"/><line x1="353.05" y1="387.8" x2="353.05" y2="400.7" stroke="#808080" stroke-width="0.56"/><line x1="353.32" y1="387.8" x2="353.32" y2="400.7" stroke="#575757" stroke-width="0.74"/><line x1="354.63" y1="387.8" x2="354.63" y2="400.7" stroke="#181818" stroke-width="0.44"/><line x1="355.56" y1="387.8" x2="355.56" y2="400.7" stroke="#a1a1a1" stroke-width="0.64"/><line x1="355.85" y1="387.8" x2="355.85" y2="400.7" stroke="#8f8f8f" stroke-width="0.59"/><line x1="357.01" y1="387.8" x2="357.01" y2="400.7" stroke="#1d1d1d" stroke-width="0.59"/><line x1="357.66" y1="387.8" x2="357.66" y2="400.7" stroke="#727272" stroke-width="0.39"/><line x1="358.26" y1="387.8" x2="358.26" y2="400.7" stroke="#5d5d5d" stroke-width="0.77"/><line x1="361.97" y1="387.8" x2="361.97" y2="400.7" stroke="#202020" stroke-width="0.37"/><line x1="362.2" y1="387.8" x2="362.2" y2="400.7" stroke="#262626" stroke-width="0.66"/><line x1="364.56" y1="387.8" x2="364.56" y2="400.7" stroke="#989898" stroke-width="0.42"/><line x1="365.78" y1="387.8" x2="365.78" y2="400.7" stroke="#919191" stroke-width="0.45"/><line x1="366.12" y1="387.8" x2="366.12" y2="400.7" stroke="#656565" stroke-width="0.69"/><line x1="369.23" y1="387.8" x2="369.23" y2="400.7" stroke="#282828" stroke-width="0.56"/><line x1="375.3" y1="387.8" x2="375.3" y2="400.7" stroke="#949494" stroke-width="0.51"/><defs><linearGradient id="gG" x1="0" x2="1" y1="0" y2="0"><stop offset="0" stop-color="#cc3838"/><stop offset="0.28" stop-color="#d4606a"/><stop offset="0.36" stop-color="#e2a2c8"/><stop offset="0.5" stop-color="#d2ccf2"/><stop offset="0.62" stop-color="#b4b4f0"/><stop offset="0.74" stop-color="#8484e8"/><stop offset="0.86" stop-color="#5050e0"/><stop offset="0.95" stop-color="#2020d0"/><stop offset="1" stop-color="#1010b0"/></linearGradient></defs><rect x="287" y="400.8" width="89.5" height="3" fill="url(#gG)"/><line x1="286.4" y1="404.8" x2="381.4" y2="404.8" stroke="#9a9a9a" stroke-width="0.4"/><line x1="295.44" y1="405" x2="295.44" y2="430.4" stroke="#e8e8e8" stroke-width="0.4"/><line x1="303.89" y1="405" x2="303.89" y2="430.4" stroke="#e8e8e8" stroke-width="0.4"/><line x1="312.33" y1="405" x2="312.33" y2="430.4" stroke="#e8e8e8" stroke-width="0.4"/><line x1="320.77" y1="405" x2="320.77" y2="430.4" stroke="#e8e8e8" stroke-width="0.4"/><line x1="329.22" y1="405" x2="329.22" y2="430.4" stroke="#e8e8e8" stroke-width="0.4"/><line x1="337.66" y1="405" x2="337.66" y2="430.4" stroke="#e8e8e8" stroke-width="0.4"/><line x1="346.1" y1="405" x2="346.1" y2="430.4" stroke="#e8e8e8" stroke-width="0.4"/><line x1="354.55" y1="405" x2="354.55" y2="430.4" stroke="#e8e8e8" stroke-width="0.4"/><line x1="362.99" y1="405" x2="362.99" y2="430.4" stroke="#e8e8e8" stroke-width="0.4"/><line x1="371.43" y1="405" x2="371.43" y2="430.4" stroke="#e8e8e8" stroke-width="0.4"/><path d="M287.0 417.0L287.00 404.80L287.56 404.80L288.13 404.80L288.69 405.18L289.25 406.39L289.81 407.40L290.38 408.23L290.94 408.92L291.50 409.50L292.07 409.99L292.63 410.40L293.19 410.75L293.75 411.05L294.32 411.31L294.88 411.53L295.44 411.73L296.01 411.90L296.57 412.06L297.13 412.20L297.69 412.33L298.26 412.44L298.82 412.55L299.38 412.65L299.95 412.74L300.51 412.83L301.07 412.92L301.64 413.00L302.20 413.08L302.76 413.15L303.32 413.22L303.89 413.29L304.45 413.36L305.01 413.42L305.58 413.48L306.14 413.55L306.70 413.61L307.26 413.67L307.83 413.72L308.39 413.78L308.95 413.84L309.52 413.89L310.08 413.94L310.64 413.99L311.20 414.05L311.77 414.10L312.33 414.15L312.89 414.19L313.46 414.24L314.02 414.29L314.58 414.33L315.14 414.38L315.71 414.42L316.27 414.47L316.83 414.51L317.40 414.55L317.96 414.60L318.52 414.64L319.08 414.68L319.65 414.72L320.21 414.76L320.77 414.80L321.34 414.84L321.90 414.87L322.46 414.91L323.03 414.95L323.59 414.98L324.15 415.02L324.71 415.05L325.28 415.09L325.84 415.12L326.40 415.16L326.97 415.19L327.53 415.22L328.09 415.26L328.65 415.29L329.22 415.32L329.78 415.35L330.34 415.38L330.91 415.41L331.47 415.44L332.03 415.47L332.59 415.50L333.16 415.53L333.72 415.56L334.28 415.59L334.85 415.62L335.41 415.65L335.97 415.67L336.53 415.70L337.10 415.73L337.66 415.76L338.22 415.78L338.79 415.81L339.35 415.84L339.91 415.86L340.47 415.89L341.04 415.91L341.60 415.94L342.16 415.96L342.73 415.99L343.29 416.01L343.85 416.04L344.42 416.06L344.98 416.09L345.54 416.11L346.10 416.13L346.67 416.16L347.23 416.18L347.79 416.21L348.36 416.23L348.92 416.25L349.48 416.28L350.04 416.30L350.61 416.32L351.17 416.35L351.73 416.37L352.30 416.39L352.86 416.42L353.42 416.44L353.98 416.46L354.55 416.49L355.11 416.51L355.67 416.53L356.24 416.56L356.80 416.58L357.36 416.61L357.92 416.63L358.49 416.66L359.05 416.68L359.61 416.71L360.18 416.74L360.74 416.77L361.30 416.80L361.86 416.83L362.43 416.86L362.99 416.90L363.55 416.93L364.12 416.97L364.68 417.01L365.24 417.05L365.81 417.10L366.37 417.15L366.93 417.21L367.49 417.26L368.06 417.33L368.62 417.40L369.18 417.48L369.75 417.57L370.31 417.68L370.87 417.80L371.43 417.95L372.00 418.13L372.56 418.36L373.12 418.68L373.69 419.12L374.25 419.77L374.81 420.75L375.37 422.29L375.94 424.74L376.50 428.73L376.5 417.0Z" fill="#bdbdbd"/><line x1="287" y1="417" x2="376.5" y2="417" stroke="#9e9e9e" stroke-width="0.4"/><text x="326.3" y="417.6" font-size="2.6" fill="#666" stroke="#666" stroke-width="0.07" textLength="17.5" lengthAdjust="spacingAndGlyphs">Zero cross at 5378</text><text x="290" y="408.2" font-size="4.9" fill="#222" stroke="#222" stroke-width="0.14" textLength="48" lengthAdjust="spacingAndGlyphs">OBF1KO splenic B cells</text><text x="338.1" y="427.8" font-size="4.9" fill="#222" stroke="#222" stroke-width="0.14" textLength="35.7" lengthAdjust="spacingAndGlyphs">WT splenic B cells</text><text x="282.6" y="407.6" font-size="3.4" text-anchor="middle" fill="#333" stroke="#333" stroke-width="0.1" transform="rotate(-90 282.6 407.6)">4</text><text x="282.6" y="412.1" font-size="3.4" text-anchor="middle" fill="#333" stroke="#333" stroke-width="0.1" transform="rotate(-90 282.6 412.1)">2</text><text x="282.6" y="416.6" font-size="3.4" text-anchor="middle" fill="#333" stroke="#333" stroke-width="0.1" transform="rotate(-90 282.6 416.6)">0</text><text x="282.6" y="421.1" font-size="3.4" text-anchor="middle" fill="#333" stroke="#333" stroke-width="0.1" transform="rotate(-90 282.6 421.1)">-2</text><text x="282.6" y="425.6" font-size="3.4" text-anchor="middle" fill="#333" stroke="#333" stroke-width="0.1" transform="rotate(-90 282.6 425.6)">-4</text><text x="266.9" y="437" font-size="6" fill="#333" stroke="#333" stroke-width="0.17" textLength="42" lengthAdjust="spacingAndGlyphs" transform="rotate(-90 266.9 437)">Ranked list metric</text><text x="274.6" y="434.5" font-size="6" fill="#333" stroke="#333" stroke-width="0.17" textLength="36" lengthAdjust="spacingAndGlyphs" transform="rotate(-90 274.6 434.5)">(Signal2Noise)</text><line x1="286.4" y1="430.4" x2="381.4" y2="430.4" stroke="#bdbdbd" stroke-width="0.5"/><text x="287.6" y="434.6" font-size="2.6" text-anchor="middle" fill="#555" stroke="#555" stroke-width="0.07">0</text><text x="295.44" y="434.6" font-size="2.6" text-anchor="middle" fill="#555" stroke="#555" stroke-width="0.07">1,000</text><text x="303.89" y="434.6" font-size="2.6" text-anchor="middle" fill="#555" stroke="#555" stroke-width="0.07">2,000</text><text x="312.33" y="434.6" font-size="2.6" text-anchor="middle" fill="#555" stroke="#555" stroke-width="0.07">3,000</text><text x="320.77" y="434.6" font-size="2.6" text-anchor="middle" fill="#555" stroke="#555" stroke-width="0.07">4,000</text><text x="329.22" y="434.6" font-size="2.6" text-anchor="middle" fill="#555" stroke="#555" stroke-width="0.07">5,000</text><text x="337.66" y="434.6" font-size="2.6" text-anchor="middle" fill="#555" stroke="#555" stroke-width="0.07">6,000</text><text x="346.1" y="434.6" font-size="2.6" text-anchor="middle" fill="#555" stroke="#555" stroke-width="0.07">7,000</text><text x="354.55" y="434.6" font-size="2.6" text-anchor="middle" fill="#555" stroke="#555" stroke-width="0.07">8,000</text><text x="362.99" y="434.6" font-size="2.6" text-anchor="middle" fill="#555" stroke="#555" stroke-width="0.07">9,000</text><text x="371.43" y="434.6" font-size="2.6" text-anchor="middle" fill="#555" stroke="#555" stroke-width="0.07">10,000</text><text x="331.5" y="437.9" font-size="3" text-anchor="middle" fill="#444" stroke="#444" stroke-width="0.08">Rank in ordered dataset</text><rect x="291.7" y="439.8" width="73.6" height="4.3" fill="#fff" stroke="#555" stroke-width="0.45"/><line x1="293" y1="442" x2="295.5" y2="442" stroke="#7be43c" stroke-width="0.6"/><text x="296.5" y="442.8" font-size="2.3" fill="#555" stroke="#555" stroke-width="0.06">Enrichment profile</text><line x1="315" y1="442" x2="317.5" y2="442" stroke="#888" stroke-width="0.6"/><text x="318.5" y="442.8" font-size="2.3" fill="#555" stroke="#555" stroke-width="0.06">Hits</text><line x1="333.5" y1="442" x2="336" y2="442" stroke="#bbb" stroke-width="0.6"/><text x="337" y="442.8" font-size="2.3" fill="#555" stroke="#555" stroke-width="0.06">Ranking metric scores</text><rect x="19.4" y="493" width="7.87" height="2.46" fill="#f4ba74"/><rect x="27.22" y="493" width="7.87" height="2.46" fill="#f6cb81"/><rect x="35.04" y="493" width="7.87" height="2.46" fill="#f4bf78"/><rect x="42.86" y="493" width="7.87" height="2.46" fill="#afcae5"/><rect x="50.68" y="493" width="7.87" height="2.46" fill="#c2d9ec"/><rect x="58.5" y="493" width="7.87" height="2.46" fill="#a9c6e3"/><rect x="19.4" y="495.41" width="7.87" height="2.46" fill="#f4bf78"/><rect x="27.22" y="495.41" width="7.87" height="2.46" fill="#f6cb81"/><rect x="35.04" y="495.41" width="7.87" height="2.46" fill="#f4ba74"/><rect x="42.86" y="495.41" width="7.87" height="2.46" fill="#afcae5"/><rect x="50.68" y="495.41" width="7.87" height="2.46" fill="#c9ddee"/><rect x="58.5" y="495.41" width="7.87" height="2.46" fill="#a9c6e3"/><rect x="19.4" y="497.83" width="7.87" height="2.46" fill="#f4ba74"/><rect x="27.22" y="497.83" width="7.87" height="2.46" fill="#f4bf78"/><rect x="35.04" y="497.83" width="7.87" height="2.46" fill="#f1a866"/><rect x="42.86" y="497.83" width="7.87" height="2.46" fill="#afcae5"/><rect x="50.68" y="497.83" width="7.87" height="2.46" fill="#c2d9ec"/><rect x="58.5" y="497.83" width="7.87" height="2.46" fill="#b5cfe7"/><rect x="19.4" y="500.24" width="7.87" height="2.46" fill="#f8d990"/><rect x="27.22" y="500.24" width="7.87" height="2.46" fill="#e17649"/><rect x="35.04" y="500.24" width="7.87" height="2.46" fill="#f8d68a"/><rect x="42.86" y="500.24" width="7.87" height="2.46" fill="#b5cfe7"/><rect x="50.68" y="500.24" width="7.87" height="2.46" fill="#9cbcde"/><rect x="58.5" y="500.24" width="7.87" height="2.46" fill="#dce9e3"/><rect x="19.4" y="502.66" width="7.87" height="2.46" fill="#f8d68a"/><rect x="27.22" y="502.66" width="7.87" height="2.46" fill="#e88953"/><rect x="35.04" y="502.66" width="7.87" height="2.46" fill="#f8d990"/><rect x="42.86" y="502.66" width="7.87" height="2.46" fill="#b5cfe7"/><rect x="50.68" y="502.66" width="7.87" height="2.46" fill="#9cbcde"/><rect x="58.5" y="502.66" width="7.87" height="2.46" fill="#dce9e3"/><rect x="19.4" y="505.07" width="7.87" height="2.46" fill="#f7d086"/><rect x="27.22" y="505.07" width="7.87" height="2.46" fill="#f0a362"/><rect x="35.04" y="505.07" width="7.87" height="2.46" fill="#f8d68a"/><rect x="42.86" y="505.07" width="7.87" height="2.46" fill="#b5cfe7"/><rect x="50.68" y="505.07" width="7.87" height="2.46" fill="#a2c1e1"/><rect x="58.5" y="505.07" width="7.87" height="2.46" fill="#d8e6e8"/><rect x="19.4" y="507.48" width="7.87" height="2.46" fill="#e5804e"/><rect x="27.22" y="507.48" width="7.87" height="2.46" fill="#f8d990"/><rect x="35.04" y="507.48" width="7.87" height="2.46" fill="#f7d086"/><rect x="42.86" y="507.48" width="7.87" height="2.46" fill="#bcd4e9"/><rect x="50.68" y="507.48" width="7.87" height="2.46" fill="#c2d9ec"/><rect x="58.5" y="507.48" width="7.87" height="2.46" fill="#b5cfe7"/><rect x="19.4" y="509.9" width="7.87" height="2.46" fill="#f4ba74"/><rect x="27.22" y="509.9" width="7.87" height="2.46" fill="#f2ae6a"/><rect x="35.04" y="509.9" width="7.87" height="2.46" fill="#f6cb81"/><rect x="42.86" y="509.9" width="7.87" height="2.46" fill="#b5cfe7"/><rect x="50.68" y="509.9" width="7.87" height="2.46" fill="#b5cfe7"/><rect x="58.5" y="509.9" width="7.87" height="2.46" fill="#bcd4e9"/><rect x="19.4" y="512.31" width="7.87" height="2.46" fill="#f4bf78"/><rect x="27.22" y="512.31" width="7.87" height="2.46" fill="#f5c57c"/><rect x="35.04" y="512.31" width="7.87" height="2.46" fill="#f4ba74"/><rect x="42.86" y="512.31" width="7.87" height="2.46" fill="#bcd4e9"/><rect x="50.68" y="512.31" width="7.87" height="2.46" fill="#b5cfe7"/><rect x="58.5" y="512.31" width="7.87" height="2.46" fill="#b5cfe7"/><rect x="19.4" y="514.73" width="7.87" height="2.46" fill="#f4bf78"/><rect x="27.22" y="514.73" width="7.87" height="2.46" fill="#f4bf78"/><rect x="35.04" y="514.73" width="7.87" height="2.46" fill="#f1a866"/><rect x="42.86" y="514.73" width="7.87" height="2.46" fill="#bcd4e9"/><rect x="50.68" y="514.73" width="7.87" height="2.46" fill="#b5cfe7"/><rect x="58.5" y="514.73" width="7.87" height="2.46" fill="#c2d9ec"/><rect x="19.4" y="517.14" width="7.87" height="2.46" fill="#f9dd96"/><rect x="27.22" y="517.14" width="7.87" height="2.46" fill="#f4bf78"/><rect x="35.04" y="517.14" width="7.87" height="2.46" fill="#ef9d5d"/><rect x="42.86" y="517.14" width="7.87" height="2.46" fill="#a2c1e1"/><rect x="50.68" y="517.14" width="7.87" height="2.46" fill="#c2d9ec"/><rect x="58.5" y="517.14" width="7.87" height="2.46" fill="#c9ddee"/><rect x="19.4" y="519.55" width="7.87" height="2.46" fill="#f5c57c"/><rect x="27.22" y="519.55" width="7.87" height="2.46" fill="#f4bf78"/><rect x="35.04" y="519.55" width="7.87" height="2.46" fill="#f6cb81"/><rect x="42.86" y="519.55" width="7.87" height="2.46" fill="#b5cfe7"/><rect x="50.68" y="519.55" width="7.87" height="2.46" fill="#bcd4e9"/><rect x="58.5" y="519.55" width="7.87" height="2.46" fill="#b5cfe7"/><rect x="19.4" y="521.97" width="7.87" height="2.46" fill="#f3b46f"/><rect x="27.22" y="521.97" width="7.87" height="2.46" fill="#f4ba74"/><rect x="35.04" y="521.97" width="7.87" height="2.46" fill="#f7d086"/><rect x="42.86" y="521.97" width="7.87" height="2.46" fill="#b5cfe7"/><rect x="50.68" y="521.97" width="7.87" height="2.46" fill="#e1ebdf"/><rect x="58.5" y="521.97" width="7.87" height="2.46" fill="#afcae5"/><rect x="19.4" y="524.38" width="7.87" height="2.46" fill="#db623f"/><rect x="27.22" y="524.38" width="7.87" height="2.46" fill="#e1ebdf"/><rect x="35.04" y="524.38" width="7.87" height="2.46" fill="#f8d68a"/><rect x="42.86" y="524.38" width="7.87" height="2.46" fill="#dce9e3"/><rect x="50.68" y="524.38" width="7.87" height="2.46" fill="#faf1ba"/><rect x="58.5" y="524.38" width="7.87" height="2.46" fill="#a2c1e1"/><rect x="19.4" y="526.79" width="7.87" height="2.46" fill="#f6cb81"/><rect x="27.22" y="526.79" width="7.87" height="2.46" fill="#f2ae6a"/><rect x="35.04" y="526.79" width="7.87" height="2.46" fill="#f8d68a"/><rect x="42.86" y="526.79" width="7.87" height="2.46" fill="#a9c6e3"/><rect x="50.68" y="526.79" width="7.87" height="2.46" fill="#dce9e3"/><rect x="58.5" y="526.79" width="7.87" height="2.46" fill="#b5cfe7"/><rect x="19.4" y="529.21" width="7.87" height="2.46" fill="#f8d68a"/><rect x="27.22" y="529.21" width="7.87" height="2.46" fill="#f3b46f"/><rect x="35.04" y="529.21" width="7.87" height="2.46" fill="#f7d086"/><rect x="42.86" y="529.21" width="7.87" height="2.46" fill="#b5cfe7"/><rect x="50.68" y="529.21" width="7.87" height="2.46" fill="#a2c1e1"/><rect x="58.5" y="529.21" width="7.87" height="2.46" fill="#d3e4ec"/><rect x="19.4" y="531.62" width="7.87" height="2.46" fill="#f1a866"/><rect x="27.22" y="531.62" width="7.87" height="2.46" fill="#f5c57c"/><rect x="35.04" y="531.62" width="7.87" height="2.46" fill="#f7d086"/><rect x="42.86" y="531.62" width="7.87" height="2.46" fill="#bcd4e9"/><rect x="50.68" y="531.62" width="7.87" height="2.46" fill="#b5cfe7"/><rect x="58.5" y="531.62" width="7.87" height="2.46" fill="#b5cfe7"/><rect x="19.4" y="534.04" width="7.87" height="2.46" fill="#f6cb81"/><rect x="27.22" y="534.04" width="7.87" height="2.46" fill="#f2ae6a"/><rect x="35.04" y="534.04" width="7.87" height="2.46" fill="#f7d086"/><rect x="42.86" y="534.04" width="7.87" height="2.46" fill="#b5cfe7"/><rect x="50.68" y="534.04" width="7.87" height="2.46" fill="#afcae5"/><rect x="58.5" y="534.04" width="7.87" height="2.46" fill="#afcae5"/><rect x="19.4" y="536.45" width="7.87" height="2.46" fill="#f0a362"/><rect x="27.22" y="536.45" width="7.87" height="2.46" fill="#faeaae"/><rect x="35.04" y="536.45" width="7.87" height="2.46" fill="#f7d086"/><rect x="42.86" y="536.45" width="7.87" height="2.46" fill="#a2c1e1"/><rect x="50.68" y="536.45" width="7.87" height="2.46" fill="#faeeb4"/><rect x="58.5" y="536.45" width="7.87" height="2.46" fill="#a2c1e1"/><rect x="19.4" y="538.86" width="7.87" height="2.46" fill="#f0a362"/><rect x="27.22" y="538.86" width="7.87" height="2.46" fill="#f8d990"/><rect x="35.04" y="538.86" width="7.87" height="2.46" fill="#f7d086"/><rect x="42.86" y="538.86" width="7.87" height="2.46" fill="#b5cfe7"/><rect x="50.68" y="538.86" width="7.87" height="2.46" fill="#b5cfe7"/><rect x="58.5" y="538.86" width="7.87" height="2.46" fill="#afcae5"/><rect x="19.4" y="541.28" width="7.87" height="2.46" fill="#f4bf78"/><rect x="27.22" y="541.28" width="7.87" height="2.46" fill="#f1a866"/><rect x="35.04" y="541.28" width="7.87" height="2.46" fill="#f6cb81"/><rect x="42.86" y="541.28" width="7.87" height="2.46" fill="#bcd4e9"/><rect x="50.68" y="541.28" width="7.87" height="2.46" fill="#afcae5"/><rect x="58.5" y="541.28" width="7.87" height="2.46" fill="#c2d9ec"/><rect x="19.4" y="543.69" width="7.87" height="2.46" fill="#ec9358"/><rect x="27.22" y="543.69" width="7.87" height="2.46" fill="#e1ebdf"/><rect x="35.04" y="543.69" width="7.87" height="2.46" fill="#ef9d5d"/><rect x="42.86" y="543.69" width="7.87" height="2.46" fill="#d3e4ec"/><rect x="50.68" y="543.69" width="7.87" height="2.46" fill="#fbf5c0"/><rect x="58.5" y="543.69" width="7.87" height="2.46" fill="#b5cfe7"/><rect x="19.4" y="546.11" width="7.87" height="2.46" fill="#f6cb81"/><rect x="27.22" y="546.11" width="7.87" height="2.46" fill="#f4ba74"/><rect x="35.04" y="546.11" width="7.87" height="2.46" fill="#f6cb81"/><rect x="42.86" y="546.11" width="7.87" height="2.46" fill="#b5cfe7"/><rect x="50.68" y="546.11" width="7.87" height="2.46" fill="#b5cfe7"/><rect x="58.5" y="546.11" width="7.87" height="2.46" fill="#c2d9ec"/><rect x="19.4" y="548.52" width="7.87" height="2.46" fill="#f7d086"/><rect x="27.22" y="548.52" width="7.87" height="2.46" fill="#f3b46f"/><rect x="35.04" y="548.52" width="7.87" height="2.46" fill="#f8d990"/><rect x="42.86" y="548.52" width="7.87" height="2.46" fill="#b5cfe7"/><rect x="50.68" y="548.52" width="7.87" height="2.46" fill="#a2c1e1"/><rect x="58.5" y="548.52" width="7.87" height="2.46" fill="#c9ddee"/><rect x="19.4" y="550.93" width="7.87" height="2.46" fill="#f4bf78"/><rect x="27.22" y="550.93" width="7.87" height="2.46" fill="#f8d68a"/><rect x="35.04" y="550.93" width="7.87" height="2.46" fill="#f3b46f"/><rect x="42.86" y="550.93" width="7.87" height="2.46" fill="#d3e4ec"/><rect x="50.68" y="550.93" width="7.87" height="2.46" fill="#a9c6e3"/><rect x="58.5" y="550.93" width="7.87" height="2.46" fill="#afcae5"/><rect x="19.4" y="553.35" width="7.87" height="2.46" fill="#f9dd96"/><rect x="27.22" y="553.35" width="7.87" height="2.46" fill="#ec9358"/><rect x="35.04" y="553.35" width="7.87" height="2.46" fill="#f8d68a"/><rect x="42.86" y="553.35" width="7.87" height="2.46" fill="#b5cfe7"/><rect x="50.68" y="553.35" width="7.87" height="2.46" fill="#a9c6e3"/><rect x="58.5" y="553.35" width="7.87" height="2.46" fill="#e9efd7"/><rect x="19.4" y="555.76" width="7.87" height="2.46" fill="#f5c57c"/><rect x="27.22" y="555.76" width="7.87" height="2.46" fill="#f6cb81"/><rect x="35.04" y="555.76" width="7.87" height="2.46" fill="#f4ba74"/><rect x="42.86" y="555.76" width="7.87" height="2.46" fill="#b5cfe7"/><rect x="50.68" y="555.76" width="7.87" height="2.46" fill="#a9c6e3"/><rect x="58.5" y="555.76" width="7.87" height="2.46" fill="#e1ebdf"/><rect x="19.4" y="558.17" width="7.87" height="2.46" fill="#f8d68a"/><rect x="27.22" y="558.17" width="7.87" height="2.46" fill="#f1a866"/><rect x="35.04" y="558.17" width="7.87" height="2.46" fill="#f4ba74"/><rect x="42.86" y="558.17" width="7.87" height="2.46" fill="#b5cfe7"/><rect x="50.68" y="558.17" width="7.87" height="2.46" fill="#a9c6e3"/><rect x="58.5" y="558.17" width="7.87" height="2.46" fill="#dce9e3"/><rect x="19.4" y="560.59" width="7.87" height="2.46" fill="#f4ba74"/><rect x="27.22" y="560.59" width="7.87" height="2.46" fill="#f7d086"/><rect x="35.04" y="560.59" width="7.87" height="2.46" fill="#f2ae6a"/><rect x="42.86" y="560.59" width="7.87" height="2.46" fill="#c2d9ec"/><rect x="50.68" y="560.59" width="7.87" height="2.46" fill="#c9ddee"/><rect x="58.5" y="560.59" width="7.87" height="2.46" fill="#a9c6e3"/><rect x="19.4" y="563" width="7.87" height="2.46" fill="#f6cb81"/><rect x="27.22" y="563" width="7.87" height="2.46" fill="#f8d68a"/><rect x="35.04" y="563" width="7.87" height="2.46" fill="#ec9358"/><rect x="42.86" y="563" width="7.87" height="2.46" fill="#a2c1e1"/><rect x="50.68" y="563" width="7.87" height="2.46" fill="#faf1ba"/><rect x="58.5" y="563" width="7.87" height="2.46" fill="#a2c1e1"/><rect x="19.4" y="565.42" width="7.87" height="2.46" fill="#f6cb81"/><rect x="27.22" y="565.42" width="7.87" height="2.46" fill="#d8e6e8"/><rect x="35.04" y="565.42" width="7.87" height="2.46" fill="#e88953"/><rect x="42.86" y="565.42" width="7.87" height="2.46" fill="#f2f4ce"/><rect x="50.68" y="565.42" width="7.87" height="2.46" fill="#b5cfe7"/><rect x="58.5" y="565.42" width="7.87" height="2.46" fill="#c2d9ec"/><rect x="19.4" y="567.83" width="7.87" height="2.46" fill="#faf1ba"/><rect x="27.22" y="567.83" width="7.87" height="2.46" fill="#e17649"/><rect x="35.04" y="567.83" width="7.87" height="2.46" fill="#f8d68a"/><rect x="42.86" y="567.83" width="7.87" height="2.46" fill="#dce9e3"/><rect x="50.68" y="567.83" width="7.87" height="2.46" fill="#a2c1e1"/><rect x="58.5" y="567.83" width="7.87" height="2.46" fill="#d8e6e8"/><rect x="19.4" y="570.24" width="7.87" height="2.46" fill="#f4ba74"/><rect x="27.22" y="570.24" width="7.87" height="2.46" fill="#f4bf78"/><rect x="35.04" y="570.24" width="7.87" height="2.46" fill="#f7d086"/><rect x="42.86" y="570.24" width="7.87" height="2.46" fill="#b5cfe7"/><rect x="50.68" y="570.24" width="7.87" height="2.46" fill="#9cbcde"/><rect x="58.5" y="570.24" width="7.87" height="2.46" fill="#e1ebdf"/><rect x="19.4" y="572.66" width="7.87" height="2.46" fill="#f7d086"/><rect x="27.22" y="572.66" width="7.87" height="2.46" fill="#f3b46f"/><rect x="35.04" y="572.66" width="7.87" height="2.46" fill="#f6cb81"/><rect x="42.86" y="572.66" width="7.87" height="2.46" fill="#b5cfe7"/><rect x="50.68" y="572.66" width="7.87" height="2.46" fill="#c2d9ec"/><rect x="58.5" y="572.66" width="7.87" height="2.46" fill="#bcd4e9"/><rect x="19.4" y="575.07" width="7.87" height="2.46" fill="#f4bf78"/><rect x="27.22" y="575.07" width="7.87" height="2.46" fill="#f4ba74"/><rect x="35.04" y="575.07" width="7.87" height="2.46" fill="#f7d086"/><rect x="42.86" y="575.07" width="7.87" height="2.46" fill="#c2d9ec"/><rect x="50.68" y="575.07" width="7.87" height="2.46" fill="#c2d9ec"/><rect x="58.5" y="575.07" width="7.87" height="2.46" fill="#bcd4e9"/><rect x="19.4" y="577.49" width="7.87" height="2.46" fill="#faeaae"/><rect x="27.22" y="577.49" width="7.87" height="2.46" fill="#e17649"/><rect x="35.04" y="577.49" width="7.87" height="2.46" fill="#f6cb81"/><rect x="42.86" y="577.49" width="7.87" height="2.46" fill="#d3e4ec"/><rect x="50.68" y="577.49" width="7.87" height="2.46" fill="#bcd4e9"/><rect x="58.5" y="577.49" width="7.87" height="2.46" fill="#c2d9ec"/><rect x="19.4" y="579.9" width="7.87" height="2.46" fill="#fbf5c0"/><rect x="27.22" y="579.9" width="7.87" height="2.46" fill="#f3b46f"/><rect x="35.04" y="579.9" width="7.87" height="2.46" fill="#ef9d5d"/><rect x="42.86" y="579.9" width="7.87" height="2.46" fill="#c9ddee"/><rect x="50.68" y="579.9" width="7.87" height="2.46" fill="#e1ebdf"/><rect x="58.5" y="579.9" width="7.87" height="2.46" fill="#c2d9ec"/><rect x="19.4" y="582.31" width="7.87" height="2.46" fill="#f1a866"/><rect x="27.22" y="582.31" width="7.87" height="2.46" fill="#f9e4a2"/><rect x="35.04" y="582.31" width="7.87" height="2.46" fill="#dce9e3"/><rect x="42.86" y="582.31" width="7.87" height="2.46" fill="#95b8dc"/><rect x="50.68" y="582.31" width="7.87" height="2.46" fill="#e1ebdf"/><rect x="58.5" y="582.31" width="7.87" height="2.46" fill="#f2ae6a"/><rect x="19.4" y="584.73" width="7.87" height="2.46" fill="#dce9e3"/><rect x="27.22" y="584.73" width="7.87" height="2.46" fill="#f8d990"/><rect x="35.04" y="584.73" width="7.87" height="2.46" fill="#db623f"/><rect x="42.86" y="584.73" width="7.87" height="2.46" fill="#e1ebdf"/><rect x="50.68" y="584.73" width="7.87" height="2.46" fill="#e1ebdf"/><rect x="58.5" y="584.73" width="7.87" height="2.46" fill="#e5eddb"/><rect x="19.4" y="587.14" width="7.87" height="2.46" fill="#f9dd96"/><rect x="27.22" y="587.14" width="7.87" height="2.46" fill="#a9c6e3"/><rect x="35.04" y="587.14" width="7.87" height="2.46" fill="#f9e4a2"/><rect x="42.86" y="587.14" width="7.87" height="2.46" fill="#9cbcde"/><rect x="50.68" y="587.14" width="7.87" height="2.46" fill="#f9e09c"/><rect x="58.5" y="587.14" width="7.87" height="2.46" fill="#e17649"/><rect x="19.4" y="589.56" width="7.87" height="2.46" fill="#e9efd7"/><rect x="27.22" y="589.56" width="7.87" height="2.46" fill="#e1ebdf"/><rect x="35.04" y="589.56" width="7.87" height="2.46" fill="#f2f4ce"/><rect x="42.86" y="589.56" width="7.87" height="2.46" fill="#e9efd7"/><rect x="50.68" y="589.56" width="7.87" height="2.46" fill="#e9efd7"/><rect x="58.5" y="589.56" width="7.87" height="2.46" fill="#d04530"/><rect x="19.4" y="591.97" width="7.87" height="2.46" fill="#5d81be"/><rect x="27.22" y="591.97" width="7.87" height="2.46" fill="#f8d68a"/><rect x="35.04" y="591.97" width="7.87" height="2.46" fill="#f9e4a2"/><rect x="42.86" y="591.97" width="7.87" height="2.46" fill="#f8d990"/><rect x="50.68" y="591.97" width="7.87" height="2.46" fill="#f8d990"/><rect x="58.5" y="591.97" width="7.87" height="2.46" fill="#fbf8c6"/><rect x="19.4" y="594.38" width="7.87" height="2.46" fill="#f9e4a2"/><rect x="27.22" y="594.38" width="7.87" height="2.46" fill="#faeaae"/><rect x="35.04" y="594.38" width="7.87" height="2.46" fill="#fbf5c0"/><rect x="42.86" y="594.38" width="7.87" height="2.46" fill="#faeaae"/><rect x="50.68" y="594.38" width="7.87" height="2.46" fill="#6d91c7"/><rect x="58.5" y="594.38" width="7.87" height="2.46" fill="#e88953"/><rect x="19.4" y="596.8" width="7.87" height="2.46" fill="#9cbcde"/><rect x="27.22" y="596.8" width="7.87" height="2.46" fill="#b5cfe7"/><rect x="35.04" y="596.8" width="7.87" height="2.46" fill="#f9e09c"/><rect x="42.86" y="596.8" width="7.87" height="2.46" fill="#f1a866"/><rect x="50.68" y="596.8" width="7.87" height="2.46" fill="#f9dd96"/><rect x="58.5" y="596.8" width="7.87" height="2.46" fill="#f5c57c"/><rect x="19.4" y="599.21" width="7.87" height="2.46" fill="#e9efd7"/><rect x="27.22" y="599.21" width="7.87" height="2.46" fill="#afcae5"/><rect x="35.04" y="599.21" width="7.87" height="2.46" fill="#c2d9ec"/><rect x="42.86" y="599.21" width="7.87" height="2.46" fill="#f9e09c"/><rect x="50.68" y="599.21" width="7.87" height="2.46" fill="#f9e09c"/><rect x="58.5" y="599.21" width="7.87" height="2.46" fill="#db623f"/><rect x="19.4" y="601.62" width="7.87" height="2.46" fill="#b5cfe7"/><rect x="27.22" y="601.62" width="7.87" height="2.46" fill="#f9e4a2"/><rect x="35.04" y="601.62" width="7.87" height="2.46" fill="#f9e4a2"/><rect x="42.86" y="601.62" width="7.87" height="2.46" fill="#fbf5c0"/><rect x="50.68" y="601.62" width="7.87" height="2.46" fill="#e1ebdf"/><rect x="58.5" y="601.62" width="7.87" height="2.46" fill="#d44f35"/><rect x="19.4" y="604.04" width="7.87" height="2.46" fill="#e1ebdf"/><rect x="27.22" y="604.04" width="7.87" height="2.46" fill="#c2d9ec"/><rect x="35.04" y="604.04" width="7.87" height="2.46" fill="#b5cfe7"/><rect x="42.86" y="604.04" width="7.87" height="2.46" fill="#f9e09c"/><rect x="50.68" y="604.04" width="7.87" height="2.46" fill="#f1a866"/><rect x="58.5" y="604.04" width="7.87" height="2.46" fill="#f1a866"/><rect x="19.4" y="606.45" width="7.87" height="2.46" fill="#a2c1e1"/><rect x="27.22" y="606.45" width="7.87" height="2.46" fill="#e9efd7"/><rect x="35.04" y="606.45" width="7.87" height="2.46" fill="#e9efd7"/><rect x="42.86" y="606.45" width="7.87" height="2.46" fill="#f6cb81"/><rect x="50.68" y="606.45" width="7.87" height="2.46" fill="#fbf8c6"/><rect x="58.5" y="606.45" width="7.87" height="2.46" fill="#f2ae6a"/><rect x="19.4" y="608.87" width="7.87" height="2.46" fill="#e1ebdf"/><rect x="27.22" y="608.87" width="7.87" height="2.46" fill="#f2ae6a"/><rect x="35.04" y="608.87" width="7.87" height="2.46" fill="#6d91c7"/><rect x="42.86" y="608.87" width="7.87" height="2.46" fill="#faeaae"/><rect x="50.68" y="608.87" width="7.87" height="2.46" fill="#fae7a8"/><rect x="58.5" y="608.87" width="7.87" height="2.46" fill="#f6cb81"/><rect x="19.4" y="611.28" width="7.87" height="2.46" fill="#f9e09c"/><rect x="27.22" y="611.28" width="7.87" height="2.46" fill="#d8e6e8"/><rect x="35.04" y="611.28" width="7.87" height="2.46" fill="#a2c1e1"/><rect x="42.86" y="611.28" width="7.87" height="2.46" fill="#f9dd96"/><rect x="50.68" y="611.28" width="7.87" height="2.46" fill="#d7583a"/><rect x="58.5" y="611.28" width="7.87" height="2.46" fill="#d3e4ec"/><rect x="19.4" y="613.69" width="7.87" height="2.46" fill="#6d91c7"/><rect x="27.22" y="613.69" width="7.87" height="2.46" fill="#f8d990"/><rect x="35.04" y="613.69" width="7.87" height="2.46" fill="#afcae5"/><rect x="42.86" y="613.69" width="7.87" height="2.46" fill="#f9dd96"/><rect x="50.68" y="613.69" width="7.87" height="2.46" fill="#f5c57c"/><rect x="58.5" y="613.69" width="7.87" height="2.46" fill="#f9dd96"/><rect x="19.4" y="616.11" width="7.87" height="2.46" fill="#b5cfe7"/><rect x="27.22" y="616.11" width="7.87" height="2.46" fill="#a9c6e3"/><rect x="35.04" y="616.11" width="7.87" height="2.46" fill="#e1ebdf"/><rect x="42.86" y="616.11" width="7.87" height="2.46" fill="#f9e4a2"/><rect x="50.68" y="616.11" width="7.87" height="2.46" fill="#f6cb81"/><rect x="58.5" y="616.11" width="7.87" height="2.46" fill="#e88953"/><rect x="19.4" y="618.52" width="7.87" height="2.46" fill="#f3b46f"/><rect x="27.22" y="618.52" width="7.87" height="2.46" fill="#7ea2d1"/><rect x="35.04" y="618.52" width="7.87" height="2.46" fill="#e9efd7"/><rect x="42.86" y="618.52" width="7.87" height="2.46" fill="#f6cb81"/><rect x="50.68" y="618.52" width="7.87" height="2.46" fill="#f9dd96"/><rect x="58.5" y="618.52" width="7.87" height="2.46" fill="#e5eddb"/><rect x="19.4" y="620.94" width="7.87" height="2.46" fill="#5d81be"/><rect x="27.22" y="620.94" width="7.87" height="2.46" fill="#faeeb4"/><rect x="35.04" y="620.94" width="7.87" height="2.46" fill="#faf1ba"/><rect x="42.86" y="620.94" width="7.87" height="2.46" fill="#faf1ba"/><rect x="50.68" y="620.94" width="7.87" height="2.46" fill="#f9dd96"/><rect x="58.5" y="620.94" width="7.87" height="2.46" fill="#f1a866"/><rect x="19.4" y="623.35" width="7.87" height="2.46" fill="#b5cfe7"/><rect x="27.22" y="623.35" width="7.87" height="2.46" fill="#afcae5"/><rect x="35.04" y="623.35" width="7.87" height="2.46" fill="#e5eddb"/><rect x="42.86" y="623.35" width="7.87" height="2.46" fill="#f8d68a"/><rect x="50.68" y="623.35" width="7.87" height="2.46" fill="#e88953"/><rect x="58.5" y="623.35" width="7.87" height="2.46" fill="#f9e4a2"/><rect x="19.4" y="625.76" width="7.87" height="2.46" fill="#fae7a8"/><rect x="27.22" y="625.76" width="7.87" height="2.46" fill="#7ea2d1"/><rect x="35.04" y="625.76" width="7.87" height="2.46" fill="#e9efd7"/><rect x="42.86" y="625.76" width="7.87" height="2.46" fill="#f3b46f"/><rect x="50.68" y="625.76" width="7.87" height="2.46" fill="#f6cb81"/><rect x="58.5" y="625.76" width="7.87" height="2.46" fill="#f9e4a2"/><rect x="19.4" y="628.18" width="7.87" height="2.46" fill="#c2d9ec"/><rect x="27.22" y="628.18" width="7.87" height="2.46" fill="#c2d9ec"/><rect x="35.04" y="628.18" width="7.87" height="2.46" fill="#b5cfe7"/><rect x="42.86" y="628.18" width="7.87" height="2.46" fill="#f3b46f"/><rect x="50.68" y="628.18" width="7.87" height="2.46" fill="#f6cb81"/><rect x="58.5" y="628.18" width="7.87" height="2.46" fill="#f8d68a"/><rect x="19.4" y="630.59" width="7.87" height="2.46" fill="#c9ddee"/><rect x="27.22" y="630.59" width="7.87" height="2.46" fill="#c2d9ec"/><rect x="35.04" y="630.59" width="7.87" height="2.46" fill="#9cbcde"/><rect x="42.86" y="630.59" width="7.87" height="2.46" fill="#f3b46f"/><rect x="50.68" y="630.59" width="7.87" height="2.46" fill="#f9dd96"/><rect x="58.5" y="630.59" width="7.87" height="2.46" fill="#f3b46f"/><rect x="19.4" y="633.01" width="7.87" height="2.46" fill="#e1ebdf"/><rect x="27.22" y="633.01" width="7.87" height="2.46" fill="#8fb3da"/><rect x="35.04" y="633.01" width="7.87" height="2.46" fill="#e1ebdf"/><rect x="42.86" y="633.01" width="7.87" height="2.46" fill="#f9dd96"/><rect x="50.68" y="633.01" width="7.87" height="2.46" fill="#e17649"/><rect x="58.5" y="633.01" width="7.87" height="2.46" fill="#faeaae"/><rect x="19.4" y="635.42" width="7.87" height="2.46" fill="#7ea2d1"/><rect x="27.22" y="635.42" width="7.87" height="2.46" fill="#f9dd96"/><rect x="35.04" y="635.42" width="7.87" height="2.46" fill="#c2d9ec"/><rect x="42.86" y="635.42" width="7.87" height="2.46" fill="#f6cb81"/><rect x="50.68" y="635.42" width="7.87" height="2.46" fill="#faf1ba"/><rect x="58.5" y="635.42" width="7.87" height="2.46" fill="#f1a866"/><rect x="19.4" y="637.83" width="7.87" height="2.46" fill="#c2d9ec"/><rect x="27.22" y="637.83" width="7.87" height="2.46" fill="#c2d9ec"/><rect x="35.04" y="637.83" width="7.87" height="2.46" fill="#c2d9ec"/><rect x="42.86" y="637.83" width="7.87" height="2.46" fill="#f2ae6a"/><rect x="50.68" y="637.83" width="7.87" height="2.46" fill="#f6cb81"/><rect x="58.5" y="637.83" width="7.87" height="2.46" fill="#f6cb81"/><rect x="19.4" y="640.25" width="7.87" height="2.46" fill="#e5eddb"/><rect x="27.22" y="640.25" width="7.87" height="2.46" fill="#8fb3da"/><rect x="35.04" y="640.25" width="7.87" height="2.46" fill="#e9efd7"/><rect x="42.86" y="640.25" width="7.87" height="2.46" fill="#f1a866"/><rect x="50.68" y="640.25" width="7.87" height="2.46" fill="#f7d086"/><rect x="58.5" y="640.25" width="7.87" height="2.46" fill="#f7d086"/><rect x="19.4" y="642.66" width="7.87" height="2.46" fill="#e5eddb"/><rect x="27.22" y="642.66" width="7.87" height="2.46" fill="#8fb3da"/><rect x="35.04" y="642.66" width="7.87" height="2.46" fill="#e9efd7"/><rect x="42.86" y="642.66" width="7.87" height="2.46" fill="#f2ae6a"/><rect x="50.68" y="642.66" width="7.87" height="2.46" fill="#f8d68a"/><rect x="58.5" y="642.66" width="7.87" height="2.46" fill="#f8d68a"/><rect x="19.4" y="645.07" width="7.87" height="2.46" fill="#a9c6e3"/><rect x="27.22" y="645.07" width="7.87" height="2.46" fill="#e9efd7"/><rect x="35.04" y="645.07" width="7.87" height="2.46" fill="#a9c6e3"/><rect x="42.86" y="645.07" width="7.87" height="2.46" fill="#f4bf78"/><rect x="50.68" y="645.07" width="7.87" height="2.46" fill="#f9e4a2"/><rect x="58.5" y="645.07" width="7.87" height="2.46" fill="#f1a866"/><rect x="19.4" y="647.49" width="7.87" height="2.46" fill="#a9c6e3"/><rect x="27.22" y="647.49" width="7.87" height="2.46" fill="#e9efd7"/><rect x="35.04" y="647.49" width="7.87" height="2.46" fill="#a9c6e3"/><rect x="42.86" y="647.49" width="7.87" height="2.46" fill="#f4bf78"/><rect x="50.68" y="647.49" width="7.87" height="2.46" fill="#f9e4a2"/><rect x="58.5" y="647.49" width="7.87" height="2.46" fill="#f1a866"/><rect x="19.4" y="649.9" width="7.87" height="2.46" fill="#b5cfe7"/><rect x="27.22" y="649.9" width="7.87" height="2.46" fill="#b5cfe7"/><rect x="35.04" y="649.9" width="7.87" height="2.46" fill="#b5cfe7"/><rect x="42.86" y="649.9" width="7.87" height="2.46" fill="#f4bf78"/><rect x="50.68" y="649.9" width="7.87" height="2.46" fill="#f3b46f"/><rect x="58.5" y="649.9" width="7.87" height="2.46" fill="#f5c57c"/><rect x="19.4" y="652.32" width="7.87" height="2.46" fill="#bcd4e9"/><rect x="27.22" y="652.32" width="7.87" height="2.46" fill="#bcd4e9"/><rect x="35.04" y="652.32" width="7.87" height="2.46" fill="#bcd4e9"/><rect x="42.86" y="652.32" width="7.87" height="2.46" fill="#f4bf78"/><rect x="50.68" y="652.32" width="7.87" height="2.46" fill="#f4ba74"/><rect x="58.5" y="652.32" width="7.87" height="2.46" fill="#f4bf78"/><rect x="19.4" y="654.73" width="7.87" height="2.46" fill="#bcd4e9"/><rect x="27.22" y="654.73" width="7.87" height="2.46" fill="#bcd4e9"/><rect x="35.04" y="654.73" width="7.87" height="2.46" fill="#bcd4e9"/><rect x="42.86" y="654.73" width="7.87" height="2.46" fill="#f4bd76"/><rect x="50.68" y="654.73" width="7.87" height="2.46" fill="#f4bd76"/><rect x="58.5" y="654.73" width="7.87" height="2.46" fill="#f4bf78"/><rect x="19.4" y="657.14" width="7.87" height="2.46" fill="#bcd4e9"/><rect x="27.22" y="657.14" width="7.87" height="2.46" fill="#bcd4e9"/><rect x="35.04" y="657.14" width="7.87" height="2.46" fill="#bcd4e9"/><rect x="42.86" y="657.14" width="7.87" height="2.46" fill="#f4bd76"/><rect x="50.68" y="657.14" width="7.87" height="2.46" fill="#f4ba74"/><rect x="58.5" y="657.14" width="7.87" height="2.46" fill="#f4bf78"/><rect x="19.4" y="659.56" width="7.87" height="2.46" fill="#bcd4e9"/><rect x="27.22" y="659.56" width="7.87" height="2.46" fill="#bcd4e9"/><rect x="35.04" y="659.56" width="7.87" height="2.46" fill="#bcd4e9"/><rect x="42.86" y="659.56" width="7.87" height="2.46" fill="#f4bf78"/><rect x="50.68" y="659.56" width="7.87" height="2.46" fill="#f4bd76"/><rect x="58.5" y="659.56" width="7.87" height="2.46" fill="#f4bd76"/><rect x="19.4" y="661.97" width="7.87" height="2.46" fill="#bcd4e9"/><rect x="27.22" y="661.97" width="7.87" height="2.46" fill="#bcd4e9"/><rect x="35.04" y="661.97" width="7.87" height="2.46" fill="#bcd4e9"/><rect x="42.86" y="661.97" width="7.87" height="2.46" fill="#f4bd76"/><rect x="50.68" y="661.97" width="7.87" height="2.46" fill="#f4bf78"/><rect x="58.5" y="661.97" width="7.87" height="2.46" fill="#f4bf78"/><rect x="19.4" y="664.39" width="7.87" height="2.46" fill="#bcd4e9"/><rect x="27.22" y="664.39" width="7.87" height="2.46" fill="#bcd4e9"/><rect x="35.04" y="664.39" width="7.87" height="2.46" fill="#bcd4e9"/><rect x="42.86" y="664.39" width="7.87" height="2.46" fill="#f4bf78"/><rect x="50.68" y="664.39" width="7.87" height="2.46" fill="#f4bd76"/><rect x="58.5" y="664.39" width="7.87" height="2.46" fill="#f4bf78"/><line x1="20.2" y1="667.5" x2="41.8" y2="667.5" stroke="#222" stroke-width="0.9"/><line x1="43.6" y1="667.5" x2="65.7" y2="667.5" stroke="#222" stroke-width="0.9"/><text x="68.2" y="495.11" font-size="2.6" fill="#555" textLength="9" lengthAdjust="spacingAndGlyphs">Gpr183</text><text x="68.2" y="497.52" font-size="2.6" fill="#555" textLength="6" lengthAdjust="spacingAndGlyphs">Cd83</text><text x="68.2" y="499.93" font-size="2.6" fill="#555" textLength="6" lengthAdjust="spacingAndGlyphs">Ccr6</text><text x="68.2" y="502.35" font-size="2.6" fill="#555" textLength="9" lengthAdjust="spacingAndGlyphs">Fcer2a</text><text x="68.2" y="504.76" font-size="2.6" fill="#555" textLength="6" lengthAdjust="spacingAndGlyphs">Il9r</text><text x="68.2" y="507.18" font-size="2.6" fill="#555" textLength="7.5" lengthAdjust="spacingAndGlyphs">Rgs13</text><text x="68.2" y="509.59" font-size="2.6" fill="#555" textLength="6" lengthAdjust="spacingAndGlyphs">Lmo2</text><text x="68.2" y="512" font-size="2.6" fill="#555" textLength="7.5" lengthAdjust="spacingAndGlyphs">Mybl1</text><text x="68.2" y="514.42" font-size="2.6" fill="#555" textLength="6" lengthAdjust="spacingAndGlyphs">Bcl6</text><text x="68.2" y="516.83" font-size="2.6" fill="#555" textLength="7.5" lengthAdjust="spacingAndGlyphs">S1pr2</text><text x="68.2" y="519.25" font-size="2.6" fill="#555" textLength="7.5" lengthAdjust="spacingAndGlyphs">Aicda</text><text x="68.2" y="521.66" font-size="2.6" fill="#555" textLength="7.5" lengthAdjust="spacingAndGlyphs">Gcsam</text><text x="68.2" y="524.07" font-size="2.6" fill="#555" textLength="7.5" lengthAdjust="spacingAndGlyphs">Mef2b</text><text x="68.2" y="526.49" font-size="2.6" fill="#555" textLength="6" lengthAdjust="spacingAndGlyphs">Irf8</text><text x="68.2" y="528.9" font-size="2.6" fill="#555" textLength="10.5" lengthAdjust="spacingAndGlyphs">Pou2af1</text><text x="68.2" y="531.32" font-size="2.6" fill="#555" textLength="6" lengthAdjust="spacingAndGlyphs">Spib</text><text x="68.2" y="533.73" font-size="2.6" fill="#555" textLength="7.5" lengthAdjust="spacingAndGlyphs">Klhl6</text><text x="68.2" y="536.14" font-size="2.6" fill="#555" textLength="9" lengthAdjust="spacingAndGlyphs">Nfkbia</text><text x="68.2" y="538.56" font-size="2.6" fill="#555" textLength="6" lengthAdjust="spacingAndGlyphs">Ebi3</text><text x="68.2" y="540.97" font-size="2.6" fill="#555" textLength="6" lengthAdjust="spacingAndGlyphs">Cd40</text><text x="68.2" y="543.38" font-size="2.6" fill="#555" textLength="4.5" lengthAdjust="spacingAndGlyphs">Myc</text><text x="68.2" y="545.8" font-size="2.6" fill="#555" textLength="6" lengthAdjust="spacingAndGlyphs">Egr3</text><text x="68.2" y="548.21" font-size="2.6" fill="#555" textLength="7.5" lengthAdjust="spacingAndGlyphs">Ccl22</text><text x="68.2" y="550.63" font-size="2.6" fill="#555" textLength="7.5" lengthAdjust="spacingAndGlyphs">Bach2</text><text x="68.2" y="553.04" font-size="2.6" fill="#555" textLength="7.5" lengthAdjust="spacingAndGlyphs">Foxo1</text><text x="68.2" y="555.45" font-size="2.6" fill="#555" textLength="9" lengthAdjust="spacingAndGlyphs">H2-DMa</text><text x="68.2" y="557.87" font-size="2.6" fill="#555" textLength="7.5" lengthAdjust="spacingAndGlyphs">Ciita</text><text x="68.2" y="560.28" font-size="2.6" fill="#555" textLength="6" lengthAdjust="spacingAndGlyphs">Cd74</text><text x="68.2" y="562.7" font-size="2.6" fill="#555" textLength="7.5" lengthAdjust="spacingAndGlyphs">Il21r</text><text x="68.2" y="565.11" font-size="2.6" fill="#555" textLength="6" lengthAdjust="spacingAndGlyphs">Batf</text><text x="68.2" y="567.52" font-size="2.6" fill="#555" textLength="6" lengthAdjust="spacingAndGlyphs">Irf4</text><text x="68.2" y="569.94" font-size="2.6" fill="#555" textLength="7.5" lengthAdjust="spacingAndGlyphs">Prdm1</text><text x="68.2" y="572.35" font-size="2.6" fill="#555" textLength="9" lengthAdjust="spacingAndGlyphs">Gpr183</text><text x="68.2" y="574.77" font-size="2.6" fill="#555" textLength="6" lengthAdjust="spacingAndGlyphs">Cd83</text><text x="68.2" y="577.18" font-size="2.6" fill="#555" textLength="6" lengthAdjust="spacingAndGlyphs">Ccr6</text><text x="68.2" y="579.59" font-size="2.6" fill="#555" textLength="9" lengthAdjust="spacingAndGlyphs">Fcer2a</text><text x="68.2" y="582.01" font-size="2.6" fill="#555" textLength="6" lengthAdjust="spacingAndGlyphs">Il9r</text><text x="68.2" y="584.42" font-size="2.6" fill="#555" textLength="7.5" lengthAdjust="spacingAndGlyphs">Rgs13</text><text x="68.2" y="586.83" font-size="2.6" fill="#555" textLength="6" lengthAdjust="spacingAndGlyphs">Lmo2</text><text x="68.2" y="589.25" font-size="2.6" fill="#555" textLength="7.5" lengthAdjust="spacingAndGlyphs">Mybl1</text><text x="68.2" y="591.66" font-size="2.6" fill="#555" textLength="6" lengthAdjust="spacingAndGlyphs">Bcl6</text><text x="68.2" y="594.08" font-size="2.6" fill="#555" textLength="7.5" lengthAdjust="spacingAndGlyphs">S1pr2</text><text x="68.2" y="596.49" font-size="2.6" fill="#555" textLength="7.5" lengthAdjust="spacingAndGlyphs">Aicda</text><text x="68.2" y="598.9" font-size="2.6" fill="#555" textLength="7.5" lengthAdjust="spacingAndGlyphs">Gcsam</text><text x="68.2" y="601.32" font-size="2.6" fill="#555" textLength="7.5" lengthAdjust="spacingAndGlyphs">Mef2b</text><text x="68.2" y="603.73" font-size="2.6" fill="#555" textLength="6" lengthAdjust="spacingAndGlyphs">Irf8</text><text x="68.2" y="606.15" font-size="2.6" fill="#555" textLength="10.5" lengthAdjust="spacingAndGlyphs">Pou2af1</text><text x="68.2" y="608.56" font-size="2.6" fill="#555" textLength="6" lengthAdjust="spacingAndGlyphs">Spib</text><text x="68.2" y="610.97" font-size="2.6" fill="#555" textLength="7.5" lengthAdjust="spacingAndGlyphs">Klhl6</text><text x="68.2" y="613.39" font-size="2.6" fill="#555" textLength="9" lengthAdjust="spacingAndGlyphs">Nfkbia</text><text x="68.2" y="615.8" font-size="2.6" fill="#555" textLength="6" lengthAdjust="spacingAndGlyphs">Ebi3</text><text x="68.2" y="618.22" font-size="2.6" fill="#555" textLength="6" lengthAdjust="spacingAndGlyphs">Cd40</text><text x="68.2" y="620.63" font-size="2.6" fill="#555" textLength="4.5" lengthAdjust="spacingAndGlyphs">Myc</text><text x="68.2" y="623.04" font-size="2.6" fill="#555" textLength="6" lengthAdjust="spacingAndGlyphs">Egr3</text><text x="68.2" y="625.46" font-size="2.6" fill="#555" textLength="7.5" lengthAdjust="spacingAndGlyphs">Ccl22</text><text x="68.2" y="627.87" font-size="2.6" fill="#555" textLength="7.5" lengthAdjust="spacingAndGlyphs">Bach2</text><text x="68.2" y="630.28" font-size="2.6" fill="#555" textLength="7.5" lengthAdjust="spacingAndGlyphs">Foxo1</text><text x="68.2" y="632.7" font-size="2.6" fill="#555" textLength="9" lengthAdjust="spacingAndGlyphs">H2-DMa</text><text x="68.2" y="635.11" font-size="2.6" fill="#555" textLength="7.5" lengthAdjust="spacingAndGlyphs">Ciita</text><text x="68.2" y="637.53" font-size="2.6" fill="#555" textLength="6" lengthAdjust="spacingAndGlyphs">Cd74</text><text x="68.2" y="639.94" font-size="2.6" fill="#555" textLength="7.5" lengthAdjust="spacingAndGlyphs">Il21r</text><text x="68.2" y="642.35" font-size="2.6" fill="#555" textLength="6" lengthAdjust="spacingAndGlyphs">Batf</text><text x="68.2" y="644.77" font-size="2.6" fill="#555" textLength="6" lengthAdjust="spacingAndGlyphs">Irf4</text><text x="68.2" y="647.18" font-size="2.6" fill="#555" textLength="7.5" lengthAdjust="spacingAndGlyphs">Prdm1</text><text x="68.2" y="649.6" font-size="2.6" fill="#555" textLength="9" lengthAdjust="spacingAndGlyphs">Gpr183</text><text x="68.2" y="652.01" font-size="2.6" fill="#555" textLength="6" lengthAdjust="spacingAndGlyphs">Cd83</text><text x="68.2" y="654.42" font-size="2.6" fill="#555" textLength="6" lengthAdjust="spacingAndGlyphs">Ccr6</text><text x="68.2" y="656.84" font-size="2.6" fill="#555" textLength="9" lengthAdjust="spacingAndGlyphs">Fcer2a</text><text x="68.2" y="659.25" font-size="2.6" fill="#555" textLength="6" lengthAdjust="spacingAndGlyphs">Il9r</text><text x="68.2" y="661.67" font-size="2.6" fill="#555" textLength="7.5" lengthAdjust="spacingAndGlyphs">Rgs13</text><text x="68.2" y="664.08" font-size="2.6" fill="#555" textLength="6" lengthAdjust="spacingAndGlyphs">Lmo2</text><text x="68.2" y="666.49" font-size="2.6" fill="#555" textLength="7.5" lengthAdjust="spacingAndGlyphs">Mybl1</text><defs><linearGradient id="gH" x1="0" x2="0" y1="1" y2="0"><stop offset="0.000" stop-color="#3b5fab"/><stop offset="0.167" stop-color="#8fb3da"/><stop offset="0.333" stop-color="#cfe2f0"/><stop offset="0.500" stop-color="#fbf8c6"/><stop offset="0.667" stop-color="#f8d68a"/><stop offset="0.833" stop-color="#ef9d5d"/><stop offset="1.000" stop-color="#cd3b2b"/></linearGradient></defs><rect x="84.6" y="637.2" width="6.2" height="32" fill="url(#gH)" stroke="#888" stroke-width="0.4"/><text x="92.6" y="642.1" font-size="4.6" fill="#333" stroke="#333" stroke-width="0.13">1.5</text><text x="92.6" y="646.4" font-size="4.6" fill="#333" stroke="#333" stroke-width="0.13">1</text><text x="92.6" y="650.4" font-size="4.6" fill="#333" stroke="#333" stroke-width="0.13">0.5</text><text x="92.6" y="654.8" font-size="4.6" fill="#333" stroke="#333" stroke-width="0.13">0</text><text x="92.6" y="658.6" font-size="4.6" fill="#333" stroke="#333" stroke-width="0.13">-0.5</text><text x="92.6" y="662.8" font-size="4.6" fill="#333" stroke="#333" stroke-width="0.13">-1</text><text x="92.6" y="666.8" font-size="4.6" fill="#333" stroke="#333" stroke-width="0.13">-1.5</text><text x="25.3" y="681.4" font-size="7" fill="#333" stroke="#333" stroke-width="0.08" transform="rotate(-45 25.3 681.4)">WT</text><text x="34.6" y="699.5" font-size="7" fill="#333" stroke="#333" stroke-width="0.08" textLength="26" lengthAdjust="spacingAndGlyphs" transform="rotate(-45 34.6 699.5)">Pou2af1</text><text x="51.6" y="679.4" font-size="4" fill="#333" stroke="#333" stroke-width="0.11" textLength="9.4" lengthAdjust="spacingAndGlyphs" transform="rotate(-45 51.6 679.4)">ko/ko</text><line x1="156.4" y1="513.1" x2="156.4" y2="609.8" stroke="#111" stroke-width="1"/><line x1="155.9" y1="609.3" x2="219.4" y2="609.3" stroke="#111" stroke-width="1"/><line x1="153.9" y1="607.1" x2="156.4" y2="607.1" stroke="#111" stroke-width="0.8"/><text x="148.2" y="609.4" font-size="6.4" text-anchor="middle" fill="#222" stroke="#222" stroke-width="0.18">0</text><line x1="153.9" y1="590.4" x2="156.4" y2="590.4" stroke="#111" stroke-width="0.8"/><text x="148.2" y="592.7" font-size="6.4" text-anchor="middle" fill="#222" stroke="#222" stroke-width="0.18">2</text><line x1="153.9" y1="573.7" x2="156.4" y2="573.7" stroke="#111" stroke-width="0.8"/><text x="148.2" y="576" font-size="6.4" text-anchor="middle" fill="#222" stroke="#222" stroke-width="0.18">4</text><line x1="153.9" y1="557" x2="156.4" y2="557" stroke="#111" stroke-width="0.8"/><text x="148.2" y="559.3" font-size="6.4" text-anchor="middle" fill="#222" stroke="#222" stroke-width="0.18">6</text><line x1="153.9" y1="540.3" x2="156.4" y2="540.3" stroke="#111" stroke-width="0.8"/><text x="148.2" y="542.6" font-size="6.4" text-anchor="middle" fill="#222" stroke="#222" stroke-width="0.18">8</text><line x1="166.1" y1="609.3" x2="166.1" y2="612.3" stroke="#111" stroke-width="0.8"/><line x1="180.6" y1="609.3" x2="180.6" y2="612.3" stroke="#111" stroke-width="0.8"/><line x1="195.3" y1="609.3" x2="195.3" y2="612.3" stroke="#111" stroke-width="0.8"/><line x1="209.9" y1="609.3" x2="209.9" y2="612.3" stroke="#111" stroke-width="0.8"/><text x="130.6" y="605.8" font-size="7.8" fill="#222" stroke="#222" stroke-width="0.09" textLength="88.9" lengthAdjust="spacingAndGlyphs" transform="rotate(-90 130.6 605.8)">Percentage of GC population</text><text x="142.2" y="605.1" font-size="7.8" fill="#222" stroke="#222" stroke-width="0.09" textLength="88.6" lengthAdjust="spacingAndGlyphs" transform="rotate(-90 142.2 605.1)">post SRBC immunization (%)</text><line x1="160.2" y1="605.8" x2="171.5" y2="605.8" stroke="#444" stroke-width="1"/><circle cx="166.2" cy="606.4" r="0.7" fill="#222"/><line x1="175" y1="604.6" x2="186.3" y2="604.6" stroke="#444" stroke-width="1"/><rect x="177.5" y="604" width="6.2" height="1" fill="#666"/><line x1="195.3" y1="584.39" x2="195.3" y2="589.82" stroke="#555" stroke-width="0.7"/><line x1="195.3" y1="594.91" x2="195.3" y2="596.5" stroke="#555" stroke-width="0.7"/><line x1="192" y1="584.39" x2="198.6" y2="584.39" stroke="#555" stroke-width="0.7"/><line x1="192" y1="596.5" x2="198.6" y2="596.5" stroke="#555" stroke-width="0.7"/><rect x="189.8" y="589.82" width="11" height="5.09" fill="#b6d33a" stroke="#555" stroke-width="0.5"/><line x1="189.8" y1="592.07" x2="200.8" y2="592.07" stroke="#222" stroke-width="1.1"/><line x1="209.9" y1="526.52" x2="209.9" y2="534.87" stroke="#888" stroke-width="0.7"/><line x1="209.9" y1="549.49" x2="209.9" y2="553.66" stroke="#888" stroke-width="0.7"/><line x1="206.6" y1="526.52" x2="213.2" y2="526.52" stroke="#888" stroke-width="0.7"/><line x1="206.6" y1="553.66" x2="213.2" y2="553.66" stroke="#888" stroke-width="0.7"/><rect x="204.4" y="534.87" width="11" height="14.61" fill="#e6bcc3" stroke="#888" stroke-width="0.5"/><line x1="204.4" y1="546.98" x2="215.4" y2="546.98" stroke="#222" stroke-width="1.1"/><path d="M180.6 603.6V518.1H209.9V522.2" fill="none" stroke="#111" stroke-width="0.8"/><path d="M195.3 579.7V521.6H209.9V524.2" fill="none" stroke="#111" stroke-width="0.8"/><text x="171" y="552.5" font-size="5" fill="#222" stroke="#222" stroke-width="0.14" transform="rotate(-90 171 552.5)">***</text><text x="178.6" y="567.8" font-size="5.6" fill="#222" stroke="#222" stroke-width="0.16" textLength="35.6" lengthAdjust="spacingAndGlyphs" font-style="italic" transform="rotate(-90 178.6 567.8)">P = 0.0002525</text><text x="186.1" y="550.5" font-size="5" fill="#222" stroke="#222" stroke-width="0.14" transform="rotate(-90 186.1 550.5)">***</text><text x="193.3" y="567.8" font-size="5.6" fill="#222" stroke="#222" stroke-width="0.16" textLength="34.3" lengthAdjust="spacingAndGlyphs" font-style="italic" transform="rotate(-90 193.3 567.8)">P = 0.0002143</text><text x="142.5" y="621.6" font-size="6.3" fill="#222" stroke="#222" stroke-width="0.18" textLength="11.5" lengthAdjust="spacingAndGlyphs">PBS</text><text x="140" y="631.8" font-size="6.3" fill="#222" stroke="#222" stroke-width="0.18" textLength="16" lengthAdjust="spacingAndGlyphs">SRBC</text><text x="166.1" y="621.6" font-size="6.3" text-anchor="middle" fill="#222" stroke="#222" stroke-width="0.18">+</text><text x="180.6" y="621.6" font-size="6.3" text-anchor="middle" fill="#222" stroke="#222" stroke-width="0.18">-</text><text x="195.3" y="621.6" font-size="6.3" text-anchor="middle" fill="#222" stroke="#222" stroke-width="0.18">+</text><text x="209.9" y="621.6" font-size="6.3" text-anchor="middle" fill="#222" stroke="#222" stroke-width="0.18">-</text><text x="166.1" y="631.8" font-size="6.3" text-anchor="middle" fill="#222" stroke="#222" stroke-width="0.18">-</text><text x="180.6" y="631.8" font-size="6.3" text-anchor="middle" fill="#222" stroke="#222" stroke-width="0.18">+</text><text x="195.3" y="631.8" font-size="6.3" text-anchor="middle" fill="#222" stroke="#222" stroke-width="0.18">-</text><text x="209.9" y="631.8" font-size="6.3" text-anchor="middle" fill="#222" stroke="#222" stroke-width="0.18">+</text><line x1="163.7" y1="636.2" x2="182.9" y2="636.2" stroke="#222" stroke-width="0.8"/><line x1="193" y1="636.2" x2="212.7" y2="636.2" stroke="#222" stroke-width="0.8"/><text x="159.8" y="645.4" font-size="6.3" fill="#222" stroke="#222" stroke-width="0.18" textLength="26.9" lengthAdjust="spacingAndGlyphs">OBF1KO</text><text x="197.3" y="645.4" font-size="6.3" fill="#222" stroke="#222" stroke-width="0.18" textLength="10.6" lengthAdjust="spacingAndGlyphs">WT</text><path d="M270.2 506.3Q273 510.6 278.6 509.9" fill="none" stroke="#666" stroke-width="0.45"/><path d="M294 505.6L304 514.8L295 512.6Z" fill="#a9a9b0" stroke="#444" stroke-width="0.45"/><ellipse cx="287" cy="509.5" rx="9.0" ry="3.3" fill="#a9a9b0" stroke="#444" stroke-width="0.45"/><ellipse cx="295.2" cy="504.6" rx="1.7" ry="2.0" fill="#a9a9b0" stroke="#444" stroke-width="0.4"/><ellipse cx="298.4" cy="504.6" rx="1.7" ry="2.0" fill="#a9a9b0" stroke="#444" stroke-width="0.4"/><line x1="296.8" y1="506.2" x2="301.8" y2="512.8" stroke="#555" stroke-width="0.35"/><path d="M322.7 506.3Q325.5 510.6 331.1 509.9" fill="none" stroke="#666" stroke-width="0.45"/><path d="M346.5 505.6L356.5 514.8L347.5 512.6Z" fill="#a9a9b0" stroke="#444" stroke-width="0.45"/><ellipse cx="339.5" cy="509.5" rx="9.0" ry="3.3" fill="#a9a9b0" stroke="#444" stroke-width="0.45"/><ellipse cx="347.7" cy="504.6" rx="1.7" ry="2.0" fill="#a9a9b0" stroke="#444" stroke-width="0.4"/><ellipse cx="350.9" cy="504.6" rx="1.7" ry="2.0" fill="#a9a9b0" stroke="#444" stroke-width="0.4"/><line x1="349.3" y1="506.2" x2="354.3" y2="512.8" stroke="#555" stroke-width="0.35"/><rect x="337" y="508.3" width="3.8" height="1.1" fill="#c8253a"/><g transform="rotate(-33 280.9 501.7)"><rect x="279.6" y="497.6" width="2.6" height="8.2" fill="#b51c3c" stroke="#7a1026" stroke-width="0.3"/><line x1="280.9" y1="497.6" x2="280.9" y2="494.6" stroke="#333" stroke-width="0.6"/><line x1="279.4" y1="495.2" x2="282.4" y2="495.2" stroke="#333" stroke-width="0.5"/></g><text x="284.2" y="498.6" font-size="5.6" fill="#444" stroke="#444" stroke-width="0.16" textLength="24" lengthAdjust="spacingAndGlyphs">SRBC; i.p.</text><text x="284.2" y="522.4" font-size="5.6" fill="#333" stroke="#333" stroke-width="0.16" textLength="14.3" lengthAdjust="spacingAndGlyphs">Day 0</text><text x="329.2" y="498.6" font-size="5.6" fill="#444" stroke="#444" stroke-width="0.16" textLength="29.7" lengthAdjust="spacingAndGlyphs">GC induced</text><text x="338.9" y="522.4" font-size="5.6" fill="#333" stroke="#333" stroke-width="0.16" textLength="14.2" lengthAdjust="spacingAndGlyphs">Day 7</text><line x1="305.4" y1="508.8" x2="319" y2="508.8" stroke="#111" stroke-width="1"/><path d="M321.5 508.8L317.9 507V510.6Z" fill="#111"/><line x1="359.2" y1="508.3" x2="372.1" y2="508.3" stroke="#111" stroke-width="1"/><path d="M374.6 508.3L371 506.5V510.1Z" fill="#111"/><line x1="426.1" y1="508.6" x2="440.3" y2="508.6" stroke="#111" stroke-width="1"/><path d="M442.8 508.6L439.2 506.8V510.4Z" fill="#111"/><path d="M386.2 492.2V499.5L388.8 501.1M396.5 492.2V499.5L393.9 501.1" fill="none" stroke="#c8c8c8" stroke-width="0.6"/><rect x="379.1" y="501.8" width="8.9" height="14.5" fill="#6db9b6" stroke="#5aa8a5" stroke-width="0.3"/><rect x="395.1" y="501.8" width="8.6" height="14.5" fill="#6db9b6" stroke="#5aa8a5" stroke-width="0.3"/><rect x="388.8" y="501.1" width="5.1" height="15.7" fill="#8e8e8e"/><line x1="391.3" y1="501.1" x2="391.3" y2="516.8" stroke="#777" stroke-width="0.6"/><rect x="390.3" y="516.8" width="2.1" height="8.9" fill="#d9d9d9"/><text x="407.7" y="509.5" font-size="5.4" fill="#333" stroke="#333" stroke-width="0.15" textLength="16.1" lengthAdjust="spacingAndGlyphs">MACS</text><text x="407.7" y="516.6" font-size="5.4" fill="#333" stroke="#333" stroke-width="0.15" textLength="11" lengthAdjust="spacingAndGlyphs">PNA</text><text x="418.9" y="513.5" font-size="3" fill="#333" stroke="#333" stroke-width="0.08">+</text><text x="421.8" y="516.6" font-size="5.4" fill="#333" stroke="#333" stroke-width="0.15" textLength="15.2" lengthAdjust="spacingAndGlyphs">beads</text><text x="446.5" y="510.8" font-size="7.4" fill="#111" stroke="#111" stroke-width="0.09" textLength="38.9" lengthAdjust="spacingAndGlyphs">Bio-ChIP-seq</text><text x="285.8" y="541.1" font-size="6.4" fill="#111" stroke="#111" stroke-width="0.18" textLength="20.2" lengthAdjust="spacingAndGlyphs">100 kb</text><line x1="309.5" y1="538.5" x2="339.1" y2="538.5" stroke="#222" stroke-width="0.7"/><line x1="309.5" y1="537.4" x2="309.5" y2="539.6" stroke="#222" stroke-width="0.6"/><line x1="339.1" y1="537.4" x2="339.1" y2="539.6" stroke="#222" stroke-width="0.6"/><text x="341" y="541.1" font-size="6.4" fill="#111" stroke="#111" stroke-width="0.18" textLength="15.3" lengthAdjust="spacingAndGlyphs">mm9</text><text x="291.2" y="550.5" font-size="6.4" fill="#111" stroke="#111" stroke-width="0.18" textLength="19.3" lengthAdjust="spacingAndGlyphs" font-style="italic">Foxo1</text><line x1="312.7" y1="548.5" x2="337" y2="548.5" stroke="#111" stroke-width="0.7"/><path d="M312.7 548.5V545.9h-2.2" fill="none" stroke="#111" stroke-width="0.6"/><path d="M310.1 545.9l1.2 -0.9v1.8z" fill="#111"/><path d="M337 548.5l-1.8 -1.1v2.2z" fill="#111"/><text x="244.6" y="563.2" font-size="5.9" fill="#d94d98" stroke="#d94d98" stroke-width="0.17" textLength="22.3" lengthAdjust="spacingAndGlyphs">H3K27ac</text><text x="244.6" y="571.8" font-size="5.9" fill="#7d7dd0" stroke="#7d7dd0" stroke-width="0.17" textLength="13.4" lengthAdjust="spacingAndGlyphs">OBF1</text><text x="272" y="559.6" font-size="3.2" text-anchor="end" fill="#333" stroke="#333" stroke-width="0.09">291</text><text x="272" y="563.9" font-size="3.2" text-anchor="end" fill="#333" stroke="#333" stroke-width="0.09">0</text><text x="272" y="568.2" font-size="3.2" text-anchor="end" fill="#333" stroke="#333" stroke-width="0.09">200</text><text x="272" y="572.5" font-size="3.2" text-anchor="end" fill="#333" stroke="#333" stroke-width="0.09">0</text><line x1="273.6" y1="562.9" x2="373.3" y2="562.9" stroke="#e58fbe" stroke-width="0.6"/><path d="M273.6 562.9L273.6 562.9L274.7 562.9L275.0 562.8L275.4 562.8L275.7 562.7L276.1 562.7L276.4 562.7L276.8 562.6L277.1 562.6L277.5 562.6L277.8 562.7L278.2 562.7L278.5 562.6L278.9 562.5L279.2 562.4L279.6 562.3L279.9 562.1L280.3 562.3L280.6 562.7L281.0 562.7L281.3 562.8L281.7 562.8L282.0 562.8L282.4 562.9L284.8 562.9L285.2 562.8L285.5 562.7L285.9 562.8L286.2 562.8L286.6 562.9L291.8 562.9L292.2 562.5L292.5 562.1L292.9 562.5L293.2 562.9L295.0 562.9L295.3 562.8L295.7 562.6L296.0 562.6L296.4 562.8L296.7 562.9L297.8 562.9L298.1 562.6L298.5 562.5L298.8 562.8L299.2 562.9L299.5 562.8L299.9 562.8L300.2 562.9L302.3 562.9L302.7 562.8L303.0 562.7L303.4 562.6L303.7 562.6L304.1 562.6L304.4 562.7L304.8 562.8L305.1 562.9L310.7 562.9L311.1 562.8L311.4 562.7L311.8 562.3L312.1 561.4L312.5 560.1L312.8 560.0L313.2 561.4L313.5 562.3L313.9 562.3L314.2 562.0L314.6 561.8L314.9 561.7L315.3 561.6L315.6 561.7L316.0 561.8L316.3 561.9L316.7 562.2L317.0 562.5L317.4 562.7L317.7 562.8L318.1 562.9L319.5 562.9L319.8 562.8L320.2 562.7L320.5 562.6L320.9 562.6L321.2 562.8L321.6 562.9L321.9 562.8L322.3 562.8L322.6 562.7L323.0 562.7L323.3 562.7L323.7 562.7L324.0 562.7L324.4 562.7L324.7 562.4L325.1 562.1L325.4 562.0L325.8 562.2L326.1 562.5L326.5 562.6L326.8 562.6L327.2 562.4L327.5 562.4L327.9 562.5L328.2 562.7L328.6 562.9L332.4 562.9L332.8 562.7L333.1 562.5L333.5 562.6L333.8 562.8L334.2 562.9L334.9 562.9L335.2 562.8L335.6 562.7L335.9 562.7L336.3 562.8L336.6 562.9L339.1 562.9L339.4 562.8L339.8 562.6L340.1 562.5L340.5 562.6L340.8 562.6L341.2 562.6L341.5 562.6L341.9 562.7L342.2 562.7L342.6 562.7L342.9 562.8L343.3 562.8L343.6 562.8L344.0 562.7L344.3 562.8L344.7 562.9L348.2 562.9L348.5 562.8L348.9 562.3L349.2 560.9L349.6 558.8L349.9 557.5L350.3 558.0L350.6 559.4L351.0 560.4L351.3 560.9L351.7 561.3L352.0 561.8L352.4 562.2L352.7 562.5L353.1 562.7L353.4 562.8L353.8 562.9L356.2 562.9L356.6 562.8L356.9 562.6L357.3 562.5L357.6 562.5L358.0 562.7L358.3 562.8L358.7 562.9L362.2 562.9L362.5 562.5L362.9 561.1L363.2 559.3L363.6 559.4L363.9 561.2L364.3 562.4L364.6 562.8L365.0 562.7L365.3 562.3L365.7 562.6L366.0 562.9L367.1 562.9L367.4 562.8L367.8 562.6L368.1 562.1L368.5 561.1L368.8 560.8L369.2 561.6L369.5 562.2L369.9 562.4L370.2 562.5L370.6 562.5L370.9 562.4L371.3 562.3L371.6 562.5L372.0 562.8L372.3 562.9L373.0 562.9L373.3 562.9Z" fill="#c4237a"/><line x1="273.6" y1="571.5" x2="373.3" y2="571.5" stroke="#aaaae4" stroke-width="0.6"/><path d="M273.6 571.5L273.6 571.5L276.8 571.5L277.1 571.4L277.5 571.3L277.8 571.3L278.2 571.4L278.5 571.5L279.9 571.5L280.3 571.4L280.6 571.5L281.0 571.4L281.3 571.3L281.7 571.2L282.0 571.3L282.4 571.3L282.7 571.2L283.1 571.2L283.4 571.3L283.8 571.2L284.1 571.1L284.5 570.9L284.8 570.8L285.2 570.9L285.5 571.1L285.9 571.3L286.2 571.4L286.6 571.5L288.0 571.5L288.3 571.4L288.7 571.4L289.0 571.3L289.4 571.2L289.7 571.2L290.1 571.3L290.4 571.5L291.5 571.5L291.8 570.1L292.2 566.4L292.5 569.0L292.9 571.3L293.2 571.5L299.9 571.5L300.2 571.4L300.6 571.1L300.9 571.1L301.3 571.3L301.6 571.4L302.0 571.3L302.3 571.4L302.7 571.5L304.1 571.5L304.4 571.4L304.8 571.3L305.1 571.2L305.5 571.2L305.8 571.1L306.2 571.2L306.5 571.2L306.9 571.2L307.2 571.2L307.6 571.2L307.9 571.3L308.3 571.3L308.6 571.4L309.0 571.5L309.7 571.5L310.0 571.4L310.4 571.3L310.7 571.2L311.1 571.2L311.4 571.4L311.8 571.5L317.4 571.5L317.7 571.4L318.1 571.4L318.4 571.4L318.8 571.3L319.1 571.2L319.5 571.1L319.8 571.0L320.2 571.1L320.5 571.3L320.9 571.4L321.2 571.5L321.9 571.5L322.3 571.4L322.6 571.4L323.0 571.4L323.3 571.4L323.7 571.5L324.4 571.5L324.7 571.3L325.1 570.9L325.4 570.8L325.8 571.1L326.1 571.4L326.5 571.5L327.9 571.5L328.2 571.4L328.6 571.3L328.9 571.4L329.3 571.3L329.6 571.2L330.0 571.2L330.3 571.2L330.7 571.3L331.0 571.4L331.4 571.5L332.4 571.5L332.8 571.4L333.1 571.2L333.5 571.0L333.8 571.1L334.2 571.3L334.5 571.5L337.3 571.5L337.7 571.4L338.0 571.4L338.4 571.3L338.7 571.4L339.1 571.4L339.4 571.5L345.0 571.5L345.4 571.4L345.7 571.5L347.1 571.5L347.5 571.4L347.8 571.3L348.2 571.2L348.5 571.2L348.9 571.3L349.2 571.4L349.6 571.5L350.3 571.5L350.6 571.4L351.0 571.3L351.3 571.3L351.7 571.4L352.0 571.5L352.4 571.5L352.7 571.4L353.1 571.2L353.4 571.3L353.8 571.5L354.1 571.3L354.5 570.9L354.8 571.0L355.2 571.3L355.5 571.5L355.9 571.4L356.2 571.2L356.6 571.3L356.9 571.4L357.3 571.4L357.6 571.5L361.5 571.5L361.8 571.4L362.2 571.4L362.5 571.5L364.6 571.5L365.0 571.4L365.3 571.2L365.7 571.0L366.0 571.1L366.4 571.2L366.7 571.4L367.1 571.5L369.5 571.5L369.9 571.4L370.2 571.4L370.6 571.5L371.3 571.5L371.6 571.3L372.0 570.9L372.3 570.7L372.7 571.0L373.0 571.3L373.3 571.5Z" fill="#5d5cc4"/><text x="427.9" y="541.6" font-size="6.4" fill="#111" stroke="#111" stroke-width="0.18" textLength="15.4" lengthAdjust="spacingAndGlyphs">10 kb</text><line x1="446.8" y1="539.5" x2="478.3" y2="539.5" stroke="#222" stroke-width="0.7"/><line x1="446.8" y1="538.4" x2="446.8" y2="540.6" stroke="#222" stroke-width="0.6"/><line x1="478.3" y1="538.4" x2="478.3" y2="540.6" stroke="#222" stroke-width="0.6"/><text x="480.4" y="541.6" font-size="6.4" fill="#111" stroke="#111" stroke-width="0.18" textLength="15.4" lengthAdjust="spacingAndGlyphs">mm9</text><text x="417.7" y="551" font-size="6.4" fill="#111" stroke="#111" stroke-width="0.18" textLength="19.4" lengthAdjust="spacingAndGlyphs" font-style="italic">Mef2b</text><line x1="440.6" y1="548.5" x2="485" y2="548.5" stroke="#111" stroke-width="0.7"/><rect x="475.6" y="547.4" width="9.4" height="2.2" fill="#111"/><circle cx="466" cy="548.5" r="0.95" fill="#111"/><circle cx="469" cy="548.5" r="0.95" fill="#111"/><circle cx="472" cy="548.5" r="0.95" fill="#111"/><path d="M440.6 548.5V545.9h-2.2" fill="none" stroke="#111" stroke-width="0.6"/><path d="M438 545.9l1.2 -0.9v1.8z" fill="#111"/><text x="383.4" y="563.8" font-size="5.9" fill="#d94d98" stroke="#d94d98" stroke-width="0.17" textLength="22.3" lengthAdjust="spacingAndGlyphs">H3K27ac</text><text x="383.4" y="572" font-size="5.9" fill="#7d7dd0" stroke="#7d7dd0" stroke-width="0.17" textLength="13.4" lengthAdjust="spacingAndGlyphs">OBF1</text><text x="410.4" y="560.2" font-size="3.2" text-anchor="end" fill="#333" stroke="#333" stroke-width="0.09">312</text><text x="410.4" y="564.5" font-size="3.2" text-anchor="end" fill="#333" stroke="#333" stroke-width="0.09">0</text><text x="410.4" y="568.4" font-size="3.2" text-anchor="end" fill="#333" stroke="#333" stroke-width="0.09">109</text><text x="410.4" y="572.7" font-size="3.2" text-anchor="end" fill="#333" stroke="#333" stroke-width="0.09">0</text><line x1="412" y1="563.5" x2="512" y2="563.5" stroke="#e58fbe" stroke-width="0.6"/><path d="M412.0 563.5L412.0 563.5L412.4 563.4L412.7 563.3L413.1 563.2L413.4 563.2L413.8 563.4L414.1 563.5L414.8 563.5L415.2 563.2L415.5 562.8L415.9 562.5L416.2 562.7L416.6 563.0L416.9 563.3L417.3 563.4L417.6 563.5L418.0 563.5L418.3 563.4L418.7 563.1L419.0 562.5L419.4 562.5L419.7 563.0L420.1 563.4L420.4 563.5L422.9 563.5L423.2 563.4L423.6 563.4L423.9 563.5L426.0 563.5L426.4 563.4L426.7 563.4L427.1 563.5L427.4 563.5L427.8 563.3L428.1 563.1L428.5 563.4L428.8 563.5L429.9 563.5L430.2 563.4L430.6 563.2L430.9 562.6L431.3 561.8L431.6 562.1L432.0 563.0L432.3 563.3L432.7 563.5L436.2 563.5L436.5 563.3L436.9 562.8L437.2 562.1L437.6 562.0L437.9 562.7L438.3 563.3L438.6 563.5L440.0 563.5L440.4 563.4L440.7 563.1L441.1 562.6L441.4 562.0L441.8 561.7L442.1 562.0L442.5 562.8L442.8 563.2L443.2 563.3L443.5 563.2L443.9 563.1L444.2 563.1L444.6 563.1L444.9 563.2L445.3 563.4L445.6 563.5L447.0 563.5L447.4 563.4L447.7 563.2L448.1 563.0L448.4 563.0L448.8 563.1L449.1 563.3L449.5 563.3L449.8 563.1L450.2 562.8L450.5 562.6L450.9 562.5L451.2 562.2L451.6 562.0L451.9 561.8L452.3 561.8L452.6 561.8L453.0 561.8L453.3 561.6L453.7 561.2L454.0 560.9L454.4 560.7L454.7 560.5L455.1 560.4L455.4 560.5L455.8 560.7L456.1 561.0L456.5 561.5L456.8 562.0L457.2 562.4L457.5 562.6L457.9 562.3L458.2 561.5L458.6 560.3L458.9 559.0L459.3 558.1L459.6 557.9L460.0 558.5L460.3 559.5L460.7 560.5L461.0 561.0L461.4 560.9L461.7 560.2L462.1 559.3L462.4 558.3L462.8 557.5L463.1 557.3L463.5 557.6L463.8 558.6L464.2 559.7L464.5 560.4L464.9 560.6L465.2 560.3L465.6 559.8L465.9 559.4L466.3 559.6L466.6 560.4L467.0 561.5L467.3 562.3L467.7 562.8L468.0 563.0L468.4 563.0L468.7 562.7L469.1 562.4L469.4 562.1L469.8 562.1L470.1 562.2L470.5 562.4L470.8 562.5L471.2 562.7L471.5 562.9L471.9 562.7L472.2 562.0L472.6 562.5L472.9 563.3L473.3 563.4L473.6 563.2L474.0 562.5L474.3 562.0L474.7 562.5L475.0 563.3L475.4 563.5L478.2 563.5L478.5 563.4L478.9 563.3L479.2 563.2L479.6 563.2L479.9 563.3L480.3 563.4L480.6 563.5L481.3 563.5L481.7 563.4L482.0 563.2L482.4 563.0L482.7 562.9L483.1 563.0L483.4 563.2L483.8 563.4L484.1 563.4L484.5 563.2L484.8 562.8L485.2 562.7L485.5 563.1L485.9 563.4L486.2 563.5L486.9 563.5L487.3 563.4L487.6 563.2L488.0 563.3L488.3 563.5L488.7 563.5L489.0 563.3L489.4 563.2L489.7 563.3L490.1 563.3L490.4 563.2L490.8 563.3L491.1 563.4L491.5 563.5L491.8 563.5L492.2 563.4L492.5 563.2L492.9 563.1L493.2 563.2L493.6 563.3L493.9 563.4L494.3 563.4L494.6 563.2L495.0 563.1L495.3 563.0L495.7 563.1L496.0 563.2L496.4 563.0L496.7 562.2L497.1 561.5L497.4 561.6L497.8 562.4L498.1 563.1L498.5 563.4L498.8 563.5L500.9 563.5L501.3 563.4L501.6 563.3L502.0 563.4L502.3 563.4L502.7 563.4L503.0 563.5L504.1 563.5L504.4 563.4L504.8 562.8L505.1 561.9L505.5 561.8L505.8 562.1L506.2 562.4L506.5 562.7L506.9 562.9L507.2 563.1L507.6 563.3L507.9 563.3L508.3 563.4L508.6 563.5L511.8 563.5L512.0 563.5Z" fill="#c4237a"/><line x1="412" y1="571.7" x2="512" y2="571.7" stroke="#aaaae4" stroke-width="0.6"/><path d="M412.0 571.7L412.0 571.5L412.4 571.3L412.7 571.4L413.1 571.6L413.4 571.7L415.2 571.7L415.5 571.6L415.9 571.5L416.2 571.6L416.6 571.7L420.8 571.7L421.1 571.6L421.5 571.4L421.8 571.1L422.2 571.1L422.5 571.3L422.9 571.5L423.2 571.6L423.6 571.6L423.9 571.6L424.3 571.7L430.9 571.7L431.3 571.6L431.6 571.5L432.0 571.4L432.3 571.4L432.7 571.3L433.0 571.3L433.4 571.4L433.7 571.5L434.1 571.6L434.4 571.7L435.1 571.7L435.5 571.6L435.8 571.4L436.2 571.2L436.5 571.4L436.9 571.5L437.2 571.5L437.6 571.5L437.9 571.4L438.3 570.0L438.6 566.9L439.0 568.2L439.3 571.0L439.7 571.7L440.0 571.7L440.4 571.6L440.7 571.5L441.1 571.6L441.4 571.6L441.8 571.5L442.1 571.3L442.5 571.2L442.8 571.0L443.2 570.8L443.5 571.0L443.9 571.5L444.2 571.7L444.9 571.7L445.3 571.6L445.6 571.3L446.0 571.0L446.3 571.1L446.7 571.2L447.0 571.1L447.4 571.1L447.7 571.2L448.1 571.3L448.4 571.4L448.8 571.5L449.1 571.4L449.5 571.4L449.8 571.5L450.2 571.6L450.5 571.6L450.9 571.4L451.2 571.4L451.6 571.5L451.9 571.6L452.3 571.7L454.0 571.7L454.4 571.6L454.7 571.6L455.1 571.6L455.4 571.6L455.8 571.6L456.1 571.7L456.5 571.7L456.8 571.6L457.2 571.6L457.5 571.6L457.9 571.7L458.2 571.7L458.6 571.6L458.9 571.4L459.3 571.4L459.6 571.5L460.0 571.6L460.3 571.7L461.7 571.7L462.1 571.6L462.4 570.5L462.8 567.3L463.1 567.7L463.5 570.7L463.8 571.6L464.2 571.6L464.5 571.6L464.9 571.6L465.2 571.6L465.6 571.6L465.9 571.5L466.3 571.4L466.6 571.2L467.0 571.0L467.3 571.1L467.7 571.2L468.0 571.5L468.4 571.6L468.7 571.7L470.1 571.7L470.5 571.6L470.8 571.5L471.2 571.5L471.5 571.6L471.9 571.7L474.7 571.7L475.0 571.6L475.4 571.5L475.7 571.4L476.1 571.4L476.4 571.4L476.8 571.3L477.1 571.3L477.5 571.4L477.8 571.5L478.2 571.6L478.5 571.7L479.9 571.7L480.3 571.6L480.6 571.6L481.0 571.6L481.3 571.6L481.7 571.6L482.0 571.7L483.4 571.7L483.8 571.6L484.1 571.6L484.5 571.6L484.8 571.6L485.2 571.7L486.9 571.7L487.3 571.6L487.6 571.6L488.0 571.5L488.3 571.5L488.7 571.5L489.0 571.6L489.4 571.6L489.7 571.7L490.8 571.7L491.1 571.6L491.5 571.6L491.8 571.5L492.2 571.5L492.5 571.5L492.9 571.6L493.2 571.7L497.1 571.7L497.4 571.6L497.8 571.6L498.1 571.7L499.5 571.7L499.9 571.6L500.2 571.6L500.6 571.7L503.4 571.7L503.7 571.6L504.1 571.5L504.4 571.4L504.8 571.3L505.1 571.4L505.5 571.5L505.8 571.4L506.2 571.3L506.5 571.3L506.9 571.5L507.2 571.6L507.6 571.5L507.9 571.3L508.3 571.1L508.6 571.1L509.0 571.3L509.3 571.5L509.7 571.7L511.1 571.7L511.4 571.6L511.8 571.4L512.0 571.7Z" fill="#5d5cc4"/><text x="285.8" y="586.6" font-size="6.4" fill="#111" stroke="#111" stroke-width="0.18" textLength="20.2" lengthAdjust="spacingAndGlyphs">200 kb</text><line x1="309.5" y1="584.5" x2="339.6" y2="584.5" stroke="#222" stroke-width="0.7"/><line x1="309.5" y1="583.4" x2="309.5" y2="585.6" stroke="#222" stroke-width="0.6"/><line x1="339.6" y1="583.4" x2="339.6" y2="585.6" stroke="#222" stroke-width="0.6"/><text x="341.8" y="586.6" font-size="6.4" fill="#111" stroke="#111" stroke-width="0.18" textLength="14.5" lengthAdjust="spacingAndGlyphs">mm9</text><text x="281.2" y="596" font-size="6.4" fill="#111" stroke="#111" stroke-width="0.18" textLength="18.6" lengthAdjust="spacingAndGlyphs" font-style="italic">Bach2</text><line x1="302.5" y1="593.5" x2="350.4" y2="593.5" stroke="#111" stroke-width="0.7"/><circle cx="314.9" cy="593.5" r="0.95" fill="#111"/><circle cx="328.9" cy="593.5" r="0.95" fill="#111"/><circle cx="341.8" cy="593.5" r="0.95" fill="#111"/><path d="M302.5 593.5V590.9h2.2" fill="none" stroke="#111" stroke-width="0.6"/><path d="M305.1 590.9l-1.2 -0.9v1.8z" fill="#111"/><path d="M350.4 593.5l-1.8 -1.1v2.2z" fill="#111"/><text x="244.6" y="608.1" font-size="5.9" fill="#d94d98" stroke="#d94d98" stroke-width="0.17" textLength="22.3" lengthAdjust="spacingAndGlyphs">H3K27ac</text><text x="244.6" y="616.9" font-size="5.9" fill="#7d7dd0" stroke="#7d7dd0" stroke-width="0.17" textLength="13.4" lengthAdjust="spacingAndGlyphs">OBF1</text><text x="272" y="604.5" font-size="3.2" text-anchor="end" fill="#333" stroke="#333" stroke-width="0.09">201</text><text x="272" y="608.8" font-size="3.2" text-anchor="end" fill="#333" stroke="#333" stroke-width="0.09">0</text><text x="272" y="613.3" font-size="3.2" text-anchor="end" fill="#333" stroke="#333" stroke-width="0.09">179</text><text x="272" y="617.6" font-size="3.2" text-anchor="end" fill="#333" stroke="#333" stroke-width="0.09">0</text><line x1="273.6" y1="607.8" x2="373.3" y2="607.8" stroke="#e58fbe" stroke-width="0.6"/><path d="M273.6 607.8L273.6 607.8L276.1 607.8L276.4 607.7L276.8 607.6L277.1 607.6L277.5 607.6L277.8 607.6L278.2 607.6L278.5 607.7L278.9 607.7L279.2 607.8L279.6 607.7L279.9 607.7L280.3 607.7L280.6 607.7L281.0 607.7L281.3 607.8L282.0 607.8L282.4 607.7L282.7 607.8L284.5 607.8L284.8 607.6L285.2 607.3L285.5 607.0L285.9 607.1L286.2 607.4L286.6 607.7L286.9 607.8L288.3 607.8L288.7 607.7L289.0 607.6L289.4 607.6L289.7 607.6L290.1 607.7L290.4 607.5L290.8 606.0L291.1 604.0L291.5 604.7L291.8 606.8L292.2 607.6L292.5 607.5L292.9 607.5L293.2 607.5L293.6 607.4L293.9 607.4L294.3 607.5L294.6 607.7L295.0 607.7L295.3 607.7L295.7 607.5L296.0 607.3L296.4 607.3L296.7 607.5L297.1 607.7L297.4 607.8L297.8 607.8L298.1 607.7L298.5 607.5L298.8 606.9L299.2 605.6L299.5 604.7L299.9 605.7L300.2 607.1L300.6 607.7L300.9 607.6L301.3 607.1L301.6 605.6L302.0 604.2L302.3 605.0L302.7 606.8L303.0 607.6L303.4 607.6L303.7 606.9L304.1 605.3L304.4 604.4L304.8 605.6L305.1 607.0L305.5 607.5L305.8 607.5L306.2 607.5L306.5 607.6L306.9 607.6L307.2 607.7L307.6 607.7L307.9 607.7L308.3 607.7L308.6 607.8L309.0 607.7L309.3 607.7L309.7 607.8L311.8 607.8L312.1 607.6L312.5 607.6L312.8 607.8L314.2 607.8L314.6 607.7L314.9 607.6L315.3 607.5L315.6 607.4L316.0 607.5L316.3 607.6L316.7 607.7L317.0 607.8L317.4 607.7L317.7 607.5L318.1 607.2L318.4 606.9L318.8 606.9L319.1 607.1L319.5 607.3L319.8 607.6L320.2 607.7L320.5 607.8L321.2 607.8L321.6 607.7L321.9 607.5L322.3 607.3L322.6 607.3L323.0 607.4L323.3 607.2L323.7 607.0L324.0 606.9L324.4 607.1L324.7 607.3L325.1 607.6L325.4 607.7L325.8 607.8L342.2 607.8L342.6 607.7L342.9 607.6L343.3 607.6L343.6 607.6L344.0 607.7L344.3 607.7L344.7 607.8L346.8 607.8L347.1 607.7L347.5 607.8L353.8 607.8L354.1 607.6L354.5 607.6L354.8 607.8L355.5 607.8L355.9 607.7L356.2 607.5L356.6 607.3L356.9 607.5L357.3 607.7L357.6 607.5L358.0 606.8L358.3 605.7L358.7 605.5L359.0 606.5L359.4 607.2L359.7 607.6L360.1 607.7L360.4 607.7L360.8 607.5L361.1 607.5L361.5 607.6L361.8 607.5L362.2 607.3L362.5 607.4L362.9 607.6L363.2 607.6L363.6 607.4L363.9 606.9L364.3 606.1L364.6 606.2L365.0 607.0L365.3 607.3L365.7 607.4L366.0 607.6L366.4 607.8L366.7 607.8L367.1 607.7L367.4 607.7L367.8 607.7L368.1 607.7L368.5 607.7L368.8 607.6L369.2 607.2L369.5 606.8L369.9 606.9L370.2 607.3L370.6 607.6L370.9 607.6L371.3 607.6L371.6 607.7L372.0 607.7L372.3 607.7L372.7 607.6L373.0 607.6L373.3 607.8Z" fill="#c4237a"/><line x1="273.6" y1="616.6" x2="373.3" y2="616.6" stroke="#aaaae4" stroke-width="0.6"/><path d="M273.6 616.6L273.6 616.6L286.9 616.6L287.3 616.5L287.6 616.4L288.0 616.4L288.3 616.5L288.7 616.3L289.0 615.9L289.4 615.9L289.7 616.3L290.1 616.5L290.4 616.5L290.8 615.9L291.1 613.7L291.5 614.6L291.8 616.3L292.2 616.5L292.5 616.5L292.9 616.6L296.0 616.6L296.4 616.5L296.7 616.5L297.1 616.4L297.4 616.3L297.8 616.3L298.1 616.3L298.5 616.5L298.8 616.5L299.2 616.6L299.9 616.6L300.2 616.5L300.6 616.5L300.9 616.1L301.3 614.0L301.6 614.3L302.0 616.3L302.3 616.6L302.7 616.5L303.0 615.4L303.4 614.1L303.7 615.9L304.1 616.5L304.4 616.3L304.8 616.5L305.1 616.6L306.5 616.6L306.9 616.3L307.2 616.0L307.6 616.0L307.9 616.3L308.3 616.5L308.6 616.6L309.0 616.6L309.3 616.5L309.7 616.6L312.5 616.6L312.8 616.5L313.2 616.3L313.5 616.0L313.9 616.0L314.2 616.2L314.6 616.4L314.9 616.6L315.3 616.6L315.6 616.5L316.0 616.5L316.3 616.5L316.7 616.6L320.2 616.6L320.5 616.4L320.9 616.1L321.2 616.1L321.6 616.4L321.9 616.5L322.3 616.4L322.6 616.3L323.0 616.3L323.3 616.3L323.7 616.5L324.0 616.6L325.1 616.6L325.4 616.5L325.8 616.5L326.1 616.5L326.5 616.5L326.8 616.3L327.2 616.2L327.5 616.3L327.9 616.3L328.2 616.4L328.6 616.3L328.9 616.1L329.3 615.9L329.6 615.8L330.0 616.0L330.3 616.2L330.7 616.3L331.0 616.3L331.4 616.2L331.7 616.2L332.1 616.3L332.4 616.4L332.8 616.5L333.1 616.6L334.2 616.6L334.5 616.5L334.9 616.5L335.2 616.5L335.6 616.6L338.0 616.6L338.4 616.5L338.7 616.3L339.1 616.1L339.4 616.2L339.8 616.5L340.1 616.6L344.7 616.6L345.0 616.5L345.4 616.3L345.7 616.4L346.1 616.6L347.5 616.6L347.8 616.4L348.2 616.3L348.5 616.4L348.9 616.5L349.2 616.6L353.1 616.6L353.4 616.5L353.8 616.5L354.1 616.6L354.5 616.6L354.8 616.5L355.2 616.4L355.5 616.3L355.9 616.4L356.2 616.5L356.6 616.6L359.7 616.6L360.1 616.5L360.4 616.4L360.8 616.3L361.1 616.5L361.5 616.5L361.8 616.4L362.2 616.4L362.5 616.4L362.9 616.3L363.2 616.2L363.6 616.3L363.9 616.5L364.3 616.6L365.3 616.6L365.7 616.5L366.0 616.5L366.4 616.5L366.7 616.5L367.1 616.5L367.4 616.6L368.8 616.6L369.2 616.5L369.5 616.5L369.9 616.6L370.6 616.6L370.9 616.4L371.3 615.9L371.6 615.9L372.0 616.4L372.3 616.6L373.0 616.6L373.3 616.6Z" fill="#5d5cc4"/><text x="429.8" y="586.1" font-size="6.4" fill="#111" stroke="#111" stroke-width="0.18" textLength="13.5" lengthAdjust="spacingAndGlyphs">5 kb</text><line x1="446.8" y1="583.5" x2="478.3" y2="583.5" stroke="#222" stroke-width="0.7"/><line x1="446.8" y1="582.4" x2="446.8" y2="584.6" stroke="#222" stroke-width="0.6"/><line x1="478.3" y1="582.4" x2="478.3" y2="584.6" stroke="#222" stroke-width="0.6"/><text x="480.4" y="586.1" font-size="6.4" fill="#111" stroke="#111" stroke-width="0.18" textLength="15.4" lengthAdjust="spacingAndGlyphs">mm9</text><text x="437.1" y="595.5" font-size="6.4" fill="#111" stroke="#111" stroke-width="0.18" textLength="14.3" lengthAdjust="spacingAndGlyphs" font-style="italic">Egr3</text><line x1="454" y1="593.5" x2="470.2" y2="593.5" stroke="#111" stroke-width="0.7"/><rect x="462.1" y="592.4" width="8.1" height="2.2" fill="#111"/><path d="M454 593.5V590.9h2.2" fill="none" stroke="#111" stroke-width="0.6"/><path d="M456.6 590.9l-1.2 -0.9v1.8z" fill="#111"/><text x="383.4" y="608.1" font-size="5.9" fill="#d94d98" stroke="#d94d98" stroke-width="0.17" textLength="22.3" lengthAdjust="spacingAndGlyphs">H3K27ac</text><text x="383.4" y="616.9" font-size="5.9" fill="#7d7dd0" stroke="#7d7dd0" stroke-width="0.17" textLength="13.4" lengthAdjust="spacingAndGlyphs">OBF1</text><text x="410.4" y="604.5" font-size="3.2" text-anchor="end" fill="#333" stroke="#333" stroke-width="0.09">136</text><text x="410.4" y="608.8" font-size="3.2" text-anchor="end" fill="#333" stroke="#333" stroke-width="0.09">0</text><text x="410.4" y="613.3" font-size="3.2" text-anchor="end" fill="#333" stroke="#333" stroke-width="0.09">255</text><text x="410.4" y="617.6" font-size="3.2" text-anchor="end" fill="#333" stroke="#333" stroke-width="0.09">0</text><line x1="412" y1="607.8" x2="512" y2="607.8" stroke="#e58fbe" stroke-width="0.6"/><path d="M412.0 607.8L412.0 607.8L412.7 607.8L413.1 607.7L413.4 607.5L413.8 607.1L414.1 607.1L414.5 607.4L414.8 607.6L415.2 607.6L415.5 607.7L415.9 607.8L421.5 607.8L421.8 607.7L422.2 607.6L422.5 607.5L422.9 607.5L423.2 607.5L423.6 607.6L423.9 607.6L424.3 607.6L424.6 607.7L425.0 607.8L425.3 607.7L425.7 607.7L426.0 607.6L426.4 607.7L426.7 607.7L427.1 607.6L427.4 607.6L427.8 607.3L428.1 607.0L428.5 606.8L428.8 606.8L429.2 607.0L429.5 607.3L429.9 607.6L430.2 607.7L430.6 607.8L431.3 607.8L431.6 607.6L432.0 607.4L432.3 606.9L432.7 606.4L433.0 605.7L433.4 604.9L433.7 604.0L434.1 603.2L434.4 602.8L434.8 602.9L435.1 603.5L435.5 604.4L435.8 605.0L436.2 605.1L436.5 604.5L436.9 603.6L437.2 603.3L437.6 603.4L437.9 603.8L438.3 604.7L438.6 605.5L439.0 606.1L439.3 606.3L439.7 606.0L440.0 605.5L440.4 605.4L440.7 605.5L441.1 605.6L441.4 605.8L441.8 605.9L442.1 606.0L442.5 606.1L442.8 606.2L443.2 606.3L443.5 606.5L443.9 606.6L444.2 606.7L444.6 606.7L444.9 606.7L445.3 606.7L445.6 606.8L446.0 606.9L446.3 607.0L446.7 607.1L447.0 607.2L447.4 607.2L447.7 607.2L448.1 607.2L448.4 607.3L448.8 607.5L449.1 607.7L449.5 607.8L451.2 607.8L451.6 607.7L451.9 607.8L454.4 607.8L454.7 607.7L455.1 607.6L455.4 607.4L455.8 607.2L456.1 607.2L456.5 607.4L456.8 607.6L457.2 607.7L457.5 607.7L457.9 607.6L458.2 607.7L458.6 607.8L459.6 607.8L460.0 607.7L460.3 607.6L460.7 607.6L461.0 607.5L461.4 607.6L461.7 607.6L462.1 607.7L462.4 607.6L462.8 607.6L463.1 607.6L463.5 607.6L463.8 607.7L464.2 607.7L464.5 607.7L464.9 607.7L465.2 607.8L465.9 607.8L466.3 607.7L466.6 607.5L467.0 607.3L467.3 607.3L467.7 607.4L468.0 607.6L468.4 607.7L468.7 607.7L469.1 607.5L469.4 607.4L469.8 607.5L470.1 607.7L470.5 607.8L471.2 607.8L471.5 607.7L471.9 607.7L472.2 607.7L472.6 607.6L472.9 607.5L473.3 607.3L473.6 607.1L474.0 607.1L474.3 607.2L474.7 607.5L475.0 607.7L475.4 607.8L475.7 607.7L476.1 607.6L476.4 607.6L476.8 607.7L477.1 607.8L480.3 607.8L480.6 607.7L481.0 607.7L481.3 607.7L481.7 607.6L482.0 607.5L482.4 607.4L482.7 607.5L483.1 607.7L483.4 607.7L483.8 607.8L486.9 607.8L487.3 607.7L487.6 607.5L488.0 607.4L488.3 607.6L488.7 607.8L489.0 607.8L489.4 607.7L489.7 607.7L490.1 607.6L490.4 607.6L490.8 607.5L491.1 607.4L491.5 607.3L491.8 607.3L492.2 607.5L492.5 607.6L492.9 607.7L493.2 607.8L498.1 607.8L498.5 607.7L498.8 607.6L499.2 607.6L499.5 607.7L499.9 607.8L500.6 607.8L500.9 607.7L501.3 607.5L501.6 607.2L502.0 607.0L502.3 606.9L502.7 607.0L503.0 607.3L503.4 607.5L503.7 607.7L504.1 607.8L509.3 607.8L509.7 607.7L510.0 607.7L510.4 607.7L510.7 607.8L511.8 607.8L512.0 607.8Z" fill="#c4237a"/><line x1="412" y1="616.6" x2="512" y2="616.6" stroke="#aaaae4" stroke-width="0.6"/><path d="M412.0 616.6L412.0 616.3L412.4 616.3L412.7 616.3L413.1 616.3L413.4 616.4L413.8 616.6L416.9 616.6L417.3 616.4L417.6 616.2L418.0 616.0L418.3 616.1L418.7 616.3L419.0 616.5L419.4 616.6L421.1 616.6L421.5 616.5L421.8 616.2L422.2 616.1L422.5 616.2L422.9 616.4L423.2 616.5L423.6 616.6L423.9 616.5L424.3 616.5L424.6 616.4L425.0 616.2L425.3 616.1L425.7 616.1L426.0 616.3L426.4 616.4L426.7 616.5L427.1 616.6L432.7 616.6L433.0 616.5L433.4 616.4L433.7 616.3L434.1 616.4L434.4 616.5L434.8 616.5L435.1 616.3L435.5 616.3L435.8 616.4L436.2 616.2L436.5 615.2L436.9 613.3L437.2 611.7L437.6 612.2L437.9 614.1L438.3 615.7L438.6 616.3L439.0 616.6L440.4 616.6L440.7 616.5L441.1 616.5L441.4 616.4L441.8 616.4L442.1 616.4L442.5 616.5L442.8 616.5L443.2 616.5L443.5 616.5L443.9 616.5L444.2 616.5L444.6 616.6L448.4 616.6L448.8 616.5L449.1 616.5L449.5 616.5L449.8 616.5L450.2 616.6L451.2 616.6L451.6 616.5L451.9 616.4L452.3 616.4L452.6 616.4L453.0 616.5L453.3 616.5L453.7 616.6L454.4 616.6L454.7 616.5L455.1 616.3L455.4 616.2L455.8 616.2L456.1 616.4L456.5 616.5L456.8 616.6L459.6 616.6L460.0 616.5L460.3 616.4L460.7 616.2L461.0 615.9L461.4 616.1L461.7 616.4L462.1 616.4L462.4 616.1L462.8 616.2L463.1 616.5L463.5 616.6L463.8 616.5L464.2 616.4L464.5 616.4L464.9 616.4L465.2 616.6L471.9 616.6L472.2 616.4L472.6 616.3L472.9 616.5L473.3 616.6L473.6 616.6L474.0 616.5L474.3 616.3L474.7 616.3L475.0 616.4L475.4 615.9L475.7 616.0L476.1 616.4L476.4 616.6L476.8 616.5L477.1 616.5L477.5 616.4L477.8 616.4L478.2 616.4L478.5 616.5L478.9 616.6L479.9 616.6L480.3 616.5L480.6 616.5L481.0 616.4L481.3 616.5L481.7 616.6L483.8 616.6L484.1 616.5L484.5 616.4L484.8 616.2L485.2 615.9L485.5 615.9L485.9 616.1L486.2 616.4L486.6 616.6L489.0 616.6L489.4 616.5L489.7 616.4L490.1 616.4L490.4 616.5L490.8 616.3L491.1 616.2L491.5 616.2L491.8 616.2L492.2 616.3L492.5 616.5L492.9 616.5L493.2 616.4L493.6 616.3L493.9 616.3L494.3 616.5L494.6 616.6L498.8 616.6L499.2 616.5L499.5 616.4L499.9 616.3L500.2 616.2L500.6 616.2L500.9 616.3L501.3 616.5L501.6 616.6L503.4 616.6L503.7 616.5L504.1 616.5L504.4 616.5L504.8 616.6L506.9 616.6L507.2 616.5L507.6 616.6L508.3 616.6L508.6 616.5L509.0 616.5L509.3 616.5L509.7 616.6L510.0 616.5L510.4 616.4L510.7 616.3L511.1 616.3L511.4 616.4L511.8 616.5L512.0 616.6Z" fill="#5d5cc4"/><text x="291.7" y="631.6" font-size="6.4" fill="#111" stroke="#111" stroke-width="0.18" textLength="12.9" lengthAdjust="spacingAndGlyphs">5 kb</text><line x1="307.3" y1="629.5" x2="340.2" y2="629.5" stroke="#222" stroke-width="0.7"/><line x1="307.3" y1="628.4" x2="307.3" y2="630.6" stroke="#222" stroke-width="0.6"/><line x1="340.2" y1="628.4" x2="340.2" y2="630.6" stroke="#222" stroke-width="0.6"/><text x="342.9" y="631.6" font-size="6.4" fill="#111" stroke="#111" stroke-width="0.18" textLength="14.2" lengthAdjust="spacingAndGlyphs">mm9</text><text x="270.2" y="641" font-size="6.4" fill="#111" stroke="#111" stroke-width="0.18" textLength="18.3" lengthAdjust="spacingAndGlyphs" font-style="italic">Aicda</text><line x1="290.6" y1="638.5" x2="357.1" y2="638.5" stroke="#111" stroke-width="0.7"/><rect x="346.4" y="637.4" width="10.7" height="2.2" fill="#111"/><circle cx="326.7" cy="638.5" r="0.95" fill="#111"/><circle cx="337.5" cy="638.5" r="0.95" fill="#111"/><circle cx="342.3" cy="638.5" r="0.95" fill="#111"/><path d="M290.6 638.5V635.9h2.2" fill="none" stroke="#111" stroke-width="0.6"/><path d="M293.2 635.9l-1.2 -0.9v1.8z" fill="#111"/><text x="244.6" y="653.1" font-size="5.9" fill="#d94d98" stroke="#d94d98" stroke-width="0.17" textLength="22.3" lengthAdjust="spacingAndGlyphs">H3K27ac</text><text x="244.6" y="661.9" font-size="5.9" fill="#7d7dd0" stroke="#7d7dd0" stroke-width="0.17" textLength="13.4" lengthAdjust="spacingAndGlyphs">OBF1</text><text x="272" y="649.5" font-size="3.2" text-anchor="end" fill="#333" stroke="#333" stroke-width="0.09">360</text><text x="272" y="653.8" font-size="3.2" text-anchor="end" fill="#333" stroke="#333" stroke-width="0.09">0</text><text x="272" y="658.3" font-size="3.2" text-anchor="end" fill="#333" stroke="#333" stroke-width="0.09">130</text><text x="272" y="662.6" font-size="3.2" text-anchor="end" fill="#333" stroke="#333" stroke-width="0.09">0</text><line x1="273.6" y1="652.8" x2="373.3" y2="652.8" stroke="#e58fbe" stroke-width="0.6"/><path d="M273.6 652.8L273.6 652.8L274.0 652.7L274.3 652.7L274.7 652.7L275.0 652.8L278.2 652.8L278.5 652.7L278.9 652.6L279.2 652.6L279.6 652.5L279.9 652.5L280.3 652.4L280.6 652.5L281.0 652.5L281.3 652.5L281.7 652.4L282.0 652.3L282.4 652.4L282.7 652.5L283.1 652.5L283.4 652.5L283.8 652.5L284.1 652.4L284.5 652.1L284.8 651.7L285.2 651.6L285.5 651.3L285.9 650.9L286.2 650.4L286.6 649.9L286.9 649.6L287.3 649.3L287.6 649.2L288.0 649.2L288.3 649.3L288.7 649.4L289.0 649.5L289.4 649.3L289.7 648.9L290.1 648.4L290.4 647.8L290.8 647.3L291.1 647.2L291.5 647.5L291.8 648.2L292.2 649.0L292.5 649.8L292.9 650.5L293.2 651.0L293.6 651.3L293.9 651.3L294.3 651.0L294.6 650.7L295.0 650.3L295.3 650.0L295.7 649.6L296.0 649.3L296.4 649.2L296.7 649.3L297.1 649.5L297.4 649.7L297.8 649.8L298.1 649.9L298.5 650.0L298.8 650.0L299.2 650.1L299.5 650.1L299.9 650.1L300.2 650.0L300.6 649.6L300.9 649.2L301.3 648.8L301.6 648.6L302.0 648.5L302.3 648.7L302.7 649.2L303.0 649.8L303.4 650.5L303.7 650.9L304.1 651.1L304.4 651.1L304.8 650.9L305.1 650.5L305.5 650.1L305.8 649.8L306.2 649.8L306.5 650.1L306.9 650.7L307.2 651.2L307.6 651.6L307.9 651.4L308.3 650.6L308.6 649.2L309.0 647.6L309.3 646.4L309.7 646.3L310.0 647.3L310.4 649.0L310.7 650.6L311.1 651.7L311.4 652.2L311.8 652.3L312.1 652.1L312.5 652.1L312.8 652.4L313.2 652.7L313.5 652.8L314.2 652.8L314.6 652.6L314.9 652.4L315.3 652.4L315.6 652.6L316.0 652.8L319.1 652.8L319.5 652.6L319.8 652.3L320.2 652.3L320.5 652.5L320.9 652.6L321.2 652.4L321.6 652.3L321.9 652.2L322.3 652.2L322.6 652.3L323.0 652.5L323.3 652.5L323.7 652.5L324.0 652.7L324.4 652.8L335.2 652.8L335.6 652.7L335.9 652.7L336.3 652.6L336.6 652.7L337.0 652.8L338.7 652.8L339.1 652.7L339.4 652.5L339.8 652.4L340.1 652.4L340.5 652.4L340.8 652.6L341.2 652.7L341.5 652.8L342.2 652.8L342.6 652.7L342.9 652.7L343.3 652.6L343.6 652.5L344.0 652.5L344.3 652.5L344.7 652.5L345.0 652.6L345.4 652.7L345.7 652.8L346.8 652.8L347.1 652.7L347.5 652.6L347.8 652.6L348.2 652.8L349.6 652.8L349.9 652.5L350.3 652.1L350.6 652.1L351.0 652.4L351.3 652.7L351.7 652.7L352.0 652.8L352.7 652.8L353.1 652.7L353.4 652.5L353.8 652.3L354.1 652.2L354.5 652.2L354.8 652.3L355.2 652.5L355.5 652.7L355.9 652.8L356.2 652.8L356.6 652.7L356.9 652.5L357.3 652.2L357.6 652.3L358.0 652.7L358.3 652.8L359.4 652.8L359.7 652.7L360.1 652.6L360.4 652.6L360.8 652.6L361.1 652.6L361.5 652.7L361.8 652.7L362.2 652.7L362.5 652.8L362.9 652.7L363.2 652.7L363.6 652.6L363.9 652.6L364.3 652.6L364.6 652.8L365.7 652.8L366.0 652.7L366.4 652.6L366.7 652.6L367.1 652.6L367.4 652.7L367.8 652.8L370.2 652.8L370.6 652.7L370.9 652.7L371.3 652.8L373.0 652.8L373.3 652.8Z" fill="#c4237a"/><line x1="273.6" y1="661.6" x2="373.3" y2="661.6" stroke="#aaaae4" stroke-width="0.6"/><path d="M273.6 661.6L273.6 661.6L277.8 661.6L278.2 661.5L278.5 661.4L278.9 661.2L279.2 661.0L279.6 661.0L279.9 661.0L280.3 661.0L280.6 661.1L281.0 661.3L281.3 661.5L281.7 661.6L282.0 661.6L282.4 661.5L282.7 661.3L283.1 661.0L283.4 660.8L283.8 660.8L284.1 661.0L284.5 661.3L284.8 661.5L285.2 661.6L286.9 661.6L287.3 661.4L287.6 661.0L288.0 660.2L288.3 658.8L288.7 657.2L289.0 656.6L289.4 657.4L289.7 659.1L290.1 660.5L290.4 661.3L290.8 661.5L291.1 661.6L291.8 661.6L292.2 661.5L292.5 661.5L292.9 661.5L293.2 661.6L295.0 661.6L295.3 661.5L295.7 661.4L296.0 661.3L296.4 661.2L296.7 661.3L297.1 661.4L297.4 661.4L297.8 661.4L298.1 661.4L298.5 661.4L298.8 661.4L299.2 661.3L299.5 660.9L299.9 660.1L300.2 659.1L300.6 658.4L300.9 658.7L301.3 659.7L301.6 660.8L302.0 661.3L302.3 661.3L302.7 661.2L303.0 661.0L303.4 660.6L303.7 660.2L304.1 659.7L304.4 659.3L304.8 659.1L305.1 659.0L305.5 659.1L305.8 659.3L306.2 659.5L306.5 659.4L306.9 659.0L307.2 658.4L307.6 657.8L307.9 657.5L308.3 657.5L308.6 657.6L309.0 657.3L309.3 656.3L309.7 655.5L310.0 655.9L310.4 657.3L310.7 658.4L311.1 658.3L311.4 658.0L311.8 658.4L312.1 659.6L312.5 660.7L312.8 661.3L313.2 661.5L313.5 661.6L314.6 661.6L314.9 661.4L315.3 661.3L315.6 661.3L316.0 661.5L316.3 661.6L316.7 661.5L317.0 661.4L317.4 661.3L317.7 661.3L318.1 661.3L318.4 661.4L318.8 661.4L319.1 661.5L319.5 661.5L319.8 661.4L320.2 661.4L320.5 661.4L320.9 661.4L321.2 661.3L321.6 661.3L321.9 661.3L322.3 661.3L322.6 661.4L323.0 661.5L323.3 661.6L324.7 661.6L325.1 661.5L325.4 661.5L325.8 661.6L328.9 661.6L329.3 661.5L329.6 661.4L330.0 661.3L330.3 661.2L330.7 661.2L331.0 661.4L331.4 661.4L331.7 661.4L332.1 661.5L332.4 661.6L333.5 661.6L333.8 661.4L334.2 661.3L334.5 661.2L334.9 661.4L335.2 661.5L335.6 661.6L338.0 661.6L338.4 661.5L338.7 661.4L339.1 661.2L339.4 661.1L339.8 661.1L340.1 661.3L340.5 661.5L340.8 661.6L342.6 661.6L342.9 661.5L343.3 661.4L343.6 661.5L344.0 661.6L345.0 661.6L345.4 661.5L345.7 661.5L346.1 661.4L346.4 661.4L346.8 661.4L347.1 661.5L347.5 661.5L347.8 661.6L352.7 661.6L353.1 661.5L353.4 661.6L360.8 661.6L361.1 661.5L361.5 661.4L361.8 661.0L362.2 660.8L362.5 661.2L362.9 661.5L363.2 661.6L366.0 661.6L366.4 661.5L366.7 661.4L367.1 661.1L367.4 660.9L367.8 660.7L368.1 660.9L368.5 661.3L368.8 661.5L369.2 661.4L369.5 661.3L369.9 661.3L370.2 661.2L370.6 661.3L370.9 661.4L371.3 661.3L371.6 660.9L372.0 660.9L372.3 661.1L372.7 661.2L373.0 661.2L373.3 661.6Z" fill="#5d5cc4"/><text x="431.7" y="631.6" font-size="6.4" fill="#111" stroke="#111" stroke-width="0.18" textLength="17" lengthAdjust="spacingAndGlyphs">20 kb</text><line x1="451.4" y1="629.5" x2="472.9" y2="629.5" stroke="#222" stroke-width="0.7"/><line x1="451.4" y1="628.4" x2="451.4" y2="630.6" stroke="#222" stroke-width="0.6"/><line x1="472.9" y1="628.4" x2="472.9" y2="630.6" stroke="#222" stroke-width="0.6"/><text x="476.4" y="631.6" font-size="6.4" fill="#111" stroke="#111" stroke-width="0.18" textLength="14" lengthAdjust="spacingAndGlyphs" font-style="italic">mm9</text><text x="433.8" y="641" font-size="6.4" fill="#111" stroke="#111" stroke-width="0.18" textLength="13" lengthAdjust="spacingAndGlyphs" font-style="italic">Bcl6</text><line x1="449.5" y1="638.5" x2="474.8" y2="638.5" stroke="#111" stroke-width="0.7"/><circle cx="450.5" cy="638.5" r="0.95" fill="#111"/><circle cx="453" cy="638.5" r="0.95" fill="#111"/><circle cx="455.5" cy="638.5" r="0.95" fill="#111"/><circle cx="458" cy="638.5" r="0.95" fill="#111"/><circle cx="460.5" cy="638.5" r="0.95" fill="#111"/><path d="M474.8 638.5V635.9h-2.2" fill="none" stroke="#111" stroke-width="0.6"/><path d="M472.2 635.9l1.2 -0.9v1.8z" fill="#111"/><text x="383.4" y="653.1" font-size="5.9" fill="#d94d98" stroke="#d94d98" stroke-width="0.17" textLength="22.3" lengthAdjust="spacingAndGlyphs">H3K27ac</text><text x="383.4" y="661.9" font-size="5.9" fill="#7d7dd0" stroke="#7d7dd0" stroke-width="0.17" textLength="13.4" lengthAdjust="spacingAndGlyphs">OBF1</text><text x="410.4" y="649.5" font-size="3.2" text-anchor="end" fill="#333" stroke="#333" stroke-width="0.09">279</text><text x="410.4" y="653.8" font-size="3.2" text-anchor="end" fill="#333" stroke="#333" stroke-width="0.09">0</text><text x="410.4" y="658.3" font-size="3.2" text-anchor="end" fill="#333" stroke="#333" stroke-width="0.09">48</text><text x="410.4" y="662.6" font-size="3.2" text-anchor="end" fill="#333" stroke="#333" stroke-width="0.09">0</text><line x1="412" y1="652.8" x2="512" y2="652.8" stroke="#e58fbe" stroke-width="0.6"/><path d="M412.0 652.8L412.0 652.8L418.0 652.8L418.3 652.7L418.7 652.7L419.0 652.7L419.4 652.7L419.7 652.8L420.1 652.8L420.4 652.7L420.8 652.7L421.1 652.7L421.5 652.7L421.8 652.7L422.2 652.8L427.1 652.8L427.4 652.6L427.8 652.2L428.1 652.3L428.5 652.6L428.8 652.7L429.2 652.7L429.5 652.7L429.9 652.6L430.2 652.4L430.6 652.2L430.9 652.2L431.3 652.4L431.6 652.5L432.0 652.6L432.3 652.6L432.7 652.6L433.0 652.4L433.4 652.3L433.7 652.2L434.1 652.3L434.4 652.4L434.8 652.4L435.1 652.5L435.5 652.6L435.8 652.7L436.2 652.8L436.5 652.8L436.9 652.5L437.2 652.0L437.6 652.3L437.9 652.7L438.3 652.8L443.5 652.8L443.9 652.7L444.2 652.7L444.6 652.8L445.3 652.8L445.6 652.7L446.0 652.5L446.3 652.3L446.7 651.9L447.0 651.6L447.4 651.5L447.7 651.5L448.1 651.6L448.4 652.0L448.8 652.5L449.1 652.7L449.5 652.8L451.9 652.8L452.3 652.7L452.6 652.6L453.0 652.4L453.3 652.3L453.7 652.3L454.0 652.4L454.4 652.5L454.7 652.3L455.1 652.2L455.4 652.3L455.8 652.5L456.1 652.7L456.5 652.8L456.8 652.8L457.2 652.7L457.5 652.6L457.9 652.6L458.2 652.7L458.6 652.8L460.0 652.8L460.3 652.7L460.7 652.7L461.0 652.6L461.4 652.7L461.7 652.7L462.1 652.8L462.4 652.7L462.8 652.4L463.1 652.1L463.5 652.2L463.8 652.4L464.2 652.5L464.5 652.6L464.9 652.6L465.2 652.6L465.6 652.5L465.9 652.4L466.3 652.1L466.6 651.8L467.0 651.4L467.3 650.8L467.7 650.1L468.0 650.1L468.4 650.5L468.7 650.8L469.1 651.2L469.4 651.4L469.8 651.2L470.1 650.4L470.5 649.8L470.8 649.9L471.2 650.2L471.5 650.7L471.9 651.4L472.2 652.0L472.6 652.4L472.9 652.6L473.3 652.5L473.6 652.0L474.0 650.7L474.3 648.5L474.7 646.5L475.0 646.8L475.4 649.1L475.7 650.8L476.1 651.1L476.4 650.4L476.8 649.4L477.1 649.3L477.5 650.1L477.8 651.0L478.2 651.7L478.5 652.1L478.9 652.1L479.2 651.8L479.6 651.5L479.9 651.3L480.3 651.4L480.6 651.7L481.0 652.1L481.3 652.4L481.7 652.6L482.0 652.7L482.4 652.8L483.8 652.8L484.1 652.7L484.5 652.7L484.8 652.8L488.0 652.8L488.3 652.7L488.7 652.7L489.0 652.7L489.4 652.8L489.7 652.8L490.1 652.7L490.4 652.6L490.8 652.4L491.1 652.3L491.5 652.4L491.8 652.4L492.2 652.4L492.5 652.5L492.9 652.6L493.2 652.6L493.6 652.6L493.9 652.4L494.3 652.1L494.6 651.9L495.0 652.0L495.3 652.2L495.7 652.6L496.0 652.7L496.4 652.7L496.7 652.6L497.1 652.5L497.4 652.5L497.8 652.6L498.1 652.5L498.5 652.4L498.8 652.4L499.2 652.5L499.5 652.6L499.9 652.7L500.2 652.7L500.6 652.7L500.9 652.8L501.3 652.8L501.6 652.7L502.0 652.8L506.9 652.8L507.2 652.7L507.6 652.7L507.9 652.8L509.0 652.8L509.3 652.5L509.7 652.4L510.0 652.7L510.4 652.8L510.7 652.8L511.1 652.7L511.4 652.7L511.8 652.7L512.0 652.8Z" fill="#c4237a"/><line x1="412" y1="661.6" x2="512" y2="661.6" stroke="#aaaae4" stroke-width="0.6"/><path d="M412.0 661.6L412.0 661.6L412.4 661.6L412.7 661.5L413.1 661.5L413.4 661.3L413.8 660.8L414.1 660.2L414.5 660.2L414.8 660.8L415.2 661.3L415.5 661.5L415.9 661.6L416.2 661.5L416.6 661.5L416.9 661.6L420.4 661.6L420.8 661.5L421.1 661.1L421.5 660.7L421.8 660.7L422.2 661.1L422.5 661.4L422.9 661.6L424.3 661.6L424.6 661.5L425.0 661.5L425.3 661.5L425.7 661.6L426.0 661.6L426.4 661.5L426.7 661.2L427.1 660.8L427.4 660.8L427.8 661.1L428.1 661.4L428.5 661.5L428.8 661.4L429.2 661.4L429.5 661.3L429.9 661.3L430.2 661.4L430.6 661.5L430.9 661.6L431.3 661.6L431.6 661.5L432.0 661.5L432.3 661.5L432.7 661.5L433.0 661.6L434.1 661.6L434.4 661.5L434.8 661.4L435.1 661.5L435.5 661.5L435.8 661.6L437.2 661.6L437.6 661.5L437.9 661.3L438.3 661.2L438.6 661.1L439.0 661.0L439.3 660.9L439.7 660.5L440.0 660.2L440.4 660.2L440.7 660.7L441.1 661.2L441.4 661.3L441.8 660.5L442.1 660.2L442.5 661.1L442.8 661.6L443.2 661.6L443.5 661.5L443.9 661.5L444.2 661.5L444.6 661.6L444.9 661.5L445.3 661.5L445.6 661.6L446.0 661.5L446.3 661.4L446.7 660.7L447.0 659.9L447.4 660.3L447.7 660.7L448.1 660.8L448.4 660.8L448.8 660.6L449.1 660.5L449.5 660.4L449.8 659.5L450.2 659.6L450.5 661.0L450.9 661.5L451.2 661.6L452.3 661.6L452.6 661.5L453.0 661.6L454.7 661.6L455.1 661.5L455.4 661.2L455.8 660.3L456.1 660.0L456.5 661.0L456.8 661.5L457.2 661.6L457.5 661.5L457.9 661.4L458.2 661.4L458.6 661.4L458.9 661.4L459.3 661.4L459.6 661.4L460.0 661.5L460.3 661.4L460.7 661.1L461.0 660.9L461.4 660.7L461.7 659.7L462.1 659.0L462.4 660.5L462.8 661.4L463.1 661.4L463.5 661.3L463.8 661.2L464.2 661.2L464.5 661.4L464.9 661.6L465.2 661.5L465.6 660.9L465.9 659.7L466.3 660.2L466.6 661.3L467.0 661.4L467.3 661.3L467.7 661.0L468.0 661.0L468.4 661.3L468.7 661.4L469.1 661.3L469.4 660.8L469.8 658.8L470.1 657.7L470.5 659.5L470.8 660.8L471.2 661.2L471.5 661.4L471.9 661.5L472.2 661.6L472.9 661.6L473.3 661.5L473.6 660.6L474.0 659.1L474.3 660.1L474.7 661.4L475.0 661.6L475.7 661.6L476.1 661.5L476.4 661.4L476.8 661.5L477.1 661.5L477.5 661.2L477.8 659.8L478.2 659.3L478.5 660.2L478.9 660.4L479.2 660.6L479.6 661.0L479.9 661.3L480.3 661.4L480.6 661.5L481.0 661.6L481.3 661.6L481.7 661.5L482.0 661.4L482.4 661.1L482.7 659.8L483.1 658.8L483.4 659.9L483.8 660.5L484.1 660.8L484.5 661.2L484.8 661.4L485.2 661.6L485.5 661.6L485.9 661.4L486.2 661.2L486.6 661.0L486.9 661.3L487.3 661.4L487.6 661.0L488.0 659.8L488.3 659.3L488.7 659.8L489.0 660.0L489.4 660.1L489.7 660.3L490.1 660.7L490.4 661.1L490.8 661.4L491.1 661.6L491.5 661.6L491.8 661.5L492.2 661.3L492.5 661.1L492.9 661.3L493.2 661.5L493.6 661.6L493.9 661.5L494.3 660.9L494.6 660.3L495.0 660.8L495.3 661.4L495.7 661.5L496.0 661.6L496.7 661.6L497.1 661.5L497.4 661.5L497.8 661.6L506.9 661.6L507.2 661.5L507.6 661.4L507.9 661.2L508.3 661.1L508.6 661.3L509.0 661.4L509.3 661.5L509.7 661.6L510.0 661.6L510.4 661.5L510.7 661.3L511.1 661.2L511.4 661.2L511.8 661.3L512.0 661.6Z" fill="#5d5cc4"/>
<rect x="0.6" y="0.6" width="518.8" height="706.8" fill="none" stroke="#000" stroke-width="1.2"/>
</svg></body></html>
